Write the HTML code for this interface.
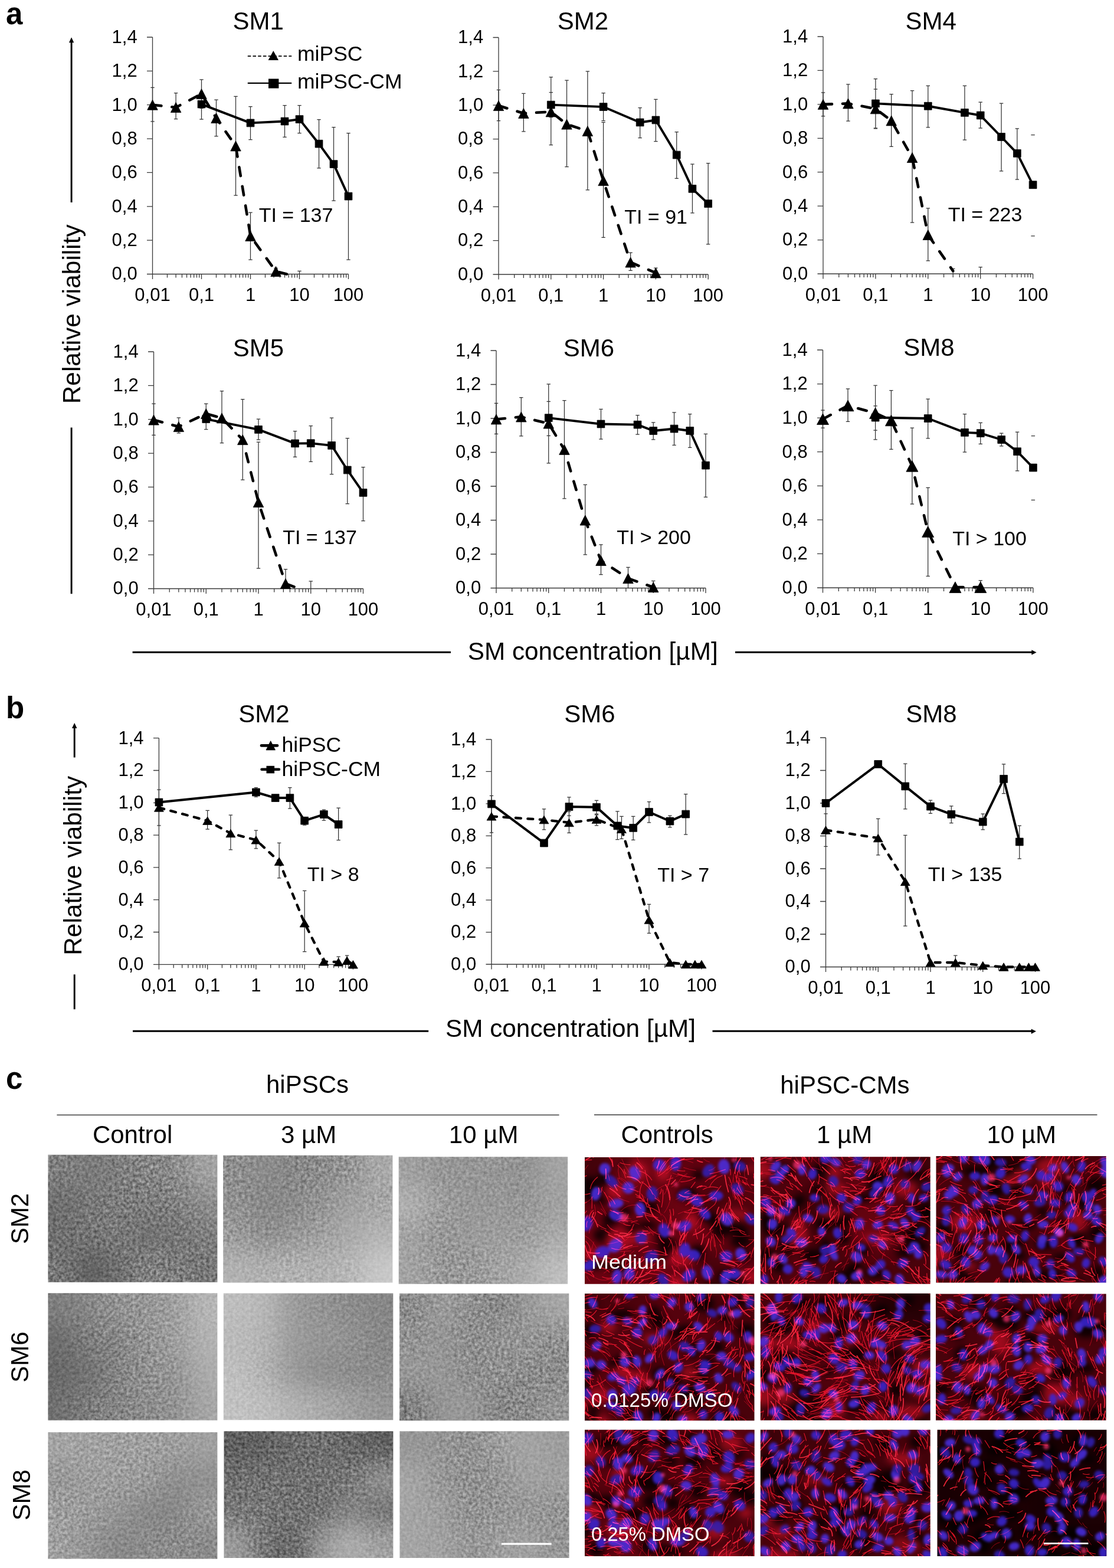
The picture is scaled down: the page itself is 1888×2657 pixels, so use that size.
<!DOCTYPE html>
<html><head><meta charset="utf-8"><title>Figure</title>
<style>html,body{margin:0;padding:0;background:#fff;overflow:hidden}svg{display:block}</style>
</head><body>
<svg xmlns="http://www.w3.org/2000/svg" width="1888" height="2657" viewBox="0 0 1888 2657">
<rect width="1888" height="2657" fill="#fff"/>
<g font-family="'Liberation Sans', Arial, sans-serif" fill="#000">
<path d="M258.5 63V464.5M258.5 464.5H590.5M249 464.5H258.5M249 407.14H258.5M249 349.79H258.5M249 292.43H258.5M249 235.07H258.5M249 177.71H258.5M249 120.36H258.5M249 63H258.5M258.5 464.5V473M283.49 464.5V470.5M298.1 464.5V470.5M308.47 464.5V470.5M316.51 464.5V470.5M323.09 464.5V470.5M328.64 464.5V470.5M333.46 464.5V470.5M337.7 464.5V470.5M341.5 464.5V473M366.49 464.5V470.5M381.1 464.5V470.5M391.47 464.5V470.5M399.51 464.5V470.5M406.09 464.5V470.5M411.64 464.5V470.5M416.46 464.5V470.5M420.7 464.5V470.5M424.5 464.5V473M449.49 464.5V470.5M464.1 464.5V470.5M474.47 464.5V470.5M482.51 464.5V470.5M489.09 464.5V470.5M494.64 464.5V470.5M499.46 464.5V470.5M503.7 464.5V470.5M507.5 464.5V473M532.49 464.5V470.5M547.1 464.5V470.5M557.47 464.5V470.5M565.51 464.5V470.5M572.09 464.5V470.5M577.64 464.5V470.5M582.46 464.5V470.5M586.7 464.5V470.5M590.5 464.5V473" stroke="#3a3a3a" stroke-width="1.3" fill="none"/>
<g font-size="31"><text x="232.7" y="474.3" text-anchor="end">0,0</text><text x="232.7" y="416.94" text-anchor="end">0,2</text><text x="232.7" y="359.59" text-anchor="end">0,4</text><text x="232.7" y="302.23" text-anchor="end">0,6</text><text x="232.7" y="244.87" text-anchor="end">0,8</text><text x="232.7" y="187.51" text-anchor="end">1,0</text><text x="232.7" y="130.16" text-anchor="end">1,2</text><text x="232.7" y="72.8" text-anchor="end">1,4</text><text x="258.5" y="510.3" text-anchor="middle">0,01</text><text x="341.5" y="510.3" text-anchor="middle">0,1</text><text x="424.5" y="510.3" text-anchor="middle">1</text><text x="507.5" y="510.3" text-anchor="middle">10</text><text x="590.5" y="510.3" text-anchor="middle">100</text></g>
<path d="M258.5 148.46V205.82M255.3 148.46h6.4M255.3 205.82h6.4M298.1 157.64V201.52M294.9 157.64h6.4M294.9 201.52h6.4M341.5 134.98V183.45M338.3 134.98h6.4M338.3 183.45h6.4M366.49 169.11V230.77M363.29 169.11h6.4M363.29 230.77h6.4M399.51 163.38V331.14M396.31 163.38h6.4M396.31 331.14h6.4M424.5 360.11V440.12M421.3 360.11h6.4M421.3 440.12h6.4M467.54 454.46V464.5M464.34 454.46h6.4M507.5 459.34V464.5M504.3 459.34h6.4M341.5 163.38V202.09M338.3 163.38h6.4M338.3 202.09h6.4M424.5 180.58V236.51M421.3 180.58h6.4M421.3 236.51h6.4M482.51 178.57V232.49M479.31 178.57h6.4M479.31 232.49h6.4M507.5 178.57V225.61M504.3 178.57h6.4M504.3 225.61h6.4M540.53 202.66V284.97M537.33 202.66h6.4M537.33 284.97h6.4M565.51 215.57V340.04M562.31 215.57h6.4M562.31 340.04h6.4M590.5 225.61V440.12M587.3 225.61h6.4M587.3 440.12h6.4" stroke="#333" stroke-width="1.25" fill="none"/>
<polyline points="258.5,177.71 298.1,182.02 341.5,159.07 366.49,200.08 399.51,247.4 424.5,399.97 467.54,459.91 485.95,464.5" fill="none" stroke="#000" stroke-width="4.6" stroke-dasharray="15 18" stroke-linecap="round" stroke-linejoin="round"/>
<polyline points="341.5,176.57 424.5,208.4 482.51,205.53 507.5,202.09 540.53,243.68 565.51,278.09 590.5,332.58" fill="none" stroke="#000" stroke-width="3.9" stroke-linejoin="round"/>
<path d="M258.5 169.21L267.25 186.21H249.75ZM298.1 173.52L306.85 190.52H289.35ZM341.5 150.57L350.25 167.57H332.75ZM366.49 191.58L375.24 208.58H357.74ZM399.51 238.9L408.26 255.9H390.76ZM424.5 391.47L433.25 408.47H415.75ZM467.54 451.41L476.29 468.41H458.79ZM335.1 170.17h12.8v12.8h-12.8ZM418.1 202h12.8v12.8h-12.8ZM476.11 199.13h12.8v12.8h-12.8ZM501.1 195.69h12.8v12.8h-12.8ZM534.13 237.28h12.8v12.8h-12.8ZM559.11 271.69h12.8v12.8h-12.8ZM584.1 326.18h12.8v12.8h-12.8Z" fill="#000" stroke="#000" stroke-width="0.8" stroke-linejoin="round"/>
<text x="437.6" y="49.7" text-anchor="middle" font-size="42">SM1</text>
<text x="438.7" y="375.9" font-size="34">TI = 137</text>
<path d="M845 63.5V465M845 465H1200.2M835.5 465H845M835.5 407.64H845M835.5 350.29H845M835.5 292.93H845M835.5 235.57H845M835.5 178.21H845M835.5 120.86H845M835.5 63.5H845M845 465V473.5M871.73 465V471M887.37 465V471M898.46 465V471M907.07 465V471M914.1 465V471M920.04 465V471M925.19 465V471M929.74 465V471M933.8 465V473.5M960.53 465V471M976.17 465V471M987.26 465V471M995.87 465V471M1002.9 465V471M1008.84 465V471M1013.99 465V471M1018.54 465V471M1022.6 465V473.5M1049.33 465V471M1064.97 465V471M1076.06 465V471M1084.67 465V471M1091.7 465V471M1097.64 465V471M1102.79 465V471M1107.34 465V471M1111.4 465V473.5M1138.13 465V471M1153.77 465V471M1164.86 465V471M1173.47 465V471M1180.5 465V471M1186.44 465V471M1191.59 465V471M1196.14 465V471M1200.2 465V473.5" stroke="#3a3a3a" stroke-width="1.3" fill="none"/>
<g font-size="31"><text x="819.2" y="474.8" text-anchor="end">0,0</text><text x="819.2" y="417.44" text-anchor="end">0,2</text><text x="819.2" y="360.09" text-anchor="end">0,4</text><text x="819.2" y="302.73" text-anchor="end">0,6</text><text x="819.2" y="245.37" text-anchor="end">0,8</text><text x="819.2" y="188.01" text-anchor="end">1,0</text><text x="819.2" y="130.66" text-anchor="end">1,2</text><text x="819.2" y="73.3" text-anchor="end">1,4</text><text x="845" y="510.8" text-anchor="middle">0,01</text><text x="933.8" y="510.8" text-anchor="middle">0,1</text><text x="1022.6" y="510.8" text-anchor="middle">1</text><text x="1111.4" y="510.8" text-anchor="middle">10</text><text x="1200.2" y="510.8" text-anchor="middle">100</text></g>
<path d="M845 152.4V204.6M841.8 152.4h6.4M841.8 204.6h6.4M887.37 158.43V222.95M884.17 158.43h6.4M884.17 222.95h6.4M933.8 130.61V245.61M930.6 130.61h6.4M930.6 245.61h6.4M960.53 136.06V282.6M957.33 136.06h6.4M957.33 282.6h6.4M995.87 120.86V321.89M992.67 120.86h6.4M992.67 321.89h6.4M1022.6 207.47V402.48M1019.4 207.47h6.4M1019.4 402.48h6.4M1068.64 428V458.4M1065.44 428h6.4M1065.44 458.4h6.4M1111.4 454.1V465M1108.2 454.1h6.4M933.8 156.71V198.58M930.6 156.71h6.4M930.6 198.58h6.4M1022.6 157.57V204.6M1019.4 157.57h6.4M1019.4 204.6h6.4M1084.67 182.52V233.56M1081.47 182.52h6.4M1081.47 233.56h6.4M1111.4 168.46V239.59M1108.2 168.46h6.4M1108.2 239.59h6.4M1146.74 223.53V302.39M1143.54 223.53h6.4M1143.54 302.39h6.4M1173.47 278.02V360.9M1170.27 278.02h6.4M1170.27 360.9h6.4M1200.2 276.58V413.95M1197 276.58h6.4M1197 413.95h6.4" stroke="#333" stroke-width="1.25" fill="none"/>
<polyline points="845,179.07 887.37,191.98 933.8,189.4 960.53,210.62 995.87,222.09 1022.6,306.12 1068.64,444.49 1111.4,462.42" fill="none" stroke="#000" stroke-width="4.6" stroke-dasharray="15 18" stroke-linecap="round" stroke-linejoin="round"/>
<polyline points="933.8,177.64 1022.6,181.08 1084.67,207.47 1111.4,203.45 1146.74,262.53 1173.47,319.89 1200.2,345.12" fill="none" stroke="#000" stroke-width="3.9" stroke-linejoin="round"/>
<path d="M845 170.57L853.75 187.57H836.25ZM887.37 183.48L896.12 200.48H878.62ZM933.8 180.9L942.55 197.9H925.05ZM960.53 202.12L969.28 219.12H951.78ZM995.87 213.59L1004.62 230.59H987.12ZM1022.6 297.62L1031.35 314.62H1013.85ZM1068.64 435.99L1077.39 452.99H1059.89ZM1111.4 453.92L1120.15 470.92H1102.65ZM927.4 171.24h12.8v12.8h-12.8ZM1016.2 174.68h12.8v12.8h-12.8ZM1078.27 201.07h12.8v12.8h-12.8ZM1105 197.05h12.8v12.8h-12.8ZM1140.34 256.13h12.8v12.8h-12.8ZM1167.07 313.49h12.8v12.8h-12.8ZM1193.8 338.72h12.8v12.8h-12.8Z" fill="#000" stroke="#000" stroke-width="0.8" stroke-linejoin="round"/>
<text x="988" y="50" text-anchor="middle" font-size="42">SM2</text>
<text x="1058.2" y="378.5" font-size="34">TI = 91</text>
<path d="M1395 62V464M1395 464H1750.6M1385.5 464H1395M1385.5 406.57H1395M1385.5 349.14H1395M1385.5 291.71H1395M1385.5 234.29H1395M1385.5 176.86H1395M1385.5 119.43H1395M1385.5 62H1395M1395 464V472.5M1421.76 464V470M1437.42 464V470M1448.52 464V470M1457.14 464V470M1464.18 464V470M1470.13 464V470M1475.28 464V470M1479.83 464V470M1483.9 464V472.5M1510.66 464V470M1526.32 464V470M1537.42 464V470M1546.04 464V470M1553.08 464V470M1559.03 464V470M1564.18 464V470M1568.73 464V470M1572.8 464V472.5M1599.56 464V470M1615.22 464V470M1626.32 464V470M1634.94 464V470M1641.98 464V470M1647.93 464V470M1653.08 464V470M1657.63 464V470M1661.7 464V472.5M1688.46 464V470M1704.12 464V470M1715.22 464V470M1723.84 464V470M1730.88 464V470M1736.83 464V470M1741.98 464V470M1746.53 464V470M1750.6 464V472.5" stroke="#3a3a3a" stroke-width="1.3" fill="none"/>
<g font-size="31"><text x="1369.2" y="473.8" text-anchor="end">0,0</text><text x="1369.2" y="416.37" text-anchor="end">0,2</text><text x="1369.2" y="358.94" text-anchor="end">0,4</text><text x="1369.2" y="301.51" text-anchor="end">0,6</text><text x="1369.2" y="244.09" text-anchor="end">0,8</text><text x="1369.2" y="186.66" text-anchor="end">1,0</text><text x="1369.2" y="129.23" text-anchor="end">1,2</text><text x="1369.2" y="71.8" text-anchor="end">1,4</text><text x="1395" y="509.8" text-anchor="middle">0,01</text><text x="1483.9" y="509.8" text-anchor="middle">0,1</text><text x="1572.8" y="509.8" text-anchor="middle">1</text><text x="1661.7" y="509.8" text-anchor="middle">10</text><text x="1750.6" y="509.8" text-anchor="middle">100</text></g>
<path d="M1395 156.76V196.96M1391.8 156.76h6.4M1391.8 196.96h6.4M1437.42 142.97V205M1434.22 142.97h6.4M1434.22 205h6.4M1483.9 151.01V217.06M1480.7 151.01h6.4M1480.7 217.06h6.4M1510.66 159.63V248.36M1507.46 159.63h6.4M1507.46 248.36h6.4M1546.04 153.6V377M1542.84 153.6h6.4M1542.84 377h6.4M1572.8 352.88V441.89M1569.6 352.88h6.4M1569.6 441.89h6.4M1615.22 455.39V464M1612.02 455.39h6.4M1661.7 452.51V464M1658.5 452.51h6.4M1483.9 133.5V217.92M1480.7 133.5h6.4M1480.7 217.92h6.4M1572.8 145.27V215.91M1569.6 145.27h6.4M1569.6 215.91h6.4M1634.94 145.27V237.16M1631.74 145.27h6.4M1631.74 237.16h6.4M1661.7 173.12V217.06M1658.5 173.12h6.4M1658.5 217.06h6.4M1697.08 175.13V289.99M1693.88 175.13h6.4M1693.88 289.99h6.4M1723.84 217.92V304.06M1720.64 217.92h6.4M1720.64 304.06h6.4M1747.4 228.54h6.4M1747.4 399.97h6.4" stroke="#333" stroke-width="1.25" fill="none"/>
<polyline points="1395,176.86 1437.42,175.42 1483.9,184.32 1510.66,204.42 1546.04,267.02 1572.8,397.96 1615.22,459.12" fill="none" stroke="#000" stroke-width="4.6" stroke-dasharray="15 18" stroke-linecap="round" stroke-linejoin="round"/>
<polyline points="1483.9,175.42 1572.8,179.73 1634.94,190.93 1661.7,195.52 1697.08,231.99 1723.84,259.84 1750.6,313.25" fill="none" stroke="#000" stroke-width="3.9" stroke-linejoin="round"/>
<path d="M1395 168.36L1403.75 185.36H1386.25ZM1437.42 166.92L1446.17 183.92H1428.67ZM1483.9 175.82L1492.65 192.82H1475.15ZM1510.66 195.92L1519.41 212.92H1501.91ZM1546.04 258.52L1554.79 275.52H1537.29ZM1572.8 389.46L1581.55 406.46H1564.05ZM1477.5 169.02h12.8v12.8h-12.8ZM1566.4 173.33h12.8v12.8h-12.8ZM1628.54 184.53h12.8v12.8h-12.8ZM1655.3 189.12h12.8v12.8h-12.8ZM1690.68 225.59h12.8v12.8h-12.8ZM1717.44 253.44h12.8v12.8h-12.8ZM1744.2 306.85h12.8v12.8h-12.8Z" fill="#000" stroke="#000" stroke-width="0.8" stroke-linejoin="round"/>
<text x="1577.8" y="50" text-anchor="middle" font-size="42">SM4</text>
<text x="1606.7" y="375" font-size="34">TI = 223</text>
<path d="M260.5 596V997.5M260.5 997.5H615.5M251 997.5H260.5M251 940.14H260.5M251 882.79H260.5M251 825.43H260.5M251 768.07H260.5M251 710.71H260.5M251 653.36H260.5M251 596H260.5M260.5 997.5V1006M287.22 997.5V1003.5M302.84 997.5V1003.5M313.93 997.5V1003.5M322.53 997.5V1003.5M329.56 997.5V1003.5M335.5 997.5V1003.5M340.65 997.5V1003.5M345.19 997.5V1003.5M349.25 997.5V1006M375.97 997.5V1003.5M391.59 997.5V1003.5M402.68 997.5V1003.5M411.28 997.5V1003.5M418.31 997.5V1003.5M424.25 997.5V1003.5M429.4 997.5V1003.5M433.94 997.5V1003.5M438 997.5V1006M464.72 997.5V1003.5M480.34 997.5V1003.5M491.43 997.5V1003.5M500.03 997.5V1003.5M507.06 997.5V1003.5M513 997.5V1003.5M518.15 997.5V1003.5M522.69 997.5V1003.5M526.75 997.5V1006M553.47 997.5V1003.5M569.09 997.5V1003.5M580.18 997.5V1003.5M588.78 997.5V1003.5M595.81 997.5V1003.5M601.75 997.5V1003.5M606.9 997.5V1003.5M611.44 997.5V1003.5M615.5 997.5V1006" stroke="#3a3a3a" stroke-width="1.3" fill="none"/>
<g font-size="31"><text x="234.7" y="1007.3" text-anchor="end">0,0</text><text x="234.7" y="949.94" text-anchor="end">0,2</text><text x="234.7" y="892.59" text-anchor="end">0,4</text><text x="234.7" y="835.23" text-anchor="end">0,6</text><text x="234.7" y="777.87" text-anchor="end">0,8</text><text x="234.7" y="720.51" text-anchor="end">1,0</text><text x="234.7" y="663.16" text-anchor="end">1,2</text><text x="234.7" y="605.8" text-anchor="end">1,4</text><text x="260.5" y="1043.3" text-anchor="middle">0,01</text><text x="349.25" y="1043.3" text-anchor="middle">0,1</text><text x="438" y="1043.3" text-anchor="middle">1</text><text x="526.75" y="1043.3" text-anchor="middle">10</text><text x="615.5" y="1043.3" text-anchor="middle">100</text></g>
<path d="M260.5 684.04V737.39M257.3 684.04h6.4M257.3 737.39h6.4M302.84 707.85V733.94M299.64 707.85h6.4M299.64 733.94h6.4M349.25 684.04V727.63M346.05 684.04h6.4M346.05 727.63h6.4M375.97 662.53V750.58M372.77 662.53h6.4M372.77 750.58h6.4M411.28 676.59V813.1M408.08 676.59h6.4M408.08 813.1h6.4M438 749.14V963.09M434.8 749.14h6.4M434.8 963.09h6.4M484.02 964.52V997.5M480.82 964.52h6.4M526.75 984.88V997.5M523.55 984.88h6.4M438 710.14V745.13M434.8 710.14h6.4M434.8 745.13h6.4M500.03 730.5V774.38M496.83 730.5h6.4M496.83 774.38h6.4M526.75 721.61V782.41M523.55 721.61h6.4M523.55 782.41h6.4M562.07 708.13V803.63M558.87 708.13h6.4M558.87 803.63h6.4M588.78 742.55V853.53M585.58 742.55h6.4M585.58 853.53h6.4M615.5 791.59V882.5M612.3 791.59h6.4M612.3 882.5h6.4" stroke="#333" stroke-width="1.25" fill="none"/>
<polyline points="260.5,711.57 302.84,723.05 349.25,700.96 375.97,708.42 411.28,745.13 438,850.95 484.02,988.9 507.06,997.5" fill="none" stroke="#000" stroke-width="4.6" stroke-dasharray="15 18" stroke-linecap="round" stroke-linejoin="round"/>
<polyline points="349.25,710.14 438,727.92 500.03,751.44 526.75,751.15 562.07,754.88 588.78,796.46 615.5,834.89" fill="none" stroke="#000" stroke-width="3.9" stroke-linejoin="round"/>
<path d="M260.5 703.07L269.25 720.07H251.75ZM302.84 714.55L311.59 731.55H294.09ZM349.25 692.46L358 709.46H340.5ZM375.97 699.92L384.72 716.92H367.22ZM411.28 736.63L420.03 753.63H402.53ZM438 842.45L446.75 859.45H429.25ZM484.02 980.4L492.77 997.4H475.27ZM342.85 703.74h12.8v12.8h-12.8ZM431.6 721.52h12.8v12.8h-12.8ZM493.63 745.04h12.8v12.8h-12.8ZM520.35 744.75h12.8v12.8h-12.8ZM555.67 748.48h12.8v12.8h-12.8ZM582.38 790.06h12.8v12.8h-12.8ZM609.1 828.49h12.8v12.8h-12.8Z" fill="#000" stroke="#000" stroke-width="0.8" stroke-linejoin="round"/>
<text x="438" y="603.5" text-anchor="middle" font-size="42">SM5</text>
<text x="479.2" y="921.5" font-size="34">TI = 137</text>
<path d="M841 594V996.5M841 996.5H1196M831.5 996.5H841M831.5 939H841M831.5 881.5H841M831.5 824H841M831.5 766.5H841M831.5 709H841M831.5 651.5H841M831.5 594H841M841 996.5V1005M867.72 996.5V1002.5M883.34 996.5V1002.5M894.43 996.5V1002.5M903.03 996.5V1002.5M910.06 996.5V1002.5M916 996.5V1002.5M921.15 996.5V1002.5M925.69 996.5V1002.5M929.75 996.5V1005M956.47 996.5V1002.5M972.09 996.5V1002.5M983.18 996.5V1002.5M991.78 996.5V1002.5M998.81 996.5V1002.5M1004.75 996.5V1002.5M1009.9 996.5V1002.5M1014.44 996.5V1002.5M1018.5 996.5V1005M1045.22 996.5V1002.5M1060.84 996.5V1002.5M1071.93 996.5V1002.5M1080.53 996.5V1002.5M1087.56 996.5V1002.5M1093.5 996.5V1002.5M1098.65 996.5V1002.5M1103.19 996.5V1002.5M1107.25 996.5V1005M1133.97 996.5V1002.5M1149.59 996.5V1002.5M1160.68 996.5V1002.5M1169.28 996.5V1002.5M1176.31 996.5V1002.5M1182.25 996.5V1002.5M1187.4 996.5V1002.5M1191.94 996.5V1002.5M1196 996.5V1005" stroke="#3a3a3a" stroke-width="1.3" fill="none"/>
<g font-size="31"><text x="815.2" y="1006.3" text-anchor="end">0,0</text><text x="815.2" y="948.8" text-anchor="end">0,2</text><text x="815.2" y="891.3" text-anchor="end">0,4</text><text x="815.2" y="833.8" text-anchor="end">0,6</text><text x="815.2" y="776.3" text-anchor="end">0,8</text><text x="815.2" y="718.8" text-anchor="end">1,0</text><text x="815.2" y="661.3" text-anchor="end">1,2</text><text x="815.2" y="603.8" text-anchor="end">1,4</text><text x="841" y="1042.3" text-anchor="middle">0,01</text><text x="929.75" y="1042.3" text-anchor="middle">0,1</text><text x="1018.5" y="1042.3" text-anchor="middle">1</text><text x="1107.25" y="1042.3" text-anchor="middle">10</text><text x="1196" y="1042.3" text-anchor="middle">100</text></g>
<path d="M841 683.41V735.45M837.8 683.41h6.4M837.8 735.45h6.4M883.34 673.64V738.9M880.14 673.64h6.4M880.14 738.9h6.4M929.75 650.92V784.9M926.55 650.92h6.4M926.55 784.9h6.4M956.47 678.52V844.99M953.27 678.52h6.4M953.27 844.99h6.4M991.78 821.41V939.86M988.58 821.41h6.4M988.58 939.86h6.4M1018.5 922.9V973.5M1015.3 922.9h6.4M1015.3 973.5h6.4M1064.52 961.42V996.5M1061.32 961.42h6.4M1107.25 984.42V996.5M1104.05 984.42h6.4M929.75 680.25V738.33M926.55 680.25h6.4M926.55 738.33h6.4M1018.5 693.47V744.08M1015.3 693.47h6.4M1015.3 744.08h6.4M1080.53 703.54V736.02M1077.33 703.54h6.4M1077.33 736.02h6.4M1107.25 715.9V744.94M1104.05 715.9h6.4M1104.05 744.94h6.4M1142.57 698.94V754.42M1139.37 698.94h6.4M1139.37 754.42h6.4M1169.28 701.52V758.45M1166.08 701.52h6.4M1166.08 758.45h6.4M1196 735.45V842.4M1192.8 735.45h6.4M1192.8 842.4h6.4" stroke="#333" stroke-width="1.25" fill="none"/>
<polyline points="841,710.44 883.34,706.41 929.75,717.62 956.47,761.9 991.78,881.5 1018.5,949.92 1064.52,980.11 1107.25,995.06" fill="none" stroke="#000" stroke-width="4.6" stroke-dasharray="15 18" stroke-linecap="round" stroke-linejoin="round"/>
<polyline points="929.75,708.14 1018.5,718.49 1080.53,719.64 1107.25,729.99 1142.57,726.54 1169.28,729.99 1196,788.64" fill="none" stroke="#000" stroke-width="3.9" stroke-linejoin="round"/>
<path d="M841 701.94L849.75 718.94H832.25ZM883.34 697.91L892.09 714.91H874.59ZM929.75 709.12L938.5 726.12H921ZM956.47 753.4L965.22 770.4H947.72ZM991.78 873L1000.53 890H983.03ZM1018.5 941.42L1027.25 958.42H1009.75ZM1064.52 971.61L1073.27 988.61H1055.77ZM1107.25 986.56L1116 1003.56H1098.5ZM923.35 701.74h12.8v12.8h-12.8ZM1012.1 712.09h12.8v12.8h-12.8ZM1074.13 713.24h12.8v12.8h-12.8ZM1100.85 723.59h12.8v12.8h-12.8ZM1136.17 720.14h12.8v12.8h-12.8ZM1162.88 723.59h12.8v12.8h-12.8ZM1189.6 782.24h12.8v12.8h-12.8Z" fill="#000" stroke="#000" stroke-width="0.8" stroke-linejoin="round"/>
<text x="998" y="604" text-anchor="middle" font-size="42">SM6</text>
<text x="1045.2" y="921.5" font-size="34">TI &gt; 200</text>
<path d="M1394.5 593V996M1394.5 996H1750.9M1385 996H1394.5M1385 938.43H1394.5M1385 880.86H1394.5M1385 823.29H1394.5M1385 765.71H1394.5M1385 708.14H1394.5M1385 650.57H1394.5M1385 593H1394.5M1394.5 996V1004.5M1421.32 996V1002M1437.01 996V1002M1448.14 996V1002M1456.78 996V1002M1463.83 996V1002M1469.8 996V1002M1474.97 996V1002M1479.52 996V1002M1483.6 996V1004.5M1510.42 996V1002M1526.11 996V1002M1537.24 996V1002M1545.88 996V1002M1552.93 996V1002M1558.9 996V1002M1564.07 996V1002M1568.62 996V1002M1572.7 996V1004.5M1599.52 996V1002M1615.21 996V1002M1626.34 996V1002M1634.98 996V1002M1642.03 996V1002M1648 996V1002M1653.17 996V1002M1657.72 996V1002M1661.8 996V1004.5M1688.62 996V1002M1704.31 996V1002M1715.44 996V1002M1724.08 996V1002M1731.13 996V1002M1737.1 996V1002M1742.27 996V1002M1746.82 996V1002M1750.9 996V1004.5" stroke="#3a3a3a" stroke-width="1.3" fill="none"/>
<g font-size="31"><text x="1368.7" y="1005.8" text-anchor="end">0,0</text><text x="1368.7" y="948.23" text-anchor="end">0,2</text><text x="1368.7" y="890.66" text-anchor="end">0,4</text><text x="1368.7" y="833.09" text-anchor="end">0,6</text><text x="1368.7" y="775.51" text-anchor="end">0,8</text><text x="1368.7" y="717.94" text-anchor="end">1,0</text><text x="1368.7" y="660.37" text-anchor="end">1,2</text><text x="1368.7" y="602.8" text-anchor="end">1,4</text><text x="1394.5" y="1041.8" text-anchor="middle">0,01</text><text x="1483.6" y="1041.8" text-anchor="middle">0,1</text><text x="1572.7" y="1041.8" text-anchor="middle">1</text><text x="1661.8" y="1041.8" text-anchor="middle">10</text><text x="1750.9" y="1041.8" text-anchor="middle">100</text></g>
<path d="M1394.5 695.19V725.13M1391.3 695.19h6.4M1391.3 725.13h6.4M1437.01 658.92V714.48M1433.81 658.92h6.4M1433.81 714.48h6.4M1483.6 653.16V744.99M1480.4 653.16h6.4M1480.4 744.99h6.4M1510.42 661.51V761.4M1507.22 661.51h6.4M1507.22 761.4h6.4M1545.88 725.13V854.09M1542.68 725.13h6.4M1542.68 854.09h6.4M1572.7 826.45V976.43M1569.5 826.45h6.4M1569.5 976.43h6.4M1661.8 983.62V996M1658.6 983.62h6.4M1483.6 687.99V729.16M1480.4 687.99h6.4M1480.4 729.16h6.4M1572.7 676.19V742.97M1569.5 676.19h6.4M1569.5 742.97h6.4M1634.98 701.52V766M1631.78 701.52h6.4M1631.78 766h6.4M1661.8 716.49V752.47M1658.6 716.49h6.4M1658.6 752.47h6.4M1697.26 734.05V755.93M1694.06 734.05h6.4M1694.06 755.93h6.4M1724.08 732.03V797.95M1720.88 732.03h6.4M1720.88 797.95h6.4M1747.7 738.66h6.4M1747.7 847.47h6.4" stroke="#333" stroke-width="1.25" fill="none"/>
<polyline points="1394.5,710.16 1437.01,687.42 1483.6,700.08 1510.42,712.46 1545.88,789.89 1572.7,901.01 1618.9,995.14 1661.8,995.14" fill="none" stroke="#000" stroke-width="4.6" stroke-dasharray="15 18" stroke-linecap="round" stroke-linejoin="round"/>
<polyline points="1483.6,707.57 1572.7,709.01 1634.98,732.9 1661.8,734.05 1697.26,744.99 1724.08,765.14 1750.9,792.49" fill="none" stroke="#000" stroke-width="3.9" stroke-linejoin="round"/>
<path d="M1394.5 700.86L1404.5 719.46H1384.5ZM1437.01 678.12L1447.01 696.72H1427.01ZM1483.6 690.78L1493.6 709.38H1473.6ZM1510.42 703.16L1520.42 721.76H1500.42ZM1545.88 780.59L1555.88 799.19H1535.88ZM1572.7 891.71L1582.7 910.31H1562.7ZM1618.9 985.84L1628.9 1004.44H1608.9ZM1661.8 985.84L1671.8 1004.44H1651.8ZM1477.2 701.17h12.8v12.8h-12.8ZM1566.3 702.61h12.8v12.8h-12.8ZM1628.58 726.5h12.8v12.8h-12.8ZM1655.4 727.65h12.8v12.8h-12.8ZM1690.86 738.59h12.8v12.8h-12.8ZM1717.68 758.74h12.8v12.8h-12.8ZM1744.5 786.09h12.8v12.8h-12.8Z" fill="#000" stroke="#000" stroke-width="0.8" stroke-linejoin="round"/>
<text x="1574.5" y="602.5" text-anchor="middle" font-size="42">SM8</text>
<text x="1614.2" y="924" font-size="34">TI &gt; 100</text>
<path d="M269.4 1250.7V1634.3M269.4 1634.3H598.4M259.9 1634.3H269.4M259.9 1579.5H269.4M259.9 1524.7H269.4M259.9 1469.9H269.4M259.9 1415.1H269.4M259.9 1360.3H269.4M259.9 1305.5H269.4M259.9 1250.7H269.4M269.4 1634.3V1642.8M294.16 1634.3V1640.3M308.64 1634.3V1640.3M318.92 1634.3V1640.3M326.89 1634.3V1640.3M333.4 1634.3V1640.3M338.91 1634.3V1640.3M343.68 1634.3V1640.3M347.89 1634.3V1640.3M351.65 1634.3V1642.8M376.41 1634.3V1640.3M390.89 1634.3V1640.3M401.17 1634.3V1640.3M409.14 1634.3V1640.3M415.65 1634.3V1640.3M421.16 1634.3V1640.3M425.93 1634.3V1640.3M430.14 1634.3V1640.3M433.9 1634.3V1642.8M458.66 1634.3V1640.3M473.14 1634.3V1640.3M483.42 1634.3V1640.3M491.39 1634.3V1640.3M497.9 1634.3V1640.3M503.41 1634.3V1640.3M508.18 1634.3V1640.3M512.39 1634.3V1640.3M516.15 1634.3V1642.8M540.91 1634.3V1640.3M555.39 1634.3V1640.3M565.67 1634.3V1640.3M573.64 1634.3V1640.3M580.15 1634.3V1640.3M585.66 1634.3V1640.3M590.43 1634.3V1640.3M594.64 1634.3V1640.3M598.4 1634.3V1642.8" stroke="#3a3a3a" stroke-width="1.3" fill="none"/>
<g font-size="31"><text x="243.6" y="1644.1" text-anchor="end">0,0</text><text x="243.6" y="1589.3" text-anchor="end">0,2</text><text x="243.6" y="1534.5" text-anchor="end">0,4</text><text x="243.6" y="1479.7" text-anchor="end">0,6</text><text x="243.6" y="1424.9" text-anchor="end">0,8</text><text x="243.6" y="1370.1" text-anchor="end">1,0</text><text x="243.6" y="1315.3" text-anchor="end">1,2</text><text x="243.6" y="1260.5" text-anchor="end">1,4</text><text x="269.4" y="1680.1" text-anchor="middle">0,01</text><text x="351.65" y="1680.1" text-anchor="middle">0,1</text><text x="433.9" y="1680.1" text-anchor="middle">1</text><text x="516.15" y="1680.1" text-anchor="middle">10</text><text x="598.4" y="1680.1" text-anchor="middle">100</text></g>
<path d="M351.65 1373.45V1405.24M348.45 1373.45h6.4M348.45 1405.24h6.4M390.89 1381.12V1439.76M387.69 1381.12h6.4M387.69 1439.76h6.4M433.9 1407.15V1437.84M430.7 1407.15h6.4M430.7 1437.84h6.4M473.14 1428.25V1487.98M469.94 1428.25h6.4M469.94 1487.98h6.4M516.15 1509.36V1612.65M512.95 1509.36h6.4M512.95 1612.65h6.4M573.64 1621.15V1634.3M570.44 1621.15h6.4M588.12 1619.23V1634.3M584.92 1619.23h6.4M269.4 1338.11V1398.93M266.2 1338.11h6.4M266.2 1398.93h6.4M433.9 1334.54V1350.44M430.7 1334.54h6.4M430.7 1350.44h6.4M466.63 1346.6V1357.56M463.43 1346.6h6.4M463.43 1357.56h6.4M491.39 1334.54V1370.16M488.19 1334.54h6.4M488.19 1370.16h6.4M516.15 1384.69V1398.11M512.95 1384.69h6.4M512.95 1398.11h6.4M548.88 1372.08V1390.17M545.68 1372.08h6.4M545.68 1390.17h6.4M573.64 1369.07V1423.59M570.44 1369.07h6.4M570.44 1423.59h6.4" stroke="#333" stroke-width="1.25" fill="none"/>
<polyline points="269.4,1368.52 351.65,1390.71 390.89,1412.09 433.9,1423.32 473.14,1459.76 516.15,1564.16 548.88,1629.37 573.64,1630.19 588.12,1627.72 598.4,1634.3" fill="none" stroke="#000" stroke-width="4.3" stroke-dasharray="9 11.5" stroke-linecap="round" stroke-linejoin="round"/>
<polyline points="269.4,1359.48 433.9,1342.49 466.63,1352.08 491.39,1352.08 516.15,1390.71 548.88,1380.03 573.64,1397.02" fill="none" stroke="#000" stroke-width="4.0" stroke-linejoin="round"/>
<path d="M269.4 1361.77L277.35 1375.27H261.45ZM351.65 1383.96L359.6 1397.46H343.7ZM390.89 1405.34L398.84 1418.84H382.94ZM433.9 1416.57L441.85 1430.07H425.95ZM473.14 1453.01L481.09 1466.51H465.19ZM516.15 1557.41L524.1 1570.91H508.2ZM548.88 1622.62L556.83 1636.12H540.93ZM573.64 1623.44L581.59 1636.94H565.69ZM588.12 1620.97L596.07 1634.47H580.17ZM598.4 1627.55L606.35 1641.05H590.45ZM263 1353.08h12.8v12.8h-12.8ZM427.5 1336.09h12.8v12.8h-12.8ZM460.23 1345.68h12.8v12.8h-12.8ZM484.99 1345.68h12.8v12.8h-12.8ZM509.75 1384.31h12.8v12.8h-12.8ZM542.48 1373.63h12.8v12.8h-12.8ZM567.24 1390.62h12.8v12.8h-12.8Z" fill="#000" stroke="#000" stroke-width="0.8" stroke-linejoin="round"/>
<text x="447.5" y="1223.5" text-anchor="middle" font-size="42">SM2</text>
<text x="520.7" y="1492.5" font-size="34">TI &gt; 8</text>
<path d="M833 1253V1634M833 1634H1189M823.5 1634H833M823.5 1579.57H833M823.5 1525.14H833M823.5 1470.71H833M823.5 1416.29H833M823.5 1361.86H833M823.5 1307.43H833M823.5 1253H833M833 1634V1642.5M859.79 1634V1640M875.46 1634V1640M886.58 1634V1640M895.21 1634V1640M902.26 1634V1640M908.21 1634V1640M913.38 1634V1640M917.93 1634V1640M922 1634V1642.5M948.79 1634V1640M964.46 1634V1640M975.58 1634V1640M984.21 1634V1640M991.26 1634V1640M997.21 1634V1640M1002.38 1634V1640M1006.93 1634V1640M1011 1634V1642.5M1037.79 1634V1640M1053.46 1634V1640M1064.58 1634V1640M1073.21 1634V1640M1080.26 1634V1640M1086.21 1634V1640M1091.38 1634V1640M1095.93 1634V1640M1100 1634V1642.5M1126.79 1634V1640M1142.46 1634V1640M1153.58 1634V1640M1162.21 1634V1640M1169.26 1634V1640M1175.21 1634V1640M1180.38 1634V1640M1184.93 1634V1640M1189 1634V1642.5" stroke="#3a3a3a" stroke-width="1.3" fill="none"/>
<g font-size="31"><text x="807.2" y="1643.8" text-anchor="end">0,0</text><text x="807.2" y="1589.37" text-anchor="end">0,2</text><text x="807.2" y="1534.94" text-anchor="end">0,4</text><text x="807.2" y="1480.51" text-anchor="end">0,6</text><text x="807.2" y="1426.09" text-anchor="end">0,8</text><text x="807.2" y="1371.66" text-anchor="end">1,0</text><text x="807.2" y="1317.23" text-anchor="end">1,2</text><text x="807.2" y="1262.8" text-anchor="end">1,4</text><text x="833" y="1679.8" text-anchor="middle">0,01</text><text x="922" y="1679.8" text-anchor="middle">0,1</text><text x="1011" y="1679.8" text-anchor="middle">1</text><text x="1100" y="1679.8" text-anchor="middle">10</text><text x="1189" y="1679.8" text-anchor="middle">100</text></g>
<path d="M922 1370.84V1405.94M918.8 1370.84h6.4M918.8 1405.94h6.4M964.46 1375.46V1411.39M961.26 1375.46h6.4M961.26 1411.39h6.4M1011 1380.91V1398.87M1007.8 1380.91h6.4M1007.8 1398.87h6.4M1053.46 1383.36V1421.46M1050.26 1383.36h6.4M1050.26 1421.46h6.4M1100 1532.49V1581.48M1096.8 1532.49h6.4M1096.8 1581.48h6.4M833 1348.25V1410.84M829.8 1348.25h6.4M829.8 1410.84h6.4M964.46 1350.97V1382M961.26 1350.97h6.4M961.26 1382h6.4M1011 1356.41V1379.27M1007.8 1356.41h6.4M1007.8 1379.27h6.4M1046.42 1374.92V1422.55M1043.22 1374.92h6.4M1043.22 1422.55h6.4M1073.21 1383.36V1423.36M1070.01 1383.36h6.4M1070.01 1423.36h6.4M1100 1358.59V1393.97M1096.8 1358.59h6.4M1096.8 1393.97h6.4M1135.42 1382V1401.86M1132.22 1382h6.4M1132.22 1401.86h6.4M1162.21 1345.53V1414.11M1159.01 1345.53h6.4M1159.01 1414.11h6.4" stroke="#333" stroke-width="1.25" fill="none"/>
<polyline points="833,1383.36 922,1389.07 964.46,1393.97 1011,1388.53 1053.46,1404.86 1100,1558.62 1135.42,1631.01 1162.21,1634 1177.88,1634 1189,1634" fill="none" stroke="#000" stroke-width="4.3" stroke-dasharray="9 11.5" stroke-linecap="round" stroke-linejoin="round"/>
<polyline points="833,1362.4 922,1428.53 964.46,1367.03 1011,1367.84 1046.42,1399.41 1073.21,1402.95 1100,1376.01 1135.42,1391.52 1162.21,1379.55" fill="none" stroke="#000" stroke-width="4.0" stroke-linejoin="round"/>
<path d="M833 1376.61L840.95 1390.11H825.05ZM922 1382.32L929.95 1395.82H914.05ZM964.46 1387.22L972.41 1400.72H956.51ZM1011 1381.78L1018.95 1395.28H1003.05ZM1053.46 1398.11L1061.41 1411.61H1045.51ZM1100 1551.87L1107.95 1565.37H1092.05ZM1135.42 1624.26L1143.37 1637.76H1127.47ZM1162.21 1627.25L1170.16 1640.75H1154.26ZM1177.88 1627.25L1185.83 1640.75H1169.93ZM1189 1627.25L1196.95 1640.75H1181.05ZM826.6 1356h12.8v12.8h-12.8ZM915.6 1422.13h12.8v12.8h-12.8ZM958.06 1360.63h12.8v12.8h-12.8ZM1004.6 1361.44h12.8v12.8h-12.8ZM1040.02 1393.01h12.8v12.8h-12.8ZM1066.81 1396.55h12.8v12.8h-12.8ZM1093.6 1369.61h12.8v12.8h-12.8ZM1129.02 1385.12h12.8v12.8h-12.8ZM1155.81 1373.15h12.8v12.8h-12.8Z" fill="#000" stroke="#000" stroke-width="0.8" stroke-linejoin="round"/>
<text x="999.5" y="1223.5" text-anchor="middle" font-size="42">SM6</text>
<text x="1114.2" y="1494" font-size="34">TI &gt; 7</text>
<path d="M1399.5 1250V1638.5M1399.5 1638.5H1754.5M1390 1638.5H1399.5M1390 1583H1399.5M1390 1527.5H1399.5M1390 1472H1399.5M1390 1416.5H1399.5M1390 1361H1399.5M1390 1305.5H1399.5M1390 1250H1399.5M1399.5 1638.5V1647M1426.22 1638.5V1644.5M1441.84 1638.5V1644.5M1452.93 1638.5V1644.5M1461.53 1638.5V1644.5M1468.56 1638.5V1644.5M1474.5 1638.5V1644.5M1479.65 1638.5V1644.5M1484.19 1638.5V1644.5M1488.25 1638.5V1647M1514.97 1638.5V1644.5M1530.59 1638.5V1644.5M1541.68 1638.5V1644.5M1550.28 1638.5V1644.5M1557.31 1638.5V1644.5M1563.25 1638.5V1644.5M1568.4 1638.5V1644.5M1572.94 1638.5V1644.5M1577 1638.5V1647M1603.72 1638.5V1644.5M1619.34 1638.5V1644.5M1630.43 1638.5V1644.5M1639.03 1638.5V1644.5M1646.06 1638.5V1644.5M1652 1638.5V1644.5M1657.15 1638.5V1644.5M1661.69 1638.5V1644.5M1665.75 1638.5V1647M1692.47 1638.5V1644.5M1708.09 1638.5V1644.5M1719.18 1638.5V1644.5M1727.78 1638.5V1644.5M1734.81 1638.5V1644.5M1740.75 1638.5V1644.5M1745.9 1638.5V1644.5M1750.44 1638.5V1644.5M1754.5 1638.5V1647" stroke="#3a3a3a" stroke-width="1.3" fill="none"/>
<g font-size="31"><text x="1373.7" y="1648.3" text-anchor="end">0,0</text><text x="1373.7" y="1592.8" text-anchor="end">0,2</text><text x="1373.7" y="1537.3" text-anchor="end">0,4</text><text x="1373.7" y="1481.8" text-anchor="end">0,6</text><text x="1373.7" y="1426.3" text-anchor="end">0,8</text><text x="1373.7" y="1370.8" text-anchor="end">1,0</text><text x="1373.7" y="1315.3" text-anchor="end">1,2</text><text x="1373.7" y="1259.8" text-anchor="end">1,4</text><text x="1399.5" y="1684.3" text-anchor="middle">0,01</text><text x="1488.25" y="1684.3" text-anchor="middle">0,1</text><text x="1577" y="1684.3" text-anchor="middle">1</text><text x="1665.75" y="1684.3" text-anchor="middle">10</text><text x="1754.5" y="1684.3" text-anchor="middle">100</text></g>
<path d="M1399.5 1378.76V1434.26M1396.3 1378.76h6.4M1396.3 1434.26h6.4M1488.25 1387.36V1448.97M1485.05 1387.36h6.4M1485.05 1448.97h6.4M1534.27 1415.39V1569.12M1531.07 1415.39h6.4M1531.07 1569.12h6.4M1619.34 1619.08V1638.5M1616.14 1619.08h6.4M1534.27 1294.12V1370.99M1531.07 1294.12h6.4M1531.07 1370.99h6.4M1577 1356.01V1378.48M1573.8 1356.01h6.4M1573.8 1378.48h6.4M1612.32 1365.99V1394.58M1609.12 1365.99h6.4M1609.12 1394.58h6.4M1665.75 1379.04V1405.95M1662.55 1379.04h6.4M1662.55 1405.95h6.4M1701.07 1294.95V1344.63M1697.87 1294.95h6.4M1697.87 1344.63h6.4M1727.78 1399.02V1455.07M1724.58 1399.02h6.4M1724.58 1455.07h6.4" stroke="#333" stroke-width="1.25" fill="none"/>
<polyline points="1399.5,1406.51 1488.25,1420.11 1534.27,1493.92 1577,1631.01 1619.34,1631.01 1665.75,1636 1701.07,1638.5 1727.78,1638.5 1743.41,1638.5 1754.5,1638.5" fill="none" stroke="#000" stroke-width="4.3" stroke-dasharray="9 11.5" stroke-linecap="round" stroke-linejoin="round"/>
<polyline points="1399.5,1361 1488.25,1294.95 1534.27,1332.42 1577,1366.55 1612.32,1379.87 1665.75,1392.63 1701.07,1319.93 1727.78,1426.49" fill="none" stroke="#000" stroke-width="4.0" stroke-linejoin="round"/>
<path d="M1399.5 1399.76L1407.45 1413.26H1391.55ZM1488.25 1413.36L1496.2 1426.86H1480.3ZM1534.27 1487.17L1542.22 1500.67H1526.32ZM1577 1624.26L1584.95 1637.76H1569.05ZM1619.34 1624.26L1627.29 1637.76H1611.39ZM1665.75 1629.25L1673.7 1642.75H1657.8ZM1701.07 1631.75L1709.02 1645.25H1693.12ZM1727.78 1631.75L1735.73 1645.25H1719.83ZM1743.41 1631.75L1751.36 1645.25H1735.46ZM1754.5 1631.75L1762.45 1645.25H1746.55ZM1393.1 1354.6h12.8v12.8h-12.8ZM1481.85 1288.55h12.8v12.8h-12.8ZM1527.87 1326.02h12.8v12.8h-12.8ZM1570.6 1360.15h12.8v12.8h-12.8ZM1605.92 1373.47h12.8v12.8h-12.8ZM1659.35 1386.23h12.8v12.8h-12.8ZM1694.67 1313.53h12.8v12.8h-12.8ZM1721.38 1420.09h12.8v12.8h-12.8Z" fill="#000" stroke="#000" stroke-width="0.8" stroke-linejoin="round"/>
<text x="1578.5" y="1224" text-anchor="middle" font-size="42">SM8</text>
<text x="1572.7" y="1492.5" font-size="34">TI &gt; 135</text>
<path d="M419.8 95.1H494.2" stroke="#000" stroke-width="1.8" stroke-dasharray="5.5 3.2"/>
<path d="M463.3 85.9L472 102.1H454.6Z" fill="#000"/>
<path d="M419.8 140.9H494.2" stroke="#000" stroke-width="2.3"/>
<rect x="455" y="133.5" width="17.4" height="16.1" fill="#000"/>
<text x="504" y="102.9" font-size="35.5">miPSC</text>
<text x="504" y="150.2" font-size="35.5">miPSC-CM</text>
<path d="M443 1263.4H470" stroke="#000" stroke-width="4.6" stroke-linecap="round"/>
<path d="M458.7 1255.6L466.5 1270.9H451Z" fill="#000" stroke="#000" stroke-width="0.8" stroke-linejoin="round"/>
<path d="M443.5 1303.7H473" stroke="#000" stroke-width="4.4" stroke-linecap="round"/>
<rect x="451.5" y="1297.8" width="13.6" height="12.6" fill="#000"/>
<text x="477.5" y="1273.7" font-size="35.5">hiPSC</text>
<text x="477.5" y="1314.8" font-size="35.5">hiPSC-CM</text>
<text x="10" y="40.5" font-size="51" font-weight="bold">a</text>
<text x="10" y="1217.1" font-size="51" font-weight="bold">b</text>
<text x="10" y="1845" font-size="51" font-weight="bold">c</text>
<path d="M121.1 72V342.9M121.1 724.6V1006.3" stroke="#000" stroke-width="2.9"/>
<path d="M121.1 63.3L125.3 72.3H116.9Z" fill="#000"/>
<text transform="translate(136.3 532.3) rotate(-90)" text-anchor="middle" font-size="42.4">Relative viability</text>
<path d="M224.6 1105.3H764M1246 1105.3H1749" stroke="#000" stroke-width="2.9"/>
<path d="M1756.6 1105.4L1748.3 1101.2V1109.8Z" fill="#000"/>
<text x="1004.7" y="1118" text-anchor="middle" font-size="42.3">SM concentration [µM]</text>
<path d="M126.2 1233V1283.6M126.2 1651.2V1710.3" stroke="#000" stroke-width="2.9"/>
<path d="M126.2 1224.9L130.4 1233.9H122Z" fill="#000"/>
<text transform="translate(138.3 1466.8) rotate(-90)" text-anchor="middle" font-size="42.4">Relative viability</text>
<path d="M225 1747.3H726.2M1207.5 1747.3H1748" stroke="#000" stroke-width="2.9"/>
<path d="M1756 1747.6L1747.7 1743.4V1752Z" fill="#000"/>
<text x="967" y="1757" text-anchor="middle" font-size="42.3">SM concentration [µM]</text>
</g>
<defs><filter color-interpolation-filters="sRGB" id="gblur" x="-10%" y="-10%" width="120%" height="120%"><feGaussianBlur stdDeviation="20"/></filter>
<filter color-interpolation-filters="sRGB" id="pcnoise" x="0" y="0" width="100%" height="100%"><feTurbulence type="fractalNoise" baseFrequency="0.09" numOctaves="3" seed="3"/><feColorMatrix type="matrix" values="1 0 0 0 0  1 0 0 0 0  1 0 0 0 0  0 0 0 0 1"/></filter>
<filter color-interpolation-filters="sRGB" id="hblur" x="-10%" y="-10%" width="120%" height="120%"><feGaussianBlur stdDeviation="16"/></filter><filter color-interpolation-filters="sRGB" id="dblur" x="-50%" y="-50%" width="200%" height="200%"><feGaussianBlur stdDeviation="6"/></filter>
<filter color-interpolation-filters="sRGB" id="nblur" x="-10%" y="-10%" width="120%" height="120%"><feGaussianBlur stdDeviation="2"/></filter>
<filter color-interpolation-filters="sRGB" id="fblur" x="-10%" y="-10%" width="120%" height="120%"><feGaussianBlur stdDeviation="0.5"/></filter>
<clipPath id="c1"><rect x="81.4" y="1956.7" width="287" height="216.1"/></clipPath>
<mask id="m1" maskUnits="userSpaceOnUse" x="81.4" y="1956.7" width="287" height="216.1"><g filter="url(#gblur)"><rect x="33.1" y="1902.2" width="48.8" height="55" fill="#cccccc"/><rect x="80.9" y="1902.2" width="48.8" height="55" fill="#cccccc"/><rect x="128.7" y="1902.2" width="48.8" height="55" fill="#808080"/><rect x="176.6" y="1902.2" width="48.8" height="55" fill="#cccccc"/><rect x="224.4" y="1902.2" width="48.8" height="55" fill="#ffffff"/><rect x="272.2" y="1902.2" width="48.8" height="55" fill="#ffffff"/><rect x="320.1" y="1902.2" width="48.8" height="55" fill="#999999"/><rect x="367.9" y="1902.2" width="48.8" height="55" fill="#999999"/><rect x="33.1" y="1956.2" width="48.8" height="55" fill="#cccccc"/><rect x="80.9" y="1956.2" width="48.8" height="55" fill="#cccccc"/><rect x="128.7" y="1956.2" width="48.8" height="55" fill="#808080"/><rect x="176.6" y="1956.2" width="48.8" height="55" fill="#cccccc"/><rect x="224.4" y="1956.2" width="48.8" height="55" fill="#ffffff"/><rect x="272.2" y="1956.2" width="48.8" height="55" fill="#ffffff"/><rect x="320.1" y="1956.2" width="48.8" height="55" fill="#999999"/><rect x="367.9" y="1956.2" width="48.8" height="55" fill="#999999"/><rect x="33.1" y="2010.2" width="48.8" height="55" fill="#999999"/><rect x="80.9" y="2010.2" width="48.8" height="55" fill="#999999"/><rect x="128.7" y="2010.2" width="48.8" height="55" fill="#cccccc"/><rect x="176.6" y="2010.2" width="48.8" height="55" fill="#e6e6e6"/><rect x="224.4" y="2010.2" width="48.8" height="55" fill="#ffffff"/><rect x="272.2" y="2010.2" width="48.8" height="55" fill="#e6e6e6"/><rect x="320.1" y="2010.2" width="48.8" height="55" fill="#999999"/><rect x="367.9" y="2010.2" width="48.8" height="55" fill="#999999"/><rect x="33.1" y="2064.2" width="48.8" height="55" fill="#cccccc"/><rect x="80.9" y="2064.2" width="48.8" height="55" fill="#cccccc"/><rect x="128.7" y="2064.2" width="48.8" height="55" fill="#e6e6e6"/><rect x="176.6" y="2064.2" width="48.8" height="55" fill="#e6e6e6"/><rect x="224.4" y="2064.2" width="48.8" height="55" fill="#808080"/><rect x="272.2" y="2064.2" width="48.8" height="55" fill="#cccccc"/><rect x="320.1" y="2064.2" width="48.8" height="55" fill="#b2b2b2"/><rect x="367.9" y="2064.2" width="48.8" height="55" fill="#b2b2b2"/><rect x="33.1" y="2118.3" width="48.8" height="55" fill="#ffffff"/><rect x="80.9" y="2118.3" width="48.8" height="55" fill="#ffffff"/><rect x="128.7" y="2118.3" width="48.8" height="55" fill="#808080"/><rect x="176.6" y="2118.3" width="48.8" height="55" fill="#cccccc"/><rect x="224.4" y="2118.3" width="48.8" height="55" fill="#ffffff"/><rect x="272.2" y="2118.3" width="48.8" height="55" fill="#ffffff"/><rect x="320.1" y="2118.3" width="48.8" height="55" fill="#e6e6e6"/><rect x="367.9" y="2118.3" width="48.8" height="55" fill="#e6e6e6"/><rect x="33.1" y="2172.3" width="48.8" height="55" fill="#ffffff"/><rect x="80.9" y="2172.3" width="48.8" height="55" fill="#ffffff"/><rect x="128.7" y="2172.3" width="48.8" height="55" fill="#808080"/><rect x="176.6" y="2172.3" width="48.8" height="55" fill="#cccccc"/><rect x="224.4" y="2172.3" width="48.8" height="55" fill="#ffffff"/><rect x="272.2" y="2172.3" width="48.8" height="55" fill="#ffffff"/><rect x="320.1" y="2172.3" width="48.8" height="55" fill="#e6e6e6"/><rect x="367.9" y="2172.3" width="48.8" height="55" fill="#e6e6e6"/></g></mask>
<filter color-interpolation-filters="sRGB" id="t1" x="0" y="0" width="1" height="1"><feTurbulence type="fractalNoise" baseFrequency="0.2" numOctaves="2" seed="10"/><feColorMatrix type="matrix" values="0.6 0 0 0 0.2  0.6 0 0 0 0.2  0.6 0 0 0 0.2  0 0 0 0 1"/></filter>
<clipPath id="c2"><rect x="378.2" y="1957.7" width="287.2" height="215.8"/></clipPath>
<mask id="m2" maskUnits="userSpaceOnUse" x="378.2" y="1957.7" width="287.2" height="215.8"><g filter="url(#gblur)"><rect x="329.8" y="1903.2" width="48.9" height="55" fill="#ffffff"/><rect x="377.7" y="1903.2" width="48.9" height="55" fill="#ffffff"/><rect x="425.6" y="1903.2" width="48.9" height="55" fill="#666666"/><rect x="473.4" y="1903.2" width="48.9" height="55" fill="#cccccc"/><rect x="521.3" y="1903.2" width="48.9" height="55" fill="#e6e6e6"/><rect x="569.2" y="1903.2" width="48.9" height="55" fill="#ffffff"/><rect x="617" y="1903.2" width="48.9" height="55" fill="#999999"/><rect x="664.9" y="1903.2" width="48.9" height="55" fill="#999999"/><rect x="329.8" y="1957.2" width="48.9" height="55" fill="#ffffff"/><rect x="377.7" y="1957.2" width="48.9" height="55" fill="#ffffff"/><rect x="425.6" y="1957.2" width="48.9" height="55" fill="#666666"/><rect x="473.4" y="1957.2" width="48.9" height="55" fill="#cccccc"/><rect x="521.3" y="1957.2" width="48.9" height="55" fill="#e6e6e6"/><rect x="569.2" y="1957.2" width="48.9" height="55" fill="#ffffff"/><rect x="617" y="1957.2" width="48.9" height="55" fill="#999999"/><rect x="664.9" y="1957.2" width="48.9" height="55" fill="#999999"/><rect x="329.8" y="2011.2" width="48.9" height="55" fill="#cccccc"/><rect x="377.7" y="2011.2" width="48.9" height="55" fill="#cccccc"/><rect x="425.6" y="2011.2" width="48.9" height="55" fill="#808080"/><rect x="473.4" y="2011.2" width="48.9" height="55" fill="#999999"/><rect x="521.3" y="2011.2" width="48.9" height="55" fill="#cccccc"/><rect x="569.2" y="2011.2" width="48.9" height="55" fill="#666666"/><rect x="617" y="2011.2" width="48.9" height="55" fill="#e6e6e6"/><rect x="664.9" y="2011.2" width="48.9" height="55" fill="#e6e6e6"/><rect x="329.8" y="2065.1" width="48.9" height="55" fill="#e6e6e6"/><rect x="377.7" y="2065.1" width="48.9" height="55" fill="#e6e6e6"/><rect x="425.6" y="2065.1" width="48.9" height="55" fill="#999999"/><rect x="473.4" y="2065.1" width="48.9" height="55" fill="#999999"/><rect x="521.3" y="2065.1" width="48.9" height="55" fill="#cccccc"/><rect x="569.2" y="2065.1" width="48.9" height="55" fill="#4c4c4c"/><rect x="617" y="2065.1" width="48.9" height="55" fill="#666666"/><rect x="664.9" y="2065.1" width="48.9" height="55" fill="#666666"/><rect x="329.8" y="2119.1" width="48.9" height="55" fill="#808080"/><rect x="377.7" y="2119.1" width="48.9" height="55" fill="#808080"/><rect x="425.6" y="2119.1" width="48.9" height="55" fill="#b2b2b2"/><rect x="473.4" y="2119.1" width="48.9" height="55" fill="#ffffff"/><rect x="521.3" y="2119.1" width="48.9" height="55" fill="#999999"/><rect x="569.2" y="2119.1" width="48.9" height="55" fill="#cccccc"/><rect x="617" y="2119.1" width="48.9" height="55" fill="#4c4c4c"/><rect x="664.9" y="2119.1" width="48.9" height="55" fill="#4c4c4c"/><rect x="329.8" y="2173" width="48.9" height="55" fill="#808080"/><rect x="377.7" y="2173" width="48.9" height="55" fill="#808080"/><rect x="425.6" y="2173" width="48.9" height="55" fill="#b2b2b2"/><rect x="473.4" y="2173" width="48.9" height="55" fill="#ffffff"/><rect x="521.3" y="2173" width="48.9" height="55" fill="#999999"/><rect x="569.2" y="2173" width="48.9" height="55" fill="#cccccc"/><rect x="617" y="2173" width="48.9" height="55" fill="#4c4c4c"/><rect x="664.9" y="2173" width="48.9" height="55" fill="#4c4c4c"/></g></mask>
<filter color-interpolation-filters="sRGB" id="t2" x="0" y="0" width="1" height="1"><feTurbulence type="fractalNoise" baseFrequency="0.2" numOctaves="2" seed="17"/><feColorMatrix type="matrix" values="0.6 0 0 0 0.2  0.6 0 0 0 0.2  0.6 0 0 0 0.2  0 0 0 0 1"/></filter>
<clipPath id="c3"><rect x="675.7" y="1960.2" width="286.5" height="215.5"/></clipPath>
<mask id="m3" maskUnits="userSpaceOnUse" x="675.7" y="1960.2" width="286.5" height="215.5"><g filter="url(#gblur)"><rect x="627.5" y="1905.8" width="48.8" height="54.9" fill="#808080"/><rect x="675.2" y="1905.8" width="48.8" height="54.9" fill="#808080"/><rect x="723" y="1905.8" width="48.8" height="54.9" fill="#999999"/><rect x="770.7" y="1905.8" width="48.8" height="54.9" fill="#999999"/><rect x="818.5" y="1905.8" width="48.8" height="54.9" fill="#b2b2b2"/><rect x="866.2" y="1905.8" width="48.8" height="54.9" fill="#808080"/><rect x="914" y="1905.8" width="48.8" height="54.9" fill="#4c4c4c"/><rect x="961.7" y="1905.8" width="48.8" height="54.9" fill="#4c4c4c"/><rect x="627.5" y="1959.7" width="48.8" height="54.9" fill="#808080"/><rect x="675.2" y="1959.7" width="48.8" height="54.9" fill="#808080"/><rect x="723" y="1959.7" width="48.8" height="54.9" fill="#999999"/><rect x="770.7" y="1959.7" width="48.8" height="54.9" fill="#999999"/><rect x="818.5" y="1959.7" width="48.8" height="54.9" fill="#b2b2b2"/><rect x="866.2" y="1959.7" width="48.8" height="54.9" fill="#808080"/><rect x="914" y="1959.7" width="48.8" height="54.9" fill="#4c4c4c"/><rect x="961.7" y="1959.7" width="48.8" height="54.9" fill="#4c4c4c"/><rect x="627.5" y="2013.6" width="48.8" height="54.9" fill="#808080"/><rect x="675.2" y="2013.6" width="48.8" height="54.9" fill="#808080"/><rect x="723" y="2013.6" width="48.8" height="54.9" fill="#e6e6e6"/><rect x="770.7" y="2013.6" width="48.8" height="54.9" fill="#808080"/><rect x="818.5" y="2013.6" width="48.8" height="54.9" fill="#808080"/><rect x="866.2" y="2013.6" width="48.8" height="54.9" fill="#b2b2b2"/><rect x="914" y="2013.6" width="48.8" height="54.9" fill="#666666"/><rect x="961.7" y="2013.6" width="48.8" height="54.9" fill="#666666"/><rect x="627.5" y="2067.4" width="48.8" height="54.9" fill="#b2b2b2"/><rect x="675.2" y="2067.4" width="48.8" height="54.9" fill="#b2b2b2"/><rect x="723" y="2067.4" width="48.8" height="54.9" fill="#e6e6e6"/><rect x="770.7" y="2067.4" width="48.8" height="54.9" fill="#808080"/><rect x="818.5" y="2067.4" width="48.8" height="54.9" fill="#999999"/><rect x="866.2" y="2067.4" width="48.8" height="54.9" fill="#b2b2b2"/><rect x="914" y="2067.4" width="48.8" height="54.9" fill="#808080"/><rect x="961.7" y="2067.4" width="48.8" height="54.9" fill="#808080"/><rect x="627.5" y="2121.3" width="48.8" height="54.9" fill="#808080"/><rect x="675.2" y="2121.3" width="48.8" height="54.9" fill="#808080"/><rect x="723" y="2121.3" width="48.8" height="54.9" fill="#ffffff"/><rect x="770.7" y="2121.3" width="48.8" height="54.9" fill="#ffffff"/><rect x="818.5" y="2121.3" width="48.8" height="54.9" fill="#cccccc"/><rect x="866.2" y="2121.3" width="48.8" height="54.9" fill="#808080"/><rect x="914" y="2121.3" width="48.8" height="54.9" fill="#666666"/><rect x="961.7" y="2121.3" width="48.8" height="54.9" fill="#666666"/><rect x="627.5" y="2175.2" width="48.8" height="54.9" fill="#808080"/><rect x="675.2" y="2175.2" width="48.8" height="54.9" fill="#808080"/><rect x="723" y="2175.2" width="48.8" height="54.9" fill="#ffffff"/><rect x="770.7" y="2175.2" width="48.8" height="54.9" fill="#ffffff"/><rect x="818.5" y="2175.2" width="48.8" height="54.9" fill="#cccccc"/><rect x="866.2" y="2175.2" width="48.8" height="54.9" fill="#808080"/><rect x="914" y="2175.2" width="48.8" height="54.9" fill="#666666"/><rect x="961.7" y="2175.2" width="48.8" height="54.9" fill="#666666"/></g></mask>
<filter color-interpolation-filters="sRGB" id="t3" x="0" y="0" width="1" height="1"><feTurbulence type="fractalNoise" baseFrequency="0.2" numOctaves="2" seed="24"/><feColorMatrix type="matrix" values="0.6 0 0 0 0.2  0.6 0 0 0 0.2  0.6 0 0 0 0.2  0 0 0 0 1"/></filter>
<clipPath id="c4"><rect x="991" y="1961" width="287" height="214.7"/></clipPath>
<clipPath id="c5"><rect x="1288.8" y="1960.2" width="287.9" height="215.5"/></clipPath>
<clipPath id="c6"><rect x="1586.5" y="1959" width="288.2" height="214.5"/></clipPath>
<clipPath id="c7"><rect x="81.4" y="2191.2" width="287" height="215.6"/></clipPath>
<mask id="m7" maskUnits="userSpaceOnUse" x="81.4" y="2191.2" width="287" height="215.6"><g filter="url(#gblur)"><rect x="33.1" y="2136.8" width="48.8" height="54.9" fill="#666666"/><rect x="80.9" y="2136.8" width="48.8" height="54.9" fill="#666666"/><rect x="128.7" y="2136.8" width="48.8" height="54.9" fill="#999999"/><rect x="176.6" y="2136.8" width="48.8" height="54.9" fill="#e6e6e6"/><rect x="224.4" y="2136.8" width="48.8" height="54.9" fill="#e6e6e6"/><rect x="272.2" y="2136.8" width="48.8" height="54.9" fill="#b2b2b2"/><rect x="320.1" y="2136.8" width="48.8" height="54.9" fill="#999999"/><rect x="367.9" y="2136.8" width="48.8" height="54.9" fill="#999999"/><rect x="33.1" y="2190.7" width="48.8" height="54.9" fill="#666666"/><rect x="80.9" y="2190.7" width="48.8" height="54.9" fill="#666666"/><rect x="128.7" y="2190.7" width="48.8" height="54.9" fill="#999999"/><rect x="176.6" y="2190.7" width="48.8" height="54.9" fill="#e6e6e6"/><rect x="224.4" y="2190.7" width="48.8" height="54.9" fill="#e6e6e6"/><rect x="272.2" y="2190.7" width="48.8" height="54.9" fill="#b2b2b2"/><rect x="320.1" y="2190.7" width="48.8" height="54.9" fill="#999999"/><rect x="367.9" y="2190.7" width="48.8" height="54.9" fill="#999999"/><rect x="33.1" y="2244.6" width="48.8" height="54.9" fill="#666666"/><rect x="80.9" y="2244.6" width="48.8" height="54.9" fill="#666666"/><rect x="128.7" y="2244.6" width="48.8" height="54.9" fill="#cccccc"/><rect x="176.6" y="2244.6" width="48.8" height="54.9" fill="#cccccc"/><rect x="224.4" y="2244.6" width="48.8" height="54.9" fill="#ffffff"/><rect x="272.2" y="2244.6" width="48.8" height="54.9" fill="#cccccc"/><rect x="320.1" y="2244.6" width="48.8" height="54.9" fill="#666666"/><rect x="367.9" y="2244.6" width="48.8" height="54.9" fill="#666666"/><rect x="33.1" y="2298.5" width="48.8" height="54.9" fill="#808080"/><rect x="80.9" y="2298.5" width="48.8" height="54.9" fill="#808080"/><rect x="128.7" y="2298.5" width="48.8" height="54.9" fill="#666666"/><rect x="176.6" y="2298.5" width="48.8" height="54.9" fill="#cccccc"/><rect x="224.4" y="2298.5" width="48.8" height="54.9" fill="#ffffff"/><rect x="272.2" y="2298.5" width="48.8" height="54.9" fill="#b2b2b2"/><rect x="320.1" y="2298.5" width="48.8" height="54.9" fill="#4c4c4c"/><rect x="367.9" y="2298.5" width="48.8" height="54.9" fill="#4c4c4c"/><rect x="33.1" y="2352.4" width="48.8" height="54.9" fill="#808080"/><rect x="80.9" y="2352.4" width="48.8" height="54.9" fill="#808080"/><rect x="128.7" y="2352.4" width="48.8" height="54.9" fill="#e6e6e6"/><rect x="176.6" y="2352.4" width="48.8" height="54.9" fill="#e6e6e6"/><rect x="224.4" y="2352.4" width="48.8" height="54.9" fill="#cccccc"/><rect x="272.2" y="2352.4" width="48.8" height="54.9" fill="#b2b2b2"/><rect x="320.1" y="2352.4" width="48.8" height="54.9" fill="#666666"/><rect x="367.9" y="2352.4" width="48.8" height="54.9" fill="#666666"/><rect x="33.1" y="2406.3" width="48.8" height="54.9" fill="#808080"/><rect x="80.9" y="2406.3" width="48.8" height="54.9" fill="#808080"/><rect x="128.7" y="2406.3" width="48.8" height="54.9" fill="#e6e6e6"/><rect x="176.6" y="2406.3" width="48.8" height="54.9" fill="#e6e6e6"/><rect x="224.4" y="2406.3" width="48.8" height="54.9" fill="#cccccc"/><rect x="272.2" y="2406.3" width="48.8" height="54.9" fill="#b2b2b2"/><rect x="320.1" y="2406.3" width="48.8" height="54.9" fill="#666666"/><rect x="367.9" y="2406.3" width="48.8" height="54.9" fill="#666666"/></g></mask>
<filter color-interpolation-filters="sRGB" id="t7" x="0" y="0" width="1" height="1"><feTurbulence type="fractalNoise" baseFrequency="0.2" numOctaves="2" seed="52"/><feColorMatrix type="matrix" values="0.6 0 0 0 0.2  0.6 0 0 0 0.2  0.6 0 0 0 0.2  0 0 0 0 1"/></filter>
<clipPath id="c8"><rect x="378.8" y="2191.5" width="287.5" height="214.8"/></clipPath>
<mask id="m8" maskUnits="userSpaceOnUse" x="378.8" y="2191.5" width="287.5" height="214.8"><g filter="url(#gblur)"><rect x="330.4" y="2137.3" width="48.9" height="54.7" fill="#808080"/><rect x="378.3" y="2137.3" width="48.9" height="54.7" fill="#808080"/><rect x="426.2" y="2137.3" width="48.9" height="54.7" fill="#666666"/><rect x="474.1" y="2137.3" width="48.9" height="54.7" fill="#666666"/><rect x="522" y="2137.3" width="48.9" height="54.7" fill="#808080"/><rect x="570" y="2137.3" width="48.9" height="54.7" fill="#808080"/><rect x="617.9" y="2137.3" width="48.9" height="54.7" fill="#666666"/><rect x="665.8" y="2137.3" width="48.9" height="54.7" fill="#666666"/><rect x="330.4" y="2191" width="48.9" height="54.7" fill="#808080"/><rect x="378.3" y="2191" width="48.9" height="54.7" fill="#808080"/><rect x="426.2" y="2191" width="48.9" height="54.7" fill="#666666"/><rect x="474.1" y="2191" width="48.9" height="54.7" fill="#666666"/><rect x="522" y="2191" width="48.9" height="54.7" fill="#808080"/><rect x="570" y="2191" width="48.9" height="54.7" fill="#808080"/><rect x="617.9" y="2191" width="48.9" height="54.7" fill="#666666"/><rect x="665.8" y="2191" width="48.9" height="54.7" fill="#666666"/><rect x="330.4" y="2244.7" width="48.9" height="54.7" fill="#808080"/><rect x="378.3" y="2244.7" width="48.9" height="54.7" fill="#808080"/><rect x="426.2" y="2244.7" width="48.9" height="54.7" fill="#808080"/><rect x="474.1" y="2244.7" width="48.9" height="54.7" fill="#4c4c4c"/><rect x="522" y="2244.7" width="48.9" height="54.7" fill="#666666"/><rect x="570" y="2244.7" width="48.9" height="54.7" fill="#808080"/><rect x="617.9" y="2244.7" width="48.9" height="54.7" fill="#808080"/><rect x="665.8" y="2244.7" width="48.9" height="54.7" fill="#808080"/><rect x="330.4" y="2298.4" width="48.9" height="54.7" fill="#999999"/><rect x="378.3" y="2298.4" width="48.9" height="54.7" fill="#999999"/><rect x="426.2" y="2298.4" width="48.9" height="54.7" fill="#b2b2b2"/><rect x="474.1" y="2298.4" width="48.9" height="54.7" fill="#4c4c4c"/><rect x="522" y="2298.4" width="48.9" height="54.7" fill="#4c4c4c"/><rect x="570" y="2298.4" width="48.9" height="54.7" fill="#808080"/><rect x="617.9" y="2298.4" width="48.9" height="54.7" fill="#808080"/><rect x="665.8" y="2298.4" width="48.9" height="54.7" fill="#808080"/><rect x="330.4" y="2352.1" width="48.9" height="54.7" fill="#999999"/><rect x="378.3" y="2352.1" width="48.9" height="54.7" fill="#999999"/><rect x="426.2" y="2352.1" width="48.9" height="54.7" fill="#808080"/><rect x="474.1" y="2352.1" width="48.9" height="54.7" fill="#666666"/><rect x="522" y="2352.1" width="48.9" height="54.7" fill="#808080"/><rect x="570" y="2352.1" width="48.9" height="54.7" fill="#808080"/><rect x="617.9" y="2352.1" width="48.9" height="54.7" fill="#666666"/><rect x="665.8" y="2352.1" width="48.9" height="54.7" fill="#666666"/><rect x="330.4" y="2405.8" width="48.9" height="54.7" fill="#999999"/><rect x="378.3" y="2405.8" width="48.9" height="54.7" fill="#999999"/><rect x="426.2" y="2405.8" width="48.9" height="54.7" fill="#808080"/><rect x="474.1" y="2405.8" width="48.9" height="54.7" fill="#666666"/><rect x="522" y="2405.8" width="48.9" height="54.7" fill="#808080"/><rect x="570" y="2405.8" width="48.9" height="54.7" fill="#808080"/><rect x="617.9" y="2405.8" width="48.9" height="54.7" fill="#666666"/><rect x="665.8" y="2405.8" width="48.9" height="54.7" fill="#666666"/></g></mask>
<filter color-interpolation-filters="sRGB" id="t8" x="0" y="0" width="1" height="1"><feTurbulence type="fractalNoise" baseFrequency="0.2" numOctaves="2" seed="59"/><feColorMatrix type="matrix" values="0.6 0 0 0 0.2  0.6 0 0 0 0.2  0.6 0 0 0 0.2  0 0 0 0 1"/></filter>
<clipPath id="c9"><rect x="677" y="2191.7" width="287.3" height="215.6"/></clipPath>
<mask id="m9" maskUnits="userSpaceOnUse" x="677" y="2191.7" width="287.3" height="215.6"><g filter="url(#gblur)"><rect x="628.6" y="2137.3" width="48.9" height="54.9" fill="#ffffff"/><rect x="676.5" y="2137.3" width="48.9" height="54.9" fill="#ffffff"/><rect x="724.4" y="2137.3" width="48.9" height="54.9" fill="#999999"/><rect x="772.3" y="2137.3" width="48.9" height="54.9" fill="#ffffff"/><rect x="820.1" y="2137.3" width="48.9" height="54.9" fill="#ffffff"/><rect x="868" y="2137.3" width="48.9" height="54.9" fill="#999999"/><rect x="915.9" y="2137.3" width="48.9" height="54.9" fill="#666666"/><rect x="963.8" y="2137.3" width="48.9" height="54.9" fill="#666666"/><rect x="628.6" y="2191.2" width="48.9" height="54.9" fill="#ffffff"/><rect x="676.5" y="2191.2" width="48.9" height="54.9" fill="#ffffff"/><rect x="724.4" y="2191.2" width="48.9" height="54.9" fill="#999999"/><rect x="772.3" y="2191.2" width="48.9" height="54.9" fill="#ffffff"/><rect x="820.1" y="2191.2" width="48.9" height="54.9" fill="#ffffff"/><rect x="868" y="2191.2" width="48.9" height="54.9" fill="#999999"/><rect x="915.9" y="2191.2" width="48.9" height="54.9" fill="#666666"/><rect x="963.8" y="2191.2" width="48.9" height="54.9" fill="#666666"/><rect x="628.6" y="2245.1" width="48.9" height="54.9" fill="#ffffff"/><rect x="676.5" y="2245.1" width="48.9" height="54.9" fill="#ffffff"/><rect x="724.4" y="2245.1" width="48.9" height="54.9" fill="#808080"/><rect x="772.3" y="2245.1" width="48.9" height="54.9" fill="#ffffff"/><rect x="820.1" y="2245.1" width="48.9" height="54.9" fill="#cccccc"/><rect x="868" y="2245.1" width="48.9" height="54.9" fill="#e6e6e6"/><rect x="915.9" y="2245.1" width="48.9" height="54.9" fill="#ffffff"/><rect x="963.8" y="2245.1" width="48.9" height="54.9" fill="#ffffff"/><rect x="628.6" y="2299" width="48.9" height="54.9" fill="#808080"/><rect x="676.5" y="2299" width="48.9" height="54.9" fill="#808080"/><rect x="724.4" y="2299" width="48.9" height="54.9" fill="#808080"/><rect x="772.3" y="2299" width="48.9" height="54.9" fill="#ffffff"/><rect x="820.1" y="2299" width="48.9" height="54.9" fill="#ffffff"/><rect x="868" y="2299" width="48.9" height="54.9" fill="#ffffff"/><rect x="915.9" y="2299" width="48.9" height="54.9" fill="#ffffff"/><rect x="963.8" y="2299" width="48.9" height="54.9" fill="#ffffff"/><rect x="628.6" y="2352.9" width="48.9" height="54.9" fill="#ffffff"/><rect x="676.5" y="2352.9" width="48.9" height="54.9" fill="#ffffff"/><rect x="724.4" y="2352.9" width="48.9" height="54.9" fill="#666666"/><rect x="772.3" y="2352.9" width="48.9" height="54.9" fill="#666666"/><rect x="820.1" y="2352.9" width="48.9" height="54.9" fill="#ffffff"/><rect x="868" y="2352.9" width="48.9" height="54.9" fill="#ffffff"/><rect x="915.9" y="2352.9" width="48.9" height="54.9" fill="#cccccc"/><rect x="963.8" y="2352.9" width="48.9" height="54.9" fill="#cccccc"/><rect x="628.6" y="2406.8" width="48.9" height="54.9" fill="#ffffff"/><rect x="676.5" y="2406.8" width="48.9" height="54.9" fill="#ffffff"/><rect x="724.4" y="2406.8" width="48.9" height="54.9" fill="#666666"/><rect x="772.3" y="2406.8" width="48.9" height="54.9" fill="#666666"/><rect x="820.1" y="2406.8" width="48.9" height="54.9" fill="#ffffff"/><rect x="868" y="2406.8" width="48.9" height="54.9" fill="#ffffff"/><rect x="915.9" y="2406.8" width="48.9" height="54.9" fill="#cccccc"/><rect x="963.8" y="2406.8" width="48.9" height="54.9" fill="#cccccc"/></g></mask>
<filter color-interpolation-filters="sRGB" id="t9" x="0" y="0" width="1" height="1"><feTurbulence type="fractalNoise" baseFrequency="0.2" numOctaves="2" seed="66"/><feColorMatrix type="matrix" values="0.6 0 0 0 0.2  0.6 0 0 0 0.2  0.6 0 0 0 0.2  0 0 0 0 1"/></filter>
<clipPath id="c10"><rect x="991" y="2192" width="287.5" height="215.3"/></clipPath>
<clipPath id="c11"><rect x="1288.8" y="2191.7" width="287.9" height="215.1"/></clipPath>
<clipPath id="c12"><rect x="1586" y="2192.5" width="288.7" height="214.3"/></clipPath>
<clipPath id="c13"><rect x="81.4" y="2427" width="287" height="214.5"/></clipPath>
<mask id="m13" maskUnits="userSpaceOnUse" x="81.4" y="2427" width="287" height="214.5"><g filter="url(#gblur)"><rect x="33.1" y="2372.9" width="48.8" height="54.6" fill="#b2b2b2"/><rect x="80.9" y="2372.9" width="48.8" height="54.6" fill="#b2b2b2"/><rect x="128.7" y="2372.9" width="48.8" height="54.6" fill="#cccccc"/><rect x="176.6" y="2372.9" width="48.8" height="54.6" fill="#e6e6e6"/><rect x="224.4" y="2372.9" width="48.8" height="54.6" fill="#e6e6e6"/><rect x="272.2" y="2372.9" width="48.8" height="54.6" fill="#cccccc"/><rect x="320.1" y="2372.9" width="48.8" height="54.6" fill="#666666"/><rect x="367.9" y="2372.9" width="48.8" height="54.6" fill="#666666"/><rect x="33.1" y="2426.5" width="48.8" height="54.6" fill="#b2b2b2"/><rect x="80.9" y="2426.5" width="48.8" height="54.6" fill="#b2b2b2"/><rect x="128.7" y="2426.5" width="48.8" height="54.6" fill="#cccccc"/><rect x="176.6" y="2426.5" width="48.8" height="54.6" fill="#e6e6e6"/><rect x="224.4" y="2426.5" width="48.8" height="54.6" fill="#e6e6e6"/><rect x="272.2" y="2426.5" width="48.8" height="54.6" fill="#cccccc"/><rect x="320.1" y="2426.5" width="48.8" height="54.6" fill="#666666"/><rect x="367.9" y="2426.5" width="48.8" height="54.6" fill="#666666"/><rect x="33.1" y="2480.1" width="48.8" height="54.6" fill="#cccccc"/><rect x="80.9" y="2480.1" width="48.8" height="54.6" fill="#cccccc"/><rect x="128.7" y="2480.1" width="48.8" height="54.6" fill="#b2b2b2"/><rect x="176.6" y="2480.1" width="48.8" height="54.6" fill="#e6e6e6"/><rect x="224.4" y="2480.1" width="48.8" height="54.6" fill="#e6e6e6"/><rect x="272.2" y="2480.1" width="48.8" height="54.6" fill="#666666"/><rect x="320.1" y="2480.1" width="48.8" height="54.6" fill="#4c4c4c"/><rect x="367.9" y="2480.1" width="48.8" height="54.6" fill="#4c4c4c"/><rect x="33.1" y="2533.8" width="48.8" height="54.6" fill="#ffffff"/><rect x="80.9" y="2533.8" width="48.8" height="54.6" fill="#ffffff"/><rect x="128.7" y="2533.8" width="48.8" height="54.6" fill="#e6e6e6"/><rect x="176.6" y="2533.8" width="48.8" height="54.6" fill="#999999"/><rect x="224.4" y="2533.8" width="48.8" height="54.6" fill="#4c4c4c"/><rect x="272.2" y="2533.8" width="48.8" height="54.6" fill="#666666"/><rect x="320.1" y="2533.8" width="48.8" height="54.6" fill="#cccccc"/><rect x="367.9" y="2533.8" width="48.8" height="54.6" fill="#cccccc"/><rect x="33.1" y="2587.4" width="48.8" height="54.6" fill="#e6e6e6"/><rect x="80.9" y="2587.4" width="48.8" height="54.6" fill="#e6e6e6"/><rect x="128.7" y="2587.4" width="48.8" height="54.6" fill="#999999"/><rect x="176.6" y="2587.4" width="48.8" height="54.6" fill="#666666"/><rect x="224.4" y="2587.4" width="48.8" height="54.6" fill="#b2b2b2"/><rect x="272.2" y="2587.4" width="48.8" height="54.6" fill="#e6e6e6"/><rect x="320.1" y="2587.4" width="48.8" height="54.6" fill="#999999"/><rect x="367.9" y="2587.4" width="48.8" height="54.6" fill="#999999"/><rect x="33.1" y="2641" width="48.8" height="54.6" fill="#e6e6e6"/><rect x="80.9" y="2641" width="48.8" height="54.6" fill="#e6e6e6"/><rect x="128.7" y="2641" width="48.8" height="54.6" fill="#999999"/><rect x="176.6" y="2641" width="48.8" height="54.6" fill="#666666"/><rect x="224.4" y="2641" width="48.8" height="54.6" fill="#b2b2b2"/><rect x="272.2" y="2641" width="48.8" height="54.6" fill="#e6e6e6"/><rect x="320.1" y="2641" width="48.8" height="54.6" fill="#999999"/><rect x="367.9" y="2641" width="48.8" height="54.6" fill="#999999"/></g></mask>
<filter color-interpolation-filters="sRGB" id="t13" x="0" y="0" width="1" height="1"><feTurbulence type="fractalNoise" baseFrequency="0.2" numOctaves="2" seed="94"/><feColorMatrix type="matrix" values="0.6 0 0 0 0.2  0.6 0 0 0 0.2  0.6 0 0 0 0.2  0 0 0 0 1"/></filter>
<clipPath id="c14"><rect x="379.5" y="2425.3" width="286.9" height="214.7"/></clipPath>
<mask id="m14" maskUnits="userSpaceOnUse" x="379.5" y="2425.3" width="286.9" height="214.7"><g filter="url(#gblur)"><rect x="331.2" y="2371.1" width="48.8" height="54.7" fill="#ffffff"/><rect x="379" y="2371.1" width="48.8" height="54.7" fill="#ffffff"/><rect x="426.8" y="2371.1" width="48.8" height="54.7" fill="#ffffff"/><rect x="474.6" y="2371.1" width="48.8" height="54.7" fill="#ffffff"/><rect x="522.5" y="2371.1" width="48.8" height="54.7" fill="#ffffff"/><rect x="570.3" y="2371.1" width="48.8" height="54.7" fill="#ffffff"/><rect x="618.1" y="2371.1" width="48.8" height="54.7" fill="#ffffff"/><rect x="665.9" y="2371.1" width="48.8" height="54.7" fill="#ffffff"/><rect x="331.2" y="2424.8" width="48.8" height="54.7" fill="#ffffff"/><rect x="379" y="2424.8" width="48.8" height="54.7" fill="#ffffff"/><rect x="426.8" y="2424.8" width="48.8" height="54.7" fill="#ffffff"/><rect x="474.6" y="2424.8" width="48.8" height="54.7" fill="#ffffff"/><rect x="522.5" y="2424.8" width="48.8" height="54.7" fill="#ffffff"/><rect x="570.3" y="2424.8" width="48.8" height="54.7" fill="#ffffff"/><rect x="618.1" y="2424.8" width="48.8" height="54.7" fill="#ffffff"/><rect x="665.9" y="2424.8" width="48.8" height="54.7" fill="#ffffff"/><rect x="331.2" y="2478.5" width="48.8" height="54.7" fill="#ffffff"/><rect x="379" y="2478.5" width="48.8" height="54.7" fill="#ffffff"/><rect x="426.8" y="2478.5" width="48.8" height="54.7" fill="#ffffff"/><rect x="474.6" y="2478.5" width="48.8" height="54.7" fill="#ffffff"/><rect x="522.5" y="2478.5" width="48.8" height="54.7" fill="#ffffff"/><rect x="570.3" y="2478.5" width="48.8" height="54.7" fill="#ffffff"/><rect x="618.1" y="2478.5" width="48.8" height="54.7" fill="#808080"/><rect x="665.9" y="2478.5" width="48.8" height="54.7" fill="#808080"/><rect x="331.2" y="2532.2" width="48.8" height="54.7" fill="#ffffff"/><rect x="379" y="2532.2" width="48.8" height="54.7" fill="#ffffff"/><rect x="426.8" y="2532.2" width="48.8" height="54.7" fill="#ffffff"/><rect x="474.6" y="2532.2" width="48.8" height="54.7" fill="#ffffff"/><rect x="522.5" y="2532.2" width="48.8" height="54.7" fill="#ffffff"/><rect x="570.3" y="2532.2" width="48.8" height="54.7" fill="#808080"/><rect x="618.1" y="2532.2" width="48.8" height="54.7" fill="#999999"/><rect x="665.9" y="2532.2" width="48.8" height="54.7" fill="#999999"/><rect x="331.2" y="2585.8" width="48.8" height="54.7" fill="#808080"/><rect x="379" y="2585.8" width="48.8" height="54.7" fill="#808080"/><rect x="426.8" y="2585.8" width="48.8" height="54.7" fill="#ffffff"/><rect x="474.6" y="2585.8" width="48.8" height="54.7" fill="#ffffff"/><rect x="522.5" y="2585.8" width="48.8" height="54.7" fill="#808080"/><rect x="570.3" y="2585.8" width="48.8" height="54.7" fill="#666666"/><rect x="618.1" y="2585.8" width="48.8" height="54.7" fill="#b2b2b2"/><rect x="665.9" y="2585.8" width="48.8" height="54.7" fill="#b2b2b2"/><rect x="331.2" y="2639.5" width="48.8" height="54.7" fill="#808080"/><rect x="379" y="2639.5" width="48.8" height="54.7" fill="#808080"/><rect x="426.8" y="2639.5" width="48.8" height="54.7" fill="#ffffff"/><rect x="474.6" y="2639.5" width="48.8" height="54.7" fill="#ffffff"/><rect x="522.5" y="2639.5" width="48.8" height="54.7" fill="#808080"/><rect x="570.3" y="2639.5" width="48.8" height="54.7" fill="#666666"/><rect x="618.1" y="2639.5" width="48.8" height="54.7" fill="#b2b2b2"/><rect x="665.9" y="2639.5" width="48.8" height="54.7" fill="#b2b2b2"/></g></mask>
<filter color-interpolation-filters="sRGB" id="t14" x="0" y="0" width="1" height="1"><feTurbulence type="fractalNoise" baseFrequency="0.2" numOctaves="2" seed="101"/><feColorMatrix type="matrix" values="0.6 0 0 0 0.2  0.6 0 0 0 0.2  0.6 0 0 0 0.2  0 0 0 0 1"/></filter>
<clipPath id="c15"><rect x="677.4" y="2425.3" width="287.2" height="214.7"/></clipPath>
<mask id="m15" maskUnits="userSpaceOnUse" x="677.4" y="2425.3" width="287.2" height="214.7"><g filter="url(#gblur)"><rect x="629" y="2371.1" width="48.9" height="54.7" fill="#666666"/><rect x="676.9" y="2371.1" width="48.9" height="54.7" fill="#666666"/><rect x="724.8" y="2371.1" width="48.9" height="54.7" fill="#b2b2b2"/><rect x="772.6" y="2371.1" width="48.9" height="54.7" fill="#ffffff"/><rect x="820.5" y="2371.1" width="48.9" height="54.7" fill="#e6e6e6"/><rect x="868.4" y="2371.1" width="48.9" height="54.7" fill="#666666"/><rect x="916.2" y="2371.1" width="48.9" height="54.7" fill="#666666"/><rect x="964.1" y="2371.1" width="48.9" height="54.7" fill="#666666"/><rect x="629" y="2424.8" width="48.9" height="54.7" fill="#666666"/><rect x="676.9" y="2424.8" width="48.9" height="54.7" fill="#666666"/><rect x="724.8" y="2424.8" width="48.9" height="54.7" fill="#b2b2b2"/><rect x="772.6" y="2424.8" width="48.9" height="54.7" fill="#ffffff"/><rect x="820.5" y="2424.8" width="48.9" height="54.7" fill="#e6e6e6"/><rect x="868.4" y="2424.8" width="48.9" height="54.7" fill="#666666"/><rect x="916.2" y="2424.8" width="48.9" height="54.7" fill="#666666"/><rect x="964.1" y="2424.8" width="48.9" height="54.7" fill="#666666"/><rect x="629" y="2478.5" width="48.9" height="54.7" fill="#666666"/><rect x="676.9" y="2478.5" width="48.9" height="54.7" fill="#666666"/><rect x="724.8" y="2478.5" width="48.9" height="54.7" fill="#cccccc"/><rect x="772.6" y="2478.5" width="48.9" height="54.7" fill="#ffffff"/><rect x="820.5" y="2478.5" width="48.9" height="54.7" fill="#e6e6e6"/><rect x="868.4" y="2478.5" width="48.9" height="54.7" fill="#666666"/><rect x="916.2" y="2478.5" width="48.9" height="54.7" fill="#808080"/><rect x="964.1" y="2478.5" width="48.9" height="54.7" fill="#808080"/><rect x="629" y="2532.2" width="48.9" height="54.7" fill="#666666"/><rect x="676.9" y="2532.2" width="48.9" height="54.7" fill="#666666"/><rect x="724.8" y="2532.2" width="48.9" height="54.7" fill="#999999"/><rect x="772.6" y="2532.2" width="48.9" height="54.7" fill="#ffffff"/><rect x="820.5" y="2532.2" width="48.9" height="54.7" fill="#ffffff"/><rect x="868.4" y="2532.2" width="48.9" height="54.7" fill="#cccccc"/><rect x="916.2" y="2532.2" width="48.9" height="54.7" fill="#ffffff"/><rect x="964.1" y="2532.2" width="48.9" height="54.7" fill="#ffffff"/><rect x="629" y="2585.8" width="48.9" height="54.7" fill="#666666"/><rect x="676.9" y="2585.8" width="48.9" height="54.7" fill="#666666"/><rect x="724.8" y="2585.8" width="48.9" height="54.7" fill="#808080"/><rect x="772.6" y="2585.8" width="48.9" height="54.7" fill="#e6e6e6"/><rect x="820.5" y="2585.8" width="48.9" height="54.7" fill="#cccccc"/><rect x="868.4" y="2585.8" width="48.9" height="54.7" fill="#808080"/><rect x="916.2" y="2585.8" width="48.9" height="54.7" fill="#cccccc"/><rect x="964.1" y="2585.8" width="48.9" height="54.7" fill="#cccccc"/><rect x="629" y="2639.5" width="48.9" height="54.7" fill="#666666"/><rect x="676.9" y="2639.5" width="48.9" height="54.7" fill="#666666"/><rect x="724.8" y="2639.5" width="48.9" height="54.7" fill="#808080"/><rect x="772.6" y="2639.5" width="48.9" height="54.7" fill="#e6e6e6"/><rect x="820.5" y="2639.5" width="48.9" height="54.7" fill="#cccccc"/><rect x="868.4" y="2639.5" width="48.9" height="54.7" fill="#808080"/><rect x="916.2" y="2639.5" width="48.9" height="54.7" fill="#cccccc"/><rect x="964.1" y="2639.5" width="48.9" height="54.7" fill="#cccccc"/></g></mask>
<filter color-interpolation-filters="sRGB" id="t15" x="0" y="0" width="1" height="1"><feTurbulence type="fractalNoise" baseFrequency="0.2" numOctaves="2" seed="108"/><feColorMatrix type="matrix" values="0.6 0 0 0 0.2  0.6 0 0 0 0.2  0.6 0 0 0 0.2  0 0 0 0 1"/></filter>
<clipPath id="c16"><rect x="991" y="2422.8" width="287.7" height="214.2"/></clipPath>
<clipPath id="c17"><rect x="1288.8" y="2422.8" width="287.9" height="214.2"/></clipPath>
<clipPath id="c18"><rect x="1588.5" y="2422.8" width="286.9" height="214.2"/></clipPath></defs>
<g clip-path="url(#c1)"><g filter="url(#gblur)"><rect x="33.1" y="1902.2" width="48.8" height="55" fill="#808080"/><rect x="80.9" y="1902.2" width="48.8" height="55" fill="#808080"/><rect x="128.7" y="1902.2" width="48.8" height="55" fill="#7a7a7a"/><rect x="176.6" y="1902.2" width="48.8" height="55" fill="#7e7e7e"/><rect x="224.4" y="1902.2" width="48.8" height="55" fill="#858585"/><rect x="272.2" y="1902.2" width="48.8" height="55" fill="#8a8a8a"/><rect x="320.1" y="1902.2" width="48.8" height="55" fill="#a4a4a4"/><rect x="367.9" y="1902.2" width="48.8" height="55" fill="#a4a4a4"/><rect x="33.1" y="1956.2" width="48.8" height="55" fill="#808080"/><rect x="80.9" y="1956.2" width="48.8" height="55" fill="#808080"/><rect x="128.7" y="1956.2" width="48.8" height="55" fill="#7a7a7a"/><rect x="176.6" y="1956.2" width="48.8" height="55" fill="#7e7e7e"/><rect x="224.4" y="1956.2" width="48.8" height="55" fill="#858585"/><rect x="272.2" y="1956.2" width="48.8" height="55" fill="#8a8a8a"/><rect x="320.1" y="1956.2" width="48.8" height="55" fill="#a4a4a4"/><rect x="367.9" y="1956.2" width="48.8" height="55" fill="#a4a4a4"/><rect x="33.1" y="2010.2" width="48.8" height="55" fill="#6e6e6e"/><rect x="80.9" y="2010.2" width="48.8" height="55" fill="#6e6e6e"/><rect x="128.7" y="2010.2" width="48.8" height="55" fill="#787878"/><rect x="176.6" y="2010.2" width="48.8" height="55" fill="#7c7c7c"/><rect x="224.4" y="2010.2" width="48.8" height="55" fill="#7d7d7d"/><rect x="272.2" y="2010.2" width="48.8" height="55" fill="#808080"/><rect x="320.1" y="2010.2" width="48.8" height="55" fill="#8e8e8e"/><rect x="367.9" y="2010.2" width="48.8" height="55" fill="#8e8e8e"/><rect x="33.1" y="2064.2" width="48.8" height="55" fill="#6e6e6e"/><rect x="80.9" y="2064.2" width="48.8" height="55" fill="#6e6e6e"/><rect x="128.7" y="2064.2" width="48.8" height="55" fill="#767676"/><rect x="176.6" y="2064.2" width="48.8" height="55" fill="#7a7a7a"/><rect x="224.4" y="2064.2" width="48.8" height="55" fill="#707070"/><rect x="272.2" y="2064.2" width="48.8" height="55" fill="#747474"/><rect x="320.1" y="2064.2" width="48.8" height="55" fill="#7e7e7e"/><rect x="367.9" y="2064.2" width="48.8" height="55" fill="#7e7e7e"/><rect x="33.1" y="2118.3" width="48.8" height="55" fill="#777777"/><rect x="80.9" y="2118.3" width="48.8" height="55" fill="#777777"/><rect x="128.7" y="2118.3" width="48.8" height="55" fill="#5f5f5f"/><rect x="176.6" y="2118.3" width="48.8" height="55" fill="#6f6f6f"/><rect x="224.4" y="2118.3" width="48.8" height="55" fill="#828282"/><rect x="272.2" y="2118.3" width="48.8" height="55" fill="#7d7d7d"/><rect x="320.1" y="2118.3" width="48.8" height="55" fill="#777777"/><rect x="367.9" y="2118.3" width="48.8" height="55" fill="#777777"/><rect x="33.1" y="2172.3" width="48.8" height="55" fill="#777777"/><rect x="80.9" y="2172.3" width="48.8" height="55" fill="#777777"/><rect x="128.7" y="2172.3" width="48.8" height="55" fill="#5f5f5f"/><rect x="176.6" y="2172.3" width="48.8" height="55" fill="#6f6f6f"/><rect x="224.4" y="2172.3" width="48.8" height="55" fill="#828282"/><rect x="272.2" y="2172.3" width="48.8" height="55" fill="#7d7d7d"/><rect x="320.1" y="2172.3" width="48.8" height="55" fill="#777777"/><rect x="367.9" y="2172.3" width="48.8" height="55" fill="#777777"/></g>
<g mask="url(#m1)" style="mix-blend-mode:overlay"><rect x="81.4" y="1956.7" width="287" height="216.1" filter="url(#t1)"/></g>
</g>
<g clip-path="url(#c2)"><g filter="url(#gblur)"><rect x="329.8" y="1903.2" width="48.9" height="55" fill="#8e8e8e"/><rect x="377.7" y="1903.2" width="48.9" height="55" fill="#8e8e8e"/><rect x="425.6" y="1903.2" width="48.9" height="55" fill="#8c8c8c"/><rect x="473.4" y="1903.2" width="48.9" height="55" fill="#878787"/><rect x="521.3" y="1903.2" width="48.9" height="55" fill="#8c8c8c"/><rect x="569.2" y="1903.2" width="48.9" height="55" fill="#949494"/><rect x="617" y="1903.2" width="48.9" height="55" fill="#aaaaaa"/><rect x="664.9" y="1903.2" width="48.9" height="55" fill="#aaaaaa"/><rect x="329.8" y="1957.2" width="48.9" height="55" fill="#8e8e8e"/><rect x="377.7" y="1957.2" width="48.9" height="55" fill="#8e8e8e"/><rect x="425.6" y="1957.2" width="48.9" height="55" fill="#8c8c8c"/><rect x="473.4" y="1957.2" width="48.9" height="55" fill="#878787"/><rect x="521.3" y="1957.2" width="48.9" height="55" fill="#8c8c8c"/><rect x="569.2" y="1957.2" width="48.9" height="55" fill="#949494"/><rect x="617" y="1957.2" width="48.9" height="55" fill="#aaaaaa"/><rect x="664.9" y="1957.2" width="48.9" height="55" fill="#aaaaaa"/><rect x="329.8" y="2011.2" width="48.9" height="55" fill="#919191"/><rect x="377.7" y="2011.2" width="48.9" height="55" fill="#919191"/><rect x="425.6" y="2011.2" width="48.9" height="55" fill="#878787"/><rect x="473.4" y="2011.2" width="48.9" height="55" fill="#8a8a8a"/><rect x="521.3" y="2011.2" width="48.9" height="55" fill="#949494"/><rect x="569.2" y="2011.2" width="48.9" height="55" fill="#a2a2a2"/><rect x="617" y="2011.2" width="48.9" height="55" fill="#a5a5a5"/><rect x="664.9" y="2011.2" width="48.9" height="55" fill="#a5a5a5"/><rect x="329.8" y="2065.1" width="48.9" height="55" fill="#9b9b9b"/><rect x="377.7" y="2065.1" width="48.9" height="55" fill="#9b9b9b"/><rect x="425.6" y="2065.1" width="48.9" height="55" fill="#8e8e8e"/><rect x="473.4" y="2065.1" width="48.9" height="55" fill="#969696"/><rect x="521.3" y="2065.1" width="48.9" height="55" fill="#a0a0a0"/><rect x="569.2" y="2065.1" width="48.9" height="55" fill="#aaaaaa"/><rect x="617" y="2065.1" width="48.9" height="55" fill="#b4b4b4"/><rect x="664.9" y="2065.1" width="48.9" height="55" fill="#b4b4b4"/><rect x="329.8" y="2119.1" width="48.9" height="55" fill="#b2b2b2"/><rect x="377.7" y="2119.1" width="48.9" height="55" fill="#b2b2b2"/><rect x="425.6" y="2119.1" width="48.9" height="55" fill="#b0b0b0"/><rect x="473.4" y="2119.1" width="48.9" height="55" fill="#b2b2b2"/><rect x="521.3" y="2119.1" width="48.9" height="55" fill="#b1b1b1"/><rect x="569.2" y="2119.1" width="48.9" height="55" fill="#b6b6b6"/><rect x="617" y="2119.1" width="48.9" height="55" fill="#c8c8c8"/><rect x="664.9" y="2119.1" width="48.9" height="55" fill="#c8c8c8"/><rect x="329.8" y="2173" width="48.9" height="55" fill="#b2b2b2"/><rect x="377.7" y="2173" width="48.9" height="55" fill="#b2b2b2"/><rect x="425.6" y="2173" width="48.9" height="55" fill="#b0b0b0"/><rect x="473.4" y="2173" width="48.9" height="55" fill="#b2b2b2"/><rect x="521.3" y="2173" width="48.9" height="55" fill="#b1b1b1"/><rect x="569.2" y="2173" width="48.9" height="55" fill="#b6b6b6"/><rect x="617" y="2173" width="48.9" height="55" fill="#c8c8c8"/><rect x="664.9" y="2173" width="48.9" height="55" fill="#c8c8c8"/></g>
<g mask="url(#m2)" style="mix-blend-mode:overlay"><rect x="378.2" y="1957.7" width="287.2" height="215.8" filter="url(#t2)"/></g>
</g>
<g clip-path="url(#c3)"><g filter="url(#gblur)"><rect x="627.5" y="1905.8" width="48.8" height="54.9" fill="#a0a0a0"/><rect x="675.2" y="1905.8" width="48.8" height="54.9" fill="#a0a0a0"/><rect x="723" y="1905.8" width="48.8" height="54.9" fill="#969696"/><rect x="770.7" y="1905.8" width="48.8" height="54.9" fill="#969696"/><rect x="818.5" y="1905.8" width="48.8" height="54.9" fill="#969696"/><rect x="866.2" y="1905.8" width="48.8" height="54.9" fill="#919191"/><rect x="914" y="1905.8" width="48.8" height="54.9" fill="#a4a4a4"/><rect x="961.7" y="1905.8" width="48.8" height="54.9" fill="#a4a4a4"/><rect x="627.5" y="1959.7" width="48.8" height="54.9" fill="#a0a0a0"/><rect x="675.2" y="1959.7" width="48.8" height="54.9" fill="#a0a0a0"/><rect x="723" y="1959.7" width="48.8" height="54.9" fill="#969696"/><rect x="770.7" y="1959.7" width="48.8" height="54.9" fill="#969696"/><rect x="818.5" y="1959.7" width="48.8" height="54.9" fill="#969696"/><rect x="866.2" y="1959.7" width="48.8" height="54.9" fill="#919191"/><rect x="914" y="1959.7" width="48.8" height="54.9" fill="#a4a4a4"/><rect x="961.7" y="1959.7" width="48.8" height="54.9" fill="#a4a4a4"/><rect x="627.5" y="2013.6" width="48.8" height="54.9" fill="#b2b2b2"/><rect x="675.2" y="2013.6" width="48.8" height="54.9" fill="#b2b2b2"/><rect x="723" y="2013.6" width="48.8" height="54.9" fill="#9e9e9e"/><rect x="770.7" y="2013.6" width="48.8" height="54.9" fill="#969696"/><rect x="818.5" y="2013.6" width="48.8" height="54.9" fill="#989898"/><rect x="866.2" y="2013.6" width="48.8" height="54.9" fill="#969696"/><rect x="914" y="2013.6" width="48.8" height="54.9" fill="#a0a0a0"/><rect x="961.7" y="2013.6" width="48.8" height="54.9" fill="#a0a0a0"/><rect x="627.5" y="2067.4" width="48.8" height="54.9" fill="#a2a2a2"/><rect x="675.2" y="2067.4" width="48.8" height="54.9" fill="#a2a2a2"/><rect x="723" y="2067.4" width="48.8" height="54.9" fill="#969696"/><rect x="770.7" y="2067.4" width="48.8" height="54.9" fill="#9b9b9b"/><rect x="818.5" y="2067.4" width="48.8" height="54.9" fill="#9e9e9e"/><rect x="866.2" y="2067.4" width="48.8" height="54.9" fill="#9b9b9b"/><rect x="914" y="2067.4" width="48.8" height="54.9" fill="#aaaaaa"/><rect x="961.7" y="2067.4" width="48.8" height="54.9" fill="#aaaaaa"/><rect x="627.5" y="2121.3" width="48.8" height="54.9" fill="#a4a4a4"/><rect x="675.2" y="2121.3" width="48.8" height="54.9" fill="#a4a4a4"/><rect x="723" y="2121.3" width="48.8" height="54.9" fill="#989898"/><rect x="770.7" y="2121.3" width="48.8" height="54.9" fill="#989898"/><rect x="818.5" y="2121.3" width="48.8" height="54.9" fill="#a2a2a2"/><rect x="866.2" y="2121.3" width="48.8" height="54.9" fill="#ababab"/><rect x="914" y="2121.3" width="48.8" height="54.9" fill="#bebebe"/><rect x="961.7" y="2121.3" width="48.8" height="54.9" fill="#bebebe"/><rect x="627.5" y="2175.2" width="48.8" height="54.9" fill="#a4a4a4"/><rect x="675.2" y="2175.2" width="48.8" height="54.9" fill="#a4a4a4"/><rect x="723" y="2175.2" width="48.8" height="54.9" fill="#989898"/><rect x="770.7" y="2175.2" width="48.8" height="54.9" fill="#989898"/><rect x="818.5" y="2175.2" width="48.8" height="54.9" fill="#a2a2a2"/><rect x="866.2" y="2175.2" width="48.8" height="54.9" fill="#ababab"/><rect x="914" y="2175.2" width="48.8" height="54.9" fill="#bebebe"/><rect x="961.7" y="2175.2" width="48.8" height="54.9" fill="#bebebe"/></g>
<g mask="url(#m3)" style="mix-blend-mode:overlay"><rect x="675.7" y="1960.2" width="286.5" height="215.5" filter="url(#t3)"/></g>
</g>
<g clip-path="url(#c4)">
<rect x="991" y="1961" width="287" height="214.7" fill="#050002"/>
<g filter="url(#hblur)"><rect x="942.7" y="1906.8" width="48.8" height="54.7" fill="#43020a"/><rect x="990.5" y="1906.8" width="48.8" height="54.7" fill="#43020a"/><rect x="1038.3" y="1906.8" width="48.8" height="54.7" fill="#6c0311"/><rect x="1086.2" y="1906.8" width="48.8" height="54.7" fill="#6c0311"/><rect x="1134" y="1906.8" width="48.8" height="54.7" fill="#5e020f"/><rect x="1181.8" y="1906.8" width="48.8" height="54.7" fill="#5e020f"/><rect x="1229.7" y="1906.8" width="48.8" height="54.7" fill="#5e020f"/><rect x="1277.5" y="1906.8" width="48.8" height="54.7" fill="#5e020f"/><rect x="942.7" y="1960.5" width="48.8" height="54.7" fill="#43020a"/><rect x="990.5" y="1960.5" width="48.8" height="54.7" fill="#43020a"/><rect x="1038.3" y="1960.5" width="48.8" height="54.7" fill="#6c0311"/><rect x="1086.2" y="1960.5" width="48.8" height="54.7" fill="#6c0311"/><rect x="1134" y="1960.5" width="48.8" height="54.7" fill="#5e020f"/><rect x="1181.8" y="1960.5" width="48.8" height="54.7" fill="#5e020f"/><rect x="1229.7" y="1960.5" width="48.8" height="54.7" fill="#5e020f"/><rect x="1277.5" y="1960.5" width="48.8" height="54.7" fill="#5e020f"/><rect x="942.7" y="2014.2" width="48.8" height="54.7" fill="#5e020f"/><rect x="990.5" y="2014.2" width="48.8" height="54.7" fill="#5e020f"/><rect x="1038.3" y="2014.2" width="48.8" height="54.7" fill="#6c0311"/><rect x="1086.2" y="2014.2" width="48.8" height="54.7" fill="#5e020f"/><rect x="1134" y="2014.2" width="48.8" height="54.7" fill="#6c0311"/><rect x="1181.8" y="2014.2" width="48.8" height="54.7" fill="#43020a"/><rect x="1229.7" y="2014.2" width="48.8" height="54.7" fill="#51020c"/><rect x="1277.5" y="2014.2" width="48.8" height="54.7" fill="#51020c"/><rect x="942.7" y="2067.8" width="48.8" height="54.7" fill="#6c0311"/><rect x="990.5" y="2067.8" width="48.8" height="54.7" fill="#6c0311"/><rect x="1038.3" y="2067.8" width="48.8" height="54.7" fill="#5e020f"/><rect x="1086.2" y="2067.8" width="48.8" height="54.7" fill="#5e020f"/><rect x="1134" y="2067.8" width="48.8" height="54.7" fill="#6c0311"/><rect x="1181.8" y="2067.8" width="48.8" height="54.7" fill="#6c0311"/><rect x="1229.7" y="2067.8" width="48.8" height="54.7" fill="#51020c"/><rect x="1277.5" y="2067.8" width="48.8" height="54.7" fill="#51020c"/><rect x="942.7" y="2121.5" width="48.8" height="54.7" fill="#6c0311"/><rect x="990.5" y="2121.5" width="48.8" height="54.7" fill="#6c0311"/><rect x="1038.3" y="2121.5" width="48.8" height="54.7" fill="#5e020f"/><rect x="1086.2" y="2121.5" width="48.8" height="54.7" fill="#6c0311"/><rect x="1134" y="2121.5" width="48.8" height="54.7" fill="#5e020f"/><rect x="1181.8" y="2121.5" width="48.8" height="54.7" fill="#43020a"/><rect x="1229.7" y="2121.5" width="48.8" height="54.7" fill="#5e020f"/><rect x="1277.5" y="2121.5" width="48.8" height="54.7" fill="#5e020f"/><rect x="942.7" y="2175.2" width="48.8" height="54.7" fill="#6c0311"/><rect x="990.5" y="2175.2" width="48.8" height="54.7" fill="#6c0311"/><rect x="1038.3" y="2175.2" width="48.8" height="54.7" fill="#5e020f"/><rect x="1086.2" y="2175.2" width="48.8" height="54.7" fill="#6c0311"/><rect x="1134" y="2175.2" width="48.8" height="54.7" fill="#5e020f"/><rect x="1181.8" y="2175.2" width="48.8" height="54.7" fill="#43020a"/><rect x="1229.7" y="2175.2" width="48.8" height="54.7" fill="#5e020f"/><rect x="1277.5" y="2175.2" width="48.8" height="54.7" fill="#5e020f"/></g>
<path d="M1111.9 2170.6a16.3 10.1 0 1 0 0.1 0zM1044.9 2139.2a18.1 7.7 0 1 0 0.1 0zM1177.7 2111.4a17.7 12.8 0 1 0 0.1 0zM1097.1 2069.6a16.6 7.1 0 1 0 0.1 0zM998.7 1993.9a18 8.6 0 1 0 0.1 0zM1268.8 1971.8a19.8 10.4 0 1 0 0.1 0zM1062 1964.4a12.7 13.6 0 1 0 0.1 0zM1007.8 2132.2a17.7 9.9 0 1 0 0.1 0zM1197.2 2055.5a10.8 7.1 0 1 0 0.1 0zM1126.6 2119.1a8.2 7.2 0 1 0 0.1 0zM1254.6 2075.4a14.7 10.9 0 1 0 0.1 0zM1033.5 2055.6a12.7 11.8 0 1 0 0.1 0zM1131.6 2101.8a19 9.9 0 1 0 0.1 0zM1219.8 2082.1a13.7 8 0 1 0 0.1 0zM1263.4 2120.4a9.7 8.9 0 1 0 0.1 0zM1022.7 1984.7a9 12.8 0 1 0 0.1 0zM1231.5 2067.7a12.1 13.1 0 1 0 0.1 0zM1212.8 2055a12.4 14 0 1 0 0.1 0zM1071.2 2073.7a10.4 11.5 0 1 0 0.1 0zM1184.4 2108.5a8.5 6.1 0 1 0 0.1 0zM1206.1 2174.8a16.1 13.7 0 1 0 0.1 0zM1244.4 2054.1a15 13.6 0 1 0 0.1 0zM1000 2006.9a17.7 13.8 0 1 0 0.1 0zM1021.6 2079.8a16.7 12.9 0 1 0 0.1 0zM1060.2 2044.3a11 8.7 0 1 0 0.1 0zM1251.6 2155a14.4 11 0 1 0 0.1 0zM1245.3 1963.3a10.3 8.5 0 1 0 0.1 0zM1230.6 2152a14.3 12.5 0 1 0 0.1 0zM1182.9 1983.1a10.7 8.1 0 1 0 0.1 0zM1167.9 2012.1a12.9 10.6 0 1 0 0.1 0zM1167.5 2171.2a11.6 6.2 0 1 0 0.1 0zM1255.7 2094.9a18.2 9.5 0 1 0 0.1 0zM1165.9 2012.8a17.2 11.2 0 1 0 0.1 0zM1124.3 2089.4a14.2 6.8 0 1 0 0.1 0zM1098.2 2035a18.6 10.1 0 1 0 0.1 0zM1019.3 2027.7a9.2 7 0 1 0 0.1 0z" fill="#000" opacity="0.8" filter="url(#dblur)"/>
<path d="M1171.6 2057.7a12.2 12.9 0 1 0 0.1 0zM1276.7 2153.3a25.1 9.8 0 1 0 0.1 0zM1007.5 2118.5a18 9.9 0 1 0 0.1 0zM1079.4 2085.6a23.4 11 0 1 0 0.1 0zM1074.3 1967.1a22.4 16.6 0 1 0 0.1 0zM1275.7 1972a19.4 8.9 0 1 0 0.1 0zM1155.8 2113.2a18.1 12 0 1 0 0.1 0zM1148.1 2162.1a17.5 16.2 0 1 0 0.1 0zM1123.9 1968.3a12.5 16.5 0 1 0 0.1 0zM1243 2048.5a25.9 11.2 0 1 0 0.1 0zM1041.9 2004.6a14.5 12.9 0 1 0 0.1 0zM1155 2125.3a23.1 10 0 1 0 0.1 0zM1151.6 2174.3a22.2 13.9 0 1 0 0.1 0zM1048.6 2082.9a23.1 17 0 1 0 0.1 0z" fill="#d01020" opacity="0.55" filter="url(#dblur)" style="mix-blend-mode:screen"/>
<g filter="url(#nblur)" opacity="0.85"><path d="M997.3 2061.5a12.6 9 105 1 0 -6.6 24.2a12.6 9 105 1 0 6.6 -24.2zM1033.6 2117.8a12.9 9.6 164 1 0 -24.8 7.1a12.9 9.6 164 1 0 24.8 -7.1zM1009.4 2139.6a11.3 7.6 155 1 0 -20.5 9.3a11.3 7.6 155 1 0 20.5 -9.3zM1033.1 2054.7a11.7 8.5 24 1 0 21.2 9.8a11.7 8.5 24 1 0 -21.2 -9.8zM1107.1 1971.7a10.8 9.1 14 1 0 20.8 5.4a10.8 9.1 14 1 0 -20.8 -5.4zM1121.8 2073.3a12.1 9.2 71 1 0 7.8 22.9a12.1 9.2 71 1 0 -7.8 -22.9zM1145.9 1958.9a12.7 9.2 93 1 0 -1.6 25.4a12.7 9.2 93 1 0 1.6 -25.4zM1171.8 2074.5a12.1 9.1 163 1 0 -23.3 6.7a12.1 9.1 163 1 0 23.3 -6.7zM1163.4 2106.2a12.2 9.5 104 1 0 -6.2 23.6a12.2 9.5 104 1 0 6.2 -23.6zM1177.5 2154.1a12.4 9.3 144 1 0 -20.2 14.4a12.4 9.3 144 1 0 20.2 -14.4zM1170.7 2029.8a11.4 8.8 28 1 0 20.2 10.8a11.4 8.8 28 1 0 -20.2 -10.8zM1187.1 2049a11 7.8 45 1 0 15.4 15.8a11 7.8 45 1 0 -15.4 -15.8zM1165.3 2124.3a10.8 8.8 13 1 0 21 5a10.8 8.8 13 1 0 -21 -5zM1225.5 2026.1a11.9 8.3 179 1 0 -23.8 0.2a11.9 8.3 179 1 0 23.8 -0.2zM1241.5 2126.7a11 9.2 168 1 0 -21.6 4.3a11 9.2 168 1 0 21.6 -4.3zM1255.3 2157.8a10.6 8.6 174 1 0 -21.2 2.1a10.6 8.6 174 1 0 21.2 -2.1z" fill="#3a26d8"/><path d="M1026.2 1970.9a10.1 8.9 96 1 0 -2.3 20a10.1 8.9 96 1 0 2.3 -20zM1012 2011.5a11.4 7.6 100 1 0 -4.1 22.4a11.4 7.6 100 1 0 4.1 -22.4zM1056.3 2037.6a12.6 7.8 170 1 0 -24.8 4.3a12.6 7.8 170 1 0 24.8 -4.3zM1052.2 2101.8a12.9 9.9 137 1 0 -19 17.4a12.9 9.9 137 1 0 19 -17.4zM1047.6 2151.3a12 7.9 100 1 0 -4.2 23.6a12 7.9 100 1 0 4.2 -23.6zM1071.8 1976.4a12.2 8.6 70 1 0 8 23a12.2 8.6 70 1 0 -8 -23zM1056.6 2007a10.1 9.8 34 1 0 16.6 11.5a10.1 9.8 34 1 0 -16.6 -11.5zM1084.2 2037.4a11.7 8.3 87 1 0 1.2 23.3a11.7 8.3 87 1 0 -1.2 -23.3zM1067.1 2147.8a10.8 8.8 94 1 0 -1.8 21.5a10.8 8.8 94 1 0 1.8 -21.5zM1196.5 2144.2a12.1 8.7 80 1 0 4.1 23.8a12.1 8.7 80 1 0 -4.1 -23.8zM1226 1964a12.8 9.9 85 1 0 2 25.6a12.8 9.9 85 1 0 -2 -25.6zM1224.5 2056.9a11.7 9.5 52 1 0 14.3 18.5a11.7 9.5 52 1 0 -14.3 -18.5zM1233.3 2152.9a12.3 8.4 108 1 0 -7.9 23.3a12.3 8.4 108 1 0 7.9 -23.3zM1251.5 2115.1a10.9 9 67 1 0 8.3 20.2a10.9 9 67 1 0 -8.3 -20.2z" fill="#4a30e8"/><path d="M1027.2 1992.4a12.8 7.6 44 1 0 18.1 18a12.8 7.6 44 1 0 -18.1 -18zM1089.6 2087.6a10.3 9.9 106 1 0 -6 19.7a10.3 9.9 106 1 0 6 -19.7zM1106 2010.5a12.6 9.7 92 1 0 -1.1 25.2a12.6 9.7 92 1 0 1.1 -25.2zM1113.8 2123.6a11.2 8.6 151 1 0 -19.6 10.6a11.2 8.6 151 1 0 19.6 -10.6zM1116.8 2159.4a11.4 8.4 52 1 0 13.8 18.2a11.4 8.4 52 1 0 -13.8 -18.2zM1171.2 2020.6a12.6 9.1 159 1 0 -23.6 8.9a12.6 9.1 159 1 0 23.6 -8.9zM1207.9 1974.2a12 8.3 128 1 0 -15 18.7a12 8.3 128 1 0 15 -18.7zM1243.8 1972.7a10.7 7.8 18 1 0 20.2 7a10.7 7.8 18 1 0 -20.2 -7zM1241.1 2007.9a11.2 7.9 38 1 0 17.4 14a11.2 7.9 38 1 0 -17.4 -14zM1264 2057.9a11.4 8.5 42 1 0 16.7 15.6a11.4 8.5 42 1 0 -16.7 -15.6z" fill="#3020b8"/></g>
<g fill="none" stroke-linecap="round" style="mix-blend-mode:screen" filter="url(#fblur)"><path d="M1200.4 2102.8q0.1 5.1 -2.3 9.6M1208.3 2083.9q-9.6 5.6 -16.3 14.5M1023.5 2157.2q12.6 -6.5 22.7 -16.6M1205.2 2088q3.2 12.3 5.7 24.9M1016.8 2035.9q4.5 11.2 11 21.3M1028.4 2108q11.4 -0.9 22.1 -4.7M1100.4 2134.7q5.4 0 10.6 -1.7M1135.6 2006.2q-13.5 1.9 -23.5 11.1M1078.8 1959.4q3.7 11 12.4 18.7M1189 2046.4q-1.8 7 -6.1 12.9M1231.8 2047.9q1 12.1 -3 23.6M1016.2 2134q5.8 2.1 12 1.4M1182.9 1951.9q-6.5 2 -13.4 2M1006.3 2104.4q-3 14.3 -11.3 26.3M1044.6 2067q12.1 -5.2 24.7 -1.6M1262.8 2017.5q11.8 1.6 21.9 7.8M1237.2 2044.8q6.5 10.6 8.4 22.9M1263.9 1978.8q-4.3 8.2 -1 16.9M1004.9 2027.6q-9.7 13.3 -26.1 14.7M1029.5 2176.6q8.8 -7.9 16.5 -16.9M1074.3 1949.6q-0 4.2 -0.1 8.3M1179.2 1983.4q-10.6 -1.2 -20.6 -5M1048.7 1971.7q-2.4 12.9 1 25.5M994.5 2162.9q1.6 4.8 5.4 8M1144.2 2149.4q-2.1 6.7 -1.8 13.7M1008.6 2165.2q11.4 6.5 24 2.9M1147.7 2003.7q-3.2 5.5 -9.1 7.7M1018.1 2082.2q10.6 2.1 18.2 9.8M1164.2 2075.2q-5 1.8 -9 5.4M1104.5 2021.4q5.2 2.2 6.9 7.6M1046.9 2069.5q5.9 2.8 11.9 5.4M1245.2 1986.3q5.1 13.9 18.1 21M1049.6 2030.4q7.9 3.8 16.4 6.2M1175.9 2024.6q-11.8 2.9 -19.3 12.5M1225.8 2091.6q0.3 8.5 0.6 17.1M1050.9 2154.4q4.2 -6.4 11.5 -8.6M1114.4 2028.8q3.1 3.2 3.8 7.6M1036.9 2152.9q8.5 -3.9 14.6 -11M1123 2177.6q8.8 12.1 23.2 16.2M1138.6 2133.2q1.3 8.6 8.7 13.1M1090.4 2178.1q3.5 -3.2 8.2 -4.3M1235.2 2033.5q-1.4 8 -0.8 16.1M1147.7 2074.8q-3.5 2.2 -6.7 4.8M1232.3 1944.6q-2.4 9.6 -4.6 19.2M1174.6 1970.2q-12.7 -4.9 -25.7 -8.8M1265.6 2182.5q9.1 -7.8 21 -7.4M1167.3 2051.3q-9.6 1.2 -18.1 5.6M1220.3 2080q-0.4 11.1 7.3 19.1M1030.8 2006.8q11.5 10.1 18.3 23.7M1088.5 2084.7q11.5 4.5 23.7 3.1M1172.3 2031q-1.8 4.4 -6.4 5.6M1094.8 2102.8q9.9 2.2 19.7 4.9M1140.7 2174q7.4 3.5 11.3 10.7M1221 2121.9q10.4 -1.6 19.4 3.8M1225.8 2131q12.5 8 27.3 6.2M1268.8 2100.7q7.2 -0 14.5 -0.3M1142.9 2111.9q-0.7 8.2 5.3 14M1056 2181.8q9.8 -10.7 9.5 -25.2M1169.8 2065.3q-3.5 12.1 -13.6 19.5M1202.4 1969q-5.9 -0.9 -9.9 -5.3M1105.4 2191.3q8.5 -7.7 14.7 -17.4M1052.2 2052.1q10.4 -11.6 26 -10.2M1140.3 2126.8q3 4.6 3.4 10.1M1131.7 2018.1q1.2 5.7 2.5 11.4M1234.3 2006.8q11.6 10.6 11 26.4M990.9 2093.9q13.5 6.7 19.5 20.5M1054.1 2105q11 -4.2 15.3 -15.2M1018.4 2048.4q6.2 4.6 8.3 12M1188.6 2026q-13.6 -2.1 -27.1 -4.7M1210.9 2110.1q5.9 9.8 2.2 20.6M1138.6 2068.6q0.4 4.8 -0.5 9.5M1229 2059.2q11 9.5 13.6 23.9M1028.1 2167.4q4.4 1.8 8.9 0.4M1137.5 2100.5q-0.9 6.9 -5 12.6M1082.1 2018q5.1 6.5 11.5 11.8M1212.3 1977.5q-4.3 5.3 -11 5.8M1138.6 2163.9q2.8 3.9 3.9 8.5M1077.3 1980.9q4 8.2 8.6 15.9M998.8 1962.9q-6.3 4.1 -13.4 6.3M1053.9 1964.1q4.8 11.8 12.2 22.2M1076.6 2139.6q9 -2.9 15.7 -9.5M1007.6 2069.1q-8.5 8.5 -9 20.5M996.8 1974.2q-5.8 6.6 -9.7 14.6M1252.1 2148.6q10.9 -6.5 20.7 -14.6M1165.7 2064q-3.2 8.2 -7.6 15.8M1249.6 2146.6q3.6 -3.4 8.5 -4.6M1080.2 2190.2q9.2 -3.5 13.2 -12.5M1089.6 2084.3q9.1 4.2 18.8 6.4M1282.9 2140.3q8.5 -12.5 6.8 -27.5M1138.8 1975.8q-2.1 8.9 -10.1 13.4M1242.9 1995.8q-0.5 7 -4.4 12.8M1138.7 2160.5q1.2 5.2 5.5 8.4M1172 2142.3q1.4 7.2 2.7 14.5M1239.5 2004.8q1.2 12 3.6 23.9M1212 1950.4q-14.4 1.5 -24.6 11.8M1148.3 2136.5q0.9 4 2 7.9M1255.7 2125.9q5.6 0.7 10.3 -2.6M1229.8 2143q7.8 2.1 15.2 5.5M1117.8 1966.3q-4.5 11.2 -3.4 23.3M1047.2 1998q1.3 6.5 7.3 9.4M1065.6 2014q8.4 1.4 14.7 -4.2M1163.4 1992q-12.2 1 -23.3 -4.1M1206.4 2021.1q-12.6 8.5 -27.4 5M973.1 2162.8q9.5 11.1 17.9 23.1M1194.2 2116.9q-7.6 12.4 -13.2 25.8M1134.9 2058.3q3.5 5.5 2.8 11.9M1002.1 2050.2q-1 7.6 -6.9 12.6M1164.3 2092q-4.3 9.1 -2 18.9M1178.2 1997.1q-6.5 -4.4 -14.2 -2.5M1266.2 1948.1q12.5 7.8 19 21M1147.3 2143.2q2.5 4.4 4.3 9.1M1032.1 2173.3q5.8 -0.2 11.2 -2.3M1050.1 2133.5q3.2 -3.1 5.9 -6.7M1115.7 2045.1q1.1 7.7 4.9 14.6M1051 2068.5q10.4 0.1 20.8 0.3M1242.3 2094.5q14.3 2.3 28.5 -0.4M1192.7 2058.4q-8.4 6.7 -13.2 16.4M1156 1990.6q-5.5 -0.1 -10.1 2.8M1195.5 2033.9q-8.8 10.8 -22.1 14.8M1165.6 2148.6q3.8 11 5.4 22.5M1278.6 2017.2q7 7.9 16.4 12.7M1063.1 2134.5q3 -9.8 11.9 -14.9M1245.4 1984.7q-4.5 9.6 -1.5 19.8M1051.9 2120.9q8.9 -0.7 17.8 -1.2M1062.1 2116.6q8.9 -5.2 19.3 -4.9M1146.8 2168.6q5.9 10.1 11.9 20.2M1155 2024.9q-3.2 5.7 -9.5 7.6M1263.3 2140.7q6.5 -5.1 11.7 -11.5M1280.1 2175.4q3.7 -8.6 10.2 -15.4M1088.8 2163.4q6.8 -6.1 11.8 -13.7M1051.2 1995.6q11.1 5 17.2 15.5M1132.9 2015q-5.1 3.1 -7 8.8M1136.4 2028.5q-1.5 14.9 -10.7 26.7M1092.7 2077.8q9.8 5.5 14.7 15.5M1164.6 1988.5q-9.9 4.9 -14.5 14.9M1069.4 2068.7q6.9 3.1 13.8 5.9M1206.4 2077.8q-2.3 11.6 -11.4 19.1M1086.7 2156.3q6 -3.2 7.5 -9.8M1030.4 1990.1q2.1 5 2.8 10.3M992.8 2179q12.6 4.1 25.6 2M1249.1 1985.4q3.4 11.6 6.7 23.3M1205 2093.1q2.1 6.4 -1.7 12M1018.3 2013.2q8.4 12.2 17.9 23.5M1028.4 1946.1q-7.6 5 -10.8 13.5M1046.6 1996.2q10.2 2.5 14.8 12M1189.2 2074.1q-9.8 8.5 -15.4 20.1M1183.5 2174.6q4.7 7.9 1.5 16.6M1144.5 2103.2q4.6 11 2.7 22.8M1252.5 2002.6q-0.2 10.1 -7 17.5M1007.4 2041.5q1.6 6.9 1.6 14M993.5 2126.2q6.4 9.9 18.1 11.6M1264 1997.3q2.4 10 9.7 17.3M1192.4 2136.5q12.7 8.9 17.7 23.5M1121.1 2056.9q8.3 5.9 9.2 16.1M1150.1 1966.7q-5.5 1.2 -10.5 3.8M1238.2 2079.6q11.2 0 20.1 6.9" stroke="#b00818" stroke-width="0.9" opacity="0.85"/><path d="M1029.4 2137.8q10.7 3.4 19.9 -3M1093.1 1983q2.5 14.7 8.1 28.4M1089.8 2122.5q7.3 -2.6 15 -3.4M1090 2002q-7.1 12.1 -5.2 26.1M985 2133.4q4.4 3.7 10.1 3.7M1282.8 1972.3q-0.6 11.3 7.2 19.4M982.9 2159.8q0.5 5.7 5.1 9.1M1002.8 1965.3q-13.3 1.4 -26.6 -0.2M1167.9 2017.5q-4.1 1.4 -7.3 4.3M1013 2074.6q6.4 5.3 14.1 8.1M1069.5 2155.4q8.5 -2.7 13.5 -10.2M1224 1992q-15.6 5 -21.8 20.2M989.5 2060.3q-1.4 4.2 -4.8 7.1M1046.6 1974.4q10.8 8.2 13.7 21.5M1068.6 2014.9q6.9 1 12.8 4.7M1252.7 1996.6q-2.5 14.5 6.4 26.2M1147.5 1957.9q-5.6 5.2 -13.2 5.9M1054.5 2129.2q3 -3.6 4.2 -8.2M1193.3 2062.6q-5.5 8.7 -6.3 18.9M1245.8 2026.7q8.6 10.1 12.1 22.8M1178.7 1995.1q-11.4 8 -25.3 7.4M1211.7 2091.7q4.5 7.5 10.1 14.1M1220.4 2159.5q3.4 3.1 7.4 5.3M1253.9 1973.9q-2.8 8.2 0.7 16.2M1118.2 1940.5q-3.7 14.6 -12.1 27M1248 2133.3q11.8 -5.2 24 -9.4M1135.1 2049.7q3.5 11.9 1.3 24M1253.1 1993.2q7 1.4 13.2 4.7M1208.1 2090.2q3.2 10.6 4.2 21.6M1178.4 2082.8q1.2 8.5 3.7 16.7M1163.6 2091.3q-6.4 8.7 -10.1 18.8M1059.5 2143.7q1.6 -5.3 1.9 -10.9M1061 2096.5q11.5 -0.1 22.7 -2.7M1086.6 2169.1q9.3 -0.4 17.8 -4.1M995.2 2069.7q-1.8 4.8 -0.8 9.8M1012.6 1994.8q-9.9 7.4 -12.3 19.6M980.6 2103.3q-2.5 12.1 3.9 22.6M1219.9 2123.7q3.9 3.7 7.9 7.4M1094.1 2156.7q11.2 2 22.6 3.2M1035.5 2082q5 4.3 11.5 4.5M1083.4 2034.4q11.2 0.5 18.3 9.1M1258.7 2003.2q5.9 0.9 10.1 5.3M1065.6 2088.2q3.7 -2.1 6.5 -5.3M988.3 2154.4q9.9 3.7 18.7 9.8M1206.7 2095.4q-4.3 11.7 -1.6 23.9M1185.8 2051.7q-12.6 5.9 -25.9 2.2M1038.6 2168.4q2.1 -5.5 7.5 -8M1140.7 2048.7q1.6 5.3 0.5 10.8M1160.7 1984.1q-6.5 0.6 -12.9 -0.9M1251.1 2178.5q10.7 -0.6 20.9 -3.6M1098.8 2004.2q1 4.5 4.3 7.8M1136.1 2061.4q-0.6 10.1 -4.5 19.5M1082.4 2025.4q7.1 7.3 13.5 15.1M996.8 2153.8q4.1 1.5 8.3 1.1M1133 1965.5q-9.2 10.3 -15.5 22.7M1202.5 2162.6q0.2 5.2 1.2 10.3M1176 2042.6q-4.6 12.4 -13.1 22.6M1000 2022.4q-8.6 3.2 -17.6 1.3M1016.6 2148.1q9.5 0.6 16 7.5M1234.9 2054.5q4.2 4.5 6 10.4M1093.7 2182.4q9.2 -11.4 22.9 -16.6M1254.4 2129.2q5.9 -4.4 13.1 -3.2M1197.4 2010.7q-5.6 -2.1 -11 0.7M1093.9 2058.6q8.1 2.4 16.4 4.1M1113.7 2150.7q5.1 -1.6 10.4 -1.4M1056.6 2073.3q5.3 4.2 11.9 3.2M1227.7 2049.7q-6.1 10.4 -9.6 22M990.1 2083.4q0.8 5.7 -1.1 11.1M1005.5 2050.8q-6.4 5.5 -7 14M1031.7 2027q7.5 4.9 10.7 13.3M1222.2 2184.6q5.1 2.5 10.8 1.9M1168.6 2127q-7.4 5.1 -11 13.3M993.7 2037.1q-8.9 4 -13.4 12.7M1061.2 2179.2q3.1 -11.7 13.5 -18M1198.2 2045.4q-4.9 6.3 -12.7 8.3M1092.9 2056.5q1.4 8.3 7.9 13.5M1260.4 2156.6q4.6 -3.8 10.1 -6.2M988.7 2137.5q0 7.6 1.5 15M1237.4 1981.7q1.3 4.6 0.5 9.3M1195.8 2123.2q-1.2 13.3 -3.8 26.4M1270.9 1950.7q1 13.1 11.2 21.4M1089.4 2086.9q4.2 -1.4 8.6 -1.1M1175.1 1963.4q-11.8 0.9 -23.4 3.1M1236.2 2042.8q2.8 12 9.1 22.7M1075.6 2150.2q4.9 -11.5 13.2 -20.8M1214.2 1991.3q-10.8 3.4 -19 11.3M1022.3 2130.8q15.1 -0 27.7 8.2M1248.8 1955.7q-0.9 5.3 -1.6 10.6M1123.4 2016.4q1 14.7 -2.2 29.1M994.1 1992.1q-10.2 5 -21.1 1.5M1009.5 2054.3q-1.5 9.6 -8.4 16.2M1233.3 2152q5.7 1.6 9.7 6M1083.7 1984.3q13.7 3.1 20.9 15.2M1077.1 2023.6q9.1 6.1 16.2 14.3M1113.8 2040.8q2.8 5.9 3.9 12.3M1278.8 1964.8q12.3 9.4 17.9 23.8M1202.3 2173.1q5.2 11 2 22.8M1169 1994.7q-10.7 -1 -20.4 -5.8M1237.2 2085.7q13 -4.4 24.9 2.5M1175.2 2132.1q-3.2 5.1 -6.8 9.9M1232.2 2038.2q-2.9 6.3 -5.3 12.9M1036.9 1964.1q2.4 4.8 0.8 10M1264.1 2112.9q9.2 -5.5 15.7 -13.9M1088.8 2054.1q13.7 3.2 26 9.9M1029.4 2075.5q3.1 4.3 7 8.1M1020.6 2011.7q-0.7 4.4 -2.3 8.7M1045.4 2091.9q8.3 1.9 12.7 9.3M1069.9 2071.9q4.7 -3.1 10.3 -3.4M1098.9 2176.2q5.5 -3.1 11.8 -3.2M1137.6 1991.7q-3.5 12.4 -8.3 24.4M1058.1 2096.2q11.3 -8.4 16.1 -21.5M1044.3 2007.2q7.2 6.3 16.6 8M1057.4 2167q5.6 -14.8 20.3 -20.9M1250.8 2024.9q6 5.4 12.6 10M1217 2062.1q1.6 8.9 -3.3 16.4M1053.4 2176.3q-0.6 -6.1 2 -11.6M1221.9 2009.6q-6.8 9 -13.7 17.9M1235 1994.6q2.9 4.3 3.4 9.4M1120.8 2014.4q0.5 4.8 -2.3 8.7M984.1 2113q0.8 9.5 -1.4 18.7M1271.2 2066.7q6.3 -2.5 13 -1.4M1153.1 2068.7q-1.2 7.6 -6.4 13.1M1211.8 2029.4q-12.3 6.8 -26.2 9.2M1250.3 2146.7q3 -3.1 6.2 -6M1089.9 2146.5q3.8 -2.2 7.8 -4.1M1003 2028.1q0.6 9.9 0.1 19.8M1242.6 2017.2q10.6 10.8 12.9 25.8M1010.1 1955.1q-1 4.5 -5.1 6.6M1087.1 2002.6q13.5 7.2 19.6 21.2M1122.7 2067.1q0.1 6.5 0.4 13.1M1166.1 2087.5q-7.3 8.3 -12.8 18M1138.7 2130.6q5.8 8.5 15.9 10.7M1182.3 2023q-6.5 13.6 -20.4 19.3M1078.9 2028.2q5.6 1.8 11 4M1127.8 1967.3q-6.3 6.5 -9.8 14.8M1194.9 2025.2q-10.8 0.2 -21.5 0.8M1079.6 2041.1q2.7 3.8 6.5 6.6M1102.3 2124q13.4 2 26.9 2.9M1100.8 2179.7q6.6 -2.4 13.6 -1.9M1238 2057.3q5.2 5.7 12.9 5.5M1220.2 2108.3q4.2 14.2 16.9 21.8M1098.7 2078.5q7 10.6 19.4 13.7M1151.4 2086.4q0.4 5.8 3.8 10.4M994.1 2052.1q-2.2 3.5 -5.7 5.6M987.7 2072.5q-1.4 13 -9.4 23.3M1243.7 2014.3q1.1 9 3.2 17.8M1138.8 2145.1q4.2 8.1 5.8 17M1248.5 2021q9.2 8 10.2 20.1M1101.3 2153.4q14.4 -3.5 26.9 4.5M1055.7 2069.3q7.1 -3.9 9.3 -11.7M1229.3 1981.7q-12.7 4.9 -26.1 7.4M1024.4 2020.6q6.5 10.9 9.9 23.2M979.2 2162.7q0.9 6.8 4.9 12.4M1068.2 2174.4q9 -8.3 12.6 -20.1M1259.5 2187.5q10.8 -0.6 17.9 -8.6M1246.5 1992.4q1.7 7.2 4.9 13.9M1258.5 1999.8q1.7 5.2 6.5 8M1154.4 2124.1q4.8 9 3.9 19.2M1098 2149.7q6.1 -3.9 12 -8.2M1202.3 1953.5q-14.1 -1.1 -28.2 -2M1211.1 2041.1q-9.4 7.8 -18.7 15.8M1000.9 2153.3q1.7 5.2 5.6 9M1217 2012.8q-13.4 -4.4 -25.5 2.9M1108.7 2118.8q12.3 1.1 22.8 7.7M1230.3 2166.3q9.8 6.6 21.3 9.1M1239.5 2049.9q5.2 9.4 13.2 16.4M1110 2030.1q5 2.1 8.3 6.4M1025.5 2085.2q3.9 2.1 7.2 5M993 2103.5q8.8 8.5 7.5 20.6M1212.4 1992.7q-4.5 3 -9.3 5.3M1148.7 1977.5q-7.3 0.4 -12.8 5.2M1057.8 1981.3q0.1 4.4 3 7.7M1108.7 2153.6q8.7 -4.6 16.2 -11M1262.1 2150.8q7.4 -1.8 14.7 0.2M1249 2012.9q4.3 7.5 10.7 13.3M1049.2 2069.1q7.7 -2.7 14.9 1.1M1223.5 2049.8q-4.4 8.9 -11.1 16.1M1277 1993.7q2.6 5.7 2.8 12M988.8 2076.8q-7.8 1.7 -12.8 8M1224.5 1946.3q-10.3 2.7 -18.2 9.9M1226 2153.4q7.3 0.1 13.8 3.4M1080.1 2090.2q10.5 0.6 21 -0.4M1252.2 1983.1q-4.3 9.8 -4.1 20.5M1087.6 2024.1q4.6 10.5 9.3 21M995.6 2059q-1.9 4.1 -3.7 8.2M1134.5 1975.5q-7 11.3 -18.8 17.2M1138 1976.7q-3.7 3.2 -7.7 6.2M1178.1 2003.2q-3.3 4.8 -7 9.3M1265.2 2168.9q4.3 -1.6 7.3 -5M1036.5 2115q14.2 5.7 27.7 -1.7M1097.4 2031q-0.6 8.2 3 15.5M1179.1 2047.3q-6.6 0.3 -12.2 3.8M1197.6 2152.9q4.3 10 4.8 21M1254.8 2138.3q11.2 -5.8 16.8 -17.1M985.3 2109.8q-5 6.3 -3.3 14.2M1001.7 1954.6q-13.1 -2.5 -24.8 4M1253.4 2085.7q4.1 5.7 11.1 6.4M1219.1 2063.1q-1.5 11.1 4.1 20.8M1034 2050.4q10.4 6.4 22.3 3.9M1050.8 1970q8.2 3.8 17.2 3.7M1133.5 2098.2q9.8 12 6.3 27M1272.4 2129.9q2.5 -9 6.3 -17.6M1277.3 1988.9q0.7 4.7 1.6 9.4M1213.6 2029.8q1.6 6 -2.2 10.9M1126 2164.3q9 8.3 21.3 9.4M1052.4 2152.8q9.6 -10.8 22.7 -16.8M1096.2 2044.8q12.4 2.2 21.9 10.6M1252.2 2105.5q3.3 5.1 9 7.3M1140.4 1996q-5.4 1.4 -10.5 3.7M1051 2115.2q4.5 -3 8.8 -6.4M1020.9 2163.7q7.9 3.6 16.4 1.7M1223.6 2131.8q10.7 2.8 20.9 7M1163 2148.5q-0 13.2 2.2 26.1M1076.7 1972.8q1.1 3.9 3.2 7.5" stroke="#e81424" stroke-width="1.2" opacity="0.9"/><path d="M1031.4 2092.4q12.3 5.3 23.1 13.4M979.6 2137.8q1.1 12.2 11.3 19.1M991.4 2110.3q3.1 14.4 12.5 25.8M1143.5 2152.5q8.2 5.8 15.5 12.7M1273.4 2007.4q13 2.1 24.2 9.1M1026.6 1980.9q0.7 8.1 0.2 16.3M1090.8 1950.2q-0.3 5.3 2.7 9.6M1063.1 1994.2q13.9 -0.2 22.6 10.5M1041.7 2091.5q8.4 0.2 13.9 6.6M1088 2089.1q3.5 2.1 7.3 3.3M1013 2053q3.5 2.7 7.5 4.7M1089.5 2187.7q5.1 -4.3 10.2 -8.5M1127.9 2007.4q7.8 11.7 7.3 25.7M1249.1 2188.4q9.2 -3.7 18 -8.2M1083.3 2174q3.8 -1.5 6.7 -4.5M1220.8 2139.7q12.6 1.7 24.6 5.8M1180.1 2166.3q-2.2 4.1 -2.4 8.8M1006.2 2054.5q-2.1 4 -3.1 8.4M1056.8 2114.5q7.2 -2.4 14.6 -4.3M1117.2 1967.3q-0.4 6.6 -4 12.1M1240.5 2056.5q5.9 6.6 11.8 13.1M1129.7 2159.1q4.4 1 7.3 4.4M1218.3 2045.6q-2.9 5.2 -3.4 11.1M1039.8 2052.6q4.1 2.1 8.1 4.3M1082.7 2120.4q7 -5.9 15.7 -8.5M1159.8 1963.4q-11.8 4.5 -22 12M1078.9 2062.3q5 -0.3 9.9 -1.1M1192.1 2090.8q-0.1 9.4 -3.8 18M1206.8 2028.5q-8.9 5.9 -18.2 11.3M1033.6 2013.7q9.6 5.8 17.4 13.9M1224 2048.7q3.6 9.7 1.6 19.8M1158.6 2089.6q-8.3 8.9 -6.9 21M1079.3 1970.2q6 4 9.4 10.2M1004.2 2061.2q6.2 7.9 8.8 17.7M1048.7 2094.6q11.9 1.5 21.8 -5.3M1213.7 2068.7q-4.2 8.4 -10.7 15.1M1160.4 2142.3q6 9.7 9.4 20.6M1126.8 1945.3q-6.2 4.4 -9.3 11.3M1235.3 2156.5q5 -2.9 10.4 -1M1161.6 2077.1q-1.1 11.7 -3 23.3M1166.9 2028.2q-8.6 1 -15.6 -4.2M1189.8 2009.4q-4.8 0.3 -8.5 3.3M1262.9 2163.2q10 -9.6 18.7 -20.5M1178.7 2025.7q-4.7 4 -10.7 5.2M1193.5 2082.1q-7.6 7.2 -17.7 10.2M1219.7 1954.9q-8.2 6.4 -18.4 4.4M1110.4 2183.2q6.5 -1.1 12.2 2.3M1041.3 2008.3q2.3 4.4 4.8 8.7M1042 2136.9q7.8 -7.1 17.6 -10.9M1091.5 2179.4q11.8 -2 22.2 -7.8M1226.5 2136.6q13.2 -0.9 23.9 6.8M1050.9 2089.6q6.3 -0.4 12.3 1.2M1012.9 1948.2q-7.2 11.2 -19.4 16.6M1188.9 2050.2q-8.1 -2.2 -16.3 -4M1077.4 2165.4q14.5 -1.2 24.8 -11.5M1228.5 1991.3q1.8 14.5 6 28.4M1182.8 2032q-10.3 0.3 -17.4 7.7M1144.7 1999.2q-3.3 3.7 -6.9 7.2M1014.4 2013.1q1.9 5.4 -0.4 10.6M1101.5 2046.5q3.3 16.1 18 23.5M1125.6 2113.4q2.7 6.4 3.1 13.4M1255 1962.4q-8.9 11.6 -9.6 26.1M1180.2 2173.3q6.8 9.4 4.8 20.7M1172 2030q-3.9 1.9 -8.1 1.9M1066.7 1956.6q6.7 1.8 13.5 0.6M1079.9 2140.6q7.2 -1.1 11.5 -6.9M1235.1 2028.7q4.9 9 1.3 18.6M1190.6 1969.4q-4.7 -0.6 -8.7 -2.9M1074.1 2173.5q11.2 -9 16 -22.6M1083.5 2105.7q6.9 -0.6 13.7 0.1M1247.9 2169.2q8.3 -5.7 12.8 -14.6M1116.8 2094q2.2 7.7 8.8 12.4M1263.1 2029.5q9.3 3 15 10.9M1032 1960.4q6.4 6.9 6.8 16.2M1201.6 2099q-2.4 13 -10.9 23.2M1145.5 2065.2q-4.3 13.3 -4.3 27.2M1258.7 2173.9q4.3 -11.3 12.6 -20M994.3 2121q10.6 3.8 21.7 2.1M1261.9 2055.1q7.4 4.3 10.7 12.2M1265.5 1974.5q2 7.9 2.9 16" stroke="#ff2838" stroke-width="1.7" opacity="0.9"/></g>
<path d="M1258.3 2153.4a3.4 3.4 0 1 0 0.1 0zM1145.7 2003.4a3.7 3.7 0 1 0 0.1 0zM1137.5 2085.1a5 5 0 1 0 0.1 0zM1145.3 2070.2a6.5 6.5 0 1 0 0.1 0zM1243.6 1961.8a3.8 3.8 0 1 0 0.1 0zM1057.4 2056.1a7 7 0 1 0 0.1 0z" fill="#ff3070" opacity="0.7" filter="url(#nblur)" style="mix-blend-mode:screen"/>
</g>
<g clip-path="url(#c5)">
<rect x="1288.8" y="1960.2" width="287.9" height="215.5" fill="#050002"/>
<g filter="url(#hblur)"><rect x="1240.3" y="1905.8" width="49" height="54.9" fill="#49020b"/><rect x="1288.3" y="1905.8" width="49" height="54.9" fill="#49020b"/><rect x="1336.3" y="1905.8" width="49" height="54.9" fill="#55020d"/><rect x="1384.3" y="1905.8" width="49" height="54.9" fill="#49020b"/><rect x="1432.2" y="1905.8" width="49" height="54.9" fill="#61030f"/><rect x="1480.2" y="1905.8" width="49" height="54.9" fill="#55020d"/><rect x="1528.2" y="1905.8" width="49" height="54.9" fill="#3d0209"/><rect x="1576.2" y="1905.8" width="49" height="54.9" fill="#3d0209"/><rect x="1240.3" y="1959.7" width="49" height="54.9" fill="#49020b"/><rect x="1288.3" y="1959.7" width="49" height="54.9" fill="#49020b"/><rect x="1336.3" y="1959.7" width="49" height="54.9" fill="#55020d"/><rect x="1384.3" y="1959.7" width="49" height="54.9" fill="#49020b"/><rect x="1432.2" y="1959.7" width="49" height="54.9" fill="#61030f"/><rect x="1480.2" y="1959.7" width="49" height="54.9" fill="#55020d"/><rect x="1528.2" y="1959.7" width="49" height="54.9" fill="#3d0209"/><rect x="1576.2" y="1959.7" width="49" height="54.9" fill="#3d0209"/><rect x="1240.3" y="2013.6" width="49" height="54.9" fill="#55020d"/><rect x="1288.3" y="2013.6" width="49" height="54.9" fill="#55020d"/><rect x="1336.3" y="2013.6" width="49" height="54.9" fill="#3d0209"/><rect x="1384.3" y="2013.6" width="49" height="54.9" fill="#3d0209"/><rect x="1432.2" y="2013.6" width="49" height="54.9" fill="#61030f"/><rect x="1480.2" y="2013.6" width="49" height="54.9" fill="#61030f"/><rect x="1528.2" y="2013.6" width="49" height="54.9" fill="#300107"/><rect x="1576.2" y="2013.6" width="49" height="54.9" fill="#300107"/><rect x="1240.3" y="2067.4" width="49" height="54.9" fill="#49020b"/><rect x="1288.3" y="2067.4" width="49" height="54.9" fill="#49020b"/><rect x="1336.3" y="2067.4" width="49" height="54.9" fill="#49020b"/><rect x="1384.3" y="2067.4" width="49" height="54.9" fill="#3d0209"/><rect x="1432.2" y="2067.4" width="49" height="54.9" fill="#6d0311"/><rect x="1480.2" y="2067.4" width="49" height="54.9" fill="#61030f"/><rect x="1528.2" y="2067.4" width="49" height="54.9" fill="#49020b"/><rect x="1576.2" y="2067.4" width="49" height="54.9" fill="#49020b"/><rect x="1240.3" y="2121.3" width="49" height="54.9" fill="#49020b"/><rect x="1288.3" y="2121.3" width="49" height="54.9" fill="#49020b"/><rect x="1336.3" y="2121.3" width="49" height="54.9" fill="#55020d"/><rect x="1384.3" y="2121.3" width="49" height="54.9" fill="#49020b"/><rect x="1432.2" y="2121.3" width="49" height="54.9" fill="#49020b"/><rect x="1480.2" y="2121.3" width="49" height="54.9" fill="#49020b"/><rect x="1528.2" y="2121.3" width="49" height="54.9" fill="#49020b"/><rect x="1576.2" y="2121.3" width="49" height="54.9" fill="#49020b"/><rect x="1240.3" y="2175.2" width="49" height="54.9" fill="#49020b"/><rect x="1288.3" y="2175.2" width="49" height="54.9" fill="#49020b"/><rect x="1336.3" y="2175.2" width="49" height="54.9" fill="#55020d"/><rect x="1384.3" y="2175.2" width="49" height="54.9" fill="#49020b"/><rect x="1432.2" y="2175.2" width="49" height="54.9" fill="#49020b"/><rect x="1480.2" y="2175.2" width="49" height="54.9" fill="#49020b"/><rect x="1528.2" y="2175.2" width="49" height="54.9" fill="#49020b"/><rect x="1576.2" y="2175.2" width="49" height="54.9" fill="#49020b"/></g>
<path d="M1427.9 2154.6a14.4 13 0 1 0 0.1 0zM1453.8 2174.5a12.3 11.3 0 1 0 0.1 0zM1429.4 2083.6a11.9 12.5 0 1 0 0.1 0zM1301.5 2126.7a12.1 6.8 0 1 0 0.1 0zM1355.6 2023.8a9.5 9.8 0 1 0 0.1 0zM1540.4 2088.3a12.7 8.9 0 1 0 0.1 0zM1531.9 2114a14.5 8.1 0 1 0 0.1 0zM1556.7 2103.4a18.2 8.2 0 1 0 0.1 0zM1522.8 2088.7a17.9 6.1 0 1 0 0.1 0zM1464.4 2022.2a17.8 7.5 0 1 0 0.1 0zM1555.1 2076a18 11.1 0 1 0 0.1 0zM1332.5 2074a13.5 6.3 0 1 0 0.1 0zM1325 1974.4a18.8 9.8 0 1 0 0.1 0zM1343.5 2034a10.7 8.3 0 1 0 0.1 0zM1396.9 2059.3a13.8 13.7 0 1 0 0.1 0zM1298.2 2053.9a11 13.5 0 1 0 0.1 0zM1391.8 2008.5a18.4 7.6 0 1 0 0.1 0zM1461.3 2106.5a12.7 11 0 1 0 0.1 0zM1394.5 1970.3a18.2 13.1 0 1 0 0.1 0zM1552.6 1984.6a17.3 6.2 0 1 0 0.1 0zM1300.2 2117.3a15.8 10.8 0 1 0 0.1 0zM1571 2041.4a15.5 12.6 0 1 0 0.1 0zM1424.6 2053.1a18.4 8.6 0 1 0 0.1 0zM1486.6 1998.4a16.6 12.6 0 1 0 0.1 0zM1378.2 2116a19.9 10.4 0 1 0 0.1 0zM1310.5 2072.7a18.7 10.8 0 1 0 0.1 0zM1333.5 2098.6a11.9 13.4 0 1 0 0.1 0zM1321 2134.1a11.2 11.2 0 1 0 0.1 0zM1483.8 1978.3a11.1 11.5 0 1 0 0.1 0zM1442 2141.4a8.8 11.2 0 1 0 0.1 0zM1398.8 2099.5a8 10.3 0 1 0 0.1 0zM1401.1 1977.7a8.5 8.7 0 1 0 0.1 0zM1428.2 2057.9a15.6 11 0 1 0 0.1 0zM1483.9 2151.8a18.6 6.8 0 1 0 0.1 0zM1487.3 1986a18 14 0 1 0 0.1 0zM1452.2 2138.7a9.9 10.6 0 1 0 0.1 0z" fill="#000" opacity="0.8" filter="url(#dblur)"/>
<path d="M1413.9 2002.2a18.6 11.3 0 1 0 0.1 0zM1350.4 2078.3a18.9 16.6 0 1 0 0.1 0zM1536.2 2001.1a18.3 13.8 0 1 0 0.1 0zM1409.8 2048a21.9 8.1 0 1 0 0.1 0zM1353.2 2064.9a12 13.8 0 1 0 0.1 0zM1488.4 2091.2a25.2 8.1 0 1 0 0.1 0zM1290.6 1968.4a21.3 14.4 0 1 0 0.1 0zM1412.7 1973.5a12.7 12.9 0 1 0 0.1 0z" fill="#d01020" opacity="0.55" filter="url(#dblur)" style="mix-blend-mode:screen"/>
<g filter="url(#nblur)" opacity="0.85"><path d="M1305.4 1994.3a9.2 6.6 33 1 0 15.3 10.2a9.2 6.6 33 1 0 -15.3 -10.2zM1293.2 2030.5a8.7 7.7 58 1 0 9.1 14.7a8.7 7.7 58 1 0 -9.1 -14.7zM1304.2 2132a8.2 6.4 66 1 0 6.6 15a8.2 6.4 66 1 0 -6.6 -15zM1295.4 2159.9a8.5 6.1 89 1 0 0 16.9a8.5 6.1 89 1 0 -0 -16.9zM1319.8 2048a10.5 6.3 23 1 0 19.3 8.2a10.5 6.3 23 1 0 -19.3 -8.2zM1337 2080.9a10.1 7.2 65 1 0 8.2 18.4a10.1 7.2 65 1 0 -8.2 -18.4zM1327.8 2147.1a8.2 7.3 25 1 0 14.7 7.1a8.2 7.3 25 1 0 -14.7 -7.1zM1361 2140.4a10.2 6 33 1 0 16.9 11.4a10.2 6 33 1 0 -16.9 -11.4zM1408.4 1962a9.3 8 173 1 0 -18.5 2.2a9.3 8 173 1 0 18.5 -2.2zM1379.7 1980.3a9.3 6.8 107 1 0 -5.5 17.7a9.3 6.8 107 1 0 5.5 -17.7zM1372.7 2029.2a8.1 6.6 4 1 0 16.2 1.3a8.1 6.6 4 1 0 -16.2 -1.3zM1402.7 2127.9a8.4 7.1 139 1 0 -12.8 10.9a8.4 7.1 139 1 0 12.8 -10.9zM1418.2 2026.7a8.6 7.8 20 1 0 16.2 5.9a8.6 7.8 20 1 0 -16.2 -5.9zM1417.6 2080.2a9.5 7.4 78 1 0 3.7 18.7a9.5 7.4 78 1 0 -3.7 -18.7zM1467.2 1988.8a9.3 7.8 177 1 0 -18.6 0.7a9.3 7.8 177 1 0 18.6 -0.7zM1457.9 2028.1a8.3 6.9 126 1 0 -9.9 13.3a8.3 6.9 126 1 0 9.9 -13.3zM1451 2111.8a8.1 6.3 13 1 0 15.8 3.7a8.1 6.3 13 1 0 -15.8 -3.7zM1520.8 1975.3a8.4 7.4 136 1 0 -12.1 11.5a8.4 7.4 136 1 0 12.1 -11.5zM1509.9 1993.4a10.3 7.7 119 1 0 -10.3 17.9a10.3 7.7 119 1 0 10.3 -17.9zM1491.4 2042.6a8.5 7.2 83 1 0 1.9 16.8a8.5 7.2 83 1 0 -1.9 -16.8zM1505.1 2073.1a9.6 6.4 24 1 0 17.5 7.9a9.6 6.4 24 1 0 -17.5 -7.9zM1499.7 2138.4a8.4 7.9 148 1 0 -14.4 8.7a8.4 7.9 148 1 0 14.4 -8.7zM1497.6 2152.5a9.1 6.4 56 1 0 10 15.2a9.1 6.4 56 1 0 -10 -15.2zM1543.9 2021.4a8.5 6.2 86 1 0 1.1 17a8.5 6.2 86 1 0 -1.1 -17zM1542.1 2044.7a8.3 7 80 1 0 2.8 16.4a8.3 7 80 1 0 -2.8 -16.4zM1552.9 2111.7a9.4 6.1 147 1 0 -15.7 10.2a9.4 6.1 147 1 0 15.7 -10.2zM1539.1 2136.9a9.5 7.7 158 1 0 -17.7 6.9a9.5 7.7 158 1 0 17.7 -6.9zM1573.6 2028.9a8.2 6.2 171 1 0 -16.2 2.5a8.2 6.2 171 1 0 16.2 -2.5zM1558.4 2056.3a8.3 6.8 133 1 0 -11.4 12.1a8.3 6.8 133 1 0 11.4 -12.1z" fill="#3a26d8"/><path d="M1321.6 1968.9a10.4 7.1 132 1 0 -14.2 15.3a10.4 7.1 132 1 0 14.2 -15.3zM1308.1 2043.8a8.9 7.9 96 1 0 -2 17.7a8.9 7.9 96 1 0 2 -17.7zM1311 2065.3a9.2 7.4 101 1 0 -3.5 18a9.2 7.4 101 1 0 3.5 -18zM1300 2097.5a9.1 7.3 44 1 0 12.9 12.8a9.1 7.3 44 1 0 -12.9 -12.8zM1335.6 1975.9a8.5 6.7 133 1 0 -11.6 12.4a8.5 6.7 133 1 0 11.6 -12.4zM1317.3 1985.1a8.4 6.9 61 1 0 8.1 14.7a8.4 6.9 61 1 0 -8.1 -14.7zM1334 2034.2a8.2 7.2 39 1 0 12.6 10.3a8.2 7.2 39 1 0 -12.6 -10.3zM1321 2126.7a8.9 6.7 48 1 0 11.8 13.3a8.9 6.7 48 1 0 -11.8 -13.3zM1359.4 1972.8a9.1 6.3 91 1 0 -0.5 18.1a9.1 6.3 91 1 0 0.5 -18.1zM1360.7 2060.6a9.5 6.5 22 1 0 17.6 7.3a9.5 6.5 22 1 0 -17.6 -7.3zM1347.8 2104.8a10.4 7.9 4 1 0 20.8 1.6a10.4 7.9 4 1 0 -20.8 -1.6zM1363.2 2144.4a10.1 7.2 95 1 0 -2 20.2a10.1 7.2 95 1 0 2 -20.2zM1392.6 2078.7a8.1 6.5 90 1 0 -0.1 16.2a8.1 6.5 90 1 0 0.1 -16.2zM1407.4 1965a9.7 6.5 26 1 0 17.3 8.8a9.7 6.5 26 1 0 -17.3 -8.8zM1412 2107.7a9.9 6.3 97 1 0 -2.6 19.6a9.9 6.3 97 1 0 2.6 -19.6zM1407 2117.7a10.3 6.2 56 1 0 11.5 17.2a10.3 6.2 56 1 0 -11.5 -17.2zM1419 2161.6a8.9 6.6 34 1 0 14.6 10.1a8.9 6.6 34 1 0 -14.6 -10.1zM1459.7 2064.6a9.6 8 109 1 0 -6.3 18.2a9.6 8 109 1 0 6.3 -18.2zM1443.2 2124.4a10.3 7.7 31 1 0 17.5 10.7a10.3 7.7 31 1 0 -17.5 -10.7zM1462 2159.1a10.2 7.2 163 1 0 -19.6 5.7a10.2 7.2 163 1 0 19.6 -5.7zM1473 1966.6a8.1 6.7 125 1 0 -9.3 13.1a8.1 6.7 125 1 0 9.3 -13.1zM1480.8 2005.1a9.2 8 39 1 0 14.1 11.7a9.2 8 39 1 0 -14.1 -11.7zM1496 2073a8.9 6.7 163 1 0 -17.1 5.1a8.9 6.7 163 1 0 17.1 -5.1zM1486.3 2147.8a8.8 6.9 142 1 0 -13.8 10.8a8.8 6.9 142 1 0 13.8 -10.8zM1509.8 2021a9.9 7.5 97 1 0 -2.7 19.5a9.9 7.5 97 1 0 2.7 -19.5zM1490.1 2103a8.3 6.1 50 1 0 10.7 12.8a8.3 6.1 50 1 0 -10.7 -12.8zM1527.5 2065a9.2 6.6 52 1 0 11.3 14.6a9.2 6.6 52 1 0 -11.3 -14.6zM1522.2 2158.9a10.3 7.3 76 1 0 4.7 20a10.3 7.3 76 1 0 -4.7 -20zM1559.5 1966.8a10.4 6.2 119 1 0 -10.3 18a10.4 6.2 119 1 0 10.3 -18zM1543.2 2106.8a8.8 6.5 31 1 0 15.1 9.2a8.8 6.5 31 1 0 -15.1 -9.2zM1558.1 2116.6a8.2 6.8 102 1 0 -3.5 16a8.2 6.8 102 1 0 3.5 -16z" fill="#4a30e8"/><path d="M1344.4 2096.5a10.3 6.8 165 1 0 -20 5.3a10.3 6.8 165 1 0 20 -5.3zM1405.1 2048.8a10.3 7.8 178 1 0 -20.7 0.7a10.3 7.8 178 1 0 20.7 -0.7zM1408.1 2116.5a9.4 7.2 171 1 0 -18.5 2.9a9.4 7.2 171 1 0 18.5 -2.9zM1382.2 2146.8a9.6 7.6 83 1 0 2.3 19.1a9.6 7.6 83 1 0 -2.3 -19.1zM1409.3 1993a9.5 7.5 68 1 0 7 17.6a9.5 7.5 68 1 0 -7 -17.6zM1461.7 1962.5a8.3 7.8 165 1 0 -16.2 4.1a8.3 7.8 165 1 0 16.2 -4.1zM1428.6 2044.5a9.3 7.9 10 1 0 18.2 3.4a9.3 7.9 10 1 0 -18.2 -3.4zM1488.3 2015.2a9.1 7.2 134 1 0 -12.8 13.1a9.1 7.2 134 1 0 12.8 -13.1zM1471.5 2097.5a8.7 6.2 8 1 0 17.3 2.5a8.7 6.2 8 1 0 -17.3 -2.5zM1543.2 1968.8a9.4 7.3 123 1 0 -10.4 15.7a9.4 7.3 123 1 0 10.4 -15.7zM1526 2003.7a8.3 7.8 19 1 0 15.6 5.7a8.3 7.8 19 1 0 -15.6 -5.7zM1578.1 2008.7a8.4 7.5 162 1 0 -16.1 5a8.4 7.5 162 1 0 16.1 -5zM1567.2 2081a10.1 6.6 140 1 0 -15.5 13a10.1 6.6 140 1 0 15.5 -13z" fill="#3020b8"/></g>
<g fill="none" stroke-linecap="round" style="mix-blend-mode:screen" filter="url(#fblur)"><path d="M1440.1 2006.5q13.8 1.9 27.4 5.1M1568.1 2174.8q8.8 -0 17.1 3M1563.1 2058q6.2 12 18.7 17.1M1484 1999.6q2.8 -13.3 11.3 -23.9M1551.1 2163.4q6 2.2 10.9 6.3M1287.6 2010.7q14.1 -2.2 25.2 6.7M1375.4 1960.7q7.2 8.9 16.7 15.2M1498.6 2121.8q-3 5.2 -3.6 11.1M1481.2 1989.5q8.7 -7.2 18.1 -13.6M1282.3 1992.5q10.9 -7.2 23.7 -4.3M1489.4 1993.4q1.4 -12.2 10.1 -21.1M1365.8 2103.8q-8.5 7 -16.4 14.7M1528.5 2013.3q6.2 0.2 10.5 -4.3M1287.9 2029.1q11 7.5 21.7 15.5M1455.4 2021.5q11.2 -4.3 22.1 -9.4M1566 2022.7q14.2 4.3 29 4.8M1430 2032.2q7.5 8.5 18.4 11.7M1279.9 2032.3q8.1 1.1 16.3 1M1399.7 2144.2q-2.1 12.2 -9.2 22.5M1431.7 2015.9q13.2 0.8 26.2 2.8M1425.8 1962.2q3.5 4.7 8 8.5M1406.6 2132.9q-4 9.1 -12.7 13.9M1477.2 2127.3q11 9.2 18.8 21.3M1359 2052.3q-3.7 14.2 -16.7 21M1410.5 1959q3 7.6 8.1 14M1414.3 2174.9q-3.3 10.5 -12.2 16.9M1571.9 1991.1q5.1 -6.4 11.6 -11.3M1414.1 1968.6q10.5 10 24.7 12.7M1409.4 2180.4q-2.6 3.6 -7.1 3.8M1482.2 1986.9q3.9 -14.8 16.7 -23.2M1419.6 2057.3q-1.9 14.8 -14.7 22.4M1537 2076q6 -2.3 11.6 -5.5M1414.9 2046.9q-1.4 15 1.7 29.7M1477.2 2073.7q4.3 3.9 8.5 8M1412.2 2166.8q2.4 5.4 -0.2 10.6M1534.8 2025.4q-3.7 -11.1 1.6 -21.6M1315 2081.6q-9 11.3 -14.6 24.7M1411.5 1959.1q12.6 5.1 18.3 17.5M1454 2078.5q-1.2 6.3 -3.7 12.1M1509.1 2107.3q6.5 0.3 12 3.7M1287.7 1971.8q12.5 -2 24.9 0.1M1518 2061.6q7.4 -6.5 11.7 -15.3M1574 2046.5q9.7 -9.4 23.1 -11M1373.1 1978.4q11.2 1 21.5 5.3M1443 2093.2q-12.4 2.7 -18 14M1428.5 2069.4q1 14.9 0.9 29.8M1470.2 1987q8.8 -10.4 20.4 -17.7M1398.1 1959.2q8 12.4 22.4 15.7M1554.9 2052.3q6.8 -0.9 13.6 -1M1433 2023.4q9.2 5.3 18.2 10.9M1484.1 2173.8q11.2 1 21.7 5.2M1390.4 2046q-4.9 8.9 -7.4 18.7M1455 2072.8q5.5 5.4 9.6 12M1297.9 1989.6q8.3 2.3 16.6 -0.4M1453.9 1975.3q5 -1.1 7.8 -5.4M1497.9 2031.9q7.5 -4.7 11.2 -12.7M1348.9 2104.9q-5.2 2.4 -10.7 4.1M1285.4 2113.9q4.9 11.3 4.4 23.5M1384.6 2002.6q10.7 7.4 16.4 19.1M1367.1 2176.4q-14 3.9 -27.3 9.5M1524.3 2093.9q13.8 0.5 27 -3.7M1492.8 2030.3q5.7 -3.4 7.4 -9.8M1575.9 2172.6q9.7 0.6 16.8 7.1M1370.5 2122.6q-6.2 0.1 -11.5 3.3M1482.2 2184.7q14.8 5.5 28.2 -2.9M1317.2 1982.9q5.6 9.6 16.6 11.3M1539.3 2019.7q5.7 -10.3 1.1 -21.1M1524.1 2081.6q8.6 2.6 13.5 10M1377.9 2063.9q-3.2 7.1 -7.1 13.9M1427.4 1981.3q7.1 2.2 14.5 1.1M1324.3 2057.2q-2.2 7 -2 14.3M1532.9 2031.9q3.1 -4.4 6 -8.9M1432.3 2042.9q9.4 6.7 18.2 14.3M1528.6 1971.9q1.3 -10.7 -2.7 -20.8M1457.6 1988.2q4.5 -1.2 7.5 -4.8M1431.1 2094q-9.9 1.8 -14.6 10.7M1266.9 2051.4q12.8 -2.5 24.9 2.3M1392.3 2159.6q-9.8 3.7 -19.3 8.1M1466.2 2097.7q7.2 12.9 13.8 26.3M1353.6 2088.7q-3.5 5 -9.5 6.2M1334.3 2104.2q-7.5 6.7 -17.3 9.2M1380.3 1941.9q-2.5 13.6 -5.1 27.1M1469.6 2139q11.8 7.8 20.3 19.2M1438.9 1976.9q3.7 6.2 8.7 11.3M1534.4 2078.1q5.9 8.7 16.3 9.8M1454.3 1973.1q7.8 -0.1 15.6 1M1455.2 2155.1q5.3 10.4 12 20M1442.4 2067.9q13.7 -0.4 27.2 2M1438.5 2110.2q-7.2 3 -14.7 5M1483.3 2063.3q8.5 -1.2 16.4 -4.5M1530.4 1964.4q11.1 -8.5 18.5 -20.3M1459.6 1982.7q4 -2 5 -6.4M1299.7 2026.2q12.5 2.3 25.1 0.8M1297.6 2113.2q-1.4 9.8 -3.9 19.3M1450.3 2009.1q10.4 -7.4 23.2 -7.8M1385.2 2025.7q-1 4.5 -3.3 8.4M1514.9 2104.6q7.5 2.9 15.4 4M1468.3 1957.6q4.5 -7.2 13 -8.5M1489.9 2025.4q2.2 -5.1 7 -7.8M1450.2 2078.6q-2.9 3.9 -2.4 8.8M1451.9 2156.3q2.7 7.3 4.7 14.8M1558 2169.9q7.5 1.5 14.2 5.4M1345.7 2123.9q-6.6 3 -12 7.8M1460.9 2087.3q2.7 5.3 3.9 11.1M1426.9 2016.3q6.6 3.2 10.1 9.7M1365 2065.1q-3.2 8.7 -6.3 17.5M1544.5 1987.3q-0.5 -13.3 -8.7 -23.8M1503.3 2019.9q-1.8 -4.8 0.9 -9.1M1497.7 1991.8q0.1 -7.5 4 -13.9M1381.5 2145.3q-13.9 3.3 -27.7 6.8M1322.8 2080.4q-9.6 8.1 -19.1 16.4M1359.2 2150q-7.3 12.7 -20.4 19.2M1349.8 2055.6q-8 12.5 -10 27.1M1497.7 2127.1q13 3.8 17.8 16.4M1272.8 1997.4q8.2 -6.1 17.5 -10.2M1325.7 1946.7q3 7.2 9.8 11M1363.7 2170.9q-5.4 4.6 -7.5 11.5M1391.3 2092.2q-6.2 1.6 -12.7 2M1309.3 2104.2q-4.6 5 -8.2 10.8M1508.2 2077.9q14.5 1.2 28.9 2.7M1509.3 2033.9q2.2 -15.2 12.9 -26.4M1448.7 2041.9q9 3.5 18.7 4.3M1461.6 1965.3q7 -4.6 14.5 -8.3M1374.4 2159.7q-9 1.8 -14.6 9.1M1473.6 2097q12.6 6.3 22 16.7M1445.2 2063.9q3.2 7.8 4 16.2M1514 2021.1q1.7 -6.4 1 -13.1M1455.2 2167.8q3.6 4.4 6.4 9.4M1550.9 1989.6q1.8 -5.3 6.5 -8.3M1324.7 2138.2q-7.4 3.7 -10.3 11.5M1446 2039.8q13.1 1.4 22.7 10.3M1358 2064.2q-7.1 5.2 -15.8 5.7M1410.1 2071.7q-9.3 10.8 -15 24M1483.3 2068.1q14.1 -2.4 27.8 -6.7M1477.9 2111.1q14.4 -2.9 25.9 6.2M1350 2109.1q-6.7 9.8 -18.5 10.4M1452.2 1958.4q8.6 -1.2 16.9 -3.3M1419.1 2154.2q-6.3 -1.4 -12.4 0.8M1330 2054.9q-0.5 7.2 -4 13.5M1387.5 1962.7q-0.5 12.8 6.9 23.3M1468 2181.5q3.8 3.6 8.5 5.6M1339.6 1987.3q5.2 6.7 9.3 14.2M1438.3 2131.7q-5.6 10 -9.6 20.8M1342.5 1952.2q6.1 8.3 11 17.3M1447.5 2118q-2.7 7.9 -6.6 15.2M1487.8 2079.5q3.1 10.6 9.4 19.6M1431 1944.5q11.9 8.5 21.3 19.7M1381.2 2037.2q-9.6 8.3 -20.7 14.3M1441.6 2031.5q11.8 -5.7 22.2 -13.6M1532.5 2119.7q12.2 1.2 21.4 -6.8M1305.6 2042.1q11.7 4.4 19.9 13.7M1305.6 1962.6q5.3 0.1 10.6 0.2M1332 2113.1q-4.6 15.3 -18.7 22.5M1547 1953.4q3.9 -3.4 8.2 -6.2M1438.3 2139.9q-7.2 2.1 -11.8 8M1508.9 2098q14 2.7 26.5 9.7M1434.2 2004.2q4.5 0.4 7.9 3.4M1421.9 2109.4q-1.5 4.3 -5.7 6M1489.9 2100.7q6.3 10.5 18.3 13.1M1392.5 2026.8q0.1 10.4 3.9 20.1M1439.9 1961.3q11 5.5 23.1 7.5M1404.2 2156.8q-14.6 2.2 -27.8 8.7M1374.9 1952.9q5.5 3 8.3 8.6" stroke="#b00818" stroke-width="0.9" opacity="0.85"/><path d="M1570.6 1993.3q-0.1 -6.5 4.9 -10.6M1565.4 2142.1q4.6 5.8 10.9 9.5M1509.5 2059q9.6 -3.3 19.7 -2.2M1302.1 1982.1q5.8 0.3 11.2 2.3M1448.6 1988q4.3 -6.5 11.9 -7.9M1420 2042.3q4.7 14.7 -1.7 28.8M1445.8 2064.6q-5.6 12.7 -6.2 26.6M1306 2158.5q1.9 4.9 4.5 9.6M1339.6 2004.7q8.7 3.4 13.5 11.5M1355.2 2164.5q-7.5 13.3 -19.8 22.4M1557.8 2032.1q13.8 -3.1 26.3 -9.7M1318.7 2046q4.9 12.9 1.3 26.3M1341.8 2027.5q-0.1 14.2 -4.8 27.5M1399.8 2089.1q-10 4.9 -19.5 10.7M1332.9 2011.1q5.2 2.3 10.4 4.8M1451.6 2161.9q9.7 9.6 18.6 20M1327.6 2033.3q4 1.9 8.2 2.9M1351.3 2113.2q-14.2 0.7 -27.4 6M1530.1 2107.4q3.7 4.9 7.2 10M1467.5 2176.5q8.2 9.1 19.6 13.4M1399.7 2022.3q6.4 13.3 8.6 27.9M1305.7 1996.2q12.5 -4.2 23.8 2.5M1374.3 2154.9q-4.4 -1.3 -9 -1.6M1455.6 1988.9q7.3 -1.8 14.2 1.2M1419.4 2053.3q-3.4 8.6 -10.3 14.7M1512.7 2080.3q10.8 -1.3 19 5.9M1352.3 2065.2q-1.2 10.3 -4.2 20.2M1343.5 2092.9q-6.3 6.2 -12.4 12.6M1578 2036.2q5 4.9 11.8 6.5M1362.1 2118.4q-8.7 5.2 -18.8 4M1450.2 2046.5q11.3 -4.3 21.8 1.7M1333.9 1947.3q3.4 6.8 7 13.6M1560.9 2052.5q3.8 -2.9 8.6 -3.5M1407.9 2007.6q0.1 6.5 4.7 11M1461.4 2097.9q-9.6 11.4 -22.9 18.3M1347.3 2165.9q-7.8 11.7 -19.2 19.9M1356.8 2123.7q-7 -1.1 -13.2 2.3M1584.3 2155.3q-4 7 -3.1 15M1320.8 2025.8q4.5 4.7 6.7 10.8M1514.1 2023.7q3.4 -14.4 14.4 -24.5M1446.2 2113.1q-0.7 4.4 -2.4 8.5M1294.4 2132.1q-0.4 7.1 -3.9 13.3M1364.7 1942.4q-0.3 14.2 -5.7 27.4M1306.1 2030.5q12.8 7.3 22 18.8M1565.7 2168.2q4.6 0.4 9.1 0.9M1513.3 2067.3q3.9 -5.3 10.4 -6M1514.4 1982.5q7 -13.4 4.5 -28.3M1507.5 2040.4q2.4 -8.3 8.2 -14.7M1314 1962.4q13.5 -1.8 26.8 1.3M1370 1995.7q5.2 6.4 8 14.1M1347 1950.9q10.6 8.9 21.4 17.6M1527.1 2085.5q14 -4.1 25.8 -12.6M1441 2050.9q5.7 4.9 12.1 8.7M1414.9 2049.7q-7 6.2 -7.2 15.5M1419.8 2158.8q-11.3 7.8 -18.4 19.5M1387.5 2126.6q-6.6 3.6 -14.1 3.1M1565.4 2007.7q6.9 -4.2 14.9 -5.7M1277.3 2155.8q1.9 5.5 5.6 10.1M1293.9 2147.3q-2.5 12.1 2.5 23.4M1492.9 1981.4q5.6 -3.3 8.4 -9.2M1421.5 2118.3q-11.3 5.9 -23.2 10.2M1356.5 2063.4q-2.2 11.5 -8.4 21.4M1391.6 2098.8q-6.2 -1.2 -12.2 -3.3M1388.1 1993.4q6.9 3.6 13.5 7.9M1308.6 2016.9q6.1 1.5 12 3.3M1555.5 1985.3q7.3 -11.1 14.4 -22.3M1482.7 2054.5q9.2 -9.5 14.6 -21.4M1313.3 2055.7q3.1 4.7 8.4 6.7M1367.6 2082.5q-10.6 9.9 -20.1 20.9M1574.9 2020.9q11.3 -2.5 19.7 -10.3M1449.6 2130.8q2.8 10.3 -2 19.8M1359.8 2157.4q-5.3 0.4 -9 -3.5M1487.5 2080.6q5.7 -0.1 11.4 0.3M1503.7 2001.6q3.6 -13.2 13.3 -23M1293.8 2025.1q4.9 -1 9.1 1.7M1367.2 2178q-4.5 3.7 -10.2 4M1531.5 2171.1q14.1 4.4 28.9 5.4M1405.6 2021.6q8.9 12.7 23.9 16.3M1334.6 2035.1q6.3 3 9.4 9.2M1526.8 2072.7q12.5 -2.6 24.5 1.6M1287 2127.5q0.5 14.1 6.4 27M1575.2 1960.4q6.4 -2.6 10 -8.5M1308.6 2042q4 12.1 4.3 24.7M1534.6 2043.6q13.6 2.3 25.7 -4.5M1362.4 2064.4q-1.4 9.6 -9.5 14.8M1569.5 2164.2q4 13.8 10.6 26.5M1465.4 2031.3q11 -0.3 22 -0.9M1317.5 1985.3q9.7 8.2 19.7 16M1290.6 1965.3q3.8 -2.9 8.5 -4.1M1283.3 1957.3q8 -1 15.7 -3.3M1537.6 2178.3q6.2 -0.5 12.4 -1.7M1548.7 2157.9q12.3 4.4 19.2 15.5M1532.4 2136.2q4.6 2.8 9.6 1.1M1328.5 2123.8q-9.3 1.6 -16 8.4M1400.5 2004.3q6.6 5.2 14.9 6.7M1555.3 2068.8q14.4 0.5 23 12M1509.1 2090q9.6 0.5 17.9 -4.3M1564.9 2100.2q4.5 0.1 8.4 2.2M1384.4 2014.5q10.3 4.6 17.7 13.2M1520.3 2161.2q7 2.1 10.2 8.6M1388.5 2014.4q7.7 8.9 16.3 17.1M1505.1 1992q-8.9 -11.9 -13.1 -26.1M1337 2177.1q-2.2 4.8 -5.6 8.7M1309.7 2036.2q13.9 4.9 24.7 15M1384.7 1947.7q6.7 8.2 13.5 16.4M1427.6 1951.2q5.6 2.9 11.6 0.9M1564.5 2163.1q11.8 2.8 18.3 13.1M1398.7 2086.1q-4.8 12.8 -15.9 20.7M1282.8 2145.9q7.7 6.3 14.5 13.6M1419.4 2032.4q3.2 3.8 3 8.8M1565 2120.1q6 2.5 8.2 8.7M1306.3 2016.2q3.1 3.8 7 6.8M1487 2112.9q4 9.7 13.4 14.1M1474.6 2170.8q12.1 9.5 27.1 12.9M1357.7 1976.8q7.5 6.8 10 16.5M1379.5 2155.7q-5.6 5.4 -12 9.7M1381.6 2171.8q-4.5 -1.6 -9.1 -0.5M1393.7 1970.7q14 3.4 22.6 15M1551.3 2146.5q1.2 5.3 5.6 8.6M1283 2148.5q5.8 9.1 2.1 19.3M1458.5 2068.8q4.5 6.7 4.7 14.7M1424.6 2074.7q-0.9 6.1 -0.2 12.2M1501 1968.3q2 -5.5 2.9 -11.3M1576.3 1997.6q5.7 0.6 10.9 -1.8M1300.4 2097.8q0.1 7.5 -0.4 15M1499 2053.1q5.4 -3 9.9 -7.4M1283.6 2043.8q14 2.9 24 13.1M1477.5 2047.5q4.4 -0.7 8.4 -2.8M1305.1 2066.1q-2.2 12.2 -0.9 24.4M1527.5 2110q1.3 4.5 3 8.8M1299.4 2046.6q8.1 5.6 17.4 9M1455 2014.3q7.9 1.5 16 0.7M1387.5 1989.7q2.3 8.6 -1.1 16.9M1313.7 2137.1q-4.1 4.2 -3.4 10.1M1554.2 2161.5q5.9 9.8 11.6 19.6M1280.9 1995.4q5 -5.3 12 -7.1M1284.7 2042.1q5.7 8.4 14.8 12.6M1363.5 1960q-0.4 4.3 2 7.9M1505.8 2099.1q4.7 2.7 9.7 4.8M1365.7 2096.7q-11.7 7.2 -18.8 18.9M1408.3 2172.6q-2.2 7.3 -1.1 14.9M1486.5 2047.1q12.3 -7.1 23.6 -15.6M1496.9 2161.1q5.4 2 9.6 5.9M1483.1 2072.1q12.7 -3.2 23.9 -10.1M1520 1983.6q10.2 -9.5 23.5 -14M1557.1 2175.8q9.5 0.2 18.5 3.3M1323.2 1978.4q5.7 5.3 13 8.2M1324.4 2167.6q4.9 13.7 3.1 28.2M1301 2029.2q12.4 4.5 20.6 14.8M1531 2056.5q7.9 -2.9 15.6 -6.5M1482.4 2037.2q5.7 -2 11.1 -4.4M1555.4 2039.5q13.3 -6.7 17.9 -20.9M1483.8 2172.8q11.2 -1.7 19.5 6.1M1535 2033q4.2 -4 7.1 -9M1458.8 2112q-1.3 15.4 7.2 28.2M1565.8 2124.7q4.5 8.4 3 17.9M1492.8 2170.1q10.5 -1.3 19.9 3.4M1330.1 2123.9q-3.9 4.9 -6 10.7M1503.3 2043.5q8.9 2 18 0.6M1435.3 2117q0.9 6.5 -2.9 11.8M1497.4 2024.2q4.4 -13.8 17.8 -19.4M1527 2144.6q5.6 5.9 11.7 11.2M1493.8 1975.3q4.9 -10 5.5 -21.1M1478.5 2174.2q12.9 3.6 26.2 2.1M1316.2 1999q6.6 0.9 10.9 6.1M1272.4 1998.7q12.6 -2 19.3 -12.9M1363.9 2106.3q-8.6 -4.5 -17.9 -1.7M1469.9 1982q2 -13.1 4.4 -26.1M1327.1 2136.4q-15.4 1.7 -23.9 14.6M1276.6 1957.7q8.9 1.1 15.2 -5.3M1549.4 1974.7q7.5 -5.9 9.9 -15.1M1424.1 1982.7q5.6 1 8.2 6.1M1426.2 1982.9q5.6 -3.5 12 -1.7M1357.4 2068.1q-5.6 4.9 -11.9 8.9M1283.4 2034.1q13.4 1 24.4 -6.5M1366.3 1943.8q6 9.5 4.8 20.7M1365.4 1962.6q4.8 11.7 13.7 20.6M1441.1 2175q1.7 8.2 1.3 16.6M1427.9 1984.2q7.1 1.7 13.4 5.5M1496 2027q4.4 -1.6 6.8 -5.5M1501 2016.4q4.2 -14.7 18.1 -20.9M1479 2092.5q12.9 6.4 27.3 6M1462.5 2167.8q-0.9 6.9 0.2 13.8M1534.1 1976.3q1.9 -5.6 1.8 -11.5M1510.2 2137.8q6 0.7 11.6 2.9M1302.9 2114.8q0.3 7.4 1.4 14.7M1279.5 2170.8q14.9 5.1 23 18.6M1330.5 2015.1q4.4 8 11.3 14M1334.9 1974q6.7 6.2 13.6 12.1M1315.3 1967.4q10.5 -3.4 20.4 -8.6M1456.9 2163.3q0 5.9 3.6 10.5M1444.1 1997.8q6 -1.3 11.3 1.6M1514.2 1999.3q-6.3 -13.7 -0.3 -27.6M1555.4 2087.6q3.9 3.1 8.9 3.1M1512.6 2089.4q8.6 7.9 19.4 12.3M1502.8 1992.2q0.5 -6.2 2.7 -12M1465.9 2132.7q5.4 12.2 13.5 22.8M1429.4 2177.2q-6.3 7.4 -9.7 16.5M1409 2167.6q-2.8 8 -6.6 15.6M1449.7 2121q-0.1 4.8 -0.5 9.6M1415.8 2152.9q-3.5 12.7 -4.7 25.8M1532.2 2117q4.9 1.7 7.1 6.4M1406.3 2112.2q-6.5 1.7 -12.8 4M1570.8 2157.8q-0.3 10 6 17.8M1489.7 1990.2q10.3 -10.1 14.7 -23.8M1513 2053.7q5.9 -1.3 9.4 -6.3M1473.3 2065.4q6.9 4.1 14.1 7.9M1544.8 2157q5 14.2 18 21.8M1372.6 2037.4q0.1 4.7 -2 9M1360.1 2140.5q-6.3 0.1 -11.5 3.6M1494.7 1978.7q2.6 -14.3 15.5 -21.1M1433.3 1973.7q7.7 5 16.5 2.2M1375.6 1946.1q4.8 5.2 9.2 10.8M1423.8 2100.1q-2.5 6.4 -8.7 9.4M1372.9 2050.3q-2.1 11.7 -10.6 20.1M1430.8 2022.2q4 1.7 5.7 5.6M1406.7 2029.6q0.4 7.5 3.9 14.1M1440.3 2018.7q10.2 -2.2 18.6 4M1319.7 2097.5q-1.9 10.2 -4.6 20.1M1364.3 2125.3q-3.1 3.4 -7.5 4.6M1281.5 2154.2q6.1 7.1 8.7 16M1287.9 2009q5.7 2 11.1 -0.7M1367.2 2170.1q-7.8 3.2 -15.2 7.1M1437.4 1968.6q5.2 -1.1 10.4 -2.5M1338.2 2002q0.6 6 5.4 9.7M1527.3 2093.8q11.3 4.6 23.3 6M1434.9 2045.4q5.5 2.3 11.2 4.2M1454.4 2161.7q4.5 13.3 11.4 25.6M1495.2 2092.3q14 -0.3 28 1.4M1394.9 2064.1q0.6 8.5 -5.5 14.4M1369.1 2036.4q0.3 11.9 -1.1 23.7M1340.6 2032.2q-0.1 7.8 1.3 15.5M1407.7 2002.9q4.6 2.2 6.9 6.8M1516.3 2098q10.7 1.2 20.8 -2.6M1315.9 2046.7q-0.5 7.7 -2.4 15.2M1426.2 2010.8q7 0.8 13.9 1.8M1468.4 2029.9q6.9 3.1 14.3 1.4M1348.2 2009.4q5.7 4.8 10.7 10.3M1580.1 2029.7q5 2.3 10.1 4.4M1515.7 2088.9q2.7 13.4 14 21.2M1417.3 1937.5q3.2 14.3 11.4 26.5M1487.6 2082q11.9 -7 25.5 -5M1453.7 2093.8q-9 7.3 -11.4 18.7M1559.2 1998.2q4.8 -13.2 17.9 -18M1268.2 2161.2q14.3 0.2 25.1 9.6M1559.5 2094.9q3.4 2.7 7.4 4.2M1297.7 1965.1q5.5 -1.4 10.6 -3.8M1353.8 2044.1q-0.1 14.8 4.7 28.8M1514.3 2116.6q4.3 2.8 9.5 2.3M1281.4 2031.9q12 8 23.8 16.2M1376.3 2103.7q-4.8 2.4 -10.2 1.5M1368.8 2169.5q-9.6 -1.7 -16.8 5M1510.4 1972.3q-1.5 -13.1 3 -25.6M1436.1 2168.6q-3.9 3.4 -5.6 8.4M1496.2 2097.4q3.5 3.7 8.5 4.1M1414.5 2016.9q5 6.2 12.8 7.3M1482.6 2106.1q8.4 5.3 16.6 10.9M1282.3 2045.1q6.5 -0.4 10.8 4.5M1532.9 2004q13 -6.7 20.9 -18.9M1432.1 1983.5q5 -2.9 10.7 -1.6M1470.7 2119.8q-0.3 4.2 0.3 8.4M1490.8 2177.7q8.5 -1 16.9 -0.1M1573.2 1995.3q6 -11.4 18.2 -15.5M1525.8 2185.5q13.9 3.2 24.8 -6M1300.7 2084.7q3.3 5.8 7.8 10.8M1457.6 1996.7q6.7 -2.1 11.6 -7.1M1520.6 2020.6q13.8 -6.1 19.2 -20.2M1534.8 2090.8q2.4 4.8 7.7 6M1293.8 1958.8q6.6 1.8 12.3 -2.1M1277.8 2086.5q0.7 14.5 8.2 27M1396.9 2176.4q-3.9 3.6 -9.1 4.6M1297.4 1954.2q7.5 0.4 14.5 3.1M1271.2 2060.8q10.4 0.7 19.5 5.9M1438.1 2068.8q2.2 5.9 4.3 11.8" stroke="#e81424" stroke-width="1.2" opacity="0.9"/><path d="M1321.9 2161.9q-0.5 6.4 -5.3 10.7M1443 2006.8q4.7 3.5 8.6 7.9M1507.1 1975.6q5.9 -3.5 9.6 -9.3M1568.3 2046.6q10.9 6.6 23.1 10.1M1275.2 2170.2q10.6 0.7 16.5 9.5M1488.2 2097.9q12.9 5.9 17 19.5M1321.8 2033.2q-0.4 8.3 4.5 15M1357.7 1950.3q2.2 7.3 7.2 13M1493.3 2084.8q7.1 0.8 13.3 4.6M1371.6 2095.8q-4.9 7.6 -13.8 9.4M1586.8 2107.2q-2.3 5.6 -0.7 11.4M1482.2 2031.7q2.7 -11 10 -19.7M1492.5 2037.9q10.5 -2.4 20.6 -5.9M1307.1 2012.3q9.2 12.6 24.8 12.9M1283.5 2006.3q3.8 -4.2 9.4 -5.1M1507.4 1977.9q2.5 -5.9 8.1 -8.8M1521.7 2177q11.9 -3.6 22.5 3M1505.9 1964.6q5.5 -12.4 0.3 -24.8M1281.8 1974.3q7.6 -5.1 16.7 -5.5M1506.6 2175.1q6.8 -1.2 13.2 1.2M1392.6 2011.3q-8.7 6.3 -9.2 17M1485.1 2051.6q7.3 0.1 14.5 0.5M1431.3 2017.8q12 8.6 25.2 15.2M1379.8 2001.8q-6.4 8.6 -8.2 19.1M1347.7 1992.6q3.3 10 11.3 16.8M1431.7 2026q11 0.2 19.6 7.1M1308.1 2098.5q-0.5 9.2 -8.2 14.4M1340.6 1988q3.8 7 8.8 13.3M1319.1 2172.2q-0.9 10.1 -1.4 20.2M1441.2 1996.4q7.9 -3 16 -0.5M1559.5 1999.2q10.3 -6.9 20.7 -13.5M1508.3 2063.6q14.8 2.7 27 -6.3M1351.8 2171.7q-2.9 7.6 -7.1 14.7M1286.6 2166.1q7 7.8 17 11M1581.9 2165.2q-1.7 15 7.1 27.2M1535.1 2178.4q10.7 7.8 23.1 12.2M1278.5 2099.7q3.3 3.5 3.7 8.3M1525.5 2080.4q7.6 -3.9 16.1 -5M1328.4 2076.3q-0.8 8.5 -3.8 16.4M1297.3 2125q0 15 0 30M1430.2 1995.5q8 -0.8 13.8 4.8M1471.6 2052q11.3 -0.2 21.9 -3.8M1372.6 2103.7q-7.5 5.1 -15.3 9.7M1285.3 2109.8q5.6 8.5 2.9 18.2M1548.4 2110.4q4.8 7 11.3 12.4M1425.8 2139.7q-6.2 2.3 -10 7.8M1413.2 2060.2q-4.5 7 -9.6 13.6M1438.5 2090.3q-1.7 4 -5.5 6M1346 1965.9q2.5 3.8 6.6 5.8M1299.3 2040.7q10.3 10.1 21.7 18.9M1409.1 2041q-4.5 10.4 -2.2 21.5M1449.2 2024.2q11.2 -2.9 16.9 -12.9M1545.9 2073.8q2.6 4.9 7.9 6.1M1349.5 2170.4q-3.3 6.6 -9.1 11.1M1333.3 2112.4q-4.4 1.4 -6.7 5.3M1525.3 2133.2q7.1 3 13.2 7.7M1366.2 2172.2q-0.2 15.5 -11.9 25.8M1316 2092.6q2.8 3.7 2.1 8.2M1494.5 2180.1q8.4 -2.3 17.1 -1.3M1546 2042.4q0.9 -15.4 10.8 -27.1M1318.7 2128.3q-3.6 5.2 -8.6 9M1421.6 1944.9q7.8 8.9 17.6 15.6M1308.9 2128.9q-3.6 14 -1.7 28.4M1393.4 1977.3q6.3 6.2 13 12M1527.1 2140.7q12.2 4.2 20.9 13.7M1576.7 2108.7q3.2 12 14 18.2M1356.6 2079.2q-6.3 -0.8 -11.1 3.5M1408.9 2108.1q-4.1 1.4 -6.4 5.1M1279.3 2147.9q7.1 10.2 6.5 22.7M1433.7 2111.5q-4.4 2.2 -5.5 7M1524 1978.9q2.8 -13.4 9.7 -25.3M1336.4 1990.6q7 1.7 11.8 7M1576.9 2026.2q4.4 -1 9 -1.1M1278.4 2151.4q4.3 4.1 9.8 6.6M1352.5 2113.1q-14.5 1 -27 -6.2M1423.6 2101q-6.1 6.7 -14.9 8.5M1472.3 2003.5q9.6 -6.8 20.7 -10.7M1522.3 2050.9q1.9 -6.3 7.4 -9.8M1294.8 2046.5q9 4 16.9 9.9M1382.3 2142.2q-9.8 2.7 -19.9 2.3M1366.8 2133.2q-10.7 2.7 -20.9 6.7M1480.6 2026q5.4 -8.7 14.3 -13.9M1539.5 2145.5q5.6 8 13 14.3M1359.8 1962.1q-0.7 7.6 3.4 14M1422.4 2175.3q1.3 9.5 0.9 19.1M1472.3 1993.5q7.1 -10.4 9.3 -22.8M1351.9 2067.1q-7.5 6.2 -10.3 15.5M1500.9 2028.1q2.5 -10.2 9.2 -18.4M1384.9 2051.8q0.8 12.3 -7.4 21.5M1476.3 2098q9.6 3.5 19.6 1.8M1441.7 2065.4q4.2 10.7 7.3 21.8M1544.7 2054.7q12.5 10.4 28.3 6.7M1456.2 2104.9q0.7 5.4 -1.1 10.6M1474.2 2037.4q5.2 -3.9 10.5 -7.6M1460.6 2002.3q13.5 2.3 24.3 -6.2M1319.2 2022.7q9.3 4.2 16.6 11.2M1331.4 2023.7q5.5 10.2 3 21.5M1557.3 2146.8q0.1 9 0.1 17.9M1378.2 2176.4q-4.9 10.1 -15.7 13.5M1408.4 2066.7q-7.5 6.9 -14.8 14M1333 2023.2q4.8 8.2 8.5 16.8M1430.8 2060.2q-2.3 11.5 0.4 22.9M1271 2035.4q12.7 -10.2 28.6 -7" stroke="#ff2838" stroke-width="1.7" opacity="0.9"/></g>
<path d="M1312.5 2124.3a5.5 5.5 0 1 0 0.1 0zM1305.6 1960.8a3.3 3.3 0 1 0 0.1 0zM1322.1 2055.3a5.4 5.4 0 1 0 0.1 0zM1351 1967a6.9 6.9 0 1 0 0.1 0zM1527.2 2093.7a5.9 5.9 0 1 0 0.1 0zM1456.1 2150.1a5.1 5.1 0 1 0 0.1 0z" fill="#ff3070" opacity="0.7" filter="url(#nblur)" style="mix-blend-mode:screen"/>
</g>
<g clip-path="url(#c6)">
<rect x="1586.5" y="1959" width="288.2" height="214.5" fill="#050002"/>
<g filter="url(#hblur)"><rect x="1538" y="1904.9" width="49" height="54.6" fill="#49020b"/><rect x="1586" y="1904.9" width="49" height="54.6" fill="#49020b"/><rect x="1634" y="1904.9" width="49" height="54.6" fill="#3d0209"/><rect x="1682.1" y="1904.9" width="49" height="54.6" fill="#240105"/><rect x="1730.1" y="1904.9" width="49" height="54.6" fill="#3d0209"/><rect x="1778.1" y="1904.9" width="49" height="54.6" fill="#49020b"/><rect x="1826.2" y="1904.9" width="49" height="54.6" fill="#49020b"/><rect x="1874.2" y="1904.9" width="49" height="54.6" fill="#49020b"/><rect x="1538" y="1958.5" width="49" height="54.6" fill="#49020b"/><rect x="1586" y="1958.5" width="49" height="54.6" fill="#49020b"/><rect x="1634" y="1958.5" width="49" height="54.6" fill="#3d0209"/><rect x="1682.1" y="1958.5" width="49" height="54.6" fill="#240105"/><rect x="1730.1" y="1958.5" width="49" height="54.6" fill="#3d0209"/><rect x="1778.1" y="1958.5" width="49" height="54.6" fill="#49020b"/><rect x="1826.2" y="1958.5" width="49" height="54.6" fill="#49020b"/><rect x="1874.2" y="1958.5" width="49" height="54.6" fill="#49020b"/><rect x="1538" y="2012.1" width="49" height="54.6" fill="#49020b"/><rect x="1586" y="2012.1" width="49" height="54.6" fill="#49020b"/><rect x="1634" y="2012.1" width="49" height="54.6" fill="#49020b"/><rect x="1682.1" y="2012.1" width="49" height="54.6" fill="#49020b"/><rect x="1730.1" y="2012.1" width="49" height="54.6" fill="#49020b"/><rect x="1778.1" y="2012.1" width="49" height="54.6" fill="#49020b"/><rect x="1826.2" y="2012.1" width="49" height="54.6" fill="#49020b"/><rect x="1874.2" y="2012.1" width="49" height="54.6" fill="#49020b"/><rect x="1538" y="2065.8" width="49" height="54.6" fill="#49020b"/><rect x="1586" y="2065.8" width="49" height="54.6" fill="#49020b"/><rect x="1634" y="2065.8" width="49" height="54.6" fill="#55020d"/><rect x="1682.1" y="2065.8" width="49" height="54.6" fill="#49020b"/><rect x="1730.1" y="2065.8" width="49" height="54.6" fill="#49020b"/><rect x="1778.1" y="2065.8" width="49" height="54.6" fill="#55020d"/><rect x="1826.2" y="2065.8" width="49" height="54.6" fill="#49020b"/><rect x="1874.2" y="2065.8" width="49" height="54.6" fill="#49020b"/><rect x="1538" y="2119.4" width="49" height="54.6" fill="#49020b"/><rect x="1586" y="2119.4" width="49" height="54.6" fill="#49020b"/><rect x="1634" y="2119.4" width="49" height="54.6" fill="#49020b"/><rect x="1682.1" y="2119.4" width="49" height="54.6" fill="#49020b"/><rect x="1730.1" y="2119.4" width="49" height="54.6" fill="#49020b"/><rect x="1778.1" y="2119.4" width="49" height="54.6" fill="#49020b"/><rect x="1826.2" y="2119.4" width="49" height="54.6" fill="#49020b"/><rect x="1874.2" y="2119.4" width="49" height="54.6" fill="#49020b"/><rect x="1538" y="2173" width="49" height="54.6" fill="#49020b"/><rect x="1586" y="2173" width="49" height="54.6" fill="#49020b"/><rect x="1634" y="2173" width="49" height="54.6" fill="#49020b"/><rect x="1682.1" y="2173" width="49" height="54.6" fill="#49020b"/><rect x="1730.1" y="2173" width="49" height="54.6" fill="#49020b"/><rect x="1778.1" y="2173" width="49" height="54.6" fill="#49020b"/><rect x="1826.2" y="2173" width="49" height="54.6" fill="#49020b"/><rect x="1874.2" y="2173" width="49" height="54.6" fill="#49020b"/></g>
<path d="M1686.4 2008a8.1 13.4 0 1 0 0.1 0zM1679.4 1959.1a10.5 10.1 0 1 0 0.1 0zM1806.3 2025.3a9.8 6.6 0 1 0 0.1 0zM1838 2025a11.3 13.9 0 1 0 0.1 0zM1799.3 2124a16.8 6.3 0 1 0 0.1 0zM1812.2 2171.1a19.8 6.7 0 1 0 0.1 0zM1764.3 2152.6a17.6 9 0 1 0 0.1 0zM1688.8 2045.5a14.3 9.3 0 1 0 0.1 0zM1770.9 2097.3a16.6 9.7 0 1 0 0.1 0zM1859.5 2076.6a14.3 14 0 1 0 0.1 0zM1827.1 2086a14.3 14 0 1 0 0.1 0zM1696.2 1994.4a12.3 6.6 0 1 0 0.1 0zM1828.4 2165.2a9 6.5 0 1 0 0.1 0zM1725.7 2120.5a14.8 7.1 0 1 0 0.1 0zM1846.7 2043a8.5 9.7 0 1 0 0.1 0zM1714.5 1976a12.5 8 0 1 0 0.1 0zM1677 2046.4a10.1 9.1 0 1 0 0.1 0zM1805.3 2006.7a14.8 6.5 0 1 0 0.1 0zM1728.2 2098.3a12.3 6.1 0 1 0 0.1 0zM1665.3 2073.9a15.6 7 0 1 0 0.1 0zM1661.4 1977.2a16.9 7.5 0 1 0 0.1 0zM1860 2145a11.3 12.2 0 1 0 0.1 0zM1601.6 2071.4a17.2 10.3 0 1 0 0.1 0zM1627.9 2111a15.6 8 0 1 0 0.1 0zM1627.5 2140.5a8.4 12 0 1 0 0.1 0zM1639.2 2129a17 8 0 1 0 0.1 0zM1689.2 2000.1a15.6 12.4 0 1 0 0.1 0zM1720 2164.4a18 12.7 0 1 0 0.1 0zM1636.4 2158.8a13.3 7.1 0 1 0 0.1 0zM1808.5 2061.4a16.8 13 0 1 0 0.1 0zM1730 1980.2a11.5 7.5 0 1 0 0.1 0zM1857.5 1995.3a17.8 12.6 0 1 0 0.1 0zM1766.7 2045a8.5 8.9 0 1 0 0.1 0zM1645.8 1976.8a15.6 7.5 0 1 0 0.1 0zM1718.4 2000a13.5 13.4 0 1 0 0.1 0zM1738.7 2069.3a18.4 6.7 0 1 0 0.1 0zM1710.7 2102.6a14.6 9.7 0 1 0 0.1 0zM1728.7 1971a16.4 11.7 0 1 0 0.1 0zM1596.7 2130a12.6 10.2 0 1 0 0.1 0zM1789.7 2151.1a9.7 9.3 0 1 0 0.1 0z" fill="#000" opacity="0.8" filter="url(#dblur)"/>
<path d="M1707.5 1991.7a14.8 10 0 1 0 0.1 0zM1773.2 1982.6a11.5 15.1 0 1 0 0.1 0zM1779.8 1962.5a24.2 14.6 0 1 0 0.1 0zM1642.2 2135a12.7 8.7 0 1 0 0.1 0zM1813.7 2170.9a25.6 17.4 0 1 0 0.1 0zM1732.3 1978.4a17.8 13.6 0 1 0 0.1 0zM1590.1 2109.6a20.9 17.2 0 1 0 0.1 0zM1634 2056.8a25.6 15 0 1 0 0.1 0zM1822.2 2052.1a18.2 17.9 0 1 0 0.1 0z" fill="#d01020" opacity="0.55" filter="url(#dblur)" style="mix-blend-mode:screen"/>
<g filter="url(#nblur)" opacity="0.85"><path d="M1609.9 2045a8.1 6.4 134 1 0 -11.3 11.5a8.1 6.4 134 1 0 11.3 -11.5zM1599 2089.7a8.9 7.5 121 1 0 -9.2 15.2a8.9 7.5 121 1 0 9.2 -15.2zM1594.6 2111.9a9.4 7.7 12 1 0 18.3 4.2a9.4 7.7 12 1 0 -18.3 -4.2zM1594.1 2138.5a9.7 6.7 27 1 0 17.2 8.8a9.7 6.7 27 1 0 -17.2 -8.8zM1637.7 2090.9a9 7.6 119 1 0 -8.9 15.6a9 7.6 119 1 0 8.9 -15.6zM1633.6 2129.6a9.5 7.9 70 1 0 6.3 17.9a9.5 7.9 70 1 0 -6.3 -17.9zM1649.1 1959.3a10 6.6 23 1 0 18.3 7.9a10 6.6 23 1 0 -18.3 -7.9zM1661.3 1992.2a9 6.7 175 1 0 -17.9 1.4a9 6.7 175 1 0 17.9 -1.4zM1690.8 2029a9.4 7.2 152 1 0 -16.7 8.5a9.4 7.2 152 1 0 16.7 -8.5zM1681.1 2061.8a8.5 6.2 50 1 0 10.8 13.2a8.5 6.2 50 1 0 -10.8 -13.2zM1700.9 1980a9.6 7.5 122 1 0 -10.3 16.1a9.6 7.5 122 1 0 10.3 -16.1zM1702.8 2064.3a8.9 6.1 7 1 0 17.7 2.5a8.9 6.1 7 1 0 -17.7 -2.5zM1724 2098.4a8.8 6.6 176 1 0 -17.6 1.1a8.8 6.6 176 1 0 17.6 -1.1zM1700 2152.3a9.4 8 23 1 0 17.2 7.4a9.4 8 23 1 0 -17.2 -7.4zM1730.1 1975.2a9.2 6.9 9 1 0 18.2 3.2a9.2 6.9 9 1 0 -18.2 -3.2zM1733.4 2014.5a9.1 6.4 17 1 0 17.4 5.4a9.1 6.4 17 1 0 -17.4 -5.4zM1727.9 2036.2a8.6 6.2 41 1 0 12.9 11.3a8.6 6.2 41 1 0 -12.9 -11.3zM1739.5 2085.2a9.1 6.5 104 1 0 -4.6 17.7a9.1 6.5 104 1 0 4.6 -17.7zM1766.8 1983.6a8.5 7.8 108 1 0 -5.5 16.1a8.5 7.8 108 1 0 5.5 -16.1zM1758.3 2021.6a10.2 6.1 18 1 0 19.3 6.6a10.2 6.1 18 1 0 -19.3 -6.6zM1763.1 2100.3a8.2 7.1 77 1 0 3.5 16.1a8.2 7.1 77 1 0 -3.5 -16.1zM1743.8 2134.6a9.1 7.7 25 1 0 16.4 7.7a9.1 7.7 25 1 0 -16.4 -7.7zM1786.4 1991a10.4 6.2 156 1 0 -19.1 8.1a10.4 6.2 156 1 0 19.1 -8.1zM1783.7 2007.1a9.5 7.5 18 1 0 17.9 6a9.5 7.5 18 1 0 -17.9 -6zM1779.1 2037a9.3 6.2 9 1 0 18.3 3.1a9.3 6.2 9 1 0 -18.3 -3.1zM1785.1 2093.4a10.4 7.3 88 1 0 0.4 20.9a10.4 7.3 88 1 0 -0.4 -20.9zM1782.6 2150.4a8.1 6 82 1 0 2.1 16a8.1 6 82 1 0 -2.1 -16zM1815.8 2019.7a9.2 6.2 115 1 0 -8 16.5a9.2 6.2 115 1 0 8 -16.5zM1822.4 2040a9.7 7.1 129 1 0 -12.3 15.1a9.7 7.1 129 1 0 12.3 -15.1zM1803.9 2052.6a8.9 7.4 26 1 0 16 7.9a8.9 7.4 26 1 0 -16 -7.9zM1809.9 2075.5a9 6.1 26 1 0 16 8a9 6.1 26 1 0 -16 -8zM1812.9 2097.6a9.5 6 69 1 0 6.7 17.9a9.5 6 69 1 0 -6.7 -17.9zM1807.4 2122.2a9.9 6.4 52 1 0 12 15.6a9.9 6.4 52 1 0 -12 -15.6zM1807.8 2153.6a8.8 6.4 24 1 0 16.1 7.2a8.8 6.4 24 1 0 -16.1 -7.2zM1836.2 1967.4a9.8 6.7 108 1 0 -6.2 18.7a9.8 6.7 108 1 0 6.2 -18.7zM1840.4 2019.1a9.4 7 89 1 0 0.3 18.9a9.4 7 89 1 0 -0.3 -18.9zM1842.9 2132.3a8.5 6.1 106 1 0 -4.8 16.2a8.5 6.1 106 1 0 4.8 -16.2zM1856.2 2014.9a10.3 6 121 1 0 -10.9 17.5a10.3 6 121 1 0 10.9 -17.5zM1851.1 2062a9.8 7.6 43 1 0 14.3 13.5a9.8 7.6 43 1 0 -14.3 -13.5zM1863.7 2131.4a8.7 6.2 45 1 0 12.2 12.3a8.7 6.2 45 1 0 -12.2 -12.3z" fill="#3a26d8"/><path d="M1617.3 1979.1a9.5 7.1 178 1 0 -19.1 0.6a9.5 7.1 178 1 0 19.1 -0.6zM1601.8 1976.8a9.5 7.8 73 1 0 5.5 18.2a9.5 7.8 73 1 0 -5.5 -18.2zM1617.5 2021a9.2 7.4 158 1 0 -17.1 6.7a9.2 7.4 158 1 0 17.1 -6.7zM1585.6 2157.7a10.4 6.5 10 1 0 20.5 3.8a10.4 6.5 10 1 0 -20.5 -3.8zM1630.5 1952.8a9.3 7.3 75 1 0 4.8 18a9.3 7.3 75 1 0 -4.8 -18zM1630 1988.7a8.8 6.6 143 1 0 -14.1 10.5a8.8 6.6 143 1 0 14.1 -10.5zM1609.3 2011.6a9.5 7.7 43 1 0 13.7 13.1a9.5 7.7 43 1 0 -13.7 -13.1zM1636.9 2063a10 7.2 121 1 0 -10.6 17a10 7.2 121 1 0 10.6 -17zM1622.6 2155.6a8.5 6.9 151 1 0 -14.9 8.1a8.5 6.9 151 1 0 14.9 -8.1zM1662.6 2034.5a8.7 7.5 141 1 0 -13.5 10.9a8.7 7.5 141 1 0 13.5 -10.9zM1657.5 2069.9a8.2 7.9 43 1 0 11.8 11.3a8.2 7.9 43 1 0 -11.8 -11.3zM1656.4 2115.1a9.1 7.4 155 1 0 -16.5 7.5a9.1 7.4 155 1 0 16.5 -7.5zM1663.7 2120.5a8.9 6.1 132 1 0 -12.1 13.2a8.9 6.1 132 1 0 12.1 -13.2zM1664.4 1956.3a10.3 7.6 60 1 0 10.2 17.8a10.3 7.6 60 1 0 -10.2 -17.8zM1669.4 1988.7a9.9 6.3 93 1 0 -1.1 19.7a9.9 6.3 93 1 0 1.1 -19.7zM1690.6 2095a8.4 7 164 1 0 -16.2 4.5a8.4 7 164 1 0 16.2 -4.5zM1678.6 2109.9a8.2 6.6 83 1 0 2 16.4a8.2 6.6 83 1 0 -2 -16.4zM1676.2 2140.6a9.3 6.4 142 1 0 -14.8 11.3a9.3 6.4 142 1 0 14.8 -11.3zM1686.5 2114.8a9.1 7.9 38 1 0 14.4 11.4a9.1 7.9 38 1 0 -14.4 -11.4zM1742.3 1992.3a9.9 6 147 1 0 -16.8 10.6a9.9 6 147 1 0 16.8 -10.6zM1744.6 2056.6a8.5 6.9 108 1 0 -5.3 16.2a8.5 6.9 108 1 0 5.3 -16.2zM1716.9 2108.7a9.6 6.5 56 1 0 10.6 16.1a9.6 6.5 56 1 0 -10.6 -16.1zM1739.9 2150.3a9.4 7.5 167 1 0 -18.4 4a9.4 7.5 167 1 0 18.4 -4zM1738.6 1962.8a8.7 7.4 20 1 0 16.3 6.1a8.7 7.4 20 1 0 -16.3 -6.1zM1777 2073.8a9.2 6.5 173 1 0 -18.3 2.1a9.2 6.5 173 1 0 18.3 -2.1zM1772.1 2093.5a8.5 7.5 127 1 0 -10.5 13.5a8.5 7.5 127 1 0 10.5 -13.5zM1755.3 2144.8a9.4 6.2 77 1 0 4 18.4a9.4 6.2 77 1 0 -4 -18.4zM1791.2 1975.1a8.4 6.2 149 1 0 -14.5 8.7a8.4 6.2 149 1 0 14.5 -8.7zM1785.9 2087.8a8.1 7.2 1 1 0 16.3 0.3a8.1 7.2 1 1 0 -16.3 -0.3zM1801.3 1968.5a10.1 6.2 68 1 0 7.2 18.9a10.1 6.2 68 1 0 -7.2 -18.9zM1821.5 1990.5a8.9 7.3 74 1 0 4.7 17.1a8.9 7.3 74 1 0 -4.7 -17.1zM1849.7 2035.8a8.8 6.4 119 1 0 -8.7 15.3a8.8 6.4 119 1 0 8.7 -15.3zM1851.7 2058a8.1 6.6 172 1 0 -16 2.1a8.1 6.6 172 1 0 16 -2.1zM1868.3 1960.9a10.2 6.5 65 1 0 8.3 18.6a10.2 6.5 65 1 0 -8.3 -18.6zM1867.4 1978a9.8 7 60 1 0 9.5 17.1a9.8 7 60 1 0 -9.5 -17.1zM1857.8 2041.2a8.8 6.8 78 1 0 3.4 17.3a8.8 6.8 78 1 0 -3.4 -17.3zM1867.7 2089.8a9.4 6.3 119 1 0 -9.3 16.3a9.4 6.3 119 1 0 9.3 -16.3zM1876.8 2163.3a9.7 7.4 134 1 0 -13.7 13.8a9.7 7.4 134 1 0 13.7 -13.8z" fill="#4a30e8"/><path d="M1605.1 2058.6a9.7 7.1 98 1 0 -3 19.2a9.7 7.1 98 1 0 3 -19.2zM1631.5 2042.1a9.1 6.3 57 1 0 9.8 15.4a9.1 6.3 57 1 0 -9.8 -15.4zM1657.9 2016a8.3 6.8 177 1 0 -16.6 0.7a8.3 6.8 177 1 0 16.6 -0.7zM1658.8 2090.7a9.7 7.6 93 1 0 -1 19.3a9.7 7.6 93 1 0 1 -19.3zM1668.7 2017.4a9.9 6.8 84 1 0 2 19.7a9.9 6.8 84 1 0 -2 -19.7zM1686.4 1967.8a9.7 6.3 10 1 0 19 3.6a9.7 6.3 10 1 0 -19 -3.6zM1702.4 2005.1a9.7 6.4 72 1 0 6 18.4a9.7 6.4 72 1 0 -6 -18.4zM1701.5 2121.4a9.9 7.7 95 1 0 -1.8 19.8a9.9 7.7 95 1 0 1.8 -19.8zM1772.8 2034.8a10.4 6.6 166 1 0 -20.2 4.9a10.4 6.6 166 1 0 20.2 -4.9zM1790.2 2055.8a8.5 6.6 161 1 0 -16.2 5.5a8.5 6.6 161 1 0 16.2 -5.5zM1782.1 2133.5a8.5 7.3 104 1 0 -4.2 16.5a8.5 7.3 104 1 0 4.2 -16.5zM1818.8 2120.1a9.5 6.1 4 1 0 19 1.5a9.5 6.1 4 1 0 -19 -1.5z" fill="#3020b8"/></g>
<g fill="none" stroke-linecap="round" style="mix-blend-mode:screen" filter="url(#fblur)"><path d="M1807.2 2019.7q4.2 -10.8 10.8 -20.4M1877.2 2057q4.9 8.9 13.8 13.8M1603.1 1945.9q8.3 3.1 10.9 11.5M1828.1 2167.9q4.3 1.1 8.5 2.3M1853.7 1979q8.1 -12.7 23.2 -14M1861.8 2082.8q9.4 6.1 17.7 13.6M1595.7 1960.5q8.2 0.5 15.1 5.1M1742.4 2034.4q7.6 1.2 15.1 -0.3M1779.2 2046.8q0.6 -14.5 -2.6 -28.7M1692.5 2031.5q5.9 3.6 11.4 7.9M1853.3 2137.8q1.1 10.6 4.7 20.6M1713.4 2108.3q1.4 4.7 4.5 8.5M1865.3 2081.6q5.1 10.1 14.7 16.1M1698.3 1963.3q2.8 9.3 10 15.9M1658.3 1970.7q14.2 2.9 20.6 15.9M1659.4 2131.8q-8 1.2 -14.4 6M1774.7 2101.6q4.1 0.5 8.2 1M1872.2 2092.7q12.4 4 17.1 16.2M1870.6 2058.8q5.1 -1.8 10 0.4M1783.2 2160.5q10.5 2.1 20.4 -2M1785.4 2031.6q4 -11.9 4.1 -24.5M1617.2 2151.7q-3 12.2 -7.8 23.8M1736.5 2014.2q0.6 -5 3.2 -9.2M1658 2016.5q12 3.4 24.3 2.1M1794.2 2034.8q-4.9 -6.4 -7.1 -14.2M1738.6 2176.6q9.5 8.6 22.2 10M1668.7 2061.2q2.1 7.1 -1.8 13.4M1669.2 2074.7q11.5 3.8 17.8 14M1787.8 2011.9q-1.6 -10.4 -9.7 -17.2M1676.5 1985.2q1.9 8.8 8.6 14.8M1829.2 2084q8.8 -4.3 13.5 -12.8M1589.3 2094.1q2.8 12.1 0.2 24.2M1707.6 2078.2q4.5 5 10.9 7.3M1820.8 1976.3q-4.2 -9.4 -1.7 -19.4M1613.1 2149.4q-2.3 12.3 -4 24.7M1823.8 2164.4q7.3 4.1 15.4 6.5M1709.5 1974.9q8.5 -1.1 16.4 -4.5M1822.8 1986.5q12.6 -9.7 14.7 -25.5M1601.3 2112.7q-2.8 12.5 -5 25.2M1688.6 2057.7q13 7.6 20.6 20.5M1655.3 2066.3q4 11.4 12.8 19.8M1712.4 2086.4q11.6 2.2 19.3 11.3M1607.2 1958.1q7.7 11.4 21.4 12.9M1567.7 1947.2q13.3 5.5 27.8 6.5M1774.2 2053.4q5.3 -9.2 12.5 -17.1M1850.3 2005.8q12.7 -7.1 20.1 -19.5M1642.7 2146.6q-4 1.8 -6.9 5.1M1795.5 1992.6q-0 -6.3 -2 -12.3M1805.5 2041.6q5.2 -9 2.4 -19.1M1573.4 2056q4.6 8.7 14.2 10.8M1836.4 2148.2q11 8.5 17.1 21M1635 2169.3q-7 9.1 -8.7 20.5M1796.7 2004.5q3.5 -8.4 -0.1 -16.8M1839.6 1988.7q11 -7.1 12.5 -20.1M1748.6 2067.2q7.9 -4.5 15.4 -9.6M1831.2 2103.2q6.8 5.8 14.8 9.9M1718.4 2075.9q4.1 7.1 12.2 8.3M1764.4 2162.5q2.5 6.5 8.1 10.5M1835.6 2071.9q9.9 -11.4 22.4 -19.8M1872.7 2148.7q1.6 6.7 -1.8 12.6M1654.9 2163.4q-8.6 3.8 -17.7 6.1M1595 2035.4q14.8 -0.6 29.3 2.9M1788.3 2131.7q9.9 2.7 20.2 2.8M1801.3 2034.3q-6.5 -4.7 -10.6 -11.6M1862 2053q6.9 -6.2 16.2 -5.7M1879.7 2134.4q0.4 6 -3.2 10.7M1878 1997q6.2 -3.3 13.2 -2.2M1665.8 1945.2q-1.6 3.9 -1.7 8.1M1604.9 2050.8q7.2 -0.9 12.7 -5.6M1704.1 1986.3q6.3 -3.1 11.7 -7.6M1623.4 2056.4q12 4.6 20 14.7M1761.2 1986.7q3.8 -3.4 7.8 -6.7M1729.5 2020.8q-0 -8.5 6.2 -14.4M1626.7 2099.7q-4.3 10.9 -5.1 22.6M1769.3 2138.6q12.5 1.6 24.6 -1.7M1815.1 2071.6q2.9 -5.9 7.7 -10.4M1592.1 2008.4q8.9 -8.5 20.4 -12.8M1795 2044.2q-10.5 -9.1 -9.9 -23M1778 2165.3q5.9 4.8 13.4 3.3M1879.9 2137.5q-8.3 12.2 -7.7 26.9M1607.8 2063.8q4.3 6.3 8.9 12.4M1649 2160.8q-12.9 5.4 -23.4 14.5M1835.7 2006.1q0.5 -10 -2.4 -19.5M1648.8 2036.9q0 9.1 3.9 17.3M1839.2 2114.5q1.5 11.2 10.1 18.5M1637.7 2148.6q-10.8 5.3 -18.6 14.4M1615.9 2103.1q-4.3 14.8 -17.4 23.1M1636.5 2164.1q-10 5.4 -11.8 16.7M1668.7 2137.9q-4.7 -0.8 -8.9 1.4M1626.6 2063.3q-0.3 10.5 6.2 18.8M1615.5 2011q0.4 5.1 4.5 8M1738.2 2089q9.7 6.9 17.4 16M1639.9 2118.5q-11.5 9.9 -26.1 14.2M1654.2 2041.7q5.6 13.1 9.6 26.7M1580 1990.8q13.6 -2.4 25.5 -9.6M1766.7 2006.4q-0.5 -14.7 10 -24.9M1579.6 2129.7q10.7 10.9 11.3 26.2M1777.1 2011.5q-1.3 -8.5 4.3 -15M1606 2100.2q3.6 5.8 2.2 12.5M1746.5 2142.7q3.4 11.7 9.5 22.3M1629.3 2107.9q-3.4 6 -8.2 11M1850 2166.1q3.8 15 17.2 22.9M1641.4 2023.4q9.5 8.6 21.8 12.4M1812.1 1963.4q5.8 -14.3 18.7 -22.7M1670.5 2084.8q-13.2 1.5 -20.3 12.7M1662.2 2152.2q-10.9 3.3 -21.7 6.8M1799 2015q-2.7 -15.5 -15.5 -24.5M1804.7 2123.8q7.2 1.7 13.7 5.1M1741.9 2164q10.1 7.8 22 12.5M1598 2140.3q0.5 7 2.6 13.7M1674.8 2135q-3 5.6 -8.6 8.6M1750.7 2150.1q2.5 3.6 3 7.9M1583.3 2142.5q6.7 14 1.5 28.7M1784.2 2006.9q-2.4 -8.8 0 -17.6M1649.3 2097.7q-1.7 10.2 -9.3 17.3M1835.3 2053.2q7.6 -10.8 15.3 -21.6M1629.2 2088.6q-2.5 4.5 -0.5 9.3M1635.9 2052.8q9.3 5.5 10.4 16.2M1678.6 2052.2q4.1 4.1 5.6 9.7M1837.5 2016.8q4.9 -10 6.3 -21.1M1787.3 2178.2q10.3 -3.3 19.8 2.1M1675.6 2045.2q5.8 3.4 12.1 5.5M1658.3 2171.8q-8.7 1.2 -13 8.8M1727.6 2099.9q4 8.1 12.9 9.7M1637.7 2134.7q-5.1 7 -12.1 12.1M1786.5 2074.9q2.9 -14.2 14 -23.5M1824.1 1955.9q13.3 -0.1 26.4 2M1780 2015.8q-10.4 -12.8 -7.3 -29M1588.9 2132.4q-4.7 15.1 3.7 28.6M1841.4 2101.8q-0.1 11.9 8.1 20.4M1738 2067.4q5.1 -1.6 10.1 -3.8M1652 1998.8q8.7 12 14.6 25.7M1785.3 2145.1q12.6 9.3 28 6.9M1831.7 2010.3q9.7 -5.6 16.3 -14.6M1622.2 2038.7q4.4 1.1 8.9 1M1772.4 2180q7.7 -2.9 15.5 -5.7M1599.1 2163.1q0.2 11.1 -6.4 20M1638.1 2117.2q-0.8 14.8 -12.5 23.9M1790.3 2159.6q3.4 6.2 6.7 12.4M1854 1970.3q10.1 -7.4 22.4 -9.7M1691 2040.3q11 -2.6 22.2 -1.9M1725.1 1949.9q14.8 -4.5 29.5 0.5M1605.4 1987.9q9.9 5.7 19.4 12M1683.1 2055.5q2.1 4.4 6.1 7.1M1672 2074.6q-1.9 10.6 -9 18.7M1636.9 1963.4q8.7 3.3 16.6 8.2M1851.1 2091.6q11.6 4.8 24 4M1761.5 2087.9q5.3 0.4 8.6 4.6M1625.1 2138.5q-9 11.8 -19.5 22.3M1715.6 2075.1q10.3 -1.8 20.7 -0.2M1670.4 2098.3q-11 2.5 -21.6 6.5M1843.2 2076.2q10.3 -8 15.8 -19.9M1676.2 2111.8q-8.7 5.2 -12.1 14.8M1866.8 2138.1q0.5 11.1 3.4 21.9M1792.6 2112q6.2 -2.4 11.9 -5.7" stroke="#b00818" stroke-width="0.9" opacity="0.85"/><path d="M1588.2 2170.8q3.2 10.9 6.5 21.8M1803.2 1966.3q2.2 -4.9 -0.2 -9.6M1680.6 2045.3q11.2 5.7 23.8 6.4M1805.2 2089.4q1.8 -13.2 6.7 -25.5M1713.3 2158.7q-1 11.7 -6.1 22.4M1730.1 2172.7q5.9 14.1 20.7 18M1864.7 2136.2q5.5 9.9 7.9 21M1857.1 1975.3q10.2 7.1 21.3 13M1775.3 1976.9q5.5 -13.4 13.7 -25.4M1593.3 2177q-2.1 6.1 -0.9 12.4M1728.7 1966.2q8.9 -1.9 17.4 1.1M1826.8 2056.2q-2.9 -5.5 -0.4 -11.3M1784.8 2032.6q0 -6.4 -0.4 -12.8M1674.4 2049.8q15.6 1.9 25.4 14.2M1709.3 2087.8q2.4 7.7 9.5 11.6M1630.5 1957.7q5 8.6 12.3 15.2M1714 2019.7q5.3 1 10.7 0.6M1654.7 2061.6q3.4 9.1 11.6 14.3M1722.7 2154.3q1.3 15.2 9.6 27.9M1856.3 2113.7q1.1 10.5 -1.2 20.8M1840.7 2051q1.1 -4.6 1 -9.4M1813.6 1995q2.7 -7.4 6.5 -14.3M1746.3 2023.4q3 -8.3 8.5 -15M1633.2 2095.1q-3.6 12.4 -8 24.6M1613.4 2051.9q8.4 6.4 17.5 11.5M1643 2052.8q1.6 3.8 4.6 6.7M1580.1 2146.4q5.6 12.8 9.9 26.1M1725 2044q9.4 -2.8 16.5 -9.6M1634.9 2048.9q4.4 4.4 5.9 10.5M1725.3 2133.9q-3.1 9.5 -3.6 19.5M1651.9 1973.4q-0.8 7.2 0.2 14.4M1695.7 1981.9q10.1 -0.5 20.2 0.4M1670.8 2151.9q-12 6.5 -19.3 18M1818.2 2033q2.1 -10.4 -1.8 -20.4M1834.8 1956.6q14.6 -2.8 29.4 -0.9M1804.7 2151.2q13.2 4.1 21.5 15M1700.2 2099.2q-8.7 9.8 -12.7 22.2M1659.4 1959q5.3 9.3 12.2 17.5M1704.9 2137q-4.3 7.1 -6.9 15.1M1620.9 2167q-0.9 6.6 -6.3 10.6M1744.2 2154.4q-0.5 10.1 5.5 18.4M1674.4 1977.8q-2.1 5.2 0.3 10.3M1704.2 1939.9q6.1 13.5 13.5 26.5M1833.2 1969.2q4.5 -4.7 10.9 -6.1M1655.1 1942.4q2.7 6.7 2.6 14M1595.9 2030.2q5.2 -2 10.6 -0.8M1624.3 1985.9q1.7 5.7 6 9.7M1610.4 2059q5 12.8 3.1 26.5M1689.4 2166.7q-5.2 9 -12.5 16.4M1591.1 2017.4q6 -2.6 12.1 -5M1710.1 2030.1q7.3 -11.5 19.8 -16.8M1701.3 1999q14.4 6.6 29.1 0.8M1778.4 2077.3q4.9 -5 10.6 -9.1M1873.7 2084.1q3.9 1.6 6.5 4.8M1694.5 2167.5q-1.6 6.2 -0.3 12.5M1630.9 2103.8q-13.6 7.9 -16.6 23.4M1798.5 2110.3q5.9 -6.9 14.5 -9.7M1647.7 2051.8q11.4 8.7 16.7 21.9M1725.8 1968.8q7.4 -2.8 12.8 -8.5M1691.6 2169.9q-3.8 6.2 -10.2 9.8M1611.9 2121.7q-4.2 7 -3.2 15.1M1769.8 2091.7q3.3 -8 5.7 -16.3M1586.5 2021.1q7.9 -1.4 13.6 -7.2M1760.1 2021.2q4.9 -12 16.9 -17.1M1828.8 2049.8q-0.9 -7 -6.4 -11.5M1710.1 2167q1.3 11.1 3.3 22M1672 2130.1q-3.4 5.2 -9.1 7.4M1699.4 2095.8q7.8 12.4 3.4 26.3M1792.6 1968.1q4.6 -12.2 12.5 -22.7M1809.4 2082.8q5.3 -15.5 -2.7 -29.8M1841.1 2000.8q7.9 -12.5 22.1 -16.7M1732.7 2004.7q7.1 -4.9 15.4 -7.4M1600 2091.1q-0.1 10.9 7.2 19M1581.2 2165.6q1.8 10.3 -1.9 20.2M1786.4 1983.1q2.9 -7.8 5.6 -15.7M1634.7 2048.3q5 4.7 7.1 11.2M1651.1 2020.8q2.9 14 15.4 20.8M1574.5 2085.4q9.1 1.1 17.4 5.1M1584.1 2078.8q6.8 2.7 11.6 8.2M1667.8 1996.9q4.8 8.3 14.2 10.5M1738.1 2107.1q4.1 9.6 6.8 19.7M1678.8 1997.6q13.2 -1.4 23.7 6.8M1799.4 2110.3q6.7 5.9 15.7 6.2M1868.4 2008.4q13.6 -3.3 26.6 -8.7M1620 2144.8q-5.2 3.7 -11.6 3.4M1595.9 1982.6q11.9 1.9 22.8 7.4M1606.1 1974.8q2.8 5.7 8.9 7.4M1589.8 2090.1q4.1 6.1 11 8.9M1745.9 1967.2q15.9 -2 24.3 -15.7M1828.9 1954.5q3.8 -2.5 7 -5.6M1593 2093.2q1.8 5.1 6.1 8.4M1772.5 1961.8q4.9 -13.1 18.3 -17.4M1770.4 2078.6q13.7 1.7 23.5 -8.2M1576.3 2163.8q4.2 6.1 9.5 11.2M1767.6 2145.5q4.9 -3.5 11 -2.9M1852.7 2028.1q10.3 -11.3 25.3 -14.1M1678.5 2031.5q4.6 9.1 8.3 18.7M1848 1988.7q3.2 -9.9 12.6 -14.4M1612.1 2007.4q9.3 12.2 24.4 15M1719 2116.7q-2.6 11.6 -10.7 20.2M1869.6 2022.9q13.9 4.4 28 8.3M1646.8 2069.5q-2.4 7.9 -8.3 13.6M1786.8 2145.4q4 3.2 9.1 2.8M1681.8 2079.2q0.8 7.4 6.2 12.5M1644.6 2105.8q-4.3 12 -12.1 22.1M1602.9 2154.3q-3.5 4.1 -6.2 8.8M1790.3 2161.8q11.4 -1.8 20.8 4.9M1635.4 2163.7q-2 10.2 -1.5 20.7M1573.8 2035.8q7.8 -8.5 18 -14.1M1637.5 2149.9q-5 3.9 -11.3 3.7M1630 2136.6q-4.3 11.3 -3.9 23.3M1581.8 2151.7q-2 4.2 -0.6 8.6M1597.4 2083.8q7.5 3.1 12.1 9.8M1714.5 2147.9q-0.3 11.3 6 20.7M1599.2 2088.8q5.8 5.2 13.4 6.7M1722.9 2075.9q9.1 4.5 19.2 3.7M1709.8 2170q1.8 8.1 1.1 16.4M1660.3 2094.3q-3.9 5.9 -10.7 7.8M1855 2023q11.3 -10.5 26.6 -12.5M1618.1 2053.9q3.5 2.4 7.2 4.5M1616.8 2018.1q14.7 4.4 21.3 18.2M1596.1 2114.5q2.5 7.9 2.9 16.1M1588.9 2016.7q8.8 -3.8 17.6 0M1631.6 2058.1q-1.7 13.5 4.3 25.8M1643.4 2130.6q-9.5 8 -12.5 20.2M1719.1 2043.2q5.5 -0.3 9.9 -3.7M1723 2112.2q0.1 5.5 -4 9.2M1566.4 1959.6q14.6 3.3 29.6 3.9M1646.3 2162.8q-9.6 3.7 -15.6 12.1M1765 2160.1q4.9 1 8.1 4.8M1577 1960.3q13 6.9 27.7 8.4M1708.2 2088.3q3.3 2.9 6.2 6.2M1727.3 2155.5q-4.6 11.6 -9.5 23.1M1632.5 2164.4q-4.9 4.6 -10.3 8.8M1834 2117q14.2 2.7 23.8 13.6M1747.6 2116.3q6.6 8.7 16.9 12.1M1707.9 2002.6q10.6 -5.9 21.2 -11.7M1582.6 2118.8q7 11.7 4.7 25.1M1653.9 2040.6q5 4.1 11.2 6M1821.6 2011.6q8 -12.7 14.6 -26.2M1644 2063.2q1.4 4.7 4.7 8.3M1627.3 2063.7q6.8 7.9 9.4 17.9M1810.6 2061.6q2.3 -12.5 13.4 -18.8M1582.1 2023.3q7 -3.1 12.9 -7.9M1838.5 1951.4q12.8 -0.2 25.6 -0.4M1847.4 1978.5q5 -1.2 8.3 -5.1M1638.6 2041.7q2.1 14 1.1 28.2M1795.3 2047q-1.3 -14.1 5.4 -26.6M1800.8 1988.8q8.4 -10.2 16.2 -20.8M1590.3 2064.6q13.2 -0.3 23.1 8.4M1622.7 2080.5q-6.6 12.8 -8.9 27M1858.2 2033.9q11.8 -1.9 20.3 -10.3M1868.4 2018.3q4.1 -3.2 9.2 -3.3M1753.4 2177.2q10.2 1 15.9 9.6M1877.7 2132.7q-1.7 8.3 -3.4 16.7M1711 2017.9q12.9 -3.1 24.3 3.9M1874.6 2078.1q7.6 9.9 9.6 22.2M1788.6 2063.7q3.3 -6.4 4.9 -13.4M1641.9 2101.2q-9.8 10.8 -10.6 25.4M1873.2 2081q10.4 7.2 22.2 11.8M1593 2110.3q2.5 11.2 4.2 22.5M1784.4 2079.2q9.5 -5 20.1 -6M1764.6 2159q1.1 6.8 6.7 10.8M1584.7 1968.7q8 0.1 16 1.1M1611.3 2167.3q0.3 9.9 -2 19.4M1666.3 2098.1q-8.3 0.7 -13.8 7M1759.3 2167.2q9.3 4 18.1 9M1774.7 2140.3q5.9 2.7 12.3 3M1802.5 2072.7q9.1 -7.6 11.2 -19.3M1784.6 1992.3q-2.9 -8.5 1.5 -16.3M1661.4 2085q-1.3 5.2 -2.8 10.3M1776.4 2090.1q4.7 -4.6 10.9 -7M1610.3 2001.9q9.2 5.3 19.6 7.4M1823.3 2016.8q-3.7 -5.9 -9.2 -10.3M1794.9 2183.4q7.4 -3.7 15.6 -2M1680.6 2032.1q12.7 1.2 22.6 9.3M1619.1 2073.9q4 7 2.2 14.9M1649.1 2023.4q10.4 9.9 16.7 22.8M1877.3 2126q2.8 14 -2 27.5M1825.3 2122.9q4.5 1.4 9.2 1.9M1702.6 2040.5q10.7 1.4 21.3 3.8M1779.7 2027.4q3.3 -6.8 5.5 -14.1M1779.7 1953.9q2.8 -3.2 6.3 -5.5M1720 2093q5.1 8.3 1.7 17.5M1629.2 2053.4q7 10.1 17.5 16.4M1827.7 2046q0.3 -12.8 7.1 -23.7M1706.7 2041.2q5.3 -9.6 14.1 -16M1684.2 2092.7q-2.8 8.3 1.5 16M1624.3 2012.4q3.2 3.7 8 4.5M1753.5 2127q9.3 2.8 12.8 11.8M1616.4 2160.7q1.1 5.5 -0.9 10.8M1727.8 1964.8q9.9 -0.8 18.4 -6M1804.2 2144.9q6.4 4 13.4 6.8M1631.4 1944q-5.9 12.1 -2.4 25.1M1852 2064.4q4 1.3 8 0.3M1674 2016.9q9.7 -3.1 19.5 -5.8M1671.1 1956.8q-0.6 7 -4.8 12.5M1796 1972.2q3.9 -10.3 9.9 -19.6M1699.8 1978.8q8.6 2.4 17.4 0.8M1720.3 2029q13.7 -0.8 26.2 -6.4M1690.9 2083.1q-4.1 12.2 0.7 24.1M1719.3 1987.4q12.5 0.6 22.9 -6.5M1756.8 2125.3q12.6 0.3 25.1 0.8M1586.4 2005q2.4 -6.8 6.8 -12.6M1740.3 2162.4q8.2 7.5 14.5 16.6M1828.5 1998.7q4 -1.1 7.6 -3.1M1733.9 2137.2q1.7 14.1 -0.5 28.1M1860.3 2159.1q-0.8 7 3.6 12.4M1626.2 2135.4q-4.6 4.1 -9.4 8M1735 2076.4q9.7 -9.7 23.5 -9.6M1769.9 2182.7q7 -4.4 14.8 -1.8M1805.9 2121.3q6.6 3.8 12.7 8.4M1852.9 2165.7q7 11.6 17.1 20.5M1873.9 2136.3q4.1 11.5 1.8 23.5M1704.1 2086.2q8.4 4.6 14.5 12.1M1781.2 1971.6q1.2 -11.5 10.4 -18.6M1786.5 2007.6q2.5 -7.5 -0.2 -15M1832.7 2100.1q10.1 1.1 20 3.5M1661.4 2094.5q-6.5 13.3 -9.7 27.7M1755.2 2035.4q1.6 -6.3 6.9 -10.1M1706.2 2003.2q11.6 3.1 23 -0.6M1670 2057.1q2.5 7.3 6.2 14M1649.1 2001.9q5.5 4.1 6 10.9M1850.4 2056q11.5 -5.3 24.2 -4.7M1791.1 2147.5q9.6 -6.1 20.4 -2.8M1616.5 2033.3q11.1 6.1 23.7 8.2M1685.5 2100.7q-6.6 7.5 -9.2 17M1575.5 2041.7q13.1 -5 24.8 -12.8M1777.4 2100.9q5.4 -1.6 10.8 -0.5M1789.3 2174.1q3 8.6 11.3 12.3M1764.4 2037q-0.3 -7.7 -3.6 -14.6M1785.2 2088.3q8.7 -7.4 10.2 -18.7M1844 1985.5q12.8 2.6 25.9 2.8M1778.2 2164.6q9.4 3.3 15.5 11.1M1650.3 2010.8q12.5 6.8 23 16.3M1589.5 1989.7q8.7 0.1 16.5 -3.6M1754.4 2151.3q4 2.9 7.7 6.3M1876.4 2158.6q-0.3 7.3 -6.2 11.5M1819.1 2026.5q-0 -11.3 4.6 -21.5M1666.4 2080.8q-4.5 5.9 -10.9 9.8M1580.4 2060.3q11.3 3.2 22.4 6.8M1668.6 2032.8q3.9 3.6 8.8 5.9M1616.1 2127.8q-6 4.6 -12.7 8M1659.5 2119.3q-7 11.6 -20.5 13.3M1645.3 1946.2q-2.4 8.3 -3.5 16.8M1758.4 2018.5q0.9 -6.2 -2.6 -11.5M1668.7 2002.2q11.5 9.4 26 6.5" stroke="#e81424" stroke-width="1.2" opacity="0.9"/><path d="M1849.6 2148.5q0.8 7.5 6.1 12.8M1781 2006.7q8.2 -11.9 13.8 -25.3M1635.1 2041.2q5.7 5.4 12.9 8.9M1821.1 2046.9q7.5 -10.7 7.7 -23.8M1606 1972.6q3.1 14.4 13.9 24.4M1730.4 2051.4q5.6 -5.9 12.9 -9.6M1839.6 1980.5q6 -7.8 15.5 -10.1M1576.4 1960q4.2 2 7.3 5.4M1697.4 2050.3q-0.9 15.5 7.7 28.4M1677.3 2007.7q7.2 -0.7 12.8 3.9M1588.8 1948.1q9.6 10.7 23.9 12.9M1693.3 2165.5q-5.7 5.6 -8.2 13.1M1601.5 1939.1q8.2 12.3 20.6 20.3M1814.6 2101.6q11.5 -0.9 21.8 -6.2M1661.4 2056q4.3 5.8 7.4 12.3M1722.3 2125.5q-1.2 11.1 -4.4 21.8M1874.9 1961.4q8.8 1.1 17.5 2.4M1820.2 2049.5q-6.1 -9.4 -5.7 -20.6M1792.3 2138.9q10.5 -3.9 14.4 -14.4M1715.4 2074.5q8.4 1.6 16.9 2.2M1583 2107.2q6.9 2.4 13.2 6.1M1839.3 2152.7q5.1 1.3 8.9 5M1743 1998.7q9.9 -7.1 13.6 -18.7M1593.6 2083.2q8.8 8 20.8 8.3M1691.6 1943.5q4 5.4 5.8 11.9M1858.1 2070.1q6.4 4.8 12.5 10M1637.8 1942.5q-0.5 9.5 -2.3 18.8M1781.2 2038.6q-1.6 -14.3 0.8 -28.4M1575 2029.3q9.3 -2.6 13.4 -11.4M1693.3 2030.5q14.5 5.6 28.3 -1.3M1702.4 2119.4q-1.6 5.1 -2.7 10.3M1656.2 2116.8q-5.3 8.3 -14 12.8M1826.2 2060.6q4.9 -4.2 5 -10.6M1838.7 2041.3q4.1 -11.2 0.4 -22.6M1837 2157.3q8.2 2.2 15.5 6.5M1705.9 2049.2q13.7 -2.9 24.5 -11.8M1745 2077.9q3.9 -1.6 7.4 -3.7M1758.7 2072.2q8.9 -5.2 17.5 -10.7M1666.6 2153.9q-5.2 -0 -9.8 -2.4M1723.6 2093q-4.5 9.1 -2.3 18.9M1822.6 1966.1q14.5 -4.8 25.2 -15.7M1789.4 2089.7q8.7 -11.4 22 -16.7M1872.3 2131.6q2.8 4.6 2.8 9.9M1846.3 2051.4q4.6 -11.1 8.2 -22.6M1773.9 2033.9q-1.3 -4.7 1.4 -8.8M1820.8 2039.1q1.5 -11.9 -0.9 -23.7M1659.7 1962.7q6.1 11.8 14.5 22M1809.5 1963.6q8 -10.8 10.7 -23.9M1675 2077.2q4 7.3 3 15.5M1818.8 2061.9q2.7 -7.5 4.9 -15.2M1798.8 2168.6q13.4 -6.2 27.6 -2M1645.8 2085q-4.9 11.2 -12.5 20.7M1572.2 1967.8q13.4 -0 24 -8.3M1832.6 1967.8q5.9 -6.7 6.7 -15.6M1674.5 1953.7q6.3 4.8 10.3 11.6M1799 2169.8q11.6 3.1 23.4 0.5M1813.1 2035q3.7 -5.5 3.2 -12.1M1864 2072.3q6.8 2.5 13.5 5M1836.8 2062.8q8.6 -4.3 12.6 -12.9M1736.8 2140.4q5.2 14 9.8 28.2M1664.8 2109.6q-1.4 4.2 -5.1 6.6M1697.5 2110.2q2.6 3.8 2.4 8.3M1743.5 2119.6q8 1.8 14 7.5M1758.3 2132.3q7.1 0.6 12.7 -3.8M1628.5 1964.4q-1.4 9 2 17.5M1829.7 1958.9q8.7 -5.8 18.8 -8.6M1782.5 2054.7q-0.1 -5.7 2 -11M1583.4 2163.6q-2.7 6 -3.6 12.5M1849.7 2079.6q3.6 -2.3 7.9 -1.7M1634.5 2143.2q-11.8 4.1 -20.2 13.3M1651.9 2073q6.6 12.4 0.8 25.2M1771.1 2029.7q-1.4 -12.8 -3.9 -25.5M1798.6 2140.3q5.9 1 10.9 4.2M1679.2 2051.9q1.8 14.4 9.1 27M1579.5 2045.8q11.1 -9.6 13 -24.1M1781.8 2088.2q9 -9.7 16.3 -20.7M1592.8 1947.9q8.7 3.5 17.3 7.4M1664.3 2058.6q-2.6 12.1 -0.2 24.3" stroke="#ff2838" stroke-width="1.7" opacity="0.9"/></g>
<path d="M1680.1 1988.4a6.9 6.9 0 1 0 0.1 0zM1692.6 2059.9a3.3 3.3 0 1 0 0.1 0zM1711.1 2068.1a3.2 3.2 0 1 0 0.1 0zM1839.8 2103.5a5.1 5.1 0 1 0 0.1 0zM1811 1991.8a3.5 3.5 0 1 0 0.1 0zM1796.4 2083a6.4 6.4 0 1 0 0.1 0z" fill="#ff3070" opacity="0.7" filter="url(#nblur)" style="mix-blend-mode:screen"/>
</g>
<g clip-path="url(#c7)"><g filter="url(#gblur)"><rect x="33.1" y="2136.8" width="48.8" height="54.9" fill="#7e7e7e"/><rect x="80.9" y="2136.8" width="48.8" height="54.9" fill="#7e7e7e"/><rect x="128.7" y="2136.8" width="48.8" height="54.9" fill="#878787"/><rect x="176.6" y="2136.8" width="48.8" height="54.9" fill="#949494"/><rect x="224.4" y="2136.8" width="48.8" height="54.9" fill="#969696"/><rect x="272.2" y="2136.8" width="48.8" height="54.9" fill="#9e9e9e"/><rect x="320.1" y="2136.8" width="48.8" height="54.9" fill="#b6b6b6"/><rect x="367.9" y="2136.8" width="48.8" height="54.9" fill="#b6b6b6"/><rect x="33.1" y="2190.7" width="48.8" height="54.9" fill="#7e7e7e"/><rect x="80.9" y="2190.7" width="48.8" height="54.9" fill="#7e7e7e"/><rect x="128.7" y="2190.7" width="48.8" height="54.9" fill="#878787"/><rect x="176.6" y="2190.7" width="48.8" height="54.9" fill="#949494"/><rect x="224.4" y="2190.7" width="48.8" height="54.9" fill="#969696"/><rect x="272.2" y="2190.7" width="48.8" height="54.9" fill="#9e9e9e"/><rect x="320.1" y="2190.7" width="48.8" height="54.9" fill="#b6b6b6"/><rect x="367.9" y="2190.7" width="48.8" height="54.9" fill="#b6b6b6"/><rect x="33.1" y="2244.6" width="48.8" height="54.9" fill="#6d6d6d"/><rect x="80.9" y="2244.6" width="48.8" height="54.9" fill="#6d6d6d"/><rect x="128.7" y="2244.6" width="48.8" height="54.9" fill="#7e7e7e"/><rect x="176.6" y="2244.6" width="48.8" height="54.9" fill="#848484"/><rect x="224.4" y="2244.6" width="48.8" height="54.9" fill="#949494"/><rect x="272.2" y="2244.6" width="48.8" height="54.9" fill="#9e9e9e"/><rect x="320.1" y="2244.6" width="48.8" height="54.9" fill="#b2b2b2"/><rect x="367.9" y="2244.6" width="48.8" height="54.9" fill="#b2b2b2"/><rect x="33.1" y="2298.5" width="48.8" height="54.9" fill="#696969"/><rect x="80.9" y="2298.5" width="48.8" height="54.9" fill="#696969"/><rect x="128.7" y="2298.5" width="48.8" height="54.9" fill="#727272"/><rect x="176.6" y="2298.5" width="48.8" height="54.9" fill="#848484"/><rect x="224.4" y="2298.5" width="48.8" height="54.9" fill="#929292"/><rect x="272.2" y="2298.5" width="48.8" height="54.9" fill="#949494"/><rect x="320.1" y="2298.5" width="48.8" height="54.9" fill="#acacac"/><rect x="367.9" y="2298.5" width="48.8" height="54.9" fill="#acacac"/><rect x="33.1" y="2352.4" width="48.8" height="54.9" fill="#707070"/><rect x="80.9" y="2352.4" width="48.8" height="54.9" fill="#707070"/><rect x="128.7" y="2352.4" width="48.8" height="54.9" fill="#7c7c7c"/><rect x="176.6" y="2352.4" width="48.8" height="54.9" fill="#858585"/><rect x="224.4" y="2352.4" width="48.8" height="54.9" fill="#8c8c8c"/><rect x="272.2" y="2352.4" width="48.8" height="54.9" fill="#929292"/><rect x="320.1" y="2352.4" width="48.8" height="54.9" fill="#a6a6a6"/><rect x="367.9" y="2352.4" width="48.8" height="54.9" fill="#a6a6a6"/><rect x="33.1" y="2406.3" width="48.8" height="54.9" fill="#707070"/><rect x="80.9" y="2406.3" width="48.8" height="54.9" fill="#707070"/><rect x="128.7" y="2406.3" width="48.8" height="54.9" fill="#7c7c7c"/><rect x="176.6" y="2406.3" width="48.8" height="54.9" fill="#858585"/><rect x="224.4" y="2406.3" width="48.8" height="54.9" fill="#8c8c8c"/><rect x="272.2" y="2406.3" width="48.8" height="54.9" fill="#929292"/><rect x="320.1" y="2406.3" width="48.8" height="54.9" fill="#a6a6a6"/><rect x="367.9" y="2406.3" width="48.8" height="54.9" fill="#a6a6a6"/></g>
<g mask="url(#m7)" style="mix-blend-mode:overlay"><rect x="81.4" y="2191.2" width="287" height="215.6" filter="url(#t7)"/></g>
</g>
<g clip-path="url(#c8)"><g filter="url(#gblur)"><rect x="330.4" y="2137.3" width="48.9" height="54.7" fill="#bebebe"/><rect x="378.3" y="2137.3" width="48.9" height="54.7" fill="#bebebe"/><rect x="426.2" y="2137.3" width="48.9" height="54.7" fill="#b7b7b7"/><rect x="474.1" y="2137.3" width="48.9" height="54.7" fill="#9b9b9b"/><rect x="522" y="2137.3" width="48.9" height="54.7" fill="#949494"/><rect x="570" y="2137.3" width="48.9" height="54.7" fill="#8c8c8c"/><rect x="617.9" y="2137.3" width="48.9" height="54.7" fill="#878787"/><rect x="665.8" y="2137.3" width="48.9" height="54.7" fill="#878787"/><rect x="330.4" y="2191" width="48.9" height="54.7" fill="#bebebe"/><rect x="378.3" y="2191" width="48.9" height="54.7" fill="#bebebe"/><rect x="426.2" y="2191" width="48.9" height="54.7" fill="#b7b7b7"/><rect x="474.1" y="2191" width="48.9" height="54.7" fill="#9b9b9b"/><rect x="522" y="2191" width="48.9" height="54.7" fill="#949494"/><rect x="570" y="2191" width="48.9" height="54.7" fill="#8c8c8c"/><rect x="617.9" y="2191" width="48.9" height="54.7" fill="#878787"/><rect x="665.8" y="2191" width="48.9" height="54.7" fill="#878787"/><rect x="330.4" y="2244.7" width="48.9" height="54.7" fill="#bababa"/><rect x="378.3" y="2244.7" width="48.9" height="54.7" fill="#bababa"/><rect x="426.2" y="2244.7" width="48.9" height="54.7" fill="#b4b4b4"/><rect x="474.1" y="2244.7" width="48.9" height="54.7" fill="#9b9b9b"/><rect x="522" y="2244.7" width="48.9" height="54.7" fill="#969696"/><rect x="570" y="2244.7" width="48.9" height="54.7" fill="#939393"/><rect x="617.9" y="2244.7" width="48.9" height="54.7" fill="#878787"/><rect x="665.8" y="2244.7" width="48.9" height="54.7" fill="#878787"/><rect x="330.4" y="2298.4" width="48.9" height="54.7" fill="#bfbfbf"/><rect x="378.3" y="2298.4" width="48.9" height="54.7" fill="#bfbfbf"/><rect x="426.2" y="2298.4" width="48.9" height="54.7" fill="#b2b2b2"/><rect x="474.1" y="2298.4" width="48.9" height="54.7" fill="#999999"/><rect x="522" y="2298.4" width="48.9" height="54.7" fill="#8e8e8e"/><rect x="570" y="2298.4" width="48.9" height="54.7" fill="#8c8c8c"/><rect x="617.9" y="2298.4" width="48.9" height="54.7" fill="#8c8c8c"/><rect x="665.8" y="2298.4" width="48.9" height="54.7" fill="#8c8c8c"/><rect x="330.4" y="2352.1" width="48.9" height="54.7" fill="#c2c2c2"/><rect x="378.3" y="2352.1" width="48.9" height="54.7" fill="#c2c2c2"/><rect x="426.2" y="2352.1" width="48.9" height="54.7" fill="#bebebe"/><rect x="474.1" y="2352.1" width="48.9" height="54.7" fill="#b2b2b2"/><rect x="522" y="2352.1" width="48.9" height="54.7" fill="#ababab"/><rect x="570" y="2352.1" width="48.9" height="54.7" fill="#a0a0a0"/><rect x="617.9" y="2352.1" width="48.9" height="54.7" fill="#969696"/><rect x="665.8" y="2352.1" width="48.9" height="54.7" fill="#969696"/><rect x="330.4" y="2405.8" width="48.9" height="54.7" fill="#c2c2c2"/><rect x="378.3" y="2405.8" width="48.9" height="54.7" fill="#c2c2c2"/><rect x="426.2" y="2405.8" width="48.9" height="54.7" fill="#bebebe"/><rect x="474.1" y="2405.8" width="48.9" height="54.7" fill="#b2b2b2"/><rect x="522" y="2405.8" width="48.9" height="54.7" fill="#ababab"/><rect x="570" y="2405.8" width="48.9" height="54.7" fill="#a0a0a0"/><rect x="617.9" y="2405.8" width="48.9" height="54.7" fill="#969696"/><rect x="665.8" y="2405.8" width="48.9" height="54.7" fill="#969696"/></g>
<g mask="url(#m8)" style="mix-blend-mode:overlay"><rect x="378.8" y="2191.5" width="287.5" height="214.8" filter="url(#t8)"/></g>
</g>
<g clip-path="url(#c9)"><g filter="url(#gblur)"><rect x="628.6" y="2137.3" width="48.9" height="54.9" fill="#8b8b8b"/><rect x="676.5" y="2137.3" width="48.9" height="54.9" fill="#8b8b8b"/><rect x="724.4" y="2137.3" width="48.9" height="54.9" fill="#9c9c9c"/><rect x="772.3" y="2137.3" width="48.9" height="54.9" fill="#929292"/><rect x="820.1" y="2137.3" width="48.9" height="54.9" fill="#868686"/><rect x="868" y="2137.3" width="48.9" height="54.9" fill="#989898"/><rect x="915.9" y="2137.3" width="48.9" height="54.9" fill="#a7a7a7"/><rect x="963.8" y="2137.3" width="48.9" height="54.9" fill="#a7a7a7"/><rect x="628.6" y="2191.2" width="48.9" height="54.9" fill="#8b8b8b"/><rect x="676.5" y="2191.2" width="48.9" height="54.9" fill="#8b8b8b"/><rect x="724.4" y="2191.2" width="48.9" height="54.9" fill="#9c9c9c"/><rect x="772.3" y="2191.2" width="48.9" height="54.9" fill="#929292"/><rect x="820.1" y="2191.2" width="48.9" height="54.9" fill="#868686"/><rect x="868" y="2191.2" width="48.9" height="54.9" fill="#989898"/><rect x="915.9" y="2191.2" width="48.9" height="54.9" fill="#a7a7a7"/><rect x="963.8" y="2191.2" width="48.9" height="54.9" fill="#a7a7a7"/><rect x="628.6" y="2245.1" width="48.9" height="54.9" fill="#939393"/><rect x="676.5" y="2245.1" width="48.9" height="54.9" fill="#939393"/><rect x="724.4" y="2245.1" width="48.9" height="54.9" fill="#969696"/><rect x="772.3" y="2245.1" width="48.9" height="54.9" fill="#8c8c8c"/><rect x="820.1" y="2245.1" width="48.9" height="54.9" fill="#949494"/><rect x="868" y="2245.1" width="48.9" height="54.9" fill="#969696"/><rect x="915.9" y="2245.1" width="48.9" height="54.9" fill="#909090"/><rect x="963.8" y="2245.1" width="48.9" height="54.9" fill="#909090"/><rect x="628.6" y="2299" width="48.9" height="54.9" fill="#999999"/><rect x="676.5" y="2299" width="48.9" height="54.9" fill="#999999"/><rect x="724.4" y="2299" width="48.9" height="54.9" fill="#989898"/><rect x="772.3" y="2299" width="48.9" height="54.9" fill="#8e8e8e"/><rect x="820.1" y="2299" width="48.9" height="54.9" fill="#919191"/><rect x="868" y="2299" width="48.9" height="54.9" fill="#8c8c8c"/><rect x="915.9" y="2299" width="48.9" height="54.9" fill="#8a8a8a"/><rect x="963.8" y="2299" width="48.9" height="54.9" fill="#8a8a8a"/><rect x="628.6" y="2352.9" width="48.9" height="54.9" fill="#808080"/><rect x="676.5" y="2352.9" width="48.9" height="54.9" fill="#808080"/><rect x="724.4" y="2352.9" width="48.9" height="54.9" fill="#969696"/><rect x="772.3" y="2352.9" width="48.9" height="54.9" fill="#999999"/><rect x="820.1" y="2352.9" width="48.9" height="54.9" fill="#868686"/><rect x="868" y="2352.9" width="48.9" height="54.9" fill="#8a8a8a"/><rect x="915.9" y="2352.9" width="48.9" height="54.9" fill="#969696"/><rect x="963.8" y="2352.9" width="48.9" height="54.9" fill="#969696"/><rect x="628.6" y="2406.8" width="48.9" height="54.9" fill="#808080"/><rect x="676.5" y="2406.8" width="48.9" height="54.9" fill="#808080"/><rect x="724.4" y="2406.8" width="48.9" height="54.9" fill="#969696"/><rect x="772.3" y="2406.8" width="48.9" height="54.9" fill="#999999"/><rect x="820.1" y="2406.8" width="48.9" height="54.9" fill="#868686"/><rect x="868" y="2406.8" width="48.9" height="54.9" fill="#8a8a8a"/><rect x="915.9" y="2406.8" width="48.9" height="54.9" fill="#969696"/><rect x="963.8" y="2406.8" width="48.9" height="54.9" fill="#969696"/></g>
<g mask="url(#m9)" style="mix-blend-mode:overlay"><rect x="677" y="2191.7" width="287.3" height="215.6" filter="url(#t9)"/></g>
</g>
<g clip-path="url(#c10)">
<rect x="991" y="2192" width="287.5" height="215.3" fill="#050002"/>
<g filter="url(#hblur)"><rect x="942.6" y="2137.7" width="48.9" height="54.8" fill="#49020b"/><rect x="990.5" y="2137.7" width="48.9" height="54.8" fill="#49020b"/><rect x="1038.4" y="2137.7" width="48.9" height="54.8" fill="#49020b"/><rect x="1086.3" y="2137.7" width="48.9" height="54.8" fill="#55020d"/><rect x="1134.2" y="2137.7" width="48.9" height="54.8" fill="#55020d"/><rect x="1182.2" y="2137.7" width="48.9" height="54.8" fill="#49020b"/><rect x="1230.1" y="2137.7" width="48.9" height="54.8" fill="#49020b"/><rect x="1278" y="2137.7" width="48.9" height="54.8" fill="#49020b"/><rect x="942.6" y="2191.5" width="48.9" height="54.8" fill="#49020b"/><rect x="990.5" y="2191.5" width="48.9" height="54.8" fill="#49020b"/><rect x="1038.4" y="2191.5" width="48.9" height="54.8" fill="#49020b"/><rect x="1086.3" y="2191.5" width="48.9" height="54.8" fill="#55020d"/><rect x="1134.2" y="2191.5" width="48.9" height="54.8" fill="#55020d"/><rect x="1182.2" y="2191.5" width="48.9" height="54.8" fill="#49020b"/><rect x="1230.1" y="2191.5" width="48.9" height="54.8" fill="#49020b"/><rect x="1278" y="2191.5" width="48.9" height="54.8" fill="#49020b"/><rect x="942.6" y="2245.3" width="48.9" height="54.8" fill="#49020b"/><rect x="990.5" y="2245.3" width="48.9" height="54.8" fill="#49020b"/><rect x="1038.4" y="2245.3" width="48.9" height="54.8" fill="#55020d"/><rect x="1086.3" y="2245.3" width="48.9" height="54.8" fill="#49020b"/><rect x="1134.2" y="2245.3" width="48.9" height="54.8" fill="#55020d"/><rect x="1182.2" y="2245.3" width="48.9" height="54.8" fill="#55020d"/><rect x="1230.1" y="2245.3" width="48.9" height="54.8" fill="#49020b"/><rect x="1278" y="2245.3" width="48.9" height="54.8" fill="#49020b"/><rect x="942.6" y="2299.2" width="48.9" height="54.8" fill="#55020d"/><rect x="990.5" y="2299.2" width="48.9" height="54.8" fill="#55020d"/><rect x="1038.4" y="2299.2" width="48.9" height="54.8" fill="#55020d"/><rect x="1086.3" y="2299.2" width="48.9" height="54.8" fill="#49020b"/><rect x="1134.2" y="2299.2" width="48.9" height="54.8" fill="#49020b"/><rect x="1182.2" y="2299.2" width="48.9" height="54.8" fill="#49020b"/><rect x="1230.1" y="2299.2" width="48.9" height="54.8" fill="#49020b"/><rect x="1278" y="2299.2" width="48.9" height="54.8" fill="#49020b"/><rect x="942.6" y="2353" width="48.9" height="54.8" fill="#55020d"/><rect x="990.5" y="2353" width="48.9" height="54.8" fill="#55020d"/><rect x="1038.4" y="2353" width="48.9" height="54.8" fill="#49020b"/><rect x="1086.3" y="2353" width="48.9" height="54.8" fill="#49020b"/><rect x="1134.2" y="2353" width="48.9" height="54.8" fill="#49020b"/><rect x="1182.2" y="2353" width="48.9" height="54.8" fill="#49020b"/><rect x="1230.1" y="2353" width="48.9" height="54.8" fill="#49020b"/><rect x="1278" y="2353" width="48.9" height="54.8" fill="#49020b"/><rect x="942.6" y="2406.8" width="48.9" height="54.8" fill="#55020d"/><rect x="990.5" y="2406.8" width="48.9" height="54.8" fill="#55020d"/><rect x="1038.4" y="2406.8" width="48.9" height="54.8" fill="#49020b"/><rect x="1086.3" y="2406.8" width="48.9" height="54.8" fill="#49020b"/><rect x="1134.2" y="2406.8" width="48.9" height="54.8" fill="#49020b"/><rect x="1182.2" y="2406.8" width="48.9" height="54.8" fill="#49020b"/><rect x="1230.1" y="2406.8" width="48.9" height="54.8" fill="#49020b"/><rect x="1278" y="2406.8" width="48.9" height="54.8" fill="#49020b"/></g>
<path d="M1183.9 2376.4a11 6.7 0 1 0 0.1 0zM1115.8 2227.4a13.2 11.8 0 1 0 0.1 0zM1049.7 2371.6a14.1 10 0 1 0 0.1 0zM1277.5 2315.9a9.8 9.8 0 1 0 0.1 0zM1212.5 2271.3a8.9 10.2 0 1 0 0.1 0zM1149.7 2253.5a16.5 7.2 0 1 0 0.1 0zM1136.3 2387.8a20 12.3 0 1 0 0.1 0zM1278.2 2350.1a10.3 9.5 0 1 0 0.1 0zM1192.3 2195.6a18.3 13.4 0 1 0 0.1 0zM999.1 2308.5a15.3 10.6 0 1 0 0.1 0zM1006.1 2379.1a10.7 6.5 0 1 0 0.1 0zM1186.5 2314.5a10.9 10.2 0 1 0 0.1 0zM1049.7 2222.2a19.4 6.7 0 1 0 0.1 0zM1129.2 2400a8.5 7.4 0 1 0 0.1 0zM1170.6 2349.2a18.2 13 0 1 0 0.1 0zM998.2 2202a15.5 6.9 0 1 0 0.1 0zM1240.1 2402.1a18 13.2 0 1 0 0.1 0zM1005.4 2394.5a13.8 9.5 0 1 0 0.1 0zM1252.8 2199.8a16.8 6.9 0 1 0 0.1 0zM991 2337a9.1 13.7 0 1 0 0.1 0zM1146.8 2329a8.2 9.6 0 1 0 0.1 0zM997.5 2243.8a10.6 11.1 0 1 0 0.1 0zM1219 2393.5a11.8 10.3 0 1 0 0.1 0zM1067.6 2298a8.2 9.6 0 1 0 0.1 0zM1172.1 2327.5a13.2 7.4 0 1 0 0.1 0zM1059.7 2295a18.8 7.1 0 1 0 0.1 0zM1162.5 2244.8a17.8 7.8 0 1 0 0.1 0zM1264.5 2242.9a16.4 10.1 0 1 0 0.1 0zM1110.9 2384.2a15 10.5 0 1 0 0.1 0zM1175.3 2274.2a9.6 13.1 0 1 0 0.1 0zM1200.1 2297.4a8.2 12.8 0 1 0 0.1 0zM1101.3 2346.6a8.8 10.4 0 1 0 0.1 0zM1228.7 2214.3a8.5 13.1 0 1 0 0.1 0zM1218.7 2273.3a9 9.7 0 1 0 0.1 0zM1108 2213.4a11.6 10.1 0 1 0 0.1 0zM1073.5 2386.8a12.8 11.5 0 1 0 0.1 0zM1041.6 2303.5a11.2 6.7 0 1 0 0.1 0zM1056.2 2219.2a17 6.7 0 1 0 0.1 0zM1118.3 2317.7a14 9.4 0 1 0 0.1 0zM1187.7 2322.1a9.9 13 0 1 0 0.1 0z" fill="#000" opacity="0.8" filter="url(#dblur)"/>
<path d="M1012.3 2352.7a24.8 12.9 0 1 0 0.1 0zM1078.8 2323.8a20.8 13 0 1 0 0.1 0zM1110.3 2260.1a20.4 8.8 0 1 0 0.1 0zM1030.3 2238.8a14.3 9.5 0 1 0 0.1 0zM1054.7 2314.6a14.7 9.9 0 1 0 0.1 0zM1020.1 2397a12 17.9 0 1 0 0.1 0zM1169.3 2316.5a14.9 10.6 0 1 0 0.1 0zM1163.9 2396.1a20.6 10.5 0 1 0 0.1 0z" fill="#d01020" opacity="0.55" filter="url(#dblur)" style="mix-blend-mode:screen"/>
<g filter="url(#nblur)" opacity="0.85"><path d="M1041.4 2230.3a8.2 7.8 132 1 0 -10.9 12.1a8.2 7.8 132 1 0 10.9 -12.1zM1048.5 2330.4a9.9 7 165 1 0 -19.2 5.1a9.9 7 165 1 0 19.2 -5.1zM1027.3 2379.9a10.4 6.7 14 1 0 20.1 5.2a10.4 6.7 14 1 0 -20.1 -5.2zM1076.4 2192.3a9.2 6.8 170 1 0 -18.2 3a9.2 6.8 170 1 0 18.2 -3zM1045.8 2336.6a8.3 6.6 23 1 0 15.2 6.7a8.3 6.6 23 1 0 -15.2 -6.7zM1072.6 2253.4a8.6 7.9 33 1 0 14.2 9.5a8.6 7.9 33 1 0 -14.2 -9.5zM1074.7 2343.7a10.3 6.5 109 1 0 -6.8 19.5a10.3 6.5 109 1 0 6.8 -19.5zM1114.8 2356.4a9.2 6.5 140 1 0 -14.3 11.7a9.2 6.5 140 1 0 14.3 -11.7zM1129.8 2251.4a9.6 6.3 134 1 0 -13.4 13.8a9.6 6.3 134 1 0 13.4 -13.8zM1132.4 2291.2a9.7 7.2 35 1 0 15.8 11.2a9.7 7.2 35 1 0 -15.8 -11.2zM1140.8 2337.7a8.4 6.6 136 1 0 -12.3 11.6a8.4 6.6 136 1 0 12.3 -11.6zM1116.3 2364.4a10 7.1 7 1 0 19.8 2.6a10 7.1 7 1 0 -19.8 -2.6zM1167.9 2281.7a8.7 6.5 63 1 0 7.8 15.5a8.7 6.5 63 1 0 -7.8 -15.5zM1153.6 2308.5a9.5 7.5 115 1 0 -8.1 17.3a9.5 7.5 115 1 0 8.1 -17.3zM1186.2 2309.4a9.6 6.9 14 1 0 18.6 5a9.6 6.9 14 1 0 -18.6 -5zM1195.5 2312.1a8.4 7.4 107 1 0 -5.1 15.9a8.4 7.4 107 1 0 5.1 -15.9zM1191.5 2388.8a8.3 7.1 87 1 0 0.7 16.6a8.3 7.1 87 1 0 -0.7 -16.6zM1215.2 2256.3a8.4 6.2 72 1 0 5 16a8.4 6.2 72 1 0 -5 -16zM1222 2392.8a8.6 7.2 106 1 0 -4.9 16.4a8.6 7.2 106 1 0 4.9 -16.4zM1248.7 2201.1a8.8 7.5 144 1 0 -14.3 10.3a8.8 7.5 144 1 0 14.3 -10.3zM1227.1 2261.1a9.2 7.8 33 1 0 15.3 10.2a9.2 7.8 33 1 0 -15.3 -10.2zM1266.7 2255.7a9.8 7 85 1 0 1.6 19.5a9.8 7 85 1 0 -1.6 -19.5zM1281.6 2297.4a10.4 7 169 1 0 -20.5 3.6a10.4 7 169 1 0 20.5 -3.6zM1279.5 2322.2a10.1 6.6 131 1 0 -13.4 15.2a10.1 6.6 131 1 0 13.4 -15.2z" fill="#3a26d8"/><path d="M999.5 2200.1a9.5 6.9 57 1 0 10.1 16.1a9.5 6.9 57 1 0 -10.1 -16.1zM1018.1 2274.2a9.7 6.7 137 1 0 -14.2 13.2a9.7 6.7 137 1 0 14.2 -13.2zM989 2309a10.1 8 3 1 0 20.2 1.1a10.1 8 3 1 0 -20.2 -1.1zM1010.6 2311.1a8.6 7.7 10 1 0 17 3a8.6 7.7 10 1 0 -17 -3zM1042.3 2354.9a9 8 123 1 0 -9.9 15.1a9 8 123 1 0 9.9 -15.1zM1052.1 2302.7a8.9 7.8 36 1 0 14.2 10.6a8.9 7.8 36 1 0 -14.2 -10.6zM1060.9 2345.5a9.7 8 75 1 0 4.7 18.8a9.7 8 75 1 0 -4.7 -18.8zM1091 2212.1a8.5 6.4 104 1 0 -4.3 16.5a8.5 6.4 104 1 0 4.3 -16.5zM1095.1 2234a9.3 6 131 1 0 -12.3 14a9.3 6 131 1 0 12.3 -14zM1076.8 2297a10.1 7 74 1 0 5.5 19.5a10.1 7 74 1 0 -5.5 -19.5zM1079.3 2390.3a10.2 7 77 1 0 4.3 19.8a10.2 7 77 1 0 -4.3 -19.8zM1117.7 2193.4a8.6 6.6 173 1 0 -17 1.8a8.6 6.6 173 1 0 17 -1.8zM1106.3 2294.7a9 6.3 129 1 0 -11.5 14a9 6.3 129 1 0 11.5 -14zM1124.5 2320.3a10.2 6.4 128 1 0 -12.7 16a10.2 6.4 128 1 0 12.7 -16zM1115.1 2394a9 6.5 105 1 0 -4.9 17.3a9 6.5 105 1 0 4.9 -17.3zM1144.2 2200.2a9 6.6 129 1 0 -11.3 13.9a9 6.6 129 1 0 11.3 -13.9zM1148 2246.3a10.1 6.1 177 1 0 -20.2 1a10.1 6.1 177 1 0 20.2 -1zM1141.4 2375.1a8.1 6.6 55 1 0 9.1 13.3a8.1 6.6 55 1 0 -9.1 -13.3zM1164.5 2206.9a8.3 7.5 64 1 0 7.1 15a8.3 7.5 64 1 0 -7.1 -15zM1165.5 2403.1a8.9 6.7 166 1 0 -17.3 4.2a8.9 6.7 166 1 0 17.3 -4.2zM1177 2241.3a9.1 6.4 44 1 0 12.9 12.8a9.1 6.4 44 1 0 -12.9 -12.8zM1192.2 2270.4a10.3 7.1 112 1 0 -7.9 19.1a10.3 7.1 112 1 0 7.9 -19.1zM1176.8 2347.5a10 7.5 21 1 0 18.7 7.2a10 7.5 21 1 0 -18.7 -7.2zM1232.9 2218.3a8.8 6.7 165 1 0 -17 4.4a8.8 6.7 165 1 0 17 -4.4zM1231.5 2296.7a9 7.6 170 1 0 -17.8 3.1a9 7.6 170 1 0 17.8 -3.1zM1214.7 2327.1a8.7 6.6 68 1 0 6.2 16.2a8.7 6.6 68 1 0 -6.2 -16.2zM1256.9 2223a9.2 7 162 1 0 -17.7 5.5a9.2 7 162 1 0 17.7 -5.5zM1237.8 2382.4a10.2 6.5 52 1 0 12.5 16.1a10.2 6.5 52 1 0 -12.5 -16.1z" fill="#4a30e8"/><path d="M1018.7 2251a10 7 175 1 0 -20 1.6a10 7 175 1 0 20 -1.6zM986.8 2326.1a8.7 6.1 20 1 0 16.2 6.1a8.7 6.1 20 1 0 -16.2 -6.1zM989.2 2353.1a9.5 7.4 58 1 0 10 16.2a9.5 7.4 58 1 0 -10 -16.2zM1055.9 2234.5a8.9 6.3 29 1 0 15.4 8.8a8.9 6.3 29 1 0 -15.4 -8.8zM1050.7 2382.1a8.8 6.3 95 1 0 -1.7 17.4a8.8 6.3 95 1 0 1.7 -17.4zM1083.1 2336.4a9.5 7.7 146 1 0 -15.8 10.6a9.5 7.7 146 1 0 15.8 -10.6zM1114.6 2266.3a9 7.9 150 1 0 -15.7 8.9a9 7.9 150 1 0 15.7 -8.9zM1150.9 2279.5a9.2 7.5 13 1 0 17.8 4.2a9.2 7.5 13 1 0 -17.8 -4.2zM1149.2 2350.8a8.9 6.1 15 1 0 17.2 4.7a8.9 6.1 15 1 0 -17.2 -4.7zM1193.1 2189.5a9.4 6.6 121 1 0 -9.9 16a9.4 6.6 121 1 0 9.9 -16zM1198.8 2221.6a8.8 6.3 24 1 0 16 7.3a8.8 6.3 24 1 0 -16 -7.3zM1194.4 2362a8.7 6.1 10 1 0 17 3a8.7 6.1 10 1 0 -17 -3zM1226.5 2306.5a9.4 7.4 21 1 0 17.4 6.9a9.4 7.4 21 1 0 -17.4 -6.9zM1241.1 2314.5a8.2 6.2 23 1 0 15 6.5a8.2 6.2 23 1 0 -15 -6.5zM1241.2 2342.9a10.3 6.5 47 1 0 14 15.2a10.3 6.5 47 1 0 -14 -15.2zM1275.1 2197.9a9.7 6.4 114 1 0 -8.1 17.7a9.7 6.4 114 1 0 8.1 -17.7z" fill="#3020b8"/></g>
<g fill="none" stroke-linecap="round" style="mix-blend-mode:screen" filter="url(#fblur)"><path d="M1103.8 2407q3.3 6.4 3.3 13.6M1273.8 2277.8q10.7 2 19.7 -4.3M1175 2282.1q-9.8 -1 -18.2 4.1M1017.5 2316q12.9 6.5 25.6 13.2M1217.8 2384.2q-3.1 6.4 -9.9 8.5M1031.7 2394.7q8 2.2 12.9 8.8M1237.1 2232.7q2.9 12 13.4 18.4M1168.6 2382.2q-7 4.7 -12.6 11.1M1224.4 2231.5q-3.3 5.3 -8.5 8.8M1001.1 2298.1q4.6 15.3 18.8 22.7M1209.3 2372.3q-11 0.3 -19.4 7.5M1020.6 2323.2q11.8 1.9 23.8 2M1113.6 2328.2q-2.8 15.1 -14.5 25M1169 2218.6q-2.2 7 -8.9 9.9M1185.5 2225.7q-2.4 7 -3.9 14.3M1127 2241.4q1.1 6.1 -0.7 12M1027.4 2219.8q4.7 -3.8 7.2 -9.2M990.8 2394.8q6.3 10.7 18.3 14M1216.8 2255.1q-5 6.4 -7.9 14M1070.4 2338.9q7.5 8.1 17.9 11.5M1075 2252.8q4.9 0.5 9.7 -0.2M1015.6 2289.3q9.8 5.9 14.9 16.2M982.6 2247.3q7.5 10 20 11M1259.9 2262.9q1.2 12.8 6.2 24.6M1190 2305.3q-4.3 1.9 -9 2.8M1126.9 2276q0.4 8.9 -5.7 15.4M1051.3 2288.5q6.9 6.3 15.9 8.8M1262.1 2308.7q0.6 6.4 5.5 10.5M1179.5 2366.1q-4.3 -2.3 -8.8 -0.5M1044.8 2329.8q7.4 4.6 12.4 11.8M1101.4 2226.9q3.4 14.8 15.5 24M1101.5 2193.7q7.7 6.2 17.4 4.4M982.6 2264.8q8.1 9.4 17.6 17.4M1161.4 2394.7q-5.9 13.2 -17.3 22M1276.1 2315.7q9.9 4.6 14.5 14.5M1273.4 2283.1q3.2 7.5 8.6 13.7M1149 2198.7q3.4 9.8 3 20.2M1202.2 2344.4q-12 -0.8 -23 4.1M1018.9 2237.5q10.8 -2 16.8 -11.2M1092 2367.3q-0 5.6 2.9 10.3M1267 2329q0.2 6.2 -1.2 12.3M1277.2 2320.6q5.9 3.5 10.2 8.9M1107 2192q5.2 5.3 12.3 7.4M1024.3 2337.1q7.9 9.5 18.4 16.1M1060.7 2231.7q6.6 0.8 13.3 0.4M1071.7 2405.8q9 6.2 11.4 16.8M1081.5 2351.8q6.3 11.2 9.7 23.6M1119.2 2292.3q-1.8 3.8 -2.5 7.9M1135.3 2274.5q4.9 14.5 -1.7 28.2M1022.3 2243.5q6.7 -11.9 20.2 -14.1M1055.3 2255q9.3 -1.2 17.6 -5.3M1013.3 2402.6q8.8 7 12.7 17.6M1124.6 2247.6q1.5 10 -0.8 19.8M1196.8 2361.7q-7 2.6 -13.7 -0.7M1154.2 2337.5q-11 8.5 -14 22.1M1048.2 2217.7q4.8 0.3 9.3 -1.2M1070.6 2331.8q5.2 3.1 10.9 5.2M1206 2244.4q-4.3 4.7 -8.6 9.6M1244.8 2204.7q10 10.8 17.9 23.2M1078.7 2190q5.3 -2.1 8.1 -7.1M1220 2390.3q-11 7.4 -19.3 17.9M1158.3 2337.4q-5 -2 -9.8 -4.3M1217.4 2295.2q-9.4 5.2 -17.8 11.9M981.3 2275.2q10.3 6.8 21.5 11.6M1262.1 2366.4q4.7 12.8 13.8 22.9M1245 2389.1q8.7 7 8.7 18.2M1180.3 2287.9q-12.5 3.6 -20.6 13.7M1057.4 2307.4q4.6 3.9 10.6 3.5M1001.3 2238q11.8 6.5 24.7 10.3M1126.3 2265.2q-4.6 9.3 -4.5 19.7M1103.5 2276.9q5.9 13.3 0.7 26.8M1094.3 2196.3q0.3 9.6 7.9 15.5M1171.1 2296q-5.8 1.7 -9 6.7M1113 2184.6q8.2 13.1 23.5 15M1131.8 2393.5q-13.9 7.2 -16.6 22.6M1258.8 2244.7q5 14 6.7 28.8M1019.1 2201.8q8 -1.3 13.6 -7.3M1181.4 2326q-6.5 2.8 -12.8 -0.5M1255.3 2359.2q-6.4 12.7 -16.5 22.8M989.3 2205.3q10.3 -8.6 23.5 -6.7M1229 2183.3q5.8 9 14.4 15.4M1099 2285q5.7 4.3 6.8 11.3M1168.1 2190.7q2.5 5.2 2.7 11M1026 2286.2q6.9 5.4 10.2 13.5M1139.6 2343.2q-7.1 6.8 -15 12.4M1278.6 2243.2q5 1.1 9.5 3.4M1070.2 2408q11 7.1 24.1 7.7M1261.8 2195.4q7.6 -6.6 17.5 -8.5M1145.2 2320.5q-2.2 5.3 -6.1 9.5M1131 2224.8q4.3 9.7 6.3 20.2M1124.9 2232.2q-5.1 10.1 -0.4 20.3M1227.6 2391.6q-3.4 2.2 -7.2 3.6M1244.6 2234.5q-4.8 8.7 -2.1 18.3M1187.1 2323q-6.4 0.4 -11.8 -3.2M1096 2237.3q4.2 5.4 9 10.1M1224.5 2212.9q-0.6 10 2.5 19.5M1261.3 2374q7.3 7.4 14.4 15M1037.9 2242.2q14 -2.4 28 -0.3M1036.6 2304.3q8.8 -0.1 17.2 2.4M1192.6 2275.8q-7.5 1.3 -15 1M1115.9 2263.8q-1.6 9.8 -1.7 19.7M1187 2386.4q-4.2 3.9 -8.6 7.6M1103 2308.4q1 11.8 -7.5 20M1213.3 2341.9q-1.9 12.9 -8.3 24.2M1216.1 2361.6q-3.3 4.2 -4.5 9.4M1187.9 2346.8q-14.1 1.9 -28.2 3.6M1064 2328.9q4.9 2.3 9.6 5M1247.2 2346.8q-5.1 12.1 -7.4 25.1M1153 2271q-13.4 6.7 -22.4 18.7M1110.8 2277.1q-0.9 4.8 -3.3 9M1052.7 2297.8q14.5 5 19.5 19.4M1011.5 2279q9 1 16.9 5.4M1142.3 2184.3q1.8 5.4 5.3 9.8M1019.8 2351.1q5.3 6.4 4.8 14.7M1007 2190.2q4.9 -3.5 6.4 -9.4M1237.4 2199.4q5.6 10.2 14.9 17M1194.2 2201.5q-2.4 8.3 -0.7 16.8M1037.1 2221q8.9 -8.6 13.9 -19.9M1054.2 2381.3q7.7 4.7 16.4 2.5M1150.7 2185.1q2.9 13.8 -1.9 27M1175 2387.3q-7.9 5.8 -17.7 5.6M1054.2 2208.2q7.3 1 13.2 -3.3M994.7 2312.7q2.7 7.2 6.8 13.7M1149.4 2342q-13.8 3 -22.5 14.1M1189.4 2266.6q-11.4 4.7 -21.8 11.4M1209.5 2386.4q-3.8 3.5 -9 3.6M1091.2 2342.6q2.9 3.3 4.2 7.5M1204.5 2391.6q-8.6 2.3 -15.4 8.1M1237.4 2301.5q-11.2 0.3 -22.4 1.3M992.7 2220.5q11.2 -2.4 22.4 -5.3M1143 2383.7q-3.6 6.9 -7.3 13.6M1030.4 2235q12.3 9.5 27.8 8.7M1066.8 2222.2q5.8 4.3 13 3.9M1150.2 2348.4q-6.8 12.3 -18 20.9M1008.9 2268.7q11 10.1 23.8 17.6M1012.7 2334.8q1.5 15.2 13.6 24.3M1015.5 2329.8q4.1 9 6.7 18.5M1108.6 2241.9q4.9 8.4 7.8 17.8M1115.8 2363.9q-4.8 7.5 -8.5 15.7M1175.1 2405.4q-8.1 4.4 -17.1 2.3M1172 2361.9q-11.4 5.2 -17 16.4M1143.8 2312.2q-11.4 8.3 -23.5 15.6M1240.1 2232.1q-1.2 6 2.6 10.7M1090.6 2345.5q1 9.4 8.6 15.2M1016.9 2348.9q6.3 2.7 10.6 8M1164.4 2265.4q-2.9 4.8 -3.4 10.4M1177.5 2363.5q-8.8 -1.8 -15.9 -7.3M1267.2 2218.5q4.1 2.6 8.9 3.3M1230.9 2297.8q-7 1 -12.1 6M995.8 2332.1q6.2 3.9 9.5 10.3M1222.1 2299.5q-12.3 -8 -26.2 -3.5M1043.7 2229.7q12.8 3.5 25.9 5.8M1211.7 2266.9q-2.1 4.4 -5.5 8.1M980.7 2362.5q3.3 11.4 14.1 16.5M1161.1 2254.2q-5.1 6.9 -12.6 10.9M1201.5 2193.3q0.3 5 -2.2 9.3M1214.6 2330.2q-4.9 2.6 -10 4.9M1033.6 2330.3q2.9 3 6 5.8M1051.6 2390.8q7.3 8.4 18.4 9.3M1121.2 2222.4q0.2 8.2 6.5 13.3M1083.6 2309.8q-0.7 11.5 5.8 20.9M1236.1 2190.3q0.5 13.6 0.4 27.3M1117.5 2237.7q6.6 4.2 8.2 11.8M1261.3 2205q5.4 6.7 14 7.9M993.3 2401.9q10.9 6.8 22.3 12.6M1003.9 2282.9q5.2 2.1 10.8 3M1253.9 2342.9q-1.3 5.8 -1.6 11.8M1280.4 2318q4.1 4.7 3.4 10.9M1169.8 2203.8q3.3 5.2 5.7 10.9M1228.7 2224.2q3 9.7 7.6 18.7M1136.3 2187q2.6 14.6 13.1 25M1029 2275.4q6 -0.6 10.8 3M1053.8 2294.1q7.6 5.2 8.2 14.5M1120 2285.4q0.1 14.6 5.8 28M1174.7 2361.4q-4.7 14.6 -16.7 24.2M1254.6 2344.3q5.2 13.2 11.7 25.9M1048.9 2372.8q5.3 4.7 12.3 5M1180.9 2179.1q4.9 14.1 -3.5 26.5M1259.4 2314.2q4.8 9.1 7.9 18.9M1079.5 2327.3q5.3 8.5 14.8 11.5M1276.2 2277q0.5 10.5 3.5 20.6M1238.9 2275.5q-3.3 7.4 -10.7 10.6M1134.2 2188.3q0.1 11.9 7.8 20.9M1063.2 2381q3.5 11.6 11.2 21M1114.8 2267.9q-4.3 6.4 -10.7 10.8M1238.1 2245.7q-0.1 13 -0.6 26.1M1036.7 2240.6q6 -2 9 -7.5M1196.8 2341.7q-14 3.2 -27.1 -2.5M973.3 2195.5q12.6 -7.7 27.4 -8.8" stroke="#b00818" stroke-width="0.9" opacity="0.85"/><path d="M1044.3 2409.7q3.8 3.3 8.6 4.9M1284.6 2326.7q-1.8 5.8 1.7 10.7M1121.5 2274.2q-1 4.2 -3.3 7.9M984.6 2227.5q6.5 5 11.5 11.6M1200.2 2188q0.7 6.7 1.9 13.3M1200 2333.9q-14.7 -0.4 -29.3 -1.2M1226.1 2188.9q9.6 5 19.9 1.9M1206.3 2191.1q-3.9 6.6 -3.4 14.3M1035 2205.8q5.3 -9.9 13.8 -17.2M1041.6 2279.9q11.4 6.2 18.4 17.2M1113.9 2345.3q2.7 8.9 1 18.1M1167.6 2295.8q-4.4 2.2 -9.1 1M1021.8 2321.7q5.6 1.4 10 5.1M988.4 2296.4q9.7 8.1 9.2 20.7M1277.1 2288q4.4 3.5 4.6 9.1M1125.4 2340.3q1 8.8 -0.6 17.5M1180.4 2216.6q-9.2 6.7 -10.2 18.1M1121 2198.7q10.7 8.6 20.1 18.7M1110.9 2187.4q7.1 9.1 16.6 15.7M1118.9 2278.6q-12 8.7 -13.3 23.5M1076.5 2261.2q4.5 2 8.1 5.5M1176.1 2333q-8.1 -0.9 -15.5 2.5M1069.4 2240.5q6.5 1.4 12.9 -0M1036.9 2390.4q8.6 7.8 19.8 10.5M1236.9 2195.7q-5.4 13.7 2 26.5M1054.9 2321.1q6.8 2.7 14 4.5M1225.7 2374.9q-5.3 0.6 -10.1 3M1063.4 2319.1q5.7 12.8 13.6 24.3M999 2267.8q5.3 -2.1 10.6 -0.4M1196.3 2357.4q-8.5 0.9 -14.9 6.4M1061.2 2302.8q3.4 9.8 12.7 14.4M1245.8 2282.3q-3.2 7 -10.1 10.4M1120 2360q1 13 -2.5 25.5M1106.6 2226.6q4.5 0.8 8.5 3.1M1203.3 2197.8q-4.2 12.5 -4 25.7M1189 2187.8q-8 10.4 -6.6 23.4M1235.3 2355.3q-7.6 10.5 -7.2 23.5M1027.6 2255.3q6.3 3.8 13.2 6.2M1053 2396.7q6.6 10.8 18.9 13.9M1184.2 2345q-12.2 -7.1 -26.1 -9.6M1260.4 2198.9q13.5 2.4 25.8 8.3M1061.7 2298.8q9.1 -1.3 16.8 3.7M1093.6 2286.8q-2.4 3.9 -1.7 8.5M1167.7 2286.7q-5.5 -2.7 -11.6 -3.2M1180.7 2286.3q-12.2 -3.5 -24.6 -1.1M1210.9 2361.1q-5.1 1.8 -10.4 1.4M1237.9 2294.7q-4.6 9.1 -5.8 19.1M1172.4 2204.1q-0.8 13.1 -0.7 26.3M1118.9 2262q0.4 8.2 4.7 15.2M992.1 2313.5q6.2 3.6 7.7 10.6M1057.4 2273.5q4 5 9 8.9M1063.6 2220.9q14.9 1.4 29.7 3.9M1260.2 2284.5q-1.2 6.6 0.6 13.1M1090.5 2326q-6 13.4 -5.6 28.1M1116.6 2189.2q6.1 4.9 8.4 12.3M980.5 2271q3.5 3.6 3.3 8.6M1044 2381.6q8.9 3.2 15.6 9.9M1163.6 2258.5q-5.1 1.2 -7.3 5.9M1071.9 2199.6q4 -2.1 8.5 -1.8M1217 2313.5q-13.2 6.8 -26.1 14.3M1015 2362.9q11.1 5 20.3 12.9M1047.6 2348.3q13.4 4.5 19.2 17.3M1265.4 2345.3q5.8 8.2 6.1 18.1M1214.6 2185.9q8.9 1.1 14.2 8.3M1209.2 2355.2q-5.1 -0.9 -10.3 -0.4M1031.3 2374.1q9.3 10.2 21.6 16.5M991.8 2412.6q5.5 2.4 7 8.1M1129.2 2405.6q3.4 5.1 1.9 11.1M1187.1 2303.4q-11.8 10 -27.3 10.9M1052.3 2338.7q14.8 0.1 23.7 11.8M994 2380.1q1.7 5.5 2.1 11.2M984.1 2205.2q11.7 -7.7 25.7 -6.8M1274.3 2275.2q-0.3 5.3 -0 10.6M1156 2261.4q-6 4.6 -12.6 8.2M1279.2 2225.7q6.6 -0.3 12.5 2.7M1112.9 2249.9q0.3 14.2 -7 26.4M1204.3 2232.9q-5.4 14 -18.2 21.9M1244.2 2391.5q-4 5.2 -3.4 11.7M1024.9 2406.6q5.2 2.1 9.5 5.8M1219.5 2273.9q-6.8 -2.6 -14.1 -2.7M1177.7 2288.7q-6.8 8.1 -14.3 15.5M1016.7 2229.7q5.2 -2.2 10.3 -4.8M1170.6 2207.7q-1.8 3.9 -1.7 8.1M1238.7 2292.4q-6.3 10.3 -12 21M1196.5 2201.5q-8.2 4.6 -14.2 11.8M1056.8 2384.9q5 2.8 7.4 8M1223.9 2190.4q14.8 1.7 26.5 10.9M1275.2 2354.9q-0.7 5.2 3 9M1084.1 2229q8.7 -0.6 17.3 1.2M1157.4 2308.7q-3.5 4.1 -7.9 7.1M1191.1 2397.5q-4.8 2.4 -9.5 4.8M1077.5 2385.1q-1.9 9.1 0.5 18.1M1260.2 2195.9q7.8 -1.3 15.6 -0.1M1236.6 2357.5q-12.4 3.5 -18.3 14.9M1219.6 2411.4q-3.9 6 -10.9 6.7M1175.9 2357.7q-4.1 6.1 -9.3 11.2M982.1 2402.7q2.9 9.2 6 18.2M1137.2 2326q-5.8 6.3 -6.7 14.7M975.3 2187.5q8.7 -6 18.8 -2.8M987.4 2328.9q10 -1.7 19.3 2.4M1206.8 2274.2q-11.5 8.1 -16.2 21.3M1241.3 2359.5q-0.8 8.7 -0.7 17.5M995.9 2232.8q9.5 -3.6 15 -12.2M1210.9 2407.1q-6.3 7 -10.3 15.6M1089.9 2184.8q10.5 -0.4 20.2 3.6M1087.1 2336.4q7.3 6.5 15 12.4M1197.5 2376.7q-11.2 6.4 -17.4 17.7M1061.8 2331.1q3.1 11.5 4.7 23.3M1059.9 2244.2q14.1 -3.6 23.3 -14.8M1119.3 2324.6q-2.4 10 -3.5 20.2M1115.3 2194.9q15.1 0.3 26.2 10.6M1155.9 2328.9q-10 3 -14.4 12.5M1099.3 2232.9q8 -0.7 13.4 5.2M1066.4 2307.4q13.7 6.6 19.9 20.4M996.3 2333.2q4.2 3.7 9.8 4.1M1020.3 2310.2q5.6 5.7 12.4 10M1004.3 2278.8q8.4 10.9 21.9 13.4M1239 2327q-5.5 0.6 -9.4 4.6M1039.2 2300.8q4.8 9.7 9.9 19.2M1136.7 2184.3q2.2 5.5 6.5 9.5M1277.8 2192.5q8.2 3.6 16.3 -0M1253.7 2267.3q-0.4 8.5 0.2 16.9M1010.2 2216.2q10.1 4.9 20.3 0.4M985.4 2270.8q1.7 9.3 5.8 17.8M1136.7 2401.6q-4.3 12.4 -5.9 25.4M1118.1 2368.3q-2.7 13.4 0.8 26.6M1011.7 2341q5.9 3.2 8 9.7M1171.4 2177.4q-1.3 6.1 -1.6 12.3M1110.5 2283.6q-1.3 12.4 1.1 24.6M1049.4 2272.3q11.4 7.4 21 17.1M1265.5 2362.8q0.3 10.5 8.3 17.4M1151.4 2239.3q-9.8 4.8 -12.5 15.4M1134.9 2322.3q-7.9 4.6 -12.7 12.5M1140.8 2255.7q-2.2 14.7 -13.8 24.1M1241.2 2221q-1 6.5 2.7 12.1M1112.2 2289.7q-5.9 7.8 -9.9 16.6M1189.2 2408q-10.9 4.7 -15.6 15.6M986.9 2197.4q9.1 -1.5 17.2 -5.7M1189.7 2254.3q-10.6 6.9 -23.3 7.1M1146.3 2389.2q-7.7 5.9 -7.7 15.7M981.1 2226.4q6.8 1.5 11.4 6.8M999.8 2349.8q15 -2.1 26.7 -11.8M1138.6 2379.8q-3.3 7.7 -7.6 14.9M1135.4 2351.7q-7 5.5 -8.2 14.4M1049.4 2361q4.4 6.8 5 14.8M1189.7 2336q-7.2 -1.8 -13.8 1.3M1178.1 2224.6q-7.6 3.8 -13 10.3M975.5 2211.1q12.1 -2.1 24.1 -4.7M1048.1 2300.5q5.5 0.8 11.1 0.5M1221.7 2224.8q2.8 6.2 0.9 12.6M1231.1 2345.5q1.4 12.1 -6.4 21.3M1164 2401.7q-1.2 9.6 -2.2 19.2M1004.3 2215.1q5.3 -9.4 8.2 -19.9M1180.1 2248q-11.5 9.9 -26.7 8.7M1020.1 2261.2q8 4.9 16.8 1.7M1180.8 2261.5q-4.2 6.8 -8.3 13.7M1228.2 2238.6q-0.2 6.5 1.2 12.9M1225.3 2197.2q5.2 10 0.7 20.3M1057 2202.8q2.1 -6.5 7.4 -10.9M1161 2396.3q-4.8 6 -5.9 13.5M1262.7 2340.4q-1 8.1 -2.5 16.1M1153.1 2279.9q-7.3 13.7 -1.7 28.1M1267.8 2356.7q11.1 6.7 16.1 18.7M1060.4 2338.8q12.2 -0.2 20.8 8.5M1175.2 2357.8q-8.6 -2.7 -17.6 -1.7M1087.5 2227.9q4.9 10.4 10.6 20.5M1058.5 2362.7q2.1 6.6 7 11.5M1106.3 2391.6q1.6 6.7 -0.2 13.3M1039 2266.8q13 1.8 23.7 9.4M1097.5 2326.7q-2.7 10.6 0.8 20.9M1093.8 2364.5q3.3 4.6 4.9 10M1071.8 2262.3q10 3 18.6 8.8M1058.8 2317.1q3.4 2.5 5.3 6.2M1199 2232.9q2 12.5 -3.8 23.8M1276.8 2235.4q4.1 3.7 9.5 3M1063.7 2393.5q2.8 4.8 7.8 7.3M1154.3 2354.4q-5.9 10.5 -17.7 12.7M1211.6 2242.6q-9 8.4 -19.9 14.1M1039.3 2319.4q3.5 13.5 16.3 19.2M1167.7 2293.3q-5.7 9.2 -16.3 11.1M1125.7 2181.5q6.2 5.2 10.9 11.7M1115.3 2327q2.8 3.8 4.1 8.3M1219.5 2310.3q-9.7 -1.4 -19.2 1.4M987.6 2331.4q7.8 10.1 17 19.1M1078.6 2330q0.9 5.1 4.1 9.3M1141.1 2354.1q-6.4 11.3 -11.1 23.5M1230.7 2216.3q-3.8 2.8 -4.7 7.4M1247.2 2290.9q-1.5 5.4 -5.8 9.1M1240.3 2282.7q1.8 8.4 -3.7 15M1062.2 2269.3q12.1 8.5 26.1 13.6M975.2 2406.7q7.4 2.5 13.7 7.2M978.3 2407.4q13 2.7 26.3 3.5M1246 2395.4q2.3 10.2 10.2 17M1024.5 2249.6q4.4 -3.5 8.6 -7.1M1254.7 2223.9q12.7 -6.3 26.9 -5.1M1245.4 2182.5q7.8 7.8 17.3 13.5M1076.8 2220.6q10.4 -0.8 19.4 4.5M1250.5 2295.8q-8.6 7.8 -16.9 16.1M1239.4 2395.2q-3.1 13.2 1.1 26.1M1059.3 2380.5q6.3 9.8 17.6 13M1000.4 2258.3q9.2 -1.8 16.2 4.4M1256.3 2283.1q-2.8 8 -2.3 16.4M992.1 2392q8.5 9.7 21.4 10.7M1274.9 2381.1q-0.8 5.9 2.7 10.7M1187.6 2310.6q-3.3 4.1 -8.5 4.5M1266.1 2356q5 5.5 3.7 12.8M1251.6 2399.5q14.2 4.7 20.2 18.3M1073.2 2234.6q13.4 5 17.8 18.7M1248.8 2309.8q-6.6 10.8 -5.1 23.4M1216 2375.5q-4.7 9.1 -11.8 16.4M1047.3 2211.1q7.3 -2.9 14 -7.1M1040.3 2392q12.2 4.1 25 2.2M1259.7 2323.3q-4.7 10.7 0.8 21M1124 2213q5.5 13.2 12 26M1133 2212.8q4.5 3 8.3 6.8M1013.6 2286.2q11.8 2.9 19.8 12.1M1251.4 2286.2q-13.3 1.3 -21 12.2M1267.6 2178.9q10.6 2 18.1 9.8M1054.6 2257.5q5.1 8.3 14.5 10.8M975.9 2181.4q7.6 2.9 15.5 4.7M1035 2222.4q10.1 -8.8 11.5 -22.1M1193.3 2291.6q-4.5 3.2 -7.7 7.8M1193.9 2392.8q-5.7 1.9 -11.3 4.3M1242.6 2395.2q-1.9 3.8 -4.8 6.9M1172.8 2239.3q-7.6 12.6 -20.7 19.3M1023.9 2275.7q10.3 2.8 20.9 3.2M972.8 2221q14.6 1.5 29.3 2.9M1001.1 2331q-3 11.2 2.5 21.4" stroke="#e81424" stroke-width="1.2" opacity="0.9"/><path d="M1241.9 2399.2q5.7 8.1 5.3 18.1M990.9 2254.4q-0.8 5.1 2.5 9M1223.4 2195.1q2.6 6.5 5.9 12.6M1177.8 2259q-3.9 4.2 -3.9 9.9M1263.3 2310.6q6.1 11.4 18 16.5M999.4 2359.7q6.3 11.3 17.7 17.4M993 2228.1q9.5 1.9 15.2 9.8M1164.9 2250.4q-4.8 12.1 -13.7 21.6M1089.5 2236q2.8 10.6 12.9 14.7M1048.2 2261.5q9.2 3.4 18.5 0.1M1083.4 2231q7.1 -2.4 13.4 1.6M1080.6 2383.9q-1.6 15 8.9 25.8M1022.5 2274.1q3.2 3.9 8 5M1232.9 2319.5q-3.4 6.7 -9.6 10.9M1257.2 2190.3q6.6 2.9 12 7.8M985 2363.6q14.3 6.1 20.5 20.4M1231.8 2392.7q-2.9 8.4 -8.3 15.4M1177 2254.5q-12.8 3.9 -20.3 15M1056.1 2408.3q11.1 -8.4 24.6 -5.1M1238.2 2272.8q-4.5 3.8 -7.6 8.8M1272.2 2212.7q7.3 6.2 16.4 9.3M1130.3 2235.9q-0.9 5.5 -5.6 8.4M1162.8 2401.6q-8.6 6.3 -17.5 12.3M1117.4 2342.6q-3.2 4.1 -5.4 8.8M1170.5 2220q-2.7 6 -2.2 12.5M1143.8 2314.1q-11.7 4.6 -19.3 14.6M1046.4 2339.9q6.4 1.6 12 5.2M1265.4 2304.8q6.2 10.5 5.9 22.6M980.6 2376.4q5.2 14.4 17.6 23.3M1172.5 2368.9q-7.3 1.6 -12.5 7.1M1262.5 2307.3q0.3 12.9 -0.1 25.7M1168.1 2333q-11.2 -4.4 -23 -2.2M1197.3 2243.3q-8.6 7 -13.8 16.9M1156.4 2180.3q7.7 13 6.4 28M1014.9 2267q8.4 1.8 15.6 6.5M1181.6 2172.5q-3.7 9.7 0.7 19.2M1201.3 2321.5q-13.3 3.5 -27 4M999.5 2402.6q9.9 -2.1 19.9 0.1M983.3 2408.9q4 1.3 8.2 1.1M1069.2 2254.6q7.6 6.7 17.5 9.1M1198 2319.8q-7.4 -0.1 -14.8 -0.2M1275.8 2294.4q3.6 10.8 14.1 15.4M1194.1 2350.4q-6.2 5.3 -14.4 5.5M1214.5 2355.5q-7.5 -0.4 -13.7 4M984.1 2239.1q2.2 6.4 6.8 11.4M1049.2 2315.4q14.8 4.5 21.3 18.5M1271.9 2344.6q15.2 6.3 20.2 22M1230.2 2250.1q-2.9 5.5 -3.6 11.7M1154.1 2309.9q-7.2 5.2 -13.8 11.2M1258.5 2295.9q-3 11.1 -10.4 19.9M1198.4 2288.1q-4.1 0.3 -7.7 2.4M1252.4 2211.3q7 12.1 18.6 19.9M1020.4 2231.8q7.2 -3.5 14.4 -6.9M1057.8 2275.6q7.7 10.3 13.7 21.7M1078.3 2333.7q1.8 4 4.9 7M1067.7 2237.9q7.1 3.6 15 4.6M1188.4 2186.6q-3.1 13 1.9 25.5M994.9 2354.1q5.5 11.1 15.4 18.5M1273.5 2289.4q3.3 10.9 12.9 17M1149.1 2235.6q-1.4 9.5 -7 17.2M984.2 2224.5q4.1 -2.4 7.7 -5.3M1235.8 2255.5q-5.1 3.4 -7.5 9M1213.2 2267.3q-1.5 16 -15.2 24.5M1198.4 2257.2q-14.7 -0.4 -29.4 0.9M1258.5 2237.2q-0.8 13.3 -1.6 26.6M1217.2 2343.9q-10 10.5 -23.8 15.3M1164.5 2172.8q2.2 14.4 13.1 24.2M1220.4 2359.8q-9 1.1 -17.9 2.3M1168.7 2346.2q-8.6 0.5 -13.6 7.6M1067.8 2334.6q5.7 2.9 10.5 7M987.9 2368.3q6.5 11.7 2.1 24.3M1036.2 2326.2q5.8 7.1 13.9 11.4M1164.4 2195.8q1.5 5.1 3.7 9.9M1237.7 2392.5q-6 10.3 -15.7 17.3M1130.5 2230.8q7.3 6.8 11.6 15.9M1215.5 2406.9q1.9 4.9 -0 9.8M1158.7 2383.3q-4 2.6 -6.2 6.8M1037.3 2386.3q5.4 -7.1 14.3 -8.1M1181.5 2222.6q-5.3 6.7 -13 10.2M1177.7 2250.4q-5 2.6 -10.3 0.7M1045 2337.1q7.8 -0 15.2 2.4M1250.7 2369.5q-2.5 8.3 -5.3 16.5M1193.5 2342.6q-5.3 4.2 -11.9 2.8M1248.8 2202.8q8.4 1 16.9 1M1254.2 2350.2q-4.4 4.5 -4.1 10.7M1046.6 2234.5q12.3 3.1 24.7 0.2M1165.4 2345q-8.7 8.2 -18 15.7M1101.7 2208.9q1.7 10.8 8.4 19.5M1257.7 2186.6q8.6 4.7 18.1 2.4M1002.4 2379.8q7.7 1.3 12.5 7.5M1198.5 2339.7q-7.9 2.5 -15.2 -1.2M983.4 2292q2.1 14.1 9.4 26.4M1054.8 2246.2q7.8 0.9 15.2 3.3" stroke="#ff2838" stroke-width="1.7" opacity="0.9"/></g>
<path d="M1274.9 2265a7 7 0 1 0 0.1 0zM1057.1 2290.3a5.4 5.4 0 1 0 0.1 0zM1263.9 2193.9a4.9 4.9 0 1 0 0.1 0zM1238.3 2221.1a5.2 5.2 0 1 0 0.1 0zM1101.1 2337.5a5.7 5.7 0 1 0 0.1 0zM1045.8 2200.9a3.4 3.4 0 1 0 0.1 0z" fill="#ff3070" opacity="0.7" filter="url(#nblur)" style="mix-blend-mode:screen"/>
</g>
<g clip-path="url(#c11)">
<rect x="1288.8" y="2191.7" width="287.9" height="215.1" fill="#050002"/>
<g filter="url(#hblur)"><rect x="1240.3" y="2137.4" width="49" height="54.8" fill="#49020b"/><rect x="1288.3" y="2137.4" width="49" height="54.8" fill="#49020b"/><rect x="1336.3" y="2137.4" width="49" height="54.8" fill="#49020b"/><rect x="1384.3" y="2137.4" width="49" height="54.8" fill="#49020b"/><rect x="1432.2" y="2137.4" width="49" height="54.8" fill="#3d0209"/><rect x="1480.2" y="2137.4" width="49" height="54.8" fill="#240105"/><rect x="1528.2" y="2137.4" width="49" height="54.8" fill="#240105"/><rect x="1576.2" y="2137.4" width="49" height="54.8" fill="#240105"/><rect x="1240.3" y="2191.2" width="49" height="54.8" fill="#49020b"/><rect x="1288.3" y="2191.2" width="49" height="54.8" fill="#49020b"/><rect x="1336.3" y="2191.2" width="49" height="54.8" fill="#49020b"/><rect x="1384.3" y="2191.2" width="49" height="54.8" fill="#49020b"/><rect x="1432.2" y="2191.2" width="49" height="54.8" fill="#3d0209"/><rect x="1480.2" y="2191.2" width="49" height="54.8" fill="#240105"/><rect x="1528.2" y="2191.2" width="49" height="54.8" fill="#240105"/><rect x="1576.2" y="2191.2" width="49" height="54.8" fill="#240105"/><rect x="1240.3" y="2245" width="49" height="54.8" fill="#49020b"/><rect x="1288.3" y="2245" width="49" height="54.8" fill="#49020b"/><rect x="1336.3" y="2245" width="49" height="54.8" fill="#55020d"/><rect x="1384.3" y="2245" width="49" height="54.8" fill="#55020d"/><rect x="1432.2" y="2245" width="49" height="54.8" fill="#55020d"/><rect x="1480.2" y="2245" width="49" height="54.8" fill="#55020d"/><rect x="1528.2" y="2245" width="49" height="54.8" fill="#3d0209"/><rect x="1576.2" y="2245" width="49" height="54.8" fill="#3d0209"/><rect x="1240.3" y="2298.8" width="49" height="54.8" fill="#49020b"/><rect x="1288.3" y="2298.8" width="49" height="54.8" fill="#49020b"/><rect x="1336.3" y="2298.8" width="49" height="54.8" fill="#49020b"/><rect x="1384.3" y="2298.8" width="49" height="54.8" fill="#55020d"/><rect x="1432.2" y="2298.8" width="49" height="54.8" fill="#55020d"/><rect x="1480.2" y="2298.8" width="49" height="54.8" fill="#49020b"/><rect x="1528.2" y="2298.8" width="49" height="54.8" fill="#3d0209"/><rect x="1576.2" y="2298.8" width="49" height="54.8" fill="#3d0209"/><rect x="1240.3" y="2352.5" width="49" height="54.8" fill="#3d0209"/><rect x="1288.3" y="2352.5" width="49" height="54.8" fill="#3d0209"/><rect x="1336.3" y="2352.5" width="49" height="54.8" fill="#3d0209"/><rect x="1384.3" y="2352.5" width="49" height="54.8" fill="#49020b"/><rect x="1432.2" y="2352.5" width="49" height="54.8" fill="#49020b"/><rect x="1480.2" y="2352.5" width="49" height="54.8" fill="#49020b"/><rect x="1528.2" y="2352.5" width="49" height="54.8" fill="#3d0209"/><rect x="1576.2" y="2352.5" width="49" height="54.8" fill="#3d0209"/><rect x="1240.3" y="2406.3" width="49" height="54.8" fill="#3d0209"/><rect x="1288.3" y="2406.3" width="49" height="54.8" fill="#3d0209"/><rect x="1336.3" y="2406.3" width="49" height="54.8" fill="#3d0209"/><rect x="1384.3" y="2406.3" width="49" height="54.8" fill="#49020b"/><rect x="1432.2" y="2406.3" width="49" height="54.8" fill="#49020b"/><rect x="1480.2" y="2406.3" width="49" height="54.8" fill="#49020b"/><rect x="1528.2" y="2406.3" width="49" height="54.8" fill="#3d0209"/><rect x="1576.2" y="2406.3" width="49" height="54.8" fill="#3d0209"/></g>
<path d="M1394.4 2198.3a10.1 9.5 0 1 0 0.1 0zM1514.5 2286.9a14.1 7.4 0 1 0 0.1 0zM1422.8 2255.5a17.6 9 0 1 0 0.1 0zM1466.6 2216a10.5 9.4 0 1 0 0.1 0zM1452.6 2294.4a8.2 12.7 0 1 0 0.1 0zM1527.2 2306.8a16.2 10.2 0 1 0 0.1 0zM1336.4 2345.8a9.2 13.5 0 1 0 0.1 0zM1356.1 2378.3a19.5 7 0 1 0 0.1 0zM1493.7 2211.3a12.9 8 0 1 0 0.1 0zM1342.7 2301.9a18.2 9.8 0 1 0 0.1 0zM1304.7 2227.4a9.6 7.2 0 1 0 0.1 0zM1332.4 2232.5a14.4 8.1 0 1 0 0.1 0zM1343.4 2383.6a8.4 9.6 0 1 0 0.1 0zM1308.4 2234.9a11.7 7.1 0 1 0 0.1 0zM1428.6 2287a11.6 8.7 0 1 0 0.1 0zM1385.4 2287.9a17.2 6.8 0 1 0 0.1 0zM1570.4 2357.8a15.6 6.6 0 1 0 0.1 0zM1333.2 2235.4a8.5 13.9 0 1 0 0.1 0zM1453.1 2280.1a14.3 12.3 0 1 0 0.1 0zM1355.4 2258.9a11.8 9.6 0 1 0 0.1 0zM1329.2 2287.9a18 12.1 0 1 0 0.1 0zM1427.4 2227.3a9.8 13.1 0 1 0 0.1 0zM1381.3 2399a10.9 8.9 0 1 0 0.1 0zM1562.7 2252.6a9.3 11 0 1 0 0.1 0zM1402.2 2316.7a11.8 6.4 0 1 0 0.1 0zM1519.3 2344.1a11.6 11.2 0 1 0 0.1 0zM1295.1 2319.3a14.2 9.3 0 1 0 0.1 0zM1551.5 2402.7a16.6 7.5 0 1 0 0.1 0zM1361 2349.6a12.5 10.8 0 1 0 0.1 0zM1381.3 2366.3a11 7 0 1 0 0.1 0zM1461.2 2368.1a16.8 6.6 0 1 0 0.1 0zM1508.8 2380.5a17.3 10 0 1 0 0.1 0zM1444.4 2372.3a15.5 10.7 0 1 0 0.1 0zM1396.2 2203a11.3 12.6 0 1 0 0.1 0zM1481.8 2381.8a12.2 9.5 0 1 0 0.1 0zM1537.4 2271.9a14.1 11.9 0 1 0 0.1 0zM1539.1 2193.8a9.5 9 0 1 0 0.1 0zM1359.6 2199.3a17.2 9.9 0 1 0 0.1 0zM1560.3 2397.2a11.2 13.8 0 1 0 0.1 0zM1316.5 2247.9a11.8 12.5 0 1 0 0.1 0z" fill="#000" opacity="0.8" filter="url(#dblur)"/>
<path d="M1416.5 2369.1a17 16.4 0 1 0 0.1 0zM1330.3 2351.2a16.3 13.9 0 1 0 0.1 0zM1542.8 2274a17.2 9.2 0 1 0 0.1 0zM1382.9 2238.6a12.9 10.2 0 1 0 0.1 0zM1306.3 2265.2a19.1 9.5 0 1 0 0.1 0zM1339.1 2262.2a20.1 12.8 0 1 0 0.1 0zM1438.6 2259.2a11.6 9.5 0 1 0 0.1 0zM1544.4 2381.6a23.5 12 0 1 0 0.1 0zM1293.4 2351.6a17.5 15.2 0 1 0 0.1 0zM1491.1 2389.5a17.2 9.8 0 1 0 0.1 0zM1566.1 2346a20.5 12.2 0 1 0 0.1 0zM1567.7 2303.5a22.9 13.1 0 1 0 0.1 0z" fill="#d01020" opacity="0.55" filter="url(#dblur)" style="mix-blend-mode:screen"/>
<g filter="url(#nblur)" opacity="0.85"><path d="M1298.6 2282a9.9 6.9 99 1 0 -3.1 19.5a9.9 6.9 99 1 0 3.1 -19.5zM1301.9 2330.3a9 6.5 35 1 0 14.6 10.4a9 6.5 35 1 0 -14.6 -10.4zM1320.7 2187.8a10 6.7 94 1 0 -1.5 20a10 6.7 94 1 0 1.5 -20zM1322 2229.4a8.7 6.2 74 1 0 4.6 16.9a8.7 6.2 74 1 0 -4.6 -16.9zM1328.3 2299.7a9.8 6.4 58 1 0 10.4 16.7a9.8 6.4 58 1 0 -10.4 -16.7zM1311.1 2312.3a10.4 7.1 22 1 0 19.3 7.8a10.4 7.1 22 1 0 -19.3 -7.8zM1336.6 2343.4a9 6.7 98 1 0 -2.8 17.8a9 6.7 98 1 0 2.8 -17.8zM1357.2 2191.3a10.1 7.7 127 1 0 -12.3 16a10.1 7.7 127 1 0 12.3 -16zM1360.3 2261.6a10.2 7.1 2 1 0 20.4 0.9a10.2 7.1 2 1 0 -20.4 -0.9zM1357.6 2307.6a8 7.6 173 1 0 -16 1.8a8 7.6 173 1 0 16 -1.8zM1362.7 2336.4a8.6 7 38 1 0 13.4 10.7a8.6 7 38 1 0 -13.4 -10.7zM1385.1 2211.2a9 8 41 1 0 13.7 11.9a9 8 41 1 0 -13.7 -11.9zM1379.6 2252.3a9.5 7.1 71 1 0 6.1 18a9.5 7.1 71 1 0 -6.1 -18zM1423.1 2266.2a10 6.5 98 1 0 -3.1 19.7a10 6.5 98 1 0 3.1 -19.7zM1405.7 2296.8a9.6 8 37 1 0 15.3 11.5a9.6 8 37 1 0 -15.3 -11.5zM1422.5 2374.7a9.5 6.1 93 1 0 -1.3 19a9.5 6.1 93 1 0 1.3 -19zM1443.2 2301.9a9.3 7.1 75 1 0 4.6 18.1a9.3 7.1 75 1 0 -4.6 -18.1zM1481.1 2376.3a10.1 6.8 114 1 0 -8.4 18.3a10.1 6.8 114 1 0 8.4 -18.3zM1488.3 2289.9a10.4 6.4 47 1 0 14.1 15.2a10.4 6.4 47 1 0 -14.1 -15.2zM1496.7 2312.1a8.5 7.8 56 1 0 9.4 14.2a8.5 7.8 56 1 0 -9.4 -14.2zM1497.7 2340.5a8.9 7.6 97 1 0 -2.5 17.7a8.9 7.6 97 1 0 2.5 -17.7zM1525.7 2219a9.4 7.5 106 1 0 -5.3 18.1a9.4 7.5 106 1 0 5.3 -18.1zM1566.5 2212.9a9.1 7.8 24 1 0 16.5 7.6a9.1 7.8 24 1 0 -16.5 -7.6zM1581.7 2231.6a9 7.5 165 1 0 -17.5 4.4a9 7.5 165 1 0 17.5 -4.4zM1563.8 2326.9a9.1 7.4 172 1 0 -18 2.5a9.1 7.4 172 1 0 18 -2.5zM1568.6 2352.9a9.7 6.8 158 1 0 -18.1 7a9.7 6.8 158 1 0 18.1 -7z" fill="#3a26d8"/><path d="M1311.8 2208.4a10 6.6 119 1 0 -9.9 17.3a10 6.6 119 1 0 9.9 -17.3zM1317.1 2219.8a10 6.1 115 1 0 -8.8 18.1a10 6.1 115 1 0 8.8 -18.1zM1301.8 2266.4a9.7 7.3 136 1 0 -14 13.4a9.7 7.3 136 1 0 14 -13.4zM1281 2346.4a10.3 6.8 16 1 0 19.7 5.9a10.3 6.8 16 1 0 -19.7 -5.9zM1323.6 2388.9a10.4 6.6 167 1 0 -20.3 4.3a10.4 6.6 167 1 0 20.3 -4.3zM1346.9 2235.1a8.6 6.4 25 1 0 15.5 7.4a8.6 6.4 25 1 0 -15.5 -7.4zM1405.7 2248.5a9.5 7.8 165 1 0 -18.4 4.7a9.5 7.8 165 1 0 18.4 -4.7zM1379.8 2321.7a9.2 6.5 76 1 0 4.4 17.9a9.2 6.5 76 1 0 -4.4 -17.9zM1389.6 2344.9a9.5 6.2 131 1 0 -12.6 14.3a9.5 6.2 131 1 0 12.6 -14.3zM1409 2388.8a10.3 7.9 140 1 0 -15.7 13.2a10.3 7.9 140 1 0 15.7 -13.2zM1437.6 2204.6a9.1 6.3 159 1 0 -17.1 6.2a9.1 6.3 159 1 0 17.1 -6.2zM1404.2 2244.1a8.5 6.3 45 1 0 11.9 12.3a8.5 6.3 45 1 0 -11.9 -12.3zM1404.4 2359.3a8.2 6.7 17 1 0 15.6 5a8.2 6.7 17 1 0 -15.6 -5zM1463.3 2211.9a10.2 6.8 179 1 0 -20.5 0.3a10.2 6.8 179 1 0 20.5 -0.3zM1454.8 2244.4a9.2 7.2 175 1 0 -18.3 1.5a9.2 7.2 175 1 0 18.3 -1.5zM1451.5 2266.8a8.9 7.8 172 1 0 -17.6 2.3a8.9 7.8 172 1 0 17.6 -2.3zM1464.7 2326a9.9 7.4 151 1 0 -17.3 9.5a9.9 7.4 151 1 0 17.3 -9.5zM1456.8 2375.4a9.7 6.9 162 1 0 -18.6 6a9.7 6.9 162 1 0 18.6 -6zM1470 2216.2a8.8 7.9 105 1 0 -4.9 16.9a8.8 7.9 105 1 0 4.9 -16.9zM1490.6 2269.4a9.4 7.5 139 1 0 -14.4 12.1a9.4 7.5 139 1 0 14.4 -12.1zM1464.7 2295.6a8.6 6.5 5 1 0 17.1 1.7a8.6 6.5 5 1 0 -17.1 -1.7zM1470.7 2346.9a9.3 7.3 117 1 0 -8.7 16.5a9.3 7.3 117 1 0 8.7 -16.5zM1486.7 2242.6a9.3 6.9 24 1 0 16.9 7.7a9.3 6.9 24 1 0 -16.9 -7.7zM1484.7 2275.4a9.2 6 18 1 0 17.4 5.8a9.2 6 18 1 0 -17.4 -5.8zM1516.1 2380.9a9.5 7.9 100 1 0 -3.5 18.8a9.5 7.9 100 1 0 3.5 -18.8zM1526.9 2200.2a9.4 6.8 95 1 0 -1.9 18.6a9.4 6.8 95 1 0 1.9 -18.6zM1543.4 2275.6a8.1 7.2 153 1 0 -14.5 7.2a8.1 7.2 153 1 0 14.5 -7.2zM1553 2347.2a9.3 7.6 150 1 0 -16.1 9.2a9.3 7.6 150 1 0 16.1 -9.2zM1530.6 2399.1a10 6.1 34 1 0 16.5 11.3a10 6.1 34 1 0 -16.5 -11.3zM1559.5 2270.4a9.4 7.1 165 1 0 -18.3 4.6a9.4 7.1 165 1 0 18.3 -4.6zM1578.5 2310.9a10 7.3 172 1 0 -19.9 2.7a10 7.3 172 1 0 19.9 -2.7z" fill="#4a30e8"/><path d="M1316.3 2393.1a8.3 7.6 63 1 0 7.3 14.9a8.3 7.6 63 1 0 -7.3 -14.9zM1355.1 2358.4a8.5 6.5 14 1 0 16.5 4.2a8.5 6.5 14 1 0 -16.5 -4.2zM1356.7 2377.6a10.2 6.9 91 1 0 -0.4 20.3a10.2 6.9 91 1 0 0.4 -20.3zM1436.4 2315.2a10 7.8 169 1 0 -19.6 3.7a10 7.8 169 1 0 19.6 -3.7zM1452.6 2339.9a10 6.1 113 1 0 -8 18.3a10 6.1 113 1 0 8 -18.3zM1465.6 2209.6a9.6 6.3 68 1 0 6.9 17.9a9.6 6.3 68 1 0 -6.9 -17.9zM1532.9 2300.4a9.1 6.8 13 1 0 17.7 4.2a9.1 6.8 13 1 0 -17.7 -4.2zM1531.5 2317a8.1 6.1 42 1 0 12 10.8a8.1 6.1 42 1 0 -12 -10.8zM1579.8 2382.6a9.3 6.7 154 1 0 -16.8 8a9.3 6.7 154 1 0 16.8 -8z" fill="#3020b8"/></g>
<g fill="none" stroke-linecap="round" style="mix-blend-mode:screen" filter="url(#fblur)"><path d="M1306.5 2263.2q-21.3 -6.7 -42.8 -1M1583 2269.1q-25.4 -0.8 -42.7 17.9M1463 2297.8q2.4 3.8 5 7.4M1544 2213q-15.1 -13 -31.1 -24.9M1520.5 2263.2q-14.4 10.6 -21.8 26.9M1557.3 2352.1q-3.4 8.1 -9.3 14.6M1406.2 2267.7q12.2 1.5 19.9 11M1351.4 2220q5.3 18.1 3 36.8M1486.3 2308.5q-0.3 7.7 0.2 15.3M1520 2268.3q-3.4 3.7 -8.3 4.5M1309.9 2386.6q-2.1 15.5 6.7 28.3M1438 2326.2q3.8 -2.3 8.2 -1.9M1483.3 2310.4q19.4 12.4 23.8 35M1489.7 2389.3q-4.3 11.2 0 22.4M1369 2216.9q-6 20.1 -10.4 40.6M1560 2267.8q-16.3 0.8 -27.7 -11.1M1543.3 2308.4q-8 13.9 -15.5 28.2M1561.8 2322.9q-3.7 6.8 -3.7 14.6M1532 2240.7q-19 16.7 -43.4 23.2M1307 2276.5q-10.7 2.3 -17.2 11M1329.7 2322.4q15.3 8.6 32.5 5.6M1348.8 2256.8q11.4 8.1 18.9 19.9M1354.5 2291.2q17.4 10.3 35.3 20M1469.8 2356.8q4.7 1.7 9.6 3M1385 2382.2q15.5 -10.9 33.7 -16.2M1446.6 2226.2q12.6 19.8 11.8 43.2M1343.1 2218.9q-11.5 15.5 -30.3 19.8M1423.1 2220.1q5.3 7.2 4.2 16.1M1587 2294q-12.5 6.5 -21.8 17M1569.6 2277.7q-12.3 7.8 -23.2 17.5M1584.2 2402.5q-1.7 4.4 -5.3 7.4M1431.4 2316.3q7.8 -3.1 16.1 -4.5M1416.6 2339.8q7.2 2 14.6 1.8M1542.3 2383.6q-13.3 8.9 -25.3 19.5M1395.9 2398.7q17.8 -3.4 32.9 6.6M1458.1 2309.1q10.1 12.7 22.5 23.1M1570.6 2259.1q-6.3 -2.9 -12.2 -6.5M1414.3 2270.8q7.3 12.5 15 24.8M1378.8 2417.6q15.9 3.3 30.9 -3M1469.1 2373.1q9.9 7.2 20.3 13.7M1589.7 2268.5q-14.8 13.1 -29.5 26.4M1349.5 2336.4q6.2 2.6 10 8M1387 2277.2q7.2 9.7 17.6 15.8M1424.6 2320.8q17.4 -7.7 33.7 -17.4M1331.6 2310.6q25.8 -2.6 49.1 8.7M1455.1 2301.9q13 7.9 25.5 16.5M1562.2 2320.4q-2.1 8.8 -6.2 16.9M1408.4 2349.1q17 -13.4 26.1 -33M1479.8 2188.6q-15 17.7 -30.1 35.4M1596.7 2272q-18.9 7.5 -38.9 10.4M1361 2332.5q22.7 4.1 43.2 -6.5M1372.4 2252.5q12.4 12.3 12.3 29.7M1477.4 2237.7q-10.8 18.9 -16.6 39.9M1484.2 2204.1q-12.8 3.1 -24.4 -3M1332.8 2334.3q4.6 6.2 7.5 13.2M1547.9 2283.1q-3.6 2.2 -7.9 1.8M1354.1 2345q5.8 0.3 10.5 3.9M1393.4 2394.4q15.1 3.8 29.1 -2.8M1429.2 2277.3q5.1 2.5 8.5 7.1M1481.4 2196.8q-3.8 11.4 -13.7 18.1M1486.6 2362.3q4.3 3.3 9.6 4.9M1555 2322q-10.5 1.1 -17.6 8.9M1412.2 2335.2q20.5 -3.5 41.1 -5.5M1360.4 2346.6q9.6 0 18.8 -2.7M1374.2 2216.6q-1 22.3 -6.9 43.7M1341.2 2245.7q-15.1 9.4 -31.6 15.8M1343.7 2341.3q15.3 -8.2 32.5 -10.3M1501 2283.1q1.2 12 -7.6 20.2M1525.1 2327.3q-3.6 10.3 -5.4 21.1M1527.6 2371.9q-10.2 16.7 -14.1 35.8M1398.4 2323.9q17.2 1 30.3 -10.1M1378.6 2361.3q17.4 1.8 34 7.3M1451.1 2181q-3.8 19.3 -1.7 38.8M1294 2389.3q-1.7 15.9 -10.4 29.3M1308.4 2226.4q-16.6 -8 -26.1 -23.9M1312.7 2215.6q-7.8 1.9 -14.6 -2.2M1421.4 2377.3q8.1 -7 9.9 -17.6M1449.8 2412.7q5.3 1 9.3 4.6M1502.7 2401.6q-1.2 9.9 -4.6 19.2M1517.5 2333.2q1.2 6.6 2.7 13.1M1570.7 2287.6q-13.3 3.5 -22.9 13.4M1587.3 2204.1q-12.5 -13.5 -28.7 -22.2M1420 2206.3q-3.8 3.1 -4.1 8M1556.9 2341.2q3 17.6 0.7 35.4M1321.4 2278.8q5.9 7 8.3 15.8M1366.8 2392.8q10.3 5 21.6 2.6M1434 2406.7q19.8 -0.2 37.3 9M1375.8 2327.4q19.8 -12.6 43.2 -11.3M1350.5 2187.3q-11.2 5.9 -23.4 9.7M1413.3 2355.9q23.7 13.8 49.6 4.7M1328 2236.9q-13.5 19.4 -30.9 35.3M1425.5 2193q3.6 10.9 0.7 22M1378.6 2178.4q-0.8 6 -2.2 11.9M1412.2 2219.9q10.4 15.1 13.6 33.2M1388.5 2196.5q-4.7 19.5 -7.1 39.4M1310.2 2270.9q1.6 13.7 -6.6 24.9M1403.3 2335.6q4.6 -0.1 8.3 2.5M1589.6 2306.4q-3.2 11.5 -11 20.5M1378.9 2369.2q4.2 -1.5 8.2 0.3M1518.9 2382.8q-12.3 20.4 -10.8 44.2M1446.4 2217.6q-0.9 6.9 -6.7 10.5M1442.7 2304.3q5.7 -0.9 10 3M1316.7 2397.9q-1.1 21 -14.3 37.5M1536.3 2222.3q-11.3 -14.7 -27.3 -24M1536.3 2203.8q-4.9 -1.4 -9.6 -3.4M1569.4 2409.7q-10.4 2.5 -18.2 9.8M1402 2195.5q11.5 12.5 9.4 29.4M1388.4 2379.4q17.2 -12.1 35.1 -23.1M1389.5 2239.2q22.9 11.3 30.4 35.7M1481.6 2314.6q10 16.9 10.6 36.6M1420.3 2391.5q25.3 -1.2 49.5 6M1578 2220.3q-10.3 -0.5 -20.6 0.3M1497.8 2367.1q5.2 16.3 19 26.5M1516 2245.1q-21.6 -2.4 -42.4 3.7M1330.4 2262.4q-12.7 -4.4 -26.2 -4.3M1383.7 2303.1q21.1 -8.3 41.5 1.8M1398.7 2197.9q-3.5 17.3 4 33.3M1416.3 2214.1q2.1 4.9 4.4 9.6M1366.8 2205.1q-5 12 1.1 23.5M1514.6 2398.1q-2.4 4.6 -6 8.3M1547.7 2284.8q-5.1 4.5 -9.3 10M1513.4 2274.5q0.9 14.1 2.7 28.1M1363.2 2363.4q11.5 -2.7 21.4 -8.9M1587.7 2261.8q-4.5 -0 -7.9 -2.8M1424.6 2341q5.5 -4 12 -2.2M1368 2400.9q10.9 -9.4 25.2 -7.6M1543.9 2319.6q-5.1 15.9 -11.2 31.6M1358.7 2295.6q12.2 -0.6 23.2 4.8M1460.5 2276.4q5.5 17.3 14.2 33.2M1513.5 2260.9q-3.8 10.1 -6.4 20.5M1575.8 2286.9q-18.4 0.9 -29.6 15.6M1377.9 2334.6q8 -3 16 -6.2M1591.9 2297.3q-15 6.2 -22.8 20.5M1379.2 2213q2.7 3.9 4.6 8.3M1309.7 2342.1q4.7 20.9 13 40.6M1328.9 2245.9q-10.6 19.3 -32.3 22.9M1535.3 2318.9q8.2 18.1 8.8 38M1389.9 2190.8q-8.7 20.1 -27.3 31.5M1421.3 2336q11.8 -7.7 25.7 -10.1M1353.1 2266.1q21.4 0.5 36.5 15.7M1481.3 2246.2q-2.8 5.2 -5.7 10.3M1466.8 2346.1q14.6 15 29.5 29.8M1460 2244.9q-1.8 5 -4.4 9.6M1370.9 2204.1q-16.2 21.2 -42.8 23.3M1302.6 2407.2q-1.2 8.9 -8.6 14.1M1524.2 2366.5q-3.9 14.8 -1.7 29.9M1458.9 2234.9q1.8 4.1 1.4 8.6M1378.6 2384.9q24.4 -2.2 47.9 -9.4M1454.8 2198.6q-9.6 6.7 -16.7 16M1402 2400.5q13.2 -5.8 27.6 -7.5M1438.6 2302.9q10.1 0.9 15.8 9.3M1368.4 2320q18.3 -9.9 35 -22.4M1570.6 2248.3q-9.7 -9.6 -23.2 -11.5M1391.6 2216.5q6.5 4.4 10.1 11.3M1555 2396.3q-9.8 19.4 -29.7 28M1518.2 2320.6q9.3 17.8 6.3 37.7M1464.3 2229.6q-8.3 4.5 -15.5 10.6M1353.5 2340q17.5 3.1 28.6 17M1361.4 2236.3q4.3 13.6 15.2 22.7M1404.2 2350.6q12.1 2.2 22 -5M1586.6 2258.3q-4.4 0.7 -7.5 3.8M1525.6 2212q-15.3 -14.2 -36.1 -15.3" stroke="#b00818" stroke-width="0.9" opacity="0.85"/><path d="M1309.3 2330.3q-0.4 8.6 5.1 15.1M1314.4 2374.3q2.7 17.6 -6.8 32.6M1472.3 2248.9q-2.5 4.3 -0.5 8.8M1346.8 2280.4q6.2 5.4 13.5 8.9M1285.7 2397.5q-6.7 6.3 -6.5 15.5M1515.3 2323.8q-14.5 18.7 -10.3 42M1381.3 2227.9q-5.5 8.2 -4.7 18.1M1410.4 2291.5q16.2 14.6 37.9 12.6M1309.6 2283q-13.9 14.3 -20.8 33M1330.6 2326q21.1 2.8 41.6 8.5M1347.1 2205.3q-19.5 -0.9 -37.9 5.9M1330.1 2385q5.2 8.2 8.2 17.5M1550.8 2253.6q-9.6 6.9 -21.4 8.2M1285.8 2317.2q-7 23 -2.3 46.5M1324.6 2325.9q13.7 22 8 47.3M1481.1 2336.8q18.4 -0.6 30.1 13.6M1312.2 2209.6q-5.4 2.5 -11.4 2.4M1456 2373.2q7.1 16.5 21.7 27M1571.8 2315.5q-10.5 12.1 -23.8 21.2M1416.3 2365.3q16.5 -2.3 29.9 -12.3M1591.8 2282.5q-23.8 -7.2 -48.6 -8M1309 2226.3q-5.1 0.9 -9.3 -2.1M1290.9 2350.6q-3.8 5.3 -6.6 11.1M1361.6 2245.3q13.1 16 20.9 35.2M1530.6 2276.7q-17.8 5.9 -31.5 18.5M1457.6 2366.2q6.5 16.8 17.4 31.2M1441.2 2298.7q9.3 11.4 23.8 13.5M1526.1 2255.8q-9.9 8.6 -22.9 7.1M1549.1 2269.7q-25.1 -3.2 -48.5 6.1M1321 2393.1q20.6 9.6 38.6 23.4M1510.3 2321.8q-5.9 14.4 -5.3 29.9M1395.1 2393.1q7.1 -0.2 13.9 1.3M1299.8 2351.3q3.1 24 1.5 48.2M1415.1 2275.4q14.5 16.3 29.7 31.9M1391.5 2369.7q21.5 -2.9 39.7 -14.8M1318.3 2306.2q-3.7 11.3 -4.3 23.1M1333 2240.8q-20.9 12.5 -44.6 18.3M1496.3 2335.9q4.8 8.4 12.6 14M1432.3 2179.1q1.5 16.7 13.2 28.8M1322.2 2285.9q-11.4 19.3 -12.8 41.7M1552.7 2296.9q-1.7 7.9 -6 14.8M1422.1 2298.4q10 -1 19.5 -4.6M1401.6 2318.3q4.1 -10.6 12.9 -17.7M1421.6 2352.4q8.3 -1.4 15.3 -6.1M1386.6 2208.5q-2 14.5 -4.3 29M1422.5 2167.7q-0.4 19.5 5 38.2M1387.7 2399.3q19.4 13.2 42.3 8.6M1427.6 2231.8q11.9 8.3 14.7 22.6M1548.1 2402.9q-1.6 15.2 -13.8 24.5M1572 2312.2q1.7 16 -7.2 29.3M1405.3 2249.5q0.8 6.2 5.9 9.8M1451.6 2218.7q-12.6 16.8 -13.4 37.8M1390.4 2184.9q22 12.9 36.2 34.1M1352.2 2390.7q4.5 3.2 10 4M1303.6 2226.5q-12.6 -15.3 -22 -32.8M1565.6 2359q-9.2 7.4 -8.8 19.3M1463.8 2371.4q12.9 12 25.6 24.3M1368 2361.4q18.3 6.9 34.9 -3.5M1453.1 2334.6q11 2.1 22.1 1.1M1325.2 2302.1q9.8 9.1 22 14.5M1463.1 2394.2q9.3 19.5 29.2 27.7M1329.3 2206.7q-7.8 7.2 -17.6 11.1M1456.6 2393.5q10.8 5.7 20.2 13.6M1376.9 2417.3q22.9 -4.9 39.6 -21.4M1317 2307.9q4.7 5.9 4.4 13.5M1550.1 2287q-15.5 18 -19.8 41.3M1485.2 2190.6q-11.2 -5.7 -22.9 -1.2M1297.3 2279.6q4.5 13 0.6 26.1M1397.1 2359.3q11 -7 23.9 -9.5M1377 2208.5q-1.8 11.5 -1.7 23.2M1465.8 2258.8q3.4 6.1 5 12.9M1295.5 2403.1q-7.4 13.1 -21.6 18.1M1309.3 2266.9q-2.4 16.2 -9 31.2M1415.6 2396.7q21.6 14.5 47.2 10.1M1500.8 2358.9q1.8 6.5 -0.1 13M1510.2 2242.3q-7.4 8.7 -17.1 14.8M1373 2200.8q-8.2 22.3 -24.4 39.8M1433.3 2343q9.5 5.2 19.2 10.1M1416.7 2389.6q20.5 -0.2 39 8.6M1488.8 2193.5q-12.2 0.5 -24.3 0.8M1329.3 2258.3q-4.7 3.3 -10.3 4.8M1483.6 2288.4q9 15.8 4.6 33.4M1404.3 2302.3q25.3 0.1 48.2 10.7M1303 2361.3q8.7 8.8 17.7 17.1M1471.8 2261.1q-0.4 10.1 0.9 20.2M1363 2236.2q14.8 17.8 24.2 38.9M1479.9 2323.5q1.7 3.7 3.4 7.3M1357.3 2285.2q16.6 9.6 34.2 17M1558.7 2382.8q-16.1 17.1 -30.4 35.7M1339.9 2233.3q-6 8.3 -10.3 17.7M1372.9 2233.6q0.8 26.4 -16.8 46M1402.8 2301.9q23 -2.3 44.6 6M1421.5 2225.5q-2.7 5.2 -0.4 10.7M1366.4 2314.9q17.5 -1 32.3 8.2M1395.7 2244.2q15.1 7.7 18.2 24.3M1398.9 2370.8q20.3 -13.9 30.1 -36.5M1319.1 2287.1q3.5 17 -1.1 33.8M1381.5 2384.5q11.2 0.6 21.3 5.2M1380.5 2213.3q5.6 9.1 7.8 19.5M1366.7 2204.1q-5.7 18.2 -11.7 36.3M1413 2374.3q9.9 -10.1 24 -8.8M1318.7 2372.7q2.1 7.1 8.5 10.8M1313 2406.6q-3.7 7.1 -2.9 15.1M1395.6 2222.7q13 9.8 20.6 24.1M1410.9 2410.6q5.7 6.1 14 6.3M1371 2286.1q18.2 1.9 31.3 14.6M1479.9 2376.6q14 8.8 28.5 16.8M1330.2 2238.1q-14 1.5 -27.6 5M1402.9 2193.7q6.7 17.8 16.7 34M1449.1 2374.8q23.5 7.9 37.5 28.3M1379.4 2242.1q-1.3 5.7 1.9 10.6M1499.9 2396.3q-0.5 18.4 -14.5 30.3M1380.5 2403.5q22.6 -5.3 45.6 -2.5M1377.2 2237.1q3.5 12.3 5 25M1526.6 2230.1q-9.8 -1.7 -18 -7.2M1344.2 2291.3q14.6 11.1 24 26.8M1384 2298.1q16.5 7.2 28.7 20.3M1345.6 2231.8q2.3 23.2 -6.3 44.9M1502.6 2239.2q-19.4 8.2 -32.5 24.8M1431.9 2316.9q9 1.9 17.9 4.4M1334.7 2317.2q3.2 3.1 7.2 5M1589.5 2365.6q-22.9 5.6 -32.9 27M1540.9 2336.9q-5 6.4 -8.2 13.9M1415.5 2211.1q1.4 12.2 5.7 23.7M1330.1 2305.6q16.2 14.1 20.2 35.1M1497.3 2241q-15.4 13.2 -16.5 33.5M1526.7 2384.2q-7 24 2.6 47M1399.3 2395.8q13.2 -5.4 27.5 -5.6M1314.8 2240.1q-6.7 11.6 -10.3 24.6M1443 2263.3q7.9 10.5 19.9 15.8M1592.6 2252.3q-10.8 -3 -21.4 0.8M1572.8 2263.3q-13.3 -10.9 -30 -14.7M1333.9 2327.6q18.6 -3.6 34.7 6.4M1290.9 2304.8q-9.9 17.8 -19.5 35.7M1401 2391.1q22.4 -2.6 33.9 -22M1386.1 2273.2q22.2 6.3 43.3 -2.9M1424.8 2250.2q2.9 4.4 2 9.6M1354 2262.1q-3.9 7.9 -1 16.1M1307.1 2281.6q-8.5 6.8 -16.7 13.9M1292.9 2203.3q-5 -3.3 -11 -2.7M1547.3 2282.5q-19.8 14.2 -26.8 37.5M1535.9 2295.6q-16.1 7.5 -25.3 22.8M1331 2253.4q-21.4 9 -29.2 30.8M1351.7 2315.7q20.6 1.3 38 -9.9M1480.5 2386.6q14.2 10.5 20.6 27M1396 2358.8q10.4 -11.3 25.7 -13.3M1592 2237.4q-11.5 4.4 -22.3 -1.6M1540.2 2239.3q-23.6 11.5 -34.1 35.7M1352.8 2193.5q-9.3 6.6 -15.5 16.1M1423.8 2266.3q11.3 -0.9 20.6 5.5M1450 2303.2q15.9 16.7 38.9 18.9M1430.7 2361.4q11.5 -5.2 23.6 -1.8M1505.5 2362.4q6.3 24.4 20.2 45.4M1348.3 2326.3q13.6 11.9 31.4 8.2M1339.3 2241.1q14.9 18.9 16 43M1455.7 2388.4q13.6 3.5 26.7 8.6M1312.7 2326q-0.6 18.3 -4.1 36.3M1471.2 2236.9q9.8 23.4 2 47.5M1597.6 2279.1q-12.7 3.8 -25.9 3.1M1441 2191.8q0.5 21.2 -0.4 42.4M1344.9 2370.4q18.3 3 31.6 15.9M1435 2359.5q13.9 -10.6 31.4 -10.5M1366.1 2280q12.9 6.6 25 14.3M1550 2263.7q-6.2 0.1 -12.3 0.6M1287.1 2341.9q5.1 16.3 1.6 32.9M1367.1 2258.6q6.8 2.2 11.9 7.2M1363.2 2179q-7.5 10.8 -4.8 23.6M1456 2232q4.2 12.4 -0.5 24.5M1285.1 2324.1q-2.3 8 1.9 15.2M1414.8 2291.6q8.6 1.3 15.5 6.7M1309.9 2284.6q-3.8 21.6 7.6 40.3M1335.7 2301.5q1.1 12 5.8 23M1421.2 2286.2q6.6 2.3 12.6 6M1483.7 2221.5q-5.1 18.8 -7.6 38.2M1523.1 2314.7q-3.5 18.3 -15.1 32.9M1448.4 2273.2q12.3 6.1 23.2 14.4M1335.5 2220.2q-22.1 1.6 -43.3 -4.5M1391.9 2374q2.5 -12.9 14.3 -18.8M1460.3 2256q4.6 21.6 15.2 40.9M1408.2 2245.3q6.6 5.3 14.3 8.7M1570 2331.9q-1 13 -5.1 25.4M1373.8 2218q11.5 13.8 14 31.5M1400 2336.4q14 0.2 27.9 -1.7M1313.4 2240.8q-19.9 9.8 -31.5 28.8M1401.5 2294.8q15.4 -3.8 29.6 3.1M1311.6 2379.4q1.8 20.6 17.7 33.8M1562 2246.1q-22.5 9.8 -46.9 12.4M1323.7 2281.7q4.9 16.2 -0.7 32.1M1496.9 2245.8q-9.3 11.7 -15 25.5M1378 2372.8q14.7 -5.7 27.7 -14.7M1388.1 2368.1q11.8 -13.7 29.9 -15.2M1445.4 2257.3q3.9 5.8 2.6 12.6M1309.5 2347.9q11.2 11.2 10.7 27M1568.2 2327.7q-17.3 11.1 -22 31M1595.7 2390.3q-6.5 17.2 -23 25.2M1301.3 2201.7q-17.2 -6.4 -29.9 -19.6M1346.7 2236.1q-0.7 26.1 18.3 44.2M1579.8 2265q-17.7 -3.5 -34.5 3.1M1540.2 2248.7q-16 3.3 -26.1 16.1M1484.5 2272.9q5.9 17.2 -0.2 34.3M1555.5 2302.1q-4.7 0.6 -8.3 3.7M1413.6 2326.5q4.8 -4.2 11.1 -4.8M1499.7 2227.9q-13.2 4.3 -24.5 12.5M1383.1 2245.4q7.1 2 13.7 5.3M1322.2 2278.7q-5.2 10.7 -13.1 19.6M1391.3 2295q11.8 -1.6 22.8 -6.2M1582.2 2382.2q-4 5.1 -3.6 11.6M1549.2 2331q-1.4 5.1 -2 10.4M1294.2 2391.7q-16.4 4.3 -26.1 18.3M1304.4 2271.1q-2.8 22.5 13.2 38.5M1293.9 2313q-14.7 19.4 -19.3 43.4M1500 2289.4q4 11 0.4 22.1M1503.9 2233.6q-8.3 1.4 -14.3 7.3M1394.7 2400.2q11.2 -16 29 -23.7M1388.5 2360.5q14.1 -4.6 26 -13.6M1513.1 2359.9q-0.7 23.7 2.5 47.1M1350.3 2261.8q2.9 18.9 2.7 38.1M1513.9 2255.1q-3.5 4.2 -9 4.4M1559 2288q-16.7 8.8 -31.1 21M1343.8 2361q14.6 15.6 35.2 21.2M1310.7 2378.3q4 10.8 5 22.2M1379.3 2191.8q2.6 7.7 -0 15.3M1517.5 2251q-5.4 4 -7.8 10.3M1461.8 2197.5q-5.8 13.4 -13.7 25.7M1430.3 2210.5q-5 25.4 5.5 49.1M1328.3 2386.7q15.2 11.6 27.4 26.3M1360.4 2208.8q-0.3 13.9 -10.1 23.8M1341.3 2390q10.1 10.4 24.5 12M1325.6 2231.1q-15.7 -8.3 -31.9 -15.4M1297.9 2322.2q-13.6 19.8 -8.6 43.3M1333.8 2215.9q-4.8 2.9 -5.7 8.4M1411.5 2192.7q5.3 8 3 17.4M1356 2200.5q-1.5 18.5 -17.1 28.4M1407.5 2281.6q7.6 17.8 26 23.6M1450 2401.8q6.5 0.4 11 5.2M1547.9 2261.3q-21.9 1.3 -43.4 5.8M1342 2327.1q13.8 2.9 24.5 12M1369.8 2234.6q9.1 19.5 2 39.8M1325.9 2281.6q10.7 11.4 10.8 27.1M1467 2186.2q-13.2 7.1 -18.4 21.1M1373.6 2392.7q17.4 -4.4 30.7 -16.5M1292.6 2307.5q-1.4 23.5 3.2 46.6M1324.9 2330.4q5.3 3.3 6.5 9.4M1319.6 2389.8q-10.1 23.5 -30.9 38.4M1343.4 2292.2q18.7 9.4 38.9 14.4M1591.6 2296q-6.6 0.1 -12 3.8M1552.5 2329.2q0.7 13.4 -7.7 23.9M1330.8 2322.6q23.4 5.6 46.3 13M1450.4 2330.5q13.1 -0.1 22.9 8.6M1438.8 2349.4q25.5 -3 46.6 11.9M1349.3 2221.3q-12.9 17.2 -34 20.9M1327.3 2379.1q15.6 6 24.1 20.5M1505.7 2352.3q2.6 16.1 -4.3 31M1469.4 2349.2q6 4.4 13.4 5.7M1502.5 2405.7q-0.7 6.4 1.6 12.5M1585 2280.5q-14.6 4.6 -29.6 7M1426.9 2262q3.7 4.3 5.8 9.6M1310.5 2355.9q3.8 5.1 7.9 9.8M1571.6 2277.7q-13.4 -0.5 -24.8 6.4M1417.8 2303.1q11.8 7.4 25.3 10.5" stroke="#e81424" stroke-width="1.2" opacity="0.9"/><path d="M1595.7 2329.4q-18.1 17.1 -40.3 28.1M1360.7 2398.4q8.5 7.8 20 9.6M1586 2386.7q2.6 23.9 -11.2 43.6M1315.2 2299q-11.2 12.2 -9.4 28.7M1371.3 2404.7q16.5 -8.7 34.3 -3.3M1316.5 2224.5q-7 -25.5 -30.6 -37.3M1353.9 2344.4q7.8 1.9 15.6 0.2M1338.3 2295.6q6.5 10.5 9.1 22.6M1318.3 2215.8q-23.4 -1.8 -46.7 1M1522.9 2259.9q-4.2 3.4 -6.6 8.2M1352.8 2247.3q-4.1 9.7 -11.5 17.2M1326.3 2338.9q8.9 3.3 12.1 12.2M1366.5 2337.5q12 6.1 24.7 1.9M1537.3 2331.1q-5.2 16.3 -7.3 33.2M1326.4 2277.7q0.1 8.1 0.2 16.3M1580.5 2333.1q-8.5 16.1 -10.5 34.1M1321.3 2323.2q5.6 9.4 9 19.8M1473.2 2314.2q2.9 17.6 16.2 29.3M1558.1 2308.5q-2.3 10.1 -1.9 20.4M1513.7 2363.8q-5.3 19.2 -0.7 38.7M1499 2218.8q-20.3 7.1 -41.9 5.7M1330.7 2410q3.7 4.2 3.8 9.8M1306.5 2374.8q8.6 10.6 6.6 24.1M1579.9 2268.2q-21.4 9.8 -44.5 14.8M1425.8 2203.1q-3.3 5.2 -4.4 11.3M1537.8 2395q-9.8 7.5 -11.8 19.7M1391 2384.8q15.6 -19.4 37.5 -31.4M1290.1 2334.4q-0.8 12.8 3.5 24.9M1469 2202.6q-6.1 1.6 -12.1 3.3M1323.6 2255q1.3 13 -6.2 23.6M1411.9 2360.2q16.1 2.2 28.5 -8.3M1362.1 2377.6q22.8 2.9 43.1 -7.8M1380.7 2260.2q2.6 6.7 7.2 12.3M1328.1 2222.6q-21.3 -0.6 -41.6 5.8M1414.1 2334.8q17.8 -0.3 34.3 -6.9M1367.2 2348.3q14.4 -16.1 34.6 -23.7M1452.4 2297.5q9.9 14.2 17.1 29.9M1441 2323.2q7.7 -4.4 16.3 -2M1351.6 2239.5q-8.3 23.2 -29 36.6M1317.8 2333.8q2.5 6.8 5.5 13.3M1524.6 2233.5q-6.6 0.6 -13.2 1.6M1325.7 2383.6q3.8 3.3 8.2 5.7M1298 2186.1q-12 -7.1 -25.3 -3M1398.4 2196.1q-0.1 8.8 2.3 17.2M1437.8 2197.3q1.9 16.1 7.4 31.4M1524 2247.3q-6.2 -4.7 -13.9 -5.8M1288.8 2251.5q-8.5 3.2 -17.3 5M1329.4 2305.9q17.4 11.6 37.5 5.8M1530.8 2369.7q2.4 22.4 -13.1 38.7M1364.4 2322.3q9.4 -2.9 18.2 1.2M1334.7 2364.5q20.3 9.3 34.9 26.1M1315.5 2357.9q6.1 5.4 6.8 13.6M1356.7 2230.7q-10.3 10.8 -13.9 25.2M1334.2 2280.6q0.4 11.1 -6.6 19.7M1471.9 2243q-0.3 6.9 -3.8 12.8M1352.1 2255.5q-0.4 9.1 2.1 17.8M1563.2 2280.4q-12.1 9.6 -25.2 17.9M1533.3 2307.2q-7.5 13.6 -12.5 28.3M1484.3 2287.4q4.4 12.2 13.8 21.3M1441 2269.6q12.1 10.5 21.8 23.3M1408.7 2280.5q14.8 2.3 28.8 7.5M1449.9 2353.5q18.4 3.5 33.5 -7.5M1532.3 2310.9q-7.6 22.9 -1.5 46.2M1441.3 2223.4q-3.2 14.4 1.9 28.3M1506.9 2250.2q-9 19 -29.5 23.8M1301.4 2306.6q5.5 7.6 4.6 16.9M1526.9 2345.6q-1.6 13.8 -0.5 27.7M1534.8 2308.5q-8.4 19.9 -15.4 40.3M1549.3 2406.6q-3.3 3.1 -5.3 7.1M1548 2255.2q-18.2 -18.5 -44 -18.2M1382.9 2268.1q17.8 13.1 35 26.9M1432.5 2320q15.7 -4.9 31.6 -0.8M1310.6 2325.7q14.4 6.1 18.5 21.2M1440.4 2290.8q5.3 7.5 14.1 10.4M1343.7 2177.9q-7.6 9.1 -18.5 13.8M1552.7 2330.9q-7.2 7.7 -6.7 18.3M1349.5 2315.9q9 4.6 18.7 7.2M1437.4 2253.9q11.4 8.8 19.3 20.8M1402.9 2206.7q14.2 23.3 4.3 48.7M1316.3 2223.6q-14.2 3.4 -23.3 14.9M1323 2250.3q-3.6 8.4 -9.5 15.3M1420.7 2172.6q2.1 12.5 -0.5 24.8M1576.1 2334.3q-2 20.2 -10.3 38.6M1442.8 2367.6q24 -0.4 47.2 -6.6M1490.8 2373.4q7 14.2 15.7 27.4M1472.9 2345q11.6 4.8 19.6 14.6M1465.9 2222.2q-6 21.5 -26.4 30.5M1447.8 2199q-1.3 9.8 -1.2 19.7" stroke="#ff2838" stroke-width="1.7" opacity="0.9"/></g>
<path d="M1308.7 2324.8a6.5 6.5 0 1 0 0.1 0zM1323.4 2353.4a6.5 6.5 0 1 0 0.1 0zM1316.4 2326.7a3.6 3.6 0 1 0 0.1 0zM1361.4 2271.8a5.7 5.7 0 1 0 0.1 0zM1418.1 2366.4a4.6 4.6 0 1 0 0.1 0zM1493.5 2282.4a3 3 0 1 0 0.1 0z" fill="#ff3070" opacity="0.7" filter="url(#nblur)" style="mix-blend-mode:screen"/>
</g>
<g clip-path="url(#c12)">
<rect x="1586" y="2192.5" width="288.7" height="214.3" fill="#050002"/>
<g filter="url(#hblur)"><rect x="1537.4" y="2138.4" width="49.1" height="54.6" fill="#49020b"/><rect x="1585.5" y="2138.4" width="49.1" height="54.6" fill="#49020b"/><rect x="1633.6" y="2138.4" width="49.1" height="54.6" fill="#49020b"/><rect x="1681.7" y="2138.4" width="49.1" height="54.6" fill="#49020b"/><rect x="1729.8" y="2138.4" width="49.1" height="54.6" fill="#49020b"/><rect x="1778" y="2138.4" width="49.1" height="54.6" fill="#49020b"/><rect x="1826.1" y="2138.4" width="49.1" height="54.6" fill="#49020b"/><rect x="1874.2" y="2138.4" width="49.1" height="54.6" fill="#49020b"/><rect x="1537.4" y="2192" width="49.1" height="54.6" fill="#49020b"/><rect x="1585.5" y="2192" width="49.1" height="54.6" fill="#49020b"/><rect x="1633.6" y="2192" width="49.1" height="54.6" fill="#49020b"/><rect x="1681.7" y="2192" width="49.1" height="54.6" fill="#49020b"/><rect x="1729.8" y="2192" width="49.1" height="54.6" fill="#49020b"/><rect x="1778" y="2192" width="49.1" height="54.6" fill="#49020b"/><rect x="1826.1" y="2192" width="49.1" height="54.6" fill="#49020b"/><rect x="1874.2" y="2192" width="49.1" height="54.6" fill="#49020b"/><rect x="1537.4" y="2245.6" width="49.1" height="54.6" fill="#49020b"/><rect x="1585.5" y="2245.6" width="49.1" height="54.6" fill="#49020b"/><rect x="1633.6" y="2245.6" width="49.1" height="54.6" fill="#49020b"/><rect x="1681.7" y="2245.6" width="49.1" height="54.6" fill="#55020d"/><rect x="1729.8" y="2245.6" width="49.1" height="54.6" fill="#49020b"/><rect x="1778" y="2245.6" width="49.1" height="54.6" fill="#49020b"/><rect x="1826.1" y="2245.6" width="49.1" height="54.6" fill="#49020b"/><rect x="1874.2" y="2245.6" width="49.1" height="54.6" fill="#49020b"/><rect x="1537.4" y="2299.2" width="49.1" height="54.6" fill="#49020b"/><rect x="1585.5" y="2299.2" width="49.1" height="54.6" fill="#49020b"/><rect x="1633.6" y="2299.2" width="49.1" height="54.6" fill="#49020b"/><rect x="1681.7" y="2299.2" width="49.1" height="54.6" fill="#49020b"/><rect x="1729.8" y="2299.2" width="49.1" height="54.6" fill="#55020d"/><rect x="1778" y="2299.2" width="49.1" height="54.6" fill="#49020b"/><rect x="1826.1" y="2299.2" width="49.1" height="54.6" fill="#49020b"/><rect x="1874.2" y="2299.2" width="49.1" height="54.6" fill="#49020b"/><rect x="1537.4" y="2352.7" width="49.1" height="54.6" fill="#49020b"/><rect x="1585.5" y="2352.7" width="49.1" height="54.6" fill="#49020b"/><rect x="1633.6" y="2352.7" width="49.1" height="54.6" fill="#49020b"/><rect x="1681.7" y="2352.7" width="49.1" height="54.6" fill="#49020b"/><rect x="1729.8" y="2352.7" width="49.1" height="54.6" fill="#49020b"/><rect x="1778" y="2352.7" width="49.1" height="54.6" fill="#55020d"/><rect x="1826.1" y="2352.7" width="49.1" height="54.6" fill="#49020b"/><rect x="1874.2" y="2352.7" width="49.1" height="54.6" fill="#49020b"/><rect x="1537.4" y="2406.3" width="49.1" height="54.6" fill="#49020b"/><rect x="1585.5" y="2406.3" width="49.1" height="54.6" fill="#49020b"/><rect x="1633.6" y="2406.3" width="49.1" height="54.6" fill="#49020b"/><rect x="1681.7" y="2406.3" width="49.1" height="54.6" fill="#49020b"/><rect x="1729.8" y="2406.3" width="49.1" height="54.6" fill="#49020b"/><rect x="1778" y="2406.3" width="49.1" height="54.6" fill="#55020d"/><rect x="1826.1" y="2406.3" width="49.1" height="54.6" fill="#49020b"/><rect x="1874.2" y="2406.3" width="49.1" height="54.6" fill="#49020b"/></g>
<path d="M1683.7 2223.5a10.5 6.2 0 1 0 0.1 0zM1660 2374.8a14.4 7.6 0 1 0 0.1 0zM1630.1 2281.5a12.8 13.4 0 1 0 0.1 0zM1723.7 2383.5a19.5 9.9 0 1 0 0.1 0zM1690.1 2228.1a15.4 13.1 0 1 0 0.1 0zM1747.7 2219.5a15.7 10.3 0 1 0 0.1 0zM1651.1 2348.6a20 12.8 0 1 0 0.1 0zM1861.2 2385.6a18.9 10.1 0 1 0 0.1 0zM1651.1 2300.4a12.4 7.6 0 1 0 0.1 0zM1854.8 2385.4a17.2 12.3 0 1 0 0.1 0zM1731.3 2378.8a15.3 10.2 0 1 0 0.1 0zM1839.7 2309.4a16.1 8.7 0 1 0 0.1 0zM1734.7 2279.3a9.1 12.3 0 1 0 0.1 0zM1765.7 2225.2a17.5 11.6 0 1 0 0.1 0zM1594.1 2345.4a18.9 7.8 0 1 0 0.1 0zM1787.8 2373.1a8.4 13.2 0 1 0 0.1 0zM1742.9 2356.4a15.4 11.8 0 1 0 0.1 0zM1790.5 2398.7a14.1 6.6 0 1 0 0.1 0zM1753 2330a15.9 9.1 0 1 0 0.1 0zM1622.3 2253.1a9.9 8.4 0 1 0 0.1 0zM1757.3 2351.2a19.7 11.6 0 1 0 0.1 0zM1867.9 2240.3a18.9 9.2 0 1 0 0.1 0zM1715.9 2228.8a12.3 13.9 0 1 0 0.1 0zM1840.6 2225a13.7 14 0 1 0 0.1 0zM1789.5 2316.4a13.2 9.8 0 1 0 0.1 0zM1714.9 2262.7a12.3 11.4 0 1 0 0.1 0zM1706.4 2369.3a15.9 6.1 0 1 0 0.1 0zM1797.9 2214.1a18.2 12.8 0 1 0 0.1 0zM1747.3 2257.7a12 11.4 0 1 0 0.1 0zM1815.9 2381a16.3 13.5 0 1 0 0.1 0zM1801.5 2317.3a19.7 9.4 0 1 0 0.1 0zM1800.5 2305.6a11.7 13.7 0 1 0 0.1 0zM1661.3 2231.4a8.6 8.1 0 1 0 0.1 0zM1841.1 2246.8a19 10 0 1 0 0.1 0zM1814 2399.2a9.9 6.3 0 1 0 0.1 0zM1713.3 2212.6a14.7 11 0 1 0 0.1 0zM1659.5 2197.7a17.1 10 0 1 0 0.1 0zM1707.6 2334.9a10 6.2 0 1 0 0.1 0zM1617.5 2231.8a14.7 9 0 1 0 0.1 0zM1756.3 2300.1a19.3 6.4 0 1 0 0.1 0z" fill="#000" opacity="0.8" filter="url(#dblur)"/>
<path d="M1650.3 2307.2a17.7 15.1 0 1 0 0.1 0zM1771.6 2240.1a25.5 8.2 0 1 0 0.1 0zM1789.4 2345.8a24.5 17.3 0 1 0 0.1 0zM1764.3 2301.6a22.8 14.1 0 1 0 0.1 0zM1678.4 2243.4a11 11.6 0 1 0 0.1 0zM1824.7 2362.4a12.6 13.5 0 1 0 0.1 0zM1648.3 2389.5a16.7 8.3 0 1 0 0.1 0zM1697.9 2257.1a18.8 17.9 0 1 0 0.1 0zM1788.4 2351.9a11.5 9.6 0 1 0 0.1 0z" fill="#d01020" opacity="0.55" filter="url(#dblur)" style="mix-blend-mode:screen"/>
<g filter="url(#nblur)" opacity="0.85"><path d="M1589 2235a10 7 51 1 0 12.3 15.7a10 7 51 1 0 -12.3 -15.7zM1604.9 2267.1a10.3 6.5 168 1 0 -20.1 4.3a10.3 6.5 168 1 0 20.1 -4.3zM1592.8 2312.6a9.7 6.6 107 1 0 -5.8 18.6a9.7 6.6 107 1 0 5.8 -18.6zM1597.6 2360.9a9.8 6.9 98 1 0 -2.7 19.5a9.8 6.9 98 1 0 2.7 -19.5zM1633.6 2286.1a9.5 6.8 94 1 0 -1.4 18.9a9.5 6.8 94 1 0 1.4 -18.9zM1667.7 2330.4a9 7.6 166 1 0 -17.6 4.2a9 7.6 166 1 0 17.6 -4.2zM1689.7 2189.4a8.3 6.2 111 1 0 -6.1 15.4a8.3 6.2 111 1 0 6.1 -15.4zM1666.8 2253.7a8.4 7.7 26 1 0 15.1 7.5a8.4 7.7 26 1 0 -15.1 -7.5zM1670.5 2362.7a10.4 6 49 1 0 13.6 15.8a10.4 6 49 1 0 -13.6 -15.8zM1743.4 2295.3a8.2 7 95 1 0 -1.5 16.4a8.2 7 95 1 0 1.5 -16.4zM1751.4 2384.6a9.7 6.9 170 1 0 -19.2 3.2a9.7 6.9 170 1 0 19.2 -3.2zM1778.9 2198.4a8.8 6.1 155 1 0 -16 7.3a8.8 6.1 155 1 0 16 -7.3zM1756.2 2330.7a8.5 6.7 32 1 0 14.4 9a8.5 6.7 32 1 0 -14.4 -9zM1783.6 2361.6a9.7 6.6 85 1 0 1.6 19.4a9.7 6.6 85 1 0 -1.6 -19.4zM1793.8 2186.9a9.9 7.4 114 1 0 -8.2 17.9a9.9 7.4 114 1 0 8.2 -17.9zM1802.7 2231.8a9.2 6.4 160 1 0 -17.4 6.1a9.2 6.4 160 1 0 17.4 -6.1zM1807.4 2360.5a8.5 6.2 146 1 0 -14.2 9.5a8.5 6.2 146 1 0 14.2 -9.5zM1803.1 2400.9a8.4 6.8 163 1 0 -16 4.7a8.4 6.8 163 1 0 16 -4.7zM1842.3 2232.9a9.1 7.1 122 1 0 -9.9 15.3a9.1 7.1 122 1 0 9.9 -15.3zM1834.9 2300.1a8 6.4 93 1 0 -0.9 16a8 6.4 93 1 0 0.9 -16zM1835.2 2370a9.4 7.2 126 1 0 -11.1 15.1a9.4 7.2 126 1 0 11.1 -15.1zM1854.8 2192.4a8.7 6.4 39 1 0 13.3 11.1a8.7 6.4 39 1 0 -13.3 -11.1zM1856.6 2236.2a9.8 7.9 151 1 0 -17.1 9.3a9.8 7.9 151 1 0 17.1 -9.3zM1877.8 2288a8 7.7 159 1 0 -15.1 5.5a8 7.7 159 1 0 15.1 -5.5zM1844.7 2332.9a10.4 7.1 55 1 0 12 17.1a10.4 7.1 55 1 0 -12 -17.1z" fill="#3a26d8"/><path d="M1608.3 2202.6a8.4 6 71 1 0 5.2 16a8.4 6 71 1 0 -5.2 -16zM1581.8 2327.1a8.9 6.5 34 1 0 14.7 10a8.9 6.5 34 1 0 -14.7 -10zM1600.1 2403.2a8.4 7.2 14 1 0 16.2 4.3a8.4 7.2 14 1 0 -16.2 -4.3zM1636.7 2222.2a9.9 6.2 62 1 0 9 17.6a9.9 6.2 62 1 0 -9 -17.6zM1620.6 2341.4a9.4 8 74 1 0 4.9 18.2a9.4 8 74 1 0 -4.9 -18.2zM1637.2 2346.5a8.7 6.4 80 1 0 3 17.2a8.7 6.4 80 1 0 -3 -17.2zM1645.7 2224a8.7 7.2 26 1 0 15.6 7.8a8.7 7.2 26 1 0 -15.6 -7.8zM1666.2 2241.6a9.7 7.4 104 1 0 -4.8 18.8a9.7 7.4 104 1 0 4.8 -18.8zM1674.6 2280.7a10.4 6.5 141 1 0 -16.3 12.9a10.4 6.5 141 1 0 16.3 -12.9zM1675.2 2312.9a10 6.9 138 1 0 -14.8 13.4a10 6.9 138 1 0 14.8 -13.4zM1665.2 2368.9a9.6 7.1 100 1 0 -3.5 18.9a9.6 7.1 100 1 0 3.5 -18.9zM1658.6 2390.7a9.6 6.4 126 1 0 -11.4 15.5a9.6 6.4 126 1 0 11.4 -15.5zM1678.4 2218a8.8 6.9 53 1 0 10.5 14.1a8.8 6.9 53 1 0 -10.5 -14.1zM1679.5 2270.8a8.3 6.9 108 1 0 -5.2 15.8a8.3 6.9 108 1 0 5.2 -15.8zM1695.1 2318.5a10.2 7.6 172 1 0 -20.2 2.8a10.2 7.6 172 1 0 20.2 -2.8zM1690 2340.5a8.2 7.8 159 1 0 -15.4 5.8a8.2 7.8 159 1 0 15.4 -5.8zM1727.4 2223.3a9.8 6.8 128 1 0 -12.3 15.2a9.8 6.8 128 1 0 12.3 -15.2zM1724.4 2259.8a8.8 6.6 101 1 0 -3.4 17.2a8.8 6.6 101 1 0 3.4 -17.2zM1720.8 2278.3a10.3 7.3 79 1 0 3.9 20.3a10.3 7.3 79 1 0 -3.9 -20.3zM1734.2 2308.3a9.3 7.5 147 1 0 -15.8 10a9.3 7.5 147 1 0 15.8 -10zM1719.4 2397a8.8 6.9 155 1 0 -16 7.2a8.8 6.9 155 1 0 16 -7.2zM1752.3 2229a9.5 7.6 107 1 0 -5.6 18.1a9.5 7.6 107 1 0 5.6 -18.1zM1752.1 2243.8a8.1 7 145 1 0 -13.4 9.1a8.1 7 145 1 0 13.4 -9.1zM1741.2 2274a8.8 7.5 83 1 0 2.1 17.5a8.8 7.5 83 1 0 -2.1 -17.5zM1775.2 2268.3a8.6 7.5 179 1 0 -17.2 0.1a8.6 7.5 179 1 0 17.2 -0.1zM1774.4 2283.1a9.9 6.9 163 1 0 -18.9 5.5a9.9 6.9 163 1 0 18.9 -5.5zM1766.6 2296.5a10.2 6.3 47 1 0 13.8 14.9a10.2 6.3 47 1 0 -13.8 -14.9zM1799.3 2246.7a8.1 6.2 73 1 0 4.5 15.5a8.1 6.2 73 1 0 -4.5 -15.5zM1804.9 2335.2a9.4 6.6 77 1 0 4.1 18.4a9.4 6.6 77 1 0 -4.1 -18.4zM1839 2204.7a9.8 6.2 81 1 0 2.9 19.4a9.8 6.2 81 1 0 -2.9 -19.4zM1826.8 2239.2a9.3 7 84 1 0 1.9 18.5a9.3 7 84 1 0 -1.9 -18.5zM1830.6 2285a9.6 7 73 1 0 5.6 18.5a9.6 7 73 1 0 -5.6 -18.5zM1831.8 2398.3a8.4 6.5 152 1 0 -15 7.6a8.4 6.5 152 1 0 15 -7.6zM1852.5 2254.7a9.6 7.4 34 1 0 15.9 10.8a9.6 7.4 34 1 0 -15.9 -10.8zM1868.2 2294.9a8.9 7.5 117 1 0 -8.3 15.9a8.9 7.5 117 1 0 8.3 -15.9z" fill="#4a30e8"/><path d="M1647.4 2193.4a10.3 6.5 140 1 0 -15.8 13.1a10.3 6.5 140 1 0 15.8 -13.1zM1622.2 2248.4a9.6 6.2 72 1 0 5.6 18.3a9.6 6.2 72 1 0 -5.6 -18.3zM1613.4 2313.5a9 6.6 24 1 0 16.3 7.4a9 6.6 24 1 0 -16.3 -7.4zM1630.1 2388.9a9.6 6.2 172 1 0 -19.1 2.6a9.6 6.2 172 1 0 19.1 -2.6zM1667.4 2203.3a8.2 7.6 124 1 0 -9.3 13.6a8.2 7.6 124 1 0 9.3 -13.6zM1687.9 2382.1a10.5 6.2 29 1 0 18.3 10.2a10.5 6.2 29 1 0 -18.3 -10.2zM1707.2 2199.2a10.4 7.5 8 1 0 20.6 3.1a10.4 7.5 8 1 0 -20.6 -3.1zM1718.4 2335.4a10.3 7.3 131 1 0 -13.6 15.4a10.3 7.3 131 1 0 13.6 -15.4zM1715.7 2350.9a9.5 7.5 26 1 0 17.1 8.4a9.5 7.5 26 1 0 -17.1 -8.4zM1741.8 2200.4a9.8 6.5 92 1 0 -0.9 19.7a9.8 6.5 92 1 0 0.9 -19.7zM1753.1 2364.4a8.2 7.2 69 1 0 5.7 15.5a8.2 7.2 69 1 0 -5.7 -15.5zM1759.7 2217.7a10.2 7.4 81 1 0 3.1 20.1a10.2 7.4 81 1 0 -3.1 -20.1zM1783.6 2385.3a10.3 7.3 121 1 0 -10.7 17.5a10.3 7.3 121 1 0 10.7 -17.5zM1794.3 2300a9 6.9 100 1 0 -3.2 17.7a9 6.9 100 1 0 3.2 -17.7zM1862.4 2353.8a9.9 7 17 1 0 18.9 5.9a9.9 7 17 1 0 -18.9 -5.9z" fill="#3020b8"/></g>
<g fill="none" stroke-linecap="round" style="mix-blend-mode:screen" filter="url(#fblur)"><path d="M1600 2293.3q7 -4.3 13.9 -8.8M1640.2 2361.9q4.1 -10.9 13 -18.4M1712 2195.6q9.1 4.7 18.8 7.9M1779.7 2232.7q0.5 13.1 9.2 22.9M1603.1 2201.8q8 3.5 14.4 9.5M1756.4 2261.2q11 5.2 22.9 7.2M1820 2290.6q7.3 10.3 10.9 22.5M1708.3 2184.9q12.1 3.1 23.6 8.2M1846.1 2370.6q-0.5 10.3 -3.2 20.3M1650.6 2335q6.2 -11 14.7 -20.5M1672.2 2314q4.4 -12.2 4.4 -25.2M1748 2257.7q8.7 3.8 18.2 4.1M1630.9 2415.1q6 1.4 12.2 1.8M1645.5 2357.7q6.4 -1.2 12.8 -1.9M1695.7 2391.3q13.5 -4.7 25.1 -13M1660.4 2383q8.5 -12.4 19.6 -22.5M1817.8 2373.3q-2.5 11.3 -9.5 20.5M1753.4 2404.3q7.3 5.3 16.2 6.5M1837.7 2333.4q5.4 14 15.8 25M1862 2330.1q-0.5 9.2 3.8 17.3M1870.8 2356q7.1 6 9.8 14.9M1692.6 2404.5q12.6 2.7 22.7 -5.4M1777.8 2303q6.9 12.5 20.5 17M1581.6 2387.2q12.4 1.4 24.9 2.4M1751.2 2181.5q10 7.9 17.1 18.5M1754.4 2275.2q11.4 6.3 23.8 10.4M1815.5 2208.9q-2.5 8.1 -8.8 13.8M1680.1 2353.6q3.7 -2.7 4.8 -7.2M1808.5 2208.2q1.1 7.1 -1.1 14M1686.9 2221.8q9.2 -1.8 16.3 4.3M1565.3 2251.8q11.5 7.1 21.6 16M1865.4 2264.3q-1.6 6.1 2 11.4M1584.5 2234.8q7.6 -3.4 15.8 -3.2M1743.9 2381.5q6.2 -5.9 14.7 -7M1834.5 2296.6q-7.6 11.9 -11.5 25.6M1575.6 2240.6q5.3 4.6 8.7 10.7M1830.5 2323q6 8.4 4.7 18.7M1613.3 2323.6q9.7 -2.5 18.9 -6.7M1751 2273.8q14.5 6 22.1 19.6M1686.9 2316.7q11.1 -7.6 16.8 -19.9M1656.4 2259.8q2.9 -4.7 6.2 -9.2M1825 2190q-6.7 5.8 -14.8 9.4M1604.1 2235.7q10.1 3.7 20.8 5.4M1690.6 2220.1q10 -3.8 20.6 -3M1580.9 2276.6q13 4.8 26.1 9.5M1804.3 2282.1q5.5 13 9.2 26.6M1611.6 2270.9q11.7 -0.5 22.5 -4.9M1832.3 2399.7q0 8.2 -5.6 14.2M1815.6 2338.6q-2.2 5.4 -5.1 10.5M1581.5 2375.4q8.1 12 19 21.7M1716.6 2408.2q4.4 -2.9 8.1 -6.5M1876.8 2218.3q2.4 13 5.6 25.8M1606.6 2213.5q10 2.9 19.1 8.1M1842.4 2231.2q1.1 5.5 1.9 11.1M1753.7 2203.2q4.4 5.7 8.5 11.7M1587.9 2171.9q5.4 12.8 4.3 26.6M1643.7 2379.9q2.5 -14.6 10.9 -26.8M1580.1 2345q7.2 7.6 14 15.5M1646.9 2178.6q15.3 2.1 23.4 15.3M1653 2286.4q7.2 -2.6 12.5 -8.3M1772.1 2209.8q-0.3 6.1 -0.4 12.3M1794.9 2343.2q5.2 14.2 18.8 20.8M1844.6 2189.1q-5.1 3.1 -9 7.7M1797.8 2271.2q2.4 12.3 13.1 18.7M1868.7 2276.6q3.9 6.4 7.9 12.8M1592.8 2338.4q4.1 2.2 8.8 3.1M1745.3 2323.6q6.5 -5.4 14.9 -4.8M1763.2 2357.3q3.1 10.6 10.7 18.6M1680 2218.8q2.9 -5.6 7.9 -9.5M1619.1 2364.4q5.3 -9.7 14.4 -15.8M1783.8 2216.2q3.7 5.2 9.2 8.5M1574.3 2303.1q4.9 2.9 10.5 2.5M1799.1 2288.7q6.5 4.7 12.1 10.4M1631 2366.6q4 -9.7 13.8 -13.7M1587.5 2277q7.5 -3.5 14.8 0.4M1784.4 2234.3q2.4 4.8 2 10.2M1843.9 2387.6q5.2 11 2.5 22.8M1685.9 2199.7q10.3 -0.3 20.2 -3.2M1823.9 2345.7q0 12.9 10 21M1802.9 2275.4q0.7 7.5 5.9 13M1826.3 2306.5q9.8 6.9 10.5 18.9M1738.6 2386.2q5.1 4.5 11.8 5M1808.8 2187.3q6.4 13.7 -0.4 27.1M1722.1 2273.6q6.8 1.4 12 -3.1M1593.5 2349.8q8.1 -8.5 19.8 -8.8M1677.6 2366q3.8 -7.3 6.4 -15.1M1707.4 2403.5q5.9 -6.1 14.3 -7.4M1859.5 2373.7q-10.9 10.8 -13.5 25.8M1661.5 2235.9q3.8 -10.6 14.5 -14.2M1768.4 2398q2.1 5.4 7 8.5M1708.1 2206.5q4.1 0.8 8.4 1M1786.4 2325.8q6.1 3.5 12.3 6.8M1720.3 2344.7q8.7 6.1 18.5 10.2M1797.6 2321q4.6 8.5 11.3 15.4M1852.5 2209.2q2.9 11.3 -0.7 22.4M1873.5 2228.7q-4.1 9.6 -0.1 19.2M1634 2219.7q10.8 -5.8 21.9 -0.7M1673.4 2282.2q2 -11.1 5.2 -21.8M1788.1 2318.5q5.9 6.5 9 14.8M1871.5 2361.1q8.7 6.3 9.1 17M1872.9 2179.8q-1.3 15.2 -9.1 28.4M1807.6 2236.4q2.3 7.4 2.2 15.1M1727.4 2362.3q12.5 2.2 23.1 -4.8M1609.3 2384.6q11.2 -8.6 24.7 -12.8M1753.8 2281.9q12.9 3.2 25 8.5M1851.9 2200.5q0.5 11.9 -4.1 22.9M1637.4 2250.9q3.1 -7.1 10.4 -9.6M1627.7 2393.4q3.7 -9.7 12.7 -14.8M1698.3 2394q5.2 -3.3 11 -5.2M1712.5 2363.8q8.6 -2 15.3 -7.8M1699.9 2183.5q12.6 4.5 21 14.8M1703.4 2367.9q8.3 -11.1 6.1 -24.9M1570.3 2342q4.4 7 12.2 9.7M1808.2 2348.5q4.7 7.5 10.3 14.3M1730 2322.5q4.4 -9.7 12 -17.2M1605.2 2351.1q14.3 -0.4 23.6 -11.3M1753.6 2386.7q6.2 8 13.3 15.2M1674.4 2256.6q13.4 2.7 26.2 -2.1M1815.3 2241.3q0.7 10.6 9.4 16.5M1860 2378.3q0.8 7.5 4 14.3M1607.3 2409.6q9.9 2.4 19.9 4.3M1814.8 2284.3q2.9 3.6 2.7 8.2M1774.3 2329.2q9.7 9.7 23.4 9M1872.8 2246.5q5.3 10.7 3.8 22.6M1869.9 2261.3q-0 10.8 0.1 21.5M1751.3 2194.1q-0.2 12.3 4.4 23.7M1573.1 2400.5q11.8 8.8 12.7 23.5M1718.3 2258.2q12.1 -7.2 25.5 -11.7M1851.8 2250.7q1.6 15.5 -5 29.6M1661.5 2392.8q4 -3.3 7.6 -7.1M1708.8 2295q10.5 -4.4 16.4 -14.1M1619 2317.8q8.5 -0.3 15.3 -5.6M1631.2 2354q5.8 -5.6 13.8 -5.1M1603.8 2317.7q6.3 -13.1 20.2 -17.1M1678.5 2308.8q11.8 -8.5 21 -19.7M1878.8 2341.4q-3 7.9 -0 15.8M1813.1 2306.8q6.2 4.6 12 9.7M1604.1 2408.9q12.4 7.8 25.3 14.9M1623.3 2314.1q4.1 -10.6 5.4 -22M1785.1 2280.9q4.3 14.6 16.5 23.9M1796.8 2333.5q-0.9 13.2 6.9 24M1576.2 2359.3q8.1 0.5 15.9 2.7M1764.3 2309.6q8.6 3 12.8 11M1842.1 2363.1q3.1 3 3.3 7.3M1697.9 2289.9q6.2 -10.5 12.3 -21M1734.6 2339.9q10.4 -9.7 20 -20.2M1616.1 2206.3q8.6 2.7 13.7 10.1M1863.6 2238.2q1.6 11.2 6.2 21.5M1656.1 2320.8q9.1 -8.1 18.6 -15.7M1730.6 2258.1q4.2 -4.4 9.6 -7.2M1805.8 2380.4q0 10 1.5 19.8M1806.7 2216.3q5.4 9.1 3.2 19.4M1646.2 2364.8q3.8 -8.4 11.3 -13.7M1848.1 2357.3q-2.2 7.5 -3.6 15.3M1828.8 2191.2q-4.4 10.2 -11.7 18.5M1669.1 2248.3q3.9 -6.3 11.2 -7.1M1778.7 2210.5q0.4 4.4 1.1 8.8M1625.5 2365.6q6.6 -8.7 6.4 -19.5M1871 2266.3q5.1 14.5 -0.7 28.7M1861.4 2402.2q-12.2 3.2 -18.2 14.3M1807.6 2331.6q6.5 3.1 8.3 10.1M1801.2 2292.5q8.7 10 7.7 23.2M1754.2 2183.2q1.7 4.4 0.6 9M1805.9 2279.1q4.5 12.6 13.5 22.5M1677.5 2417.9q6.2 -4 13.4 -5.5" stroke="#b00818" stroke-width="0.9" opacity="0.85"/><path d="M1884.5 2366.1q0.1 12.2 -0.5 24.3M1668 2197.3q9.4 -10.2 23.3 -10.5M1858.9 2294.6q7.1 9.6 11.2 20.8M1752.8 2381.7q6.4 -1.3 11.5 3M1838 2393q-0.7 9.3 -6.8 16.4M1789.3 2396.2q8.5 9.4 12 21.7M1615.4 2269.5q10.7 -1.8 20.1 -7.2M1631.7 2400.7q5.3 -3.1 11.3 -4.5M1587 2388.4q10.1 7.8 20.1 15.9M1627.9 2337.1q7.1 -2.9 11.3 -9.3M1646.3 2321q2.6 -11 9.9 -19.8M1638.2 2305.4q8.8 -2.2 13.9 -9.7M1598.9 2307q9 -0.7 15.6 -6.7M1849.4 2202.5q-1.8 6.4 -2.8 13M1595.1 2403.6q4.1 2 8.5 2.8M1682.2 2288q14.1 -5.3 29.2 -3.8M1786.4 2321.2q2.1 7.9 7.9 13.6M1722.4 2289.7q5.1 -1.7 9.2 -5.2M1573 2393.7q4.3 10.5 11 19.6M1624.8 2352.3q4.3 -4.1 7.5 -9.2M1672 2415.8q1.8 -8.8 7.9 -15.5M1597.9 2324.4q10.1 -12 25.8 -13M1672.8 2381.8q2.5 -3.3 4.6 -6.9M1762 2296q12.8 7 19.7 19.9M1661.2 2257.5q3.9 -11.4 10.9 -21.2M1861.9 2347.3q1.2 10.3 -0.8 20.6M1646.3 2407.5q3.9 -14.5 17.8 -20.2M1783.3 2390q-0.6 5.1 0.7 10M1769.1 2296.1q5.2 13.9 17.7 22M1744.7 2353q3.4 -2.7 7.6 -2.5M1639.9 2318.4q2.7 -5.7 8.9 -7.1M1767.6 2214.8q13.5 5.1 23.2 15.9M1630.9 2223q3.5 -5.6 9.8 -7.6M1784.6 2238.5q2.9 6.4 9.4 9.2M1613.5 2404.6q11.9 3.6 22.2 -3.2M1572.7 2282q8.2 -0.4 15.5 3.2M1714.6 2380.8q9 -6.1 13.1 -16.2M1715.9 2392.9q4.1 -7.5 12.3 -9.8M1651.4 2344.1q4.5 -9.1 14 -12.9M1624.7 2385.7q9.7 1.6 18.7 -2.2M1739.8 2226.5q10.7 2.8 15.2 13M1802.1 2392.6q6.4 5.1 9 12.9M1600.1 2404.5q12.1 4.3 23.2 -2.1M1704.3 2404q4.9 -1.5 9.6 -3.4M1734 2184.5q6.3 0.4 10.3 5.2M1696.4 2385.9q-0 -10.9 8.1 -18.1M1609.4 2379.3q7.5 -1.8 15.1 -2.8M1778.8 2286.2q4.7 -1.1 8.4 1.9M1754 2341.3q13.9 2.5 24.3 11.9M1600.5 2373.5q13.8 -0.2 27.5 -2.3M1824.3 2193.9q-4.3 1.6 -8.9 2M1667.6 2230.4q0.4 -7.8 5.1 -14.1M1717.3 2237.7q6.5 -1.7 10.1 -7.4M1874.8 2274.2q-0.8 11.2 1.8 22.1M1668.6 2324.5q-0.4 -8.5 -1.5 -17M1644 2411.1q6.7 -7.2 16.5 -7.9M1703.7 2356.2q7.5 -0.8 12.2 -6.8M1600.1 2403.4q5.9 2.6 11.4 6.1M1643.3 2297.9q0.9 -8.3 7.8 -12.9M1823 2180.4q-5.5 13.8 -19.5 18.6M1808.7 2351.2q0.3 5 3.8 8.5M1767.2 2304.8q10.9 7.5 24.2 7.8M1759.6 2189.4q3 6.3 9.5 8.7M1874 2273.2q-5 11.6 -0.1 23.2M1882.7 2250.1q4.6 11.7 2.4 24M1765 2180.2q1.8 11.5 6.8 22.1M1596.5 2218.3q10.7 3.7 18.1 12.2M1602.4 2222.5q9.6 8.3 21.2 13.4M1764.5 2280.7q7.3 0.6 13.5 4.6M1701 2390.9q6.2 -9.6 4.8 -21M1873.3 2189.4q-13.5 7.1 -18.5 21.5M1874.1 2224.9q8.4 11.2 8.9 25.2M1654 2362.9q8.3 -3.1 14.9 -9M1827.4 2374.3q5.8 13.1 1.8 26.9M1763.4 2226.3q7.6 10.8 13.2 22.7M1872 2224.5q-0.6 5.8 0.2 11.6M1676.1 2370q-4.2 -9.4 -5.8 -19.6M1671.8 2196.2q9.5 -7 20.6 -10.9M1672.4 2364.7q8.9 -10.9 20.3 -19M1774.4 2407.1q4.8 1.1 8.3 4.6M1851.1 2299.1q3.6 11.8 9.6 22.7M1712.4 2183.5q9.7 3.4 19.6 5.6M1577.1 2179.8q2.5 14 15 20.8M1616.6 2196.1q12 -0.6 23.2 -5M1647.1 2348.6q2.5 -12.3 11.6 -20.9M1783.4 2200.2q0.2 10.4 6.8 18.5M1662.4 2373.9q2.3 -3.6 1.9 -7.8M1712.7 2291q11.4 -6.6 22.5 -13.8M1643.9 2321.8q8.2 -7.2 9.4 -18M1814.9 2202.7q-3 5.1 -3.1 11M1753.8 2179.2q1.8 10.7 9.7 18.2M1780.4 2180.7q-4.8 8.5 -4.1 18.2M1600.2 2179.7q3.7 2.2 6.1 5.7M1764.7 2236.6q4.6 14.4 17.8 21.6M1740.4 2181.3q5.8 2 8.3 7.6M1667.6 2397.7q7.3 -0.8 12.1 -6.4M1585 2287q10.6 0.1 19.5 5.9M1726.8 2376.1q12.7 -1.2 25.3 -2.9M1669.7 2373.9q6.8 -0.8 11.1 -6.2M1825.7 2182.2q-2.8 3.3 -7.1 4M1587.9 2348q9.3 -5.7 19.6 -1.9M1578 2201.9q-0.2 10.2 -3 20M1686.1 2205.1q9.2 -7.2 20.9 -6.9M1762.3 2231.5q4.5 2.4 9.4 3.7M1680.2 2325.1q1.2 -4.5 5.4 -6.7M1643.1 2206.3q12 -1 21.5 -8.4M1846.4 2298.4q4.3 10.2 9.2 20M1703.6 2231.9q11 -2.3 21.9 -5.4M1649.7 2401.6q2.8 -9.1 10.8 -14.3M1664.7 2373.8q1.9 -3.6 3.3 -7.4M1681.6 2387q10.8 -11.3 9.7 -26.8M1600.7 2307.1q7.3 -1.2 14.5 -2.4M1654.7 2374.7q3.2 -7.3 9.4 -12.3M1628.2 2257.8q6.3 -6.9 15.4 -8.9M1728 2332.7q7.5 -3.6 10.5 -11.3M1618.8 2334.3q8.2 -4.1 17.2 -5.3M1653.3 2361.8q5.7 -4.5 12.8 -6.2M1594.8 2206.6q11.2 -4.2 21.5 1.8M1678.2 2397.5q5.6 -4.8 5.3 -12.1M1606.5 2379.6q15.2 -2.9 25.8 -14.2M1727.1 2335.6q15.4 0.8 29 -6.6M1737.4 2390.6q9.8 9.4 21.7 15.8M1671.7 2324.4q3.3 -11.5 1.5 -23.2M1800.4 2363.9q6.1 11 15.6 19.3M1816.6 2290.7q-2 6.9 -0.3 13.8M1749.5 2332.1q4.1 1.3 8.4 2M1682.5 2410.5q6.9 -2.6 10.8 -8.9M1708.6 2333.7q-6.4 -12.1 -2.6 -25.3M1703.3 2217q9.6 2.2 17.5 8.1M1877.8 2316.5q3.3 2.7 5.2 6.5M1870 2351.5q2.9 12.9 13.9 20.1M1765.6 2219.9q2.7 6.7 8.5 11M1676.2 2377.9q0.6 -4.4 1.1 -8.8M1831.5 2297.5q2.1 4.9 2 10.2M1595.7 2334.2q7.5 1 14.7 3.6M1632.8 2250.8q7.8 -4.1 15.4 -8.4M1764.7 2402.8q9.4 10.9 21 19.5M1668.2 2212.1q6.9 -4.5 11.1 -11.6M1796.1 2200.9q2.7 11.3 10.9 19.4M1738.7 2201.1q5.8 9.4 11 19.3M1868.7 2395.6q8.8 10.3 7.4 23.7M1641.2 2295.3q2.1 -4 5.5 -7M1802.8 2250.3q-2.3 10.1 2 19.6M1886.5 2388.1q-4.2 11.6 -4.1 23.9M1799.1 2399.9q4.2 5.3 2.6 11.9M1815.6 2324.5q-4.5 11.7 -0.9 23.7M1653.2 2301.7q7.9 -10.3 19.6 -15.9M1568.7 2323.3q8.6 4.2 17.1 8.5M1613.4 2380.5q5.7 4.7 13 4.2M1573 2316.2q10.6 8.2 23 13.1M1620.5 2179.5q9.1 3.4 16.8 9.3M1858.2 2347.2q-7 11.6 -3.6 24.7M1580.8 2318.8q7.1 -2.6 13.5 -6.5M1622.7 2425.5q4 -14.7 16.2 -23.9M1861.3 2381.5q0.4 6.8 0.7 13.6M1808.4 2241.2q1.1 4.6 -0.8 8.8M1683.6 2399.1q11.6 -9.5 26.5 -10.6M1801.9 2332.6q1.1 4.8 5 7.8M1866.1 2246q14.4 7.8 17.5 23.9M1689.1 2356q8.7 -4.6 16.8 -10.2M1844.2 2356.3q3.6 5.6 4.5 12.1M1649.1 2248.5q8.8 -6.9 16.3 -15.3M1778.2 2288.7q6.5 4.7 11.7 10.9M1870.1 2299.2q1.5 5.2 1.9 10.7M1699.6 2265.4q5.7 -4.7 9.7 -11M1640.8 2410.9q4.6 -2.4 9.8 -2M1793.7 2395.9q-2.9 12.2 -4.1 24.7M1589.6 2392.5q2.2 4.7 6.8 7.3M1667.5 2258.4q6.7 -3.6 14.2 -3.1M1800.7 2308.6q2.3 4.7 2.7 9.9M1647.5 2225q4.7 -3.2 10.3 -2.9M1679.4 2356.7q4.4 -3 6.4 -7.8M1682.9 2276.7q5.3 -13.6 19.4 -17.6M1701.5 2390.2q7.4 -8.5 7.8 -19.8M1855.1 2244.6q7.5 13.4 3.7 28.3M1647.4 2245.3q4.7 0.3 8.7 -2.1M1608.4 2182.5q7.9 7.8 18.6 10.9M1576.7 2405.7q3.1 10 12.2 15.2M1825.5 2333.6q-0.6 9.1 0.6 18.2M1622.6 2400.6q11.4 -5.6 19.6 -15.2M1669.4 2387q3.7 -10.3 3.5 -21.3M1669.7 2284.9q10.8 -4.6 21.4 -9.8M1623.7 2241.5q4.6 -6.7 12.7 -7.5M1818.7 2318.2q2.4 3.9 1.3 8.3M1774.4 2403.7q1.3 4.5 2.7 8.9M1589.2 2214.5q10.1 2.7 20.6 2.9M1655.8 2186.5q5.6 -3.3 10.1 -7.9M1699.5 2204.6q5.7 -3.8 12.3 -2.2M1718.8 2268.5q6.5 1.3 13 3.1M1718.3 2359.9q8.4 -3 12.9 -10.8M1803 2388q-2.1 15.2 -11.2 27.5M1769 2294.6q6.5 5 14.4 7.3M1743.5 2353.2q10.6 -4.3 17.6 -13.3M1785.1 2224.8q0.3 10.6 8.6 17.1M1628.8 2302.2q8.2 -12.3 15 -25.4M1691.7 2319.1q2 -10.3 -4.6 -18.3M1623.9 2221.1q7.3 -2.2 14.4 -5M1656.9 2297.3q-2.2 -6.8 -3.9 -13.7M1615.9 2264.5q4.2 -3.7 9.7 -4.9M1726.1 2342.1q6 -1.5 12.1 -2.8M1766.1 2246.3q5.7 7.8 13.7 13.3M1842.8 2289.7q2.2 10 10.1 16.5M1875.2 2321.7q1.3 7.1 6.9 11.6M1700.9 2255.3q7.9 -3.5 14.3 -9.1M1704.6 2278.9q5.1 -1.5 10.4 -2.3M1730.2 2325.5q10.6 -1.6 20.5 2.6M1756.8 2401.1q6.9 9.9 18.8 11.4M1689 2183.9q12.6 1.6 25.3 2.9M1838 2221.2q-1.8 5 -3.7 9.9M1712.6 2283q7.9 -9.2 16.4 -18M1628.3 2210.5q5.5 1.8 11.3 1.9M1606.6 2368.2q11.7 -1.5 19.7 -10.2M1839.8 2330.6q2.9 14.1 5.3 28.3M1731.7 2351.5q5.3 -4 10.2 -8.5M1711.5 2248.1q4.1 -2.1 5.6 -6.4M1873.7 2272.4q8.3 7.2 18.5 11.3M1700.1 2303.9q5.5 -8.3 15.3 -9.4M1581.8 2377.4q7.7 4.8 12.1 12.8M1800 2287.1q5.1 12.2 11.5 23.7M1765.7 2295.2q9.4 11.8 22 20.1M1625.3 2330.6q12.2 -5.8 19.3 -17.3M1605.5 2415.9q7.9 0.1 14 -5M1625.9 2329.9q10.6 -7.7 14.9 -19.9M1764 2290.5q8.7 5.2 15 13.2M1601.3 2264.1q6 1.3 11 -2.2M1669.1 2253.7q8.3 -3.4 12.7 -11.3M1720.9 2274.3q12.3 -3.3 24.9 -5.3M1837.8 2348.2q0.3 9.2 4.3 17.5M1755.9 2308.3q3.9 5 10.1 6.4M1814.2 2205.6q-0.7 5.9 0.7 11.8M1724 2257.3q9.7 -2.6 19.1 -5.8M1707.2 2266.4q2.9 -4.2 7.4 -6.5M1673.7 2364.9q4.9 -3.6 6.2 -9.5M1642.8 2209.5q13.7 1.9 27 -1.8M1717.7 2336.8q2.9 -3.4 7 -5.4M1693.2 2331.1q6.5 -8.1 16.4 -11M1794.5 2269.9q4.1 3.8 8.5 7.2M1820.7 2294.9q7 10.4 7.7 22.9M1594.7 2207.1q16.1 -0.5 26.4 11.8M1666.6 2314.5q14.3 -5.8 21.6 -19.4M1738 2411.2q11.8 -3.3 22.7 2.4" stroke="#e81424" stroke-width="1.2" opacity="0.9"/><path d="M1628.8 2196.9q9.2 1.8 17.3 6.4M1867 2356.2q7.4 13.7 4.4 29M1586 2370.8q9.5 6 20.1 9.8M1877.4 2251.5q5 5 5.2 12M1636.5 2280.9q9.8 -0.4 19.1 -3.4M1728.7 2344.7q14.9 0.3 25.6 -10M1589 2206.4q11.3 4.2 15.5 15.5M1766.6 2272.4q4.4 3.6 10.1 4.1M1605.7 2251q10.6 -10.1 23 -17.7M1579.4 2178.2q5.9 9.8 15.1 16.7M1776.1 2346.5q13.3 7.3 21.3 20.1M1690.9 2390.7q4.9 -8.4 11.3 -15.7M1760.8 2275.6q9.7 6.3 16.9 15.4M1810 2284.2q1.4 7.2 3.7 14.1M1822.6 2267.6q1.6 8.3 3.1 16.6M1698.2 2379q0.1 -11.6 6 -21.6M1696.8 2265.1q7.2 -1.5 13 -6M1707.9 2307.3q12.2 0 22.8 -5.9M1575.6 2369.5q10.3 6.5 15.3 17.7M1867.8 2408q-4.1 6.4 -8.7 12.5M1707.9 2281.9q6.8 3.3 14.3 2.1M1759.3 2372q9.7 5.7 20.9 3.7M1861.4 2325.5q-1.9 5.7 -5 10.8M1724.3 2263q6.3 -1.4 12.2 -4M1622.6 2294q5.1 -2.3 10.7 -1.6M1700.7 2304.4q2.9 -11.4 10.8 -20M1610.1 2265.2q11.7 -3.3 20.5 -11.5M1795.8 2384.5q0.8 12.4 7.4 22.8M1672.7 2343.6q6.9 -6.8 6.1 -16.5M1668.3 2417.7q6.7 -9.7 14.1 -18.8M1880.7 2298.7q1.2 6.5 6.6 10.2M1570.1 2267.7q6.9 12.4 20 17.8M1657.8 2417.6q5.6 -2.1 10.1 -5.9M1694 2337.7q6.7 -3.1 11.1 -9M1666.3 2259.7q1.3 -5 4 -9.3M1612.9 2354.7q7 -14.2 22.3 -18.2M1857.7 2320.8q4.9 3.9 10.8 6.2M1594.6 2401.1q6.3 5.3 8.5 13.2M1660.3 2335.7q8.6 -10.3 10.6 -23.7M1777.9 2233.1q-0.2 15.3 8.8 27.6M1580.2 2394.6q10.3 3.1 18.7 10M1698 2231.2q11.4 -6.9 18.6 -18.1M1825.2 2357.6q-1.2 6.8 0.7 13.4M1671.1 2359.2q8.3 -8.1 8.6 -19.7M1748 2272.5q12.8 9.1 28.5 9.3M1698.6 2416.8q13.2 -1.3 26.5 -0.5M1740.8 2278.4q12.4 0.6 24.6 2.6M1574.1 2319.5q2.4 7.2 8.9 11.1M1655.7 2290.6q4.2 -5 9 -9.4M1592.4 2342.6q14.2 2.5 28.1 -1.3M1873.2 2391.2q-2 11.5 -6.6 22.1M1745.6 2284.6q8.2 -3.4 16.8 -1M1717.7 2334.3q10.4 -4.3 21.5 -6M1865.6 2175q-6.9 12.7 -8.4 27M1845.5 2223.8q1.9 11.6 5.4 22.7M1637.2 2300.5q4.4 -10.3 14.5 -15.2M1865.4 2378.9q-0.4 10.4 1.2 20.6M1834.9 2211.6q-5.2 5.2 -6.7 12.4M1787.8 2381.2q1.6 4.8 6.4 6.6M1657.7 2341.4q1.5 -14.1 2.9 -28.2M1700 2383.5q7.7 -3.1 14.2 -8.1M1629.9 2394.3q14 -8.4 29.3 -2.7M1797.4 2225.3q-1.5 16.5 10.4 28M1720.4 2276.1q6.4 -8.5 16.5 -12M1801.6 2328.6q2.8 9.3 10.2 15.6M1772.7 2330.6q4.3 2.7 7.8 6.4M1731 2380.2q10.5 -4.2 20.4 -9.7M1635 2355.1q7.1 -11.3 20.2 -13.9M1610 2266.5q6.4 -5.1 11.8 -11.2M1756.8 2199.9q4.1 11.6 14.5 18.2M1641.2 2325.7q8.1 -7.5 16.6 -14.7M1812.5 2310.6q2.3 7 6.2 13.3M1680.3 2278.5q4.6 -2.3 8.6 -5.7M1863.8 2396q-0.7 5.5 -4.3 9.7" stroke="#ff2838" stroke-width="1.7" opacity="0.9"/></g>
<path d="M1776.8 2316.9a5.8 5.8 0 1 0 0.1 0zM1776.6 2237.9a4.8 4.8 0 1 0 0.1 0zM1859.2 2234.7a4.1 4.1 0 1 0 0.1 0zM1664.7 2392.9a3.8 3.8 0 1 0 0.1 0zM1683.9 2303a6.2 6.2 0 1 0 0.1 0zM1705.9 2229a5.8 5.8 0 1 0 0.1 0z" fill="#ff3070" opacity="0.7" filter="url(#nblur)" style="mix-blend-mode:screen"/>
</g>
<g clip-path="url(#c13)"><g filter="url(#gblur)"><rect x="33.1" y="2372.9" width="48.8" height="54.6" fill="#a5a5a5"/><rect x="80.9" y="2372.9" width="48.8" height="54.6" fill="#a5a5a5"/><rect x="128.7" y="2372.9" width="48.8" height="54.6" fill="#a2a2a2"/><rect x="176.6" y="2372.9" width="48.8" height="54.6" fill="#a0a0a0"/><rect x="224.4" y="2372.9" width="48.8" height="54.6" fill="#a0a0a0"/><rect x="272.2" y="2372.9" width="48.8" height="54.6" fill="#9e9e9e"/><rect x="320.1" y="2372.9" width="48.8" height="54.6" fill="#a0a0a0"/><rect x="367.9" y="2372.9" width="48.8" height="54.6" fill="#a0a0a0"/><rect x="33.1" y="2426.5" width="48.8" height="54.6" fill="#a5a5a5"/><rect x="80.9" y="2426.5" width="48.8" height="54.6" fill="#a5a5a5"/><rect x="128.7" y="2426.5" width="48.8" height="54.6" fill="#a2a2a2"/><rect x="176.6" y="2426.5" width="48.8" height="54.6" fill="#a0a0a0"/><rect x="224.4" y="2426.5" width="48.8" height="54.6" fill="#a0a0a0"/><rect x="272.2" y="2426.5" width="48.8" height="54.6" fill="#9e9e9e"/><rect x="320.1" y="2426.5" width="48.8" height="54.6" fill="#a0a0a0"/><rect x="367.9" y="2426.5" width="48.8" height="54.6" fill="#a0a0a0"/><rect x="33.1" y="2480.1" width="48.8" height="54.6" fill="#969696"/><rect x="80.9" y="2480.1" width="48.8" height="54.6" fill="#969696"/><rect x="128.7" y="2480.1" width="48.8" height="54.6" fill="#9e9e9e"/><rect x="176.6" y="2480.1" width="48.8" height="54.6" fill="#9e9e9e"/><rect x="224.4" y="2480.1" width="48.8" height="54.6" fill="#9b9b9b"/><rect x="272.2" y="2480.1" width="48.8" height="54.6" fill="#8e8e8e"/><rect x="320.1" y="2480.1" width="48.8" height="54.6" fill="#8f8f8f"/><rect x="367.9" y="2480.1" width="48.8" height="54.6" fill="#8f8f8f"/><rect x="33.1" y="2533.8" width="48.8" height="54.6" fill="#a0a0a0"/><rect x="80.9" y="2533.8" width="48.8" height="54.6" fill="#a0a0a0"/><rect x="128.7" y="2533.8" width="48.8" height="54.6" fill="#9b9b9b"/><rect x="176.6" y="2533.8" width="48.8" height="54.6" fill="#969696"/><rect x="224.4" y="2533.8" width="48.8" height="54.6" fill="#878787"/><rect x="272.2" y="2533.8" width="48.8" height="54.6" fill="#868686"/><rect x="320.1" y="2533.8" width="48.8" height="54.6" fill="#999999"/><rect x="367.9" y="2533.8" width="48.8" height="54.6" fill="#999999"/><rect x="33.1" y="2587.4" width="48.8" height="54.6" fill="#a0a0a0"/><rect x="80.9" y="2587.4" width="48.8" height="54.6" fill="#a0a0a0"/><rect x="128.7" y="2587.4" width="48.8" height="54.6" fill="#949494"/><rect x="176.6" y="2587.4" width="48.8" height="54.6" fill="#878787"/><rect x="224.4" y="2587.4" width="48.8" height="54.6" fill="#8c8c8c"/><rect x="272.2" y="2587.4" width="48.8" height="54.6" fill="#8c8c8c"/><rect x="320.1" y="2587.4" width="48.8" height="54.6" fill="#8a8a8a"/><rect x="367.9" y="2587.4" width="48.8" height="54.6" fill="#8a8a8a"/><rect x="33.1" y="2641" width="48.8" height="54.6" fill="#a0a0a0"/><rect x="80.9" y="2641" width="48.8" height="54.6" fill="#a0a0a0"/><rect x="128.7" y="2641" width="48.8" height="54.6" fill="#949494"/><rect x="176.6" y="2641" width="48.8" height="54.6" fill="#878787"/><rect x="224.4" y="2641" width="48.8" height="54.6" fill="#8c8c8c"/><rect x="272.2" y="2641" width="48.8" height="54.6" fill="#8c8c8c"/><rect x="320.1" y="2641" width="48.8" height="54.6" fill="#8a8a8a"/><rect x="367.9" y="2641" width="48.8" height="54.6" fill="#8a8a8a"/></g>
<g mask="url(#m13)" style="mix-blend-mode:overlay"><rect x="81.4" y="2427" width="287" height="214.5" filter="url(#t13)"/></g>
</g>
<g clip-path="url(#c14)"><g filter="url(#gblur)"><rect x="331.2" y="2371.1" width="48.8" height="54.7" fill="#5e5e5e"/><rect x="379" y="2371.1" width="48.8" height="54.7" fill="#5e5e5e"/><rect x="426.8" y="2371.1" width="48.8" height="54.7" fill="#626262"/><rect x="474.6" y="2371.1" width="48.8" height="54.7" fill="#6c6c6c"/><rect x="522.5" y="2371.1" width="48.8" height="54.7" fill="#707070"/><rect x="570.3" y="2371.1" width="48.8" height="54.7" fill="#676767"/><rect x="618.1" y="2371.1" width="48.8" height="54.7" fill="#5e5e5e"/><rect x="665.9" y="2371.1" width="48.8" height="54.7" fill="#5e5e5e"/><rect x="331.2" y="2424.8" width="48.8" height="54.7" fill="#5e5e5e"/><rect x="379" y="2424.8" width="48.8" height="54.7" fill="#5e5e5e"/><rect x="426.8" y="2424.8" width="48.8" height="54.7" fill="#626262"/><rect x="474.6" y="2424.8" width="48.8" height="54.7" fill="#6c6c6c"/><rect x="522.5" y="2424.8" width="48.8" height="54.7" fill="#707070"/><rect x="570.3" y="2424.8" width="48.8" height="54.7" fill="#676767"/><rect x="618.1" y="2424.8" width="48.8" height="54.7" fill="#5e5e5e"/><rect x="665.9" y="2424.8" width="48.8" height="54.7" fill="#5e5e5e"/><rect x="331.2" y="2478.5" width="48.8" height="54.7" fill="#707070"/><rect x="379" y="2478.5" width="48.8" height="54.7" fill="#707070"/><rect x="426.8" y="2478.5" width="48.8" height="54.7" fill="#737373"/><rect x="474.6" y="2478.5" width="48.8" height="54.7" fill="#707070"/><rect x="522.5" y="2478.5" width="48.8" height="54.7" fill="#737373"/><rect x="570.3" y="2478.5" width="48.8" height="54.7" fill="#767676"/><rect x="618.1" y="2478.5" width="48.8" height="54.7" fill="#959595"/><rect x="665.9" y="2478.5" width="48.8" height="54.7" fill="#959595"/><rect x="331.2" y="2532.2" width="48.8" height="54.7" fill="#777777"/><rect x="379" y="2532.2" width="48.8" height="54.7" fill="#777777"/><rect x="426.8" y="2532.2" width="48.8" height="54.7" fill="#767676"/><rect x="474.6" y="2532.2" width="48.8" height="54.7" fill="#737373"/><rect x="522.5" y="2532.2" width="48.8" height="54.7" fill="#707070"/><rect x="570.3" y="2532.2" width="48.8" height="54.7" fill="#878787"/><rect x="618.1" y="2532.2" width="48.8" height="54.7" fill="#757575"/><rect x="665.9" y="2532.2" width="48.8" height="54.7" fill="#757575"/><rect x="331.2" y="2585.8" width="48.8" height="54.7" fill="#9d9d9d"/><rect x="379" y="2585.8" width="48.8" height="54.7" fill="#9d9d9d"/><rect x="426.8" y="2585.8" width="48.8" height="54.7" fill="#737373"/><rect x="474.6" y="2585.8" width="48.8" height="54.7" fill="#666666"/><rect x="522.5" y="2585.8" width="48.8" height="54.7" fill="#9b9b9b"/><rect x="570.3" y="2585.8" width="48.8" height="54.7" fill="#afafaf"/><rect x="618.1" y="2585.8" width="48.8" height="54.7" fill="#a0a0a0"/><rect x="665.9" y="2585.8" width="48.8" height="54.7" fill="#a0a0a0"/><rect x="331.2" y="2639.5" width="48.8" height="54.7" fill="#9d9d9d"/><rect x="379" y="2639.5" width="48.8" height="54.7" fill="#9d9d9d"/><rect x="426.8" y="2639.5" width="48.8" height="54.7" fill="#737373"/><rect x="474.6" y="2639.5" width="48.8" height="54.7" fill="#666666"/><rect x="522.5" y="2639.5" width="48.8" height="54.7" fill="#9b9b9b"/><rect x="570.3" y="2639.5" width="48.8" height="54.7" fill="#afafaf"/><rect x="618.1" y="2639.5" width="48.8" height="54.7" fill="#a0a0a0"/><rect x="665.9" y="2639.5" width="48.8" height="54.7" fill="#a0a0a0"/></g>
<g mask="url(#m14)" style="mix-blend-mode:overlay"><rect x="379.5" y="2425.3" width="286.9" height="214.7" filter="url(#t14)"/></g>
</g>
<g clip-path="url(#c15)"><g filter="url(#gblur)"><rect x="629" y="2371.1" width="48.9" height="54.7" fill="#969696"/><rect x="676.9" y="2371.1" width="48.9" height="54.7" fill="#969696"/><rect x="724.8" y="2371.1" width="48.9" height="54.7" fill="#969696"/><rect x="772.6" y="2371.1" width="48.9" height="54.7" fill="#909090"/><rect x="820.5" y="2371.1" width="48.9" height="54.7" fill="#9f9f9f"/><rect x="868.4" y="2371.1" width="48.9" height="54.7" fill="#a5a5a5"/><rect x="916.2" y="2371.1" width="48.9" height="54.7" fill="#9d9d9d"/><rect x="964.1" y="2371.1" width="48.9" height="54.7" fill="#9d9d9d"/><rect x="629" y="2424.8" width="48.9" height="54.7" fill="#969696"/><rect x="676.9" y="2424.8" width="48.9" height="54.7" fill="#969696"/><rect x="724.8" y="2424.8" width="48.9" height="54.7" fill="#969696"/><rect x="772.6" y="2424.8" width="48.9" height="54.7" fill="#909090"/><rect x="820.5" y="2424.8" width="48.9" height="54.7" fill="#9f9f9f"/><rect x="868.4" y="2424.8" width="48.9" height="54.7" fill="#a5a5a5"/><rect x="916.2" y="2424.8" width="48.9" height="54.7" fill="#9d9d9d"/><rect x="964.1" y="2424.8" width="48.9" height="54.7" fill="#9d9d9d"/><rect x="629" y="2478.5" width="48.9" height="54.7" fill="#a6a6a6"/><rect x="676.9" y="2478.5" width="48.9" height="54.7" fill="#a6a6a6"/><rect x="724.8" y="2478.5" width="48.9" height="54.7" fill="#969696"/><rect x="772.6" y="2478.5" width="48.9" height="54.7" fill="#919191"/><rect x="820.5" y="2478.5" width="48.9" height="54.7" fill="#949494"/><rect x="868.4" y="2478.5" width="48.9" height="54.7" fill="#a2a2a2"/><rect x="916.2" y="2478.5" width="48.9" height="54.7" fill="#a0a0a0"/><rect x="964.1" y="2478.5" width="48.9" height="54.7" fill="#a0a0a0"/><rect x="629" y="2532.2" width="48.9" height="54.7" fill="#a5a5a5"/><rect x="676.9" y="2532.2" width="48.9" height="54.7" fill="#a5a5a5"/><rect x="724.8" y="2532.2" width="48.9" height="54.7" fill="#9e9e9e"/><rect x="772.6" y="2532.2" width="48.9" height="54.7" fill="#919191"/><rect x="820.5" y="2532.2" width="48.9" height="54.7" fill="#969696"/><rect x="868.4" y="2532.2" width="48.9" height="54.7" fill="#969696"/><rect x="916.2" y="2532.2" width="48.9" height="54.7" fill="#949494"/><rect x="964.1" y="2532.2" width="48.9" height="54.7" fill="#949494"/><rect x="629" y="2585.8" width="48.9" height="54.7" fill="#a5a5a5"/><rect x="676.9" y="2585.8" width="48.9" height="54.7" fill="#a5a5a5"/><rect x="724.8" y="2585.8" width="48.9" height="54.7" fill="#a2a2a2"/><rect x="772.6" y="2585.8" width="48.9" height="54.7" fill="#969696"/><rect x="820.5" y="2585.8" width="48.9" height="54.7" fill="#9e9e9e"/><rect x="868.4" y="2585.8" width="48.9" height="54.7" fill="#a2a2a2"/><rect x="916.2" y="2585.8" width="48.9" height="54.7" fill="#969696"/><rect x="964.1" y="2585.8" width="48.9" height="54.7" fill="#969696"/><rect x="629" y="2639.5" width="48.9" height="54.7" fill="#a5a5a5"/><rect x="676.9" y="2639.5" width="48.9" height="54.7" fill="#a5a5a5"/><rect x="724.8" y="2639.5" width="48.9" height="54.7" fill="#a2a2a2"/><rect x="772.6" y="2639.5" width="48.9" height="54.7" fill="#969696"/><rect x="820.5" y="2639.5" width="48.9" height="54.7" fill="#9e9e9e"/><rect x="868.4" y="2639.5" width="48.9" height="54.7" fill="#a2a2a2"/><rect x="916.2" y="2639.5" width="48.9" height="54.7" fill="#969696"/><rect x="964.1" y="2639.5" width="48.9" height="54.7" fill="#969696"/></g>
<g mask="url(#m15)" style="mix-blend-mode:overlay"><rect x="677.4" y="2425.3" width="287.2" height="214.7" filter="url(#t15)"/></g>
</g>
<g clip-path="url(#c16)">
<rect x="991" y="2422.8" width="287.7" height="214.2" fill="#050002"/>
<g filter="url(#hblur)"><rect x="942.5" y="2368.8" width="48.9" height="54.5" fill="#49020b"/><rect x="990.5" y="2368.8" width="48.9" height="54.5" fill="#49020b"/><rect x="1038.5" y="2368.8" width="48.9" height="54.5" fill="#49020b"/><rect x="1086.4" y="2368.8" width="48.9" height="54.5" fill="#55020d"/><rect x="1134.3" y="2368.8" width="48.9" height="54.5" fill="#49020b"/><rect x="1182.3" y="2368.8" width="48.9" height="54.5" fill="#55020d"/><rect x="1230.2" y="2368.8" width="48.9" height="54.5" fill="#55020d"/><rect x="1278.2" y="2368.8" width="48.9" height="54.5" fill="#55020d"/><rect x="942.5" y="2422.3" width="48.9" height="54.5" fill="#49020b"/><rect x="990.5" y="2422.3" width="48.9" height="54.5" fill="#49020b"/><rect x="1038.5" y="2422.3" width="48.9" height="54.5" fill="#49020b"/><rect x="1086.4" y="2422.3" width="48.9" height="54.5" fill="#55020d"/><rect x="1134.3" y="2422.3" width="48.9" height="54.5" fill="#49020b"/><rect x="1182.3" y="2422.3" width="48.9" height="54.5" fill="#55020d"/><rect x="1230.2" y="2422.3" width="48.9" height="54.5" fill="#55020d"/><rect x="1278.2" y="2422.3" width="48.9" height="54.5" fill="#55020d"/><rect x="942.5" y="2475.9" width="48.9" height="54.5" fill="#55020d"/><rect x="990.5" y="2475.9" width="48.9" height="54.5" fill="#55020d"/><rect x="1038.5" y="2475.9" width="48.9" height="54.5" fill="#55020d"/><rect x="1086.4" y="2475.9" width="48.9" height="54.5" fill="#49020b"/><rect x="1134.3" y="2475.9" width="48.9" height="54.5" fill="#55020d"/><rect x="1182.3" y="2475.9" width="48.9" height="54.5" fill="#49020b"/><rect x="1230.2" y="2475.9" width="48.9" height="54.5" fill="#49020b"/><rect x="1278.2" y="2475.9" width="48.9" height="54.5" fill="#49020b"/><rect x="942.5" y="2529.4" width="48.9" height="54.5" fill="#55020d"/><rect x="990.5" y="2529.4" width="48.9" height="54.5" fill="#55020d"/><rect x="1038.5" y="2529.4" width="48.9" height="54.5" fill="#61030f"/><rect x="1086.4" y="2529.4" width="48.9" height="54.5" fill="#55020d"/><rect x="1134.3" y="2529.4" width="48.9" height="54.5" fill="#49020b"/><rect x="1182.3" y="2529.4" width="48.9" height="54.5" fill="#55020d"/><rect x="1230.2" y="2529.4" width="48.9" height="54.5" fill="#49020b"/><rect x="1278.2" y="2529.4" width="48.9" height="54.5" fill="#49020b"/><rect x="942.5" y="2583" width="48.9" height="54.5" fill="#55020d"/><rect x="990.5" y="2583" width="48.9" height="54.5" fill="#55020d"/><rect x="1038.5" y="2583" width="48.9" height="54.5" fill="#61030f"/><rect x="1086.4" y="2583" width="48.9" height="54.5" fill="#55020d"/><rect x="1134.3" y="2583" width="48.9" height="54.5" fill="#49020b"/><rect x="1182.3" y="2583" width="48.9" height="54.5" fill="#49020b"/><rect x="1230.2" y="2583" width="48.9" height="54.5" fill="#49020b"/><rect x="1278.2" y="2583" width="48.9" height="54.5" fill="#49020b"/><rect x="942.5" y="2636.5" width="48.9" height="54.5" fill="#55020d"/><rect x="990.5" y="2636.5" width="48.9" height="54.5" fill="#55020d"/><rect x="1038.5" y="2636.5" width="48.9" height="54.5" fill="#61030f"/><rect x="1086.4" y="2636.5" width="48.9" height="54.5" fill="#55020d"/><rect x="1134.3" y="2636.5" width="48.9" height="54.5" fill="#49020b"/><rect x="1182.3" y="2636.5" width="48.9" height="54.5" fill="#49020b"/><rect x="1230.2" y="2636.5" width="48.9" height="54.5" fill="#49020b"/><rect x="1278.2" y="2636.5" width="48.9" height="54.5" fill="#49020b"/></g>
<path d="M1096 2506.4a12.2 10.5 0 1 0 0.1 0zM1176.1 2562.8a12.2 9.9 0 1 0 0.1 0zM1125.8 2617.3a13.7 10.1 0 1 0 0.1 0zM1166.5 2546.2a10.2 10.7 0 1 0 0.1 0zM1084.5 2500.2a18.6 8.7 0 1 0 0.1 0zM1075.1 2554.5a16.9 11.2 0 1 0 0.1 0zM1043.8 2473a15 8.8 0 1 0 0.1 0zM1211 2452.2a12 12.5 0 1 0 0.1 0zM1099.3 2607.8a14.5 12.8 0 1 0 0.1 0zM1159 2585.9a10.4 10.6 0 1 0 0.1 0zM1017.4 2438.6a19.4 9.1 0 1 0 0.1 0zM1139.9 2516.2a10 7.4 0 1 0 0.1 0zM1250.3 2507.8a19.8 9.8 0 1 0 0.1 0zM1223.2 2441.1a13.6 12.4 0 1 0 0.1 0zM1257.7 2524.4a19.3 6.4 0 1 0 0.1 0zM1111.2 2487.7a13.2 11.7 0 1 0 0.1 0zM1042 2431.2a18.1 9.8 0 1 0 0.1 0zM1136.5 2468.3a11.8 8.2 0 1 0 0.1 0zM1274.1 2527.8a17 9.7 0 1 0 0.1 0zM1029.6 2532.5a15.2 11.2 0 1 0 0.1 0zM1225.4 2560.5a8.7 6.8 0 1 0 0.1 0zM1184.8 2516.2a16.2 11.2 0 1 0 0.1 0zM1176 2465.5a17.4 11.1 0 1 0 0.1 0zM1243.7 2450.3a17.7 11.2 0 1 0 0.1 0zM1146.7 2621.1a12.2 7.6 0 1 0 0.1 0zM1036.4 2556.4a9.1 6.4 0 1 0 0.1 0zM1107.2 2504.7a17.5 11.1 0 1 0 0.1 0zM1140.3 2536.6a12.1 10.8 0 1 0 0.1 0zM1010.7 2613.1a13.7 12.6 0 1 0 0.1 0zM991.5 2581.7a8.9 12.3 0 1 0 0.1 0zM1003.9 2528.1a13.3 11.6 0 1 0 0.1 0zM1090.2 2425.6a8 13.6 0 1 0 0.1 0zM1069.3 2456a14.6 9.1 0 1 0 0.1 0zM1227.2 2553.3a8.6 7.8 0 1 0 0.1 0zM1213.3 2519.5a11.4 12.3 0 1 0 0.1 0zM1172.3 2429.5a11.5 9.8 0 1 0 0.1 0zM1103.1 2532.4a14.6 12.1 0 1 0 0.1 0zM1128.9 2430.3a17.2 10.6 0 1 0 0.1 0z" fill="#000" opacity="0.8" filter="url(#dblur)"/>
<path d="M1229.1 2501.4a19.2 8.7 0 1 0 0.1 0zM997.5 2545.1a18.4 14.7 0 1 0 0.1 0zM1048.2 2485.6a13 8.9 0 1 0 0.1 0zM1264 2554.5a11.2 9.2 0 1 0 0.1 0zM1208.3 2518.6a11.2 9.5 0 1 0 0.1 0zM998.1 2446.1a22.7 14.6 0 1 0 0.1 0zM1150.6 2594.3a20.2 9.1 0 1 0 0.1 0zM1050 2574.4a20.6 16.5 0 1 0 0.1 0zM1060.9 2579.9a11 12.5 0 1 0 0.1 0zM1236.7 2433.1a19.4 15.1 0 1 0 0.1 0zM1211.8 2581.4a15 13.7 0 1 0 0.1 0zM1229.7 2627.7a24.2 14.4 0 1 0 0.1 0z" fill="#d01020" opacity="0.55" filter="url(#dblur)" style="mix-blend-mode:screen"/>
<g filter="url(#nblur)" opacity="0.85"><path d="M1005.1 2433.4a11.6 8.6 159 1 0 -21.7 8.1a11.6 8.6 159 1 0 21.7 -8.1zM1012.6 2574.4a10.7 8.3 125 1 0 -12.3 17.4a10.7 8.3 125 1 0 12.3 -17.4zM1022.6 2605.5a9.4 7.9 113 1 0 -7.4 17.3a9.4 7.9 113 1 0 7.4 -17.3zM1037.2 2537.7a9.3 7.8 34 1 0 15.4 10.5a9.3 7.8 34 1 0 -15.4 -10.5zM1032.1 2577.6a10.9 8.7 40 1 0 16.7 14.1a10.9 8.7 40 1 0 -16.7 -14.1zM1090.7 2487.3a11.5 8.2 159 1 0 -21.6 8a11.5 8.2 159 1 0 21.6 -8zM1087.9 2525.2a12 8.9 165 1 0 -23.2 6.1a12 8.9 165 1 0 23.2 -6.1zM1057 2542.5a9.6 9.1 38 1 0 15 12a9.6 9.1 38 1 0 -15 -12zM1114.6 2493.8a10.5 8 88 1 0 0.6 20.9a10.5 8 88 1 0 -0.6 -20.9zM1095.3 2564.3a9.5 8.4 103 1 0 -4.6 18.5a9.5 8.4 103 1 0 4.6 -18.5zM1135.9 2421a11.3 8.4 68 1 0 8.3 20.9a11.3 8.4 68 1 0 -8.3 -20.9zM1126.2 2517.2a10 8.6 63 1 0 8.9 18a10 8.6 63 1 0 -8.9 -18zM1115.8 2541.7a10.1 8.3 57 1 0 11 17a10.1 8.3 57 1 0 -11 -17zM1172.5 2482.5a10.1 7.1 127 1 0 -12.4 15.9a10.1 7.1 127 1 0 12.4 -15.9zM1193.2 2447.6a11.7 8.8 99 1 0 -4 23a11.7 8.8 99 1 0 4 -23zM1211.1 2555.8a9.3 8.5 138 1 0 -14 12.4a9.3 8.5 138 1 0 14 -12.4zM1180.5 2624.6a10.5 9.1 27 1 0 18.6 9.8a10.5 9.1 27 1 0 -18.6 -9.8zM1233 2459a11.4 8.9 77 1 0 4.8 22.2a11.4 8.9 77 1 0 -4.8 -22.2zM1242.8 2486.2a10.8 7.3 171 1 0 -21.4 3.3a10.8 7.3 171 1 0 21.4 -3.3zM1216.3 2530.9a9.3 7.3 20 1 0 17.3 6.6a9.3 7.3 20 1 0 -17.3 -6.6zM1277.7 2429.5a9.3 7.8 131 1 0 -12.3 14.1a9.3 7.8 131 1 0 12.3 -14.1zM1245.6 2544.4a10.1 8.4 36 1 0 16.4 12a10.1 8.4 36 1 0 -16.4 -12z" fill="#3a26d8"/><path d="M987.2 2532.6a11.2 8.4 53 1 0 13.5 17.9a11.2 8.4 53 1 0 -13.5 -17.9zM1002.2 2566.4a10.2 8.3 156 1 0 -18.7 8.3a10.2 8.3 156 1 0 18.7 -8.3zM1046.1 2469a11 9.1 83 1 0 2.6 21.9a11 9.1 83 1 0 -2.6 -21.9zM1028.9 2558.4a10.3 7.8 47 1 0 14 15a10.3 7.8 47 1 0 -14 -15zM1029.9 2611.9a11.5 7.1 8 1 0 22.7 3.3a11.5 7.1 8 1 0 -22.7 -3.3zM1070.6 2431.9a11.4 8.2 144 1 0 -18.7 13.1a11.4 8.2 144 1 0 18.7 -13.1zM1053.4 2469.5a9.5 7.2 11 1 0 18.6 3.7a9.5 7.2 11 1 0 -18.6 -3.7zM1069.4 2574.7a11.2 8.4 139 1 0 -16.9 14.6a11.2 8.4 139 1 0 16.9 -14.6zM1056.3 2609.5a10.9 9.1 69 1 0 7.8 20.3a10.9 9.1 69 1 0 -7.8 -20.3zM1108.9 2422.4a9.8 8.6 99 1 0 -3.3 19.4a9.8 8.6 99 1 0 3.3 -19.4zM1107.4 2576.4a11.9 8.9 43 1 0 17.3 16.2a11.9 8.9 43 1 0 -17.3 -16.2zM1103.1 2606.4a10.9 7.5 73 1 0 6.1 20.9a10.9 7.5 73 1 0 -6.1 -20.9zM1135.5 2575.3a11.5 7 157 1 0 -21.3 8.7a11.5 7 157 1 0 21.3 -8.7zM1136 2612.1a12 7.5 2 1 0 24 1.1a12 7.5 2 1 0 -24 -1.1zM1179 2432.4a9.4 9 87 1 0 0.9 18.7a9.4 9 87 1 0 -0.9 -18.7zM1160.9 2453.8a10.4 8.6 32 1 0 17.6 11.2a10.4 8.6 32 1 0 -17.6 -11.2zM1153.7 2515.5a9.5 7.9 10 1 0 18.7 3.5a9.5 7.9 10 1 0 -18.7 -3.5zM1173 2553.1a10 7 77 1 0 4.3 19.6a10 7 77 1 0 -4.3 -19.6zM1180.6 2433.4a9.2 8.8 23 1 0 16.9 7.4a9.2 8.8 23 1 0 -16.9 -7.4zM1208.6 2496.3a11.5 7.8 74 1 0 6 22.2a11.5 7.8 74 1 0 -6 -22.2zM1223.7 2430.4a10.2 7.1 3 1 0 20.4 1.3a10.2 7.1 3 1 0 -20.4 -1.3zM1212.2 2544.8a11.2 7.8 57 1 0 11.9 18.9a11.2 7.8 57 1 0 -11.9 -18.9zM1258.7 2491a9.4 8.2 135 1 0 -13.4 13.1a9.4 8.2 135 1 0 13.4 -13.1z" fill="#4a30e8"/><path d="M1013.9 2468a9.6 7.4 64 1 0 8.2 17.3a9.6 7.4 64 1 0 -8.2 -17.3zM1001.6 2484a9.9 8.3 115 1 0 -8.6 17.8a9.9 8.3 115 1 0 8.6 -17.8zM1050.6 2419.9a10.7 7.1 101 1 0 -4.4 20.9a10.7 7.1 101 1 0 4.4 -20.9zM1054.9 2502.4a11.1 8.1 155 1 0 -20.3 9.1a11.1 8.1 155 1 0 20.3 -9.1zM1115.2 2459a11.1 8 130 1 0 -14.4 16.8a11.1 8 130 1 0 14.4 -16.8zM1124.8 2535.4a10 7.1 144 1 0 -16.4 11.6a10 7.1 144 1 0 16.4 -11.6zM1151.7 2453.3a11.9 8.2 160 1 0 -22.5 7.9a11.9 8.2 160 1 0 22.5 -7.9zM1166.6 2593.5a11.7 7.4 124 1 0 -13.3 19.2a11.7 7.4 124 1 0 13.3 -19.2zM1219.1 2519.3a11.4 6.9 141 1 0 -17.8 14.1a11.4 6.9 141 1 0 17.8 -14.1zM1194.1 2575.3a10.8 7.6 58 1 0 11.2 18.5a10.8 7.6 58 1 0 -11.2 -18.5zM1211.7 2578a10.6 8.8 60 1 0 10.4 18.4a10.6 8.8 60 1 0 -10.4 -18.4zM1262.5 2476a9.6 8.2 33 1 0 16.1 10.5a9.6 8.2 33 1 0 -16.1 -10.5zM1264 2596.3a9.5 9.1 52 1 0 11.6 15.2a9.5 9.1 52 1 0 -11.6 -15.2z" fill="#3020b8"/></g>
<g fill="none" stroke-linecap="round" style="mix-blend-mode:screen" filter="url(#fblur)"><path d="M1190 2555.1q-14.2 4.6 -20.2 18.2M1030.6 2548.8q0.5 9.6 6.8 17M1120.4 2589.2q7.9 10.8 16.9 20.7M1179.2 2595.3q-5.7 9.1 -13.1 16.8M1185.5 2448.9q-12.4 -3.6 -25.1 -6.3M1176 2511.3q-2.8 -3 -5.1 -6.3M1117.5 2447.7q-10.7 1.2 -20.9 4.4M1127.4 2482.9q-6.3 1.8 -12.6 3.5M1211.8 2437q-1.8 -7.1 -2.9 -14.4M1272.4 2573q4.3 15 -2.5 29.1M1238.2 2524.9q-7.4 9.2 -16.8 16.4M1129.4 2621.4q-4 7.3 -4.6 15.6M987.7 2533.8q14.5 0 23.9 11.1M1078.3 2613.2q3 5.7 9 8.1M1032.2 2510.3q10.9 2.2 20.2 8.2M1181 2485q-4.1 1.6 -8.4 0.7M1111.9 2414.8q-10.3 2.7 -20.5 -0.6M1268.9 2502.3q-6.5 0.2 -12.3 -2.7M1058.3 2583.8q11.2 5.6 21.1 13.2M1050.9 2598.6q14 1.9 22.2 13.4M1225.9 2505.9q-8.2 -3.7 -12.8 -11.4M1246.1 2613q0 4.9 -3.6 8.2M1291 2474.2q-9.1 1.3 -18.3 1M1102.8 2634.9q-2.9 4.1 -2.6 9.2M1200.8 2503q-7.9 -0 -15.9 0.3M1115.6 2568.8q-1.3 4.3 0.3 8.5M1018 2428.6q0.5 9.8 -0.4 19.6M988.1 2453.2q-0.6 4.2 1.4 7.9M1104.8 2620.1q0.9 6.1 4.4 11.3M1175 2516.8q-6.4 2.5 -11.9 6.6M1080.5 2427.8q-9.8 5.7 -20.9 8.1M1257.5 2437.4q-7.9 1.1 -15.2 -1.9M1176.2 2449.4q-7.8 -1.4 -12 -8.1M1169.1 2460.2q-5.3 -2.9 -6.5 -8.9M1201.4 2552.9q-12.5 2.5 -22.3 10.7M1045.5 2633.2q5.8 -0.8 11.7 -0.2M1160.8 2452.9q-3.6 -6.6 -2.7 -14M1037.2 2612.7q14.2 -5.2 27 2.7M1239.8 2569.2q-6.3 1.4 -11.1 5.6M1200.1 2596.3q-3.7 6.5 -7.9 12.8M1104.8 2417.1q-12.9 6.9 -24 16.4M1267.7 2572.1q-1.6 7 -1.2 14.1M1000.6 2474.2q3.6 3.4 5.6 7.8M1044.3 2628.7q12.2 1.5 23.2 -3.9M1038.5 2485.9q10.8 10 18.3 22.7M1121 2468.6q-13.3 -4.8 -26.8 -0.6M998.4 2640.2q14 -1 23.7 9.1M1104.4 2455.5q-8.8 3.3 -13.8 11.2M1209 2495.2q-7.2 -3.5 -11.3 -10.4M1131 2516.2q-2 14.3 -9.8 26.4M1074.9 2506.9q-7 13.6 -3.1 28.3M1079 2489.5q-3 4.7 -4.7 10.1M1022.1 2408.7q-9.7 10.2 -23.1 14.6M1011.6 2603.4q9.4 1.3 18.3 4.8M1098.8 2446.8q-10.7 9.1 -18.9 20.4M1289.3 2533.3q-7.6 9.6 -11 21.4M1201 2566.3q-3.3 13 -13.8 21.2M1040.4 2462q3.1 11 -2.1 21.2M1281.1 2538.7q-12.3 1.6 -21 10.6M1240.2 2597.1q4.6 12.3 -2.2 23.6M1208.9 2503.5q-5.6 -8 -14 -13M1160.5 2444q-10.6 -1.6 -18 -9.4M1222.3 2636.1q-13.2 3.6 -18.6 16.3M1132.2 2533.9q-6.7 9.3 -5.6 20.8M1052.6 2527.8q6.8 8.5 8.4 19.3M1235.2 2424.4q-6 -2.8 -12.5 -4.1M1084.8 2580.8q8.8 6.3 11.4 16.9M1187.5 2479.1q-3.7 1.8 -7.7 2.9M1158.1 2532.3q-8.8 11.3 -7.8 25.6M1215.8 2467.7q-10.6 1.1 -20.4 -3.2M1002.7 2596.1q7.1 1.2 14.2 0.3M1038.8 2572.1q13.4 2.3 26.8 0.6M1116.1 2637.3q-0.4 8.9 -1.9 17.6M1024.7 2515.9q12.2 4.4 23.9 10M1089.1 2431.5q-13.8 5 -24.4 15.2M1073.4 2422.7q-5.2 7.9 -13.6 12.2M1143.4 2556.6q-9.5 7.1 -20 12.6M1036.8 2610.3q10.2 4.1 19.6 9.6M1207 2566.9q-10.1 9.3 -15.4 22M1184.9 2479.9q-10.5 -7.6 -22.7 -12.1M1228.5 2510.5q-7.1 -0.3 -13.3 -3.8M1233 2476.2q-5.5 0.2 -9.4 -3.6M1112.2 2475.6q-3.9 8.5 -9.4 16M1176.2 2523.8q-5.5 15 -20.1 21.7M1290.1 2536.5q0.2 9.6 -3.5 18.4M1132.8 2470.5q-5 0.4 -9.5 2.4M1041.8 2577.2q8.4 9.2 20.7 11M1144.5 2515.6q-7.4 10.9 -7.7 24.1M1223.9 2532q-6.2 1.6 -12.7 1.7M1041.2 2416.3q-6.7 12.7 -3.3 26.6M1120.5 2613.1q-4 9.1 -3.4 19M1119.7 2422.5q-8.8 -0.1 -16.4 -4.4M983.9 2441.6q-1.7 14.1 -4.1 28.1M1221.6 2506.7q-9.2 4.2 -19.4 4.9M976.9 2587.8q5.8 -2.6 11.8 -0.4M1045.3 2451.3q-2.9 7.2 -4.7 14.7M1054.8 2606.1q9.3 2.2 18.8 3.8M1237.4 2427.2q-3.2 -12.3 -11.6 -22M1171 2449.3q-7 -8.7 -17.9 -11.3M1218.3 2535q-6.3 4.4 -10 11.2M1177.6 2496.3q-8 -0.2 -15.9 -2.1M1124.2 2446.8q-10.5 -7.6 -23.4 -7.7M1240.4 2624.4q-11.1 6.7 -20.8 15.2M1242.1 2524.5q-6.4 8.9 -14.7 16M1008.3 2539q6.4 3.3 11.3 8.5M1006.4 2609.2q10.2 0.9 19.5 -3.5M1247.6 2480.8q-10.4 -10.2 -23.3 -16.8M1172.2 2456.1q-4.9 -2.9 -10.3 -1.2M1052.2 2552.4q3.9 5.4 10.2 7.9M1107.4 2468.2q-4.8 -0.2 -8.9 2.4M1280.1 2452.9q-14.4 -2.6 -21.4 -15.5M1049.6 2479.5q1.5 6.7 -0.6 13.3M1092.6 2606.1q0.8 7 4.8 12.8M1269.2 2619.5q-9.2 11.5 -15.4 24.9M1066.2 2619.1q2.8 6.5 9.1 9.6M1069.7 2581q3.8 3.1 7.9 5.6M1053.5 2622.4q4.7 4.2 10.2 7.3M1222.4 2537.2q-11.3 9.5 -25.9 11.8M1100.2 2446.5q-5.7 1.4 -11.3 3M1138.3 2477.4q-11.4 2.3 -21.4 -3.8M1172 2578.7q-2.7 8.9 -9.9 14.9M1088.5 2616.4q-1.5 6.1 0.9 11.9M1031.1 2561.2q4.5 -1.2 9.1 -2.2M1081.2 2620.8q8.2 6.5 14.5 14.9M1181.4 2428.7q-9.5 -0.6 -16.9 -6.7M1023.3 2448.7q-1.6 7.9 -6.8 14.1M1227.1 2522.6q-10.6 3.6 -21.3 7.1M1117.5 2510q-1.8 4.1 -3.7 8.1M995.8 2494.8q4.9 10.1 9.6 20.2M1257.3 2598.6q-6.5 10.8 -15.2 20M1223 2564.1q-5.2 0.9 -8.9 4.7M1163.5 2534.3q-2.6 8.8 -10.7 13.3M1210.1 2475q-7 -8.4 -6.2 -19.2M1198.3 2514.6q-5.9 11.1 -16.9 16.9M1195.4 2514.9q-6.5 0.4 -11.3 -4.1M1147 2462.4q-6.4 -1.9 -11.9 1.8M1208.6 2456.9q-2.8 -8.1 -10.4 -12.1M1208.2 2579.3q-2.7 10.3 -11.6 16.2M1210.7 2476.4q-9 -6.6 -18.3 -12.6M1013 2626.5q4.2 -0 8.3 0.4M1275.1 2485.6q-13.1 6.9 -27.3 3.2M1049.8 2479q-1.3 5.1 -0.9 10.3M1062 2611.3q2.2 5.2 6.7 8.5M1154.1 2630.2q-1.3 8 -7.2 13.4M987 2507.2q6.7 6 9.9 14.5M1157.5 2510.2q-4.2 0.7 -7.7 3.2M1285.1 2512q-3.8 9.8 -9.6 18.6M1186.5 2636.7q-2.9 10.9 -11.9 17.8M1203.6 2472.5q0.6 -11.4 -7.2 -19.7M1107.6 2420.5q-4.7 2.1 -9.3 -0.3M1136.7 2421q-6.5 -7.4 -16.3 -8.6M1261.7 2529q-1.1 10.2 2.1 19.9M1086.8 2627.9q-6.6 13.1 -3.9 27.4M1277.7 2606.4q7.1 8.8 7.6 20M1231.4 2461.9q-10.8 -2.4 -18.5 -10.3M1209.1 2467.9q-6.3 -7.6 -13.6 -14.2M1178.1 2577q-9.5 10.1 -12.4 23.6M984.5 2505.4q5.3 6.4 7.9 14.3M1236.8 2596.1q-4.6 5.9 -11.9 7.2M1177.1 2511.3q-12.2 -4.1 -24.4 -8.4M1173.8 2527.1q-12.6 -8.1 -27.2 -10.9M1244.8 2436.6q-8 -12.5 -2.9 -26.5M1037.6 2413.9q-6.9 7.1 -12.5 15.3M1053.3 2433.3q-9.4 6.3 -20.3 3.8M1015.1 2526.5q4 8.4 8.3 16.7M991.6 2590q6.6 -6.1 8.5 -14.8M1171.4 2542.3q-14.7 5 -24.6 16.9M1114.4 2463.6q-9.9 -2.2 -19.9 -1.3M1296.8 2426.3q-9.4 -1.8 -18.7 -4.2M1130.6 2432.6q-9.5 -4 -12.8 -13.8M1060.5 2408.7q-7.9 6.4 -16.7 11.6M1085.7 2413.3q-7.3 4.8 -13 11.5M1259.4 2477.3q-15.1 5.8 -28.9 -2.6M1078.2 2412.9q-6.7 8 -11.8 17.2M1274.7 2496.2q-9.7 -0.1 -16.3 -7.2M1070.1 2569.8q8.9 6.3 14.3 15.8M1238 2489.8q-7.9 -2.2 -14 -7.8M1234.4 2548.2q-7.7 12.7 -10.2 27.4M1089.8 2554.4q0.3 6.9 -0.3 13.8M1159.5 2542.1q-6.6 9.6 -13.8 18.8M1057.9 2454.5q-8.1 5.3 -12.7 13.9M1169.5 2505.8q-7.2 0.7 -14.2 -0.9" stroke="#b00818" stroke-width="0.9" opacity="0.85"/><path d="M996.4 2627.3q6.1 -5.6 14.2 -7.8M1070.6 2639q10.3 2.6 15.2 12.1M1284 2475.5q-8.4 3.5 -17 0.5M1051.1 2501.9q-1.7 10.7 5.4 18.9M1049.3 2636.9q6 1.4 10.6 5.3M1205.2 2550.7q-11 -6.1 -23.1 -2.4M1103.9 2437q-11.6 -1.7 -20.5 5.9M1222.3 2549.4q-6 2.1 -11.9 4.5M1269.5 2496.5q-12.6 -0.1 -22.1 -8.4M1023.5 2441.2q-2.1 5.3 0.8 10.1M993.4 2632.8q5.6 4.5 12.7 4.2M1089.1 2595.3q3.7 12.7 14.3 20.8M1291.1 2601.3q-8.8 6.7 -10.2 17.6M1184.7 2541.3q-7.2 5.1 -15.9 6.4M1140.1 2587.3q1.1 12.4 3.4 24.6M1203.7 2499.2q-5.6 -3.8 -12.3 -2.3M1290 2472.8q-9.6 -3.3 -16.2 -11M1235 2558.7q-2.2 13.6 -11.1 24M1280.5 2484.9q-13.2 -1.5 -26.4 -1.6M979.6 2556.4q11.9 2.2 24 3.4M1141.6 2419.5q-12.4 -5.9 -25.7 -2.6M1037 2429.1q-4.6 3 -7.2 7.8M1271.2 2636.4q2.4 6.5 0.2 13.1M1017.9 2621q15.6 -3.7 29.4 4.6M1081 2555.5q6.9 5.6 15.5 8.2M1147.4 2590.6q-2 13.6 -9.9 25M1133.1 2567.6q5.2 8.7 9.1 18.1M1022.5 2634.8q6.2 0.2 12.3 1.1M983.8 2612.2q5.9 -4.7 13.4 -4.2M994.6 2590.5q12.9 3.3 24.4 -3.3M1041.9 2461q-8.7 7.3 -9 18.5M1073.1 2577q4.7 2.6 5.7 7.8M1193.1 2473.8q-9.3 -7.6 -8.9 -19.5M1267.1 2636.5q-11.1 0.2 -18.1 8.9M1258 2520.4q-2 3.8 -5.5 6.2M1259 2622.2q-9.1 6.8 -20.1 9.5M1252.1 2487.9q-8.7 0.6 -15.4 6.2M1201.3 2611.3q-5.2 5.3 -10.6 10.5M1273.3 2609.2q-3.2 9.4 -12 14M1214.3 2539.1q-14.8 2 -29.7 3.1M1172.7 2485.2q-4.5 -2.7 -9.7 -2.1M1217 2480.2q-9.6 -4.6 -18.9 -9.7M1055.9 2573.2q3.3 8.4 10.1 14.1M1181.7 2451.2q-12.1 -2.1 -18.6 -12.4M1064.2 2515.3q10 10.2 19.6 20.8M1163.4 2448.8q-2.5 -4.8 -7.6 -6.7M1079.3 2500.5q1.5 9.2 -4.2 16.7M1117.2 2446.5q-9.1 -5.6 -19.7 -6.6M1063.7 2599.4q11.5 6.4 16 18.8M989.1 2498.7q8.9 9.1 10.6 21.8M1033.2 2527.3q5.4 10.7 15.4 17.3M1140.5 2617q-2.6 5.7 -3.3 12M1164.1 2555.4q-4.6 11.1 -13.6 19M1106.1 2547.3q2 11.2 10.2 18.9M1282.4 2559.4q-4.1 13.2 -1.5 26.8M1182.6 2623.1q-5.9 3.5 -7.4 10.2M1151.4 2488.3q-8.1 -0.8 -16.1 -2.4M1101 2503.7q-5.3 1.3 -8.4 5.7M1181 2488.6q-6.5 -1 -11.8 2.9M1008.6 2569.5q5.3 2.6 11.1 3.2M1111.7 2525.1q-0.9 14.5 4 28.1M1277.3 2501.9q-6.7 1.4 -13.4 -0.3M982.9 2585.7q9.5 -1.9 17.9 -6.7M1154.9 2556.2q-5.7 10.5 -16.1 16.2M1005.5 2518q4.4 3.4 6.4 8.6M1273.4 2507.7q-7 1.4 -13.2 4.9M1121.3 2423.8q0.3 -6.4 -4.5 -10.6M1218.8 2463.1q-4.5 -2.4 -8.4 -5.7M1013.6 2492.2q3.5 13.4 15.7 20.1M1136.6 2437.5q-6 -4.6 -13.4 -3.6M1072.2 2415.3q-12.6 7.5 -19.9 20.2M1081.2 2469.7q-2 12.6 -6.5 24.5M1060.2 2566q8 10.7 16.6 21M991.4 2584.3q5.3 -6.4 9.6 -13.5M1076.6 2536.5q-0.2 4.1 1.3 8M1070.4 2449.6q-6.3 7.8 -6.2 17.9M1141.2 2489.3q-9.6 -3.9 -19.6 -6.7M994.9 2426.8q2.9 12.3 2.4 24.9M987.7 2426.7q-0.1 7.1 5.3 11.7M1241.2 2514.9q-6.4 6.4 -11.5 14M1083.6 2477q4 16.2 -6.5 29.2M1002.5 2411.9q-8.7 1.8 -16.2 6.4M1202.9 2521.5q-6 -1.3 -11.8 -2.9M1103.8 2586.1q3.1 8.2 10.7 12.7M1136.5 2574.5q9.8 6.9 13.8 18.1M1134.2 2622.5q-3.7 9.8 -13.1 14.4M1047.2 2562.9q9.3 -2 16.6 4.2M1288.2 2633.3q-5.8 12.9 -11.1 26M1151.7 2603.3q-8.3 13.2 -6.6 28.8M1062.5 2564.5q7.7 6.9 10.7 16.8M1224.6 2443.4q-1.7 -7.9 -5.3 -15.1M1001 2555.8q9.7 3.2 19.7 6M1016.3 2409.7q-2.8 7.9 -1.8 16.2M1039.6 2451.7q7.6 12.5 8 27.2M1282.6 2612.3q-5.9 4.4 -6.2 11.8M1095.6 2431.9q-5.6 -2 -11.3 -3.7M1023.9 2615.2q7 -3.5 14.6 -5.1M1143.5 2502.6q-5.1 2.5 -10.4 4.4M1291.7 2445.5q-6.4 -3.4 -9.4 -9.9M1258.6 2546.7q-7.5 9.5 -15.8 18.4M1003.8 2440.8q4.8 10.7 9.4 21.5M1185.9 2553.1q-1.2 7 -6.8 11.5M1221 2456.4q-10.9 -6.1 -19.4 -15.1M1182 2562.3q0.9 15.1 -9.8 25.7M1132.9 2571.8q1.7 9.7 -1.6 19M1151.8 2470q-6.2 -1.2 -12 1M1191.3 2465q-2.2 -10.7 -12 -15.4M1053.7 2566.5q9.2 7.9 12.9 19.5M1116.4 2432.8q-10.2 2.3 -19.6 -2.4M1190.4 2467.4q-9.7 -4.1 -19.8 -7.3M1141 2635q2.3 10.7 3.7 21.5M1283.3 2612.1q-8.1 11 -5.3 24.4M1170.5 2496.8q-8.4 -0.4 -15 -5.6M1171.4 2448.4q-2.4 -6.4 -8.9 -8.6M1041 2628.9q5 3.5 10.9 1.8M1091.1 2508.3q-0.8 4.6 2 8.4M1028 2434.6q-1.3 5 -3 9.8M1159.3 2553.5q-6.5 8.3 -9.2 18.5M1146.8 2447q-4.3 -0.2 -8.1 -2.2M1022.5 2539.5q6.7 3.3 11.7 8.9M1014.4 2479.7q0.7 11.2 5.1 21.4M1012.7 2639.4q5.1 4.7 11.8 6.7M1081.4 2464.6q-2.9 11.4 -3.9 23.1M1003.3 2544.9q11.8 -1.6 22.4 3.9M981.9 2623.2q14.3 -4.3 26.9 3.7M1234.8 2606.4q-6.5 -4.6 -14.5 -4.3M1089.9 2594q12.8 0.7 23.2 8.3M1255.3 2585q-1.8 5.5 -5.8 9.7M993.6 2533.7q5.4 0.1 8.9 4.2M1268 2514.8q-8.4 -5.9 -18.7 -5.4M1184.8 2629.3q-1.6 13 -11.8 21.1M1031.8 2575.7q4.4 -4.9 10.9 -5.9M1202.6 2604.7q-9 8.8 -21.6 8.5M1119.9 2474.8q-6.7 -0.2 -13.2 1.2M1110.5 2493.8q-6.8 5.8 -13 12.1M1216.5 2522.3q-15.6 -1.3 -28.6 7.3M1081.5 2440.9q-10.9 7 -18.3 17.8M1025.6 2585.7q9.4 1.6 17.3 7M1246.4 2458.2q-5.8 -11.7 -18 -16.1M1107.9 2553.9q-0.7 7.4 3.2 13.7M1239.3 2526.8q-7.3 1.8 -14.8 0.7M1050 2492.5q3 12.6 9 24.1M1145.1 2582.1q4.4 14.5 -0.7 28.7M1078.9 2458.2q-8.1 10.9 -16.8 21.5M985.4 2510.1q5 5.9 10.8 11M1080.2 2493.1q-2.1 10.6 -3.7 21.2M1266.4 2454q-13.4 -1.8 -25.9 -6.9M1087.7 2571q4.2 3.1 7.3 7.2M1084.3 2426q-5.4 0.4 -10.9 -0M1208.4 2480.8q-2.8 -13.9 -15.4 -20.2M1190 2494.4q-13.3 7.4 -28.3 9.1M1034.6 2488.9q-6.1 12.3 -7.4 26M988.8 2494.7q14 6.1 24.8 16.9M1224.5 2538.2q-8 2.5 -13 9.1M1080.2 2507.6q2.9 12.9 11.8 22.7M1203.8 2427.7q-9.2 -6.1 -11.7 -16.9M1099.4 2625.6q-1.2 7.3 0.1 14.6M1010.7 2475.5q4.7 7.7 4.1 16.7M1140 2464.5q-6.6 -3.3 -13.9 -4.2M1245.9 2588.5q-0.1 7 -4.5 12.4M987.4 2618.3q7.4 2.5 13.8 -1.8M1172.6 2583.7q-5.9 8.7 -15.5 13M1247.5 2429.1q-5.8 -4.6 -13 -6.4M1200.6 2522.6q-10.9 -7.1 -23.4 -3.3M1187.8 2567.8q-8.5 10.5 -16.2 21.6M1293.4 2632.1q-4.8 10.3 -12.5 18.7M1105.3 2598.5q4 8.9 6.4 18.3M1112.5 2491.2q-12.3 6.4 -25.7 2.5M973.9 2611.2q8.2 2.3 16.2 5.1M1084 2430.3q-6.3 4.8 -14.2 5.5M1108.5 2562.4q2.5 5.7 4 11.7M1229.1 2508.9q-10.1 -1.8 -19.9 -4.9M1173.7 2591.5q-2.3 4.4 -6.2 7.6M1256.1 2538.6q-7.2 3.8 -14.8 6.9M1081.3 2427.6q-12.1 5.4 -23.1 12.8M1194.3 2575.5q-4.5 10.1 -7.8 20.6M1269.6 2457.9q-14.2 -2.8 -26.9 4M1144.3 2616.1q8.1 11.8 6.5 26M1103.7 2422.2q-6.3 3.5 -13.4 4.4M1116.3 2467.5q-7.6 1.3 -15.2 -0.2M1171.1 2554.4q-11 6.8 -16.6 18.4M1040.5 2509.7q13.4 7.2 17.2 21.9M1216.5 2480.1q-4.1 0.1 -8.3 0.4M1151.2 2589.5q-4 5.5 -6 12M1073.5 2411.8q-5.8 8.2 -10.6 17M1105.1 2451.9q-6.3 -4.9 -14.3 -4.3M1143.9 2454.9q-3.4 -3.8 -7.2 -7.2M1170.8 2426.8q-6.7 -6.9 -7.8 -16.5M1139.1 2422.7q-10.3 -0.3 -18.4 -6.6M1007.3 2513.4q4.1 2.2 7.1 5.8M1115.8 2520.6q-1.9 6 -3.6 12M990.2 2579.8q11 -9 24.1 -14.4M1003.5 2560.7q9.8 -1 18.8 3.3M1122 2556.1q2.8 14.3 1.1 28.8M1265.6 2484.6q-9.3 -5.4 -19.9 -3.3M1167.8 2499.1q-13.4 -1.5 -23.9 7.1M1001.8 2596.4q9.9 0.9 18.6 -4M1083.9 2525.2q-3.7 7.9 -1.5 16.3M1263.3 2509.7q-8.9 -4.2 -18.7 -6.2M1065.8 2474.8q-5.9 5.8 -8 13.7M1098.3 2419.5q-5 0.8 -9.9 1.6M1291 2417.9q-6.4 2.3 -13.2 2M1077 2526.1q0.8 9.2 4.3 17.8M1216.1 2448.7q-4.3 -4.9 -3.3 -11.4M1263 2422.6q-10.1 -11.8 -25.4 -14.7M1246.9 2619.4q-10.3 8.2 -11 21.3M977.2 2508.1q9 5.3 19.4 5.3M1034 2457.6q-11.2 5.3 -14.7 17.2M1066.1 2430.3q-4.4 4.3 -7.7 9.4M1128.2 2457.2q-10.9 -7.8 -24.1 -10.6M1012.1 2548.1q3.1 -3.2 7.5 -3.4M1095.2 2553.5q5.1 4.2 7.1 10.4M1159.5 2449.1q-8.4 -10.9 -8.9 -24.6M1269.9 2592.3q-1.1 7.4 -7.3 11.6M994.2 2493.4q2.7 5 7.9 7.3M1068.8 2462q-5.6 4.3 -8.2 10.8M1251.2 2464.1q-7.1 -4.4 -14.7 -7.9M1102.2 2576.3q-4.9 10.2 -6.5 21.5M1232.9 2613q-3 14.6 -1.1 29.5M1222.9 2466.3q-6.8 -3 -14 -5.2M1258.4 2588.9q-5.6 7.9 -3.1 17.2M1169.3 2441.9q-6.6 -8.5 -17.3 -10.3M974.2 2590q10.9 2.6 22 2M1067.6 2589.7q2.6 3.9 7.2 4.6M1064.8 2623.5q5.4 3.4 8.4 9.1M1039.6 2437.6q-3.7 4 -3.3 9.4M988.4 2441.3q3.2 12.3 5.2 24.8M1204.4 2603.9q-0.2 5.7 -1.5 11.2M1065.2 2607.2q0 5.6 4.6 9M1119.8 2518.1q-5.4 7.1 -13.6 10.5M1187.6 2487.2q-1.4 -6.5 -5.9 -11.4M997.3 2612.3q8.9 -3.1 17.9 -5.9M1238.3 2559.7q-4.3 2.3 -7 6.4M1000.4 2637.2q11.6 -0.5 20.9 6.6M1137.9 2600.2q5 9.9 5.2 21.1M1288.1 2580.5q-2.3 14.7 -11.6 26.3M992.2 2516.6q8.4 3.3 12.7 11.1M1222 2471.6q-1.7 -4.6 -3.6 -9.1M1273.4 2501.2q-10.3 5.4 -21.9 6M1211.2 2454.6q-10.2 -6.1 -21.4 -9.7M1062.6 2547.4q12 10 14.7 25.4M1128.5 2523q-5 0.5 -7.8 4.7M1183.7 2547.4q-2.4 7.1 -9.4 9.8M1049.5 2435.4q-2.4 4.3 -4.6 8.6M1210.7 2629.2q-0.7 11.8 -7.8 21.2M1004.7 2429.1q-5.5 9.7 -12.8 18M1040.6 2600.8q14.4 4.7 24.6 15.9M1004.1 2543.9q10.6 1.1 19.9 6.4M1097.1 2416.6q-16 -2.8 -28.4 7.7M1034.4 2423.2q-4.1 8.9 -2.9 18.7M1251.8 2608.5q-3.3 7.6 -1.1 15.7M1187.9 2510.7q-7.2 4.1 -14.5 8.1M1126.2 2443.9q-6.3 -4.6 -11.9 -10M1205.3 2465.1q-1.8 -11.7 -10.6 -19.5M1013.2 2463.3q10.3 9.7 9.3 23.8M1166.3 2582.3q-7.5 9.8 -17.6 16.8M1042.5 2506.1q-4.9 10.7 -5.7 22.5M996.5 2603.4q5.3 -1.1 9.9 1.7M1256.6 2582q0.6 6 3.1 11.4M990.6 2435.3q-5.4 13.4 -6.8 27.8M1206.3 2438.8q-2.3 -10.5 -4.4 -21.1M1217.4 2539.3q-4.5 -1.1 -8.4 1.4M1006.4 2640.7q14.7 1.8 25.5 -8.4" stroke="#e81424" stroke-width="1.2" opacity="0.9"/><path d="M1148.5 2520.7q-8.1 0.5 -13.3 6.7M1225.3 2598.6q-4.8 14.8 -19.1 21M1056.2 2581.7q9.6 10.2 22.2 16.3M1075.9 2507.3q3.9 11 -1.8 21.1M1256.3 2523.6q-12.8 -4.8 -25.9 -0.9M1047.9 2538.7q9.1 7.7 20.5 11.4M1011.2 2439.6q4.6 11.7 -1.7 22.5M980.3 2576.4q7.6 -1.2 15.2 0.1M1160.5 2522.4q-7.7 6.5 -15.9 12.2M1010.9 2545.4q9.6 11.9 13.5 26.7M1001.2 2407.8q-10.1 6.8 -19.3 14.9M1041.8 2558.7q3.2 3.3 7.8 3M1157.3 2483.4q-10.1 -0.1 -18.5 5.5M1117.3 2611.2q2.5 11.6 8.2 22M1290.6 2579.6q-9.4 5.8 -11.4 16.7M1170.2 2492.1q-3.4 9.8 -12.3 15M1105.7 2616.7q6.3 11.5 10.8 23.8M1190.7 2461.3q-7.7 -11.3 -12.9 -23.9M1126.1 2429.2q-6.6 -4.1 -13.7 -7.1M1104.7 2580.2q1.5 5.2 6.5 7.4M1014.5 2597.8q13 -3.4 21.8 -13.5M1251.2 2549.3q-7.9 3.1 -10.2 11.3M1238.1 2610.7q-6.5 6 -12.6 12.3M1029.5 2625.2q11.2 -5.4 23.6 -4.5M974.7 2556.3q9.5 4.6 19.4 8.2M1009.4 2598.4q6.2 0.9 12.3 1.8M1224.4 2430.2q-10 -9.9 -24 -10.8M1210.5 2469.4q-14.3 -1.4 -27.2 -7.7M1098 2424.7q-4.5 1.8 -9.3 1.9M1042.7 2458.8q0.1 7.6 -4.5 13.6M1000.3 2489.5q10.3 8.3 15.3 20.6M1183.7 2614.5q-6.4 8.5 -14.9 14.7M1051.7 2421.7q-14.5 4 -21.8 17.1M1283.9 2540.9q1.1 12 3.9 23.7M1078.2 2586.8q4.7 4.6 5.8 11M1081.1 2444q-4 4.9 -10.2 5.6M1146 2494.5q-7.7 0.6 -13.2 -4.9M991.8 2446.8q3.3 6.9 8.4 12.6M1250.1 2554.5q-3.2 8.9 -11.3 13.8M1177.1 2451.9q-9.5 5.1 -19.5 0.9M974.7 2521.2q8.5 -0.2 16.1 3.3M1190.8 2428.2q2.1 -13.1 5.2 -25.9M1167.5 2615.5q-4.7 4.4 -10.8 6.1M1097 2483.7q-3.5 11.2 -10.9 20.4M1062.2 2640.1q4.2 5.2 7.1 11.3M1228.5 2624.9q-10.2 5.6 -11.9 17M1034 2596.7q11.3 4.7 23.6 4.3M983 2464.9q-0.2 12.3 8.9 20.7M1160 2564.6q-1.9 11.1 1.8 21.8M1109.4 2474.9q-10.3 -6.5 -21.9 -10.2M1264.6 2598.8q-8.7 11.4 -22.1 16.3M1038.7 2579.5q4.3 2.4 9.2 2M1283.7 2503.9q-7.4 13.2 -21.4 19M1007.7 2409.5q-8.5 4.7 -10 14.3M1032.6 2513.7q15.6 4.8 22.4 19.6M1159.3 2433.5q6 -14.1 -1.3 -27.7M1259.9 2507.5q-12.6 9 -27.9 6.3M1101.7 2564.5q4.7 10.2 7.3 21.2M1145.7 2585.5q-4.9 6.2 -5.6 14.1M1066.2 2502.1q-0.2 7.1 5.3 11.7M1217.3 2532.6q-9.5 -2.1 -18.5 1.5M1051.6 2487.4q8.1 10.6 4.5 23.5M1073 2573.6q10.3 7 22.3 10.6M1151.9 2632.4q1 10.8 -3.3 20.8M1036.1 2414.9q-1.5 7.4 -7.5 11.9" stroke="#ff2838" stroke-width="1.7" opacity="0.9"/></g>
<path d="M1043.5 2542.9a6 6 0 1 0 0.1 0zM1050.8 2525.7a5.1 5.1 0 1 0 0.1 0zM1123.3 2495.5a3.7 3.7 0 1 0 0.1 0zM1057.7 2487.2a4.7 4.7 0 1 0 0.1 0zM1122.1 2515.2a7 7 0 1 0 0.1 0zM1167.1 2591.3a3.9 3.9 0 1 0 0.1 0z" fill="#ff3070" opacity="0.7" filter="url(#nblur)" style="mix-blend-mode:screen"/>
</g>
<g clip-path="url(#c17)">
<rect x="1288.8" y="2422.8" width="287.9" height="214.2" fill="#050002"/>
<g filter="url(#hblur)"><rect x="1240.3" y="2368.8" width="49" height="54.5" fill="#3d0209"/><rect x="1288.3" y="2368.8" width="49" height="54.5" fill="#3d0209"/><rect x="1336.3" y="2368.8" width="49" height="54.5" fill="#43020a"/><rect x="1384.3" y="2368.8" width="49" height="54.5" fill="#3d0209"/><rect x="1432.2" y="2368.8" width="49" height="54.5" fill="#43020a"/><rect x="1480.2" y="2368.8" width="49" height="54.5" fill="#49020b"/><rect x="1528.2" y="2368.8" width="49" height="54.5" fill="#43020a"/><rect x="1576.2" y="2368.8" width="49" height="54.5" fill="#43020a"/><rect x="1240.3" y="2422.3" width="49" height="54.5" fill="#3d0209"/><rect x="1288.3" y="2422.3" width="49" height="54.5" fill="#3d0209"/><rect x="1336.3" y="2422.3" width="49" height="54.5" fill="#43020a"/><rect x="1384.3" y="2422.3" width="49" height="54.5" fill="#3d0209"/><rect x="1432.2" y="2422.3" width="49" height="54.5" fill="#43020a"/><rect x="1480.2" y="2422.3" width="49" height="54.5" fill="#49020b"/><rect x="1528.2" y="2422.3" width="49" height="54.5" fill="#43020a"/><rect x="1576.2" y="2422.3" width="49" height="54.5" fill="#43020a"/><rect x="1240.3" y="2475.9" width="49" height="54.5" fill="#3d0209"/><rect x="1288.3" y="2475.9" width="49" height="54.5" fill="#3d0209"/><rect x="1336.3" y="2475.9" width="49" height="54.5" fill="#3d0209"/><rect x="1384.3" y="2475.9" width="49" height="54.5" fill="#3d0209"/><rect x="1432.2" y="2475.9" width="49" height="54.5" fill="#43020a"/><rect x="1480.2" y="2475.9" width="49" height="54.5" fill="#3d0209"/><rect x="1528.2" y="2475.9" width="49" height="54.5" fill="#43020a"/><rect x="1576.2" y="2475.9" width="49" height="54.5" fill="#43020a"/><rect x="1240.3" y="2529.4" width="49" height="54.5" fill="#43020a"/><rect x="1288.3" y="2529.4" width="49" height="54.5" fill="#43020a"/><rect x="1336.3" y="2529.4" width="49" height="54.5" fill="#3d0209"/><rect x="1384.3" y="2529.4" width="49" height="54.5" fill="#43020a"/><rect x="1432.2" y="2529.4" width="49" height="54.5" fill="#3d0209"/><rect x="1480.2" y="2529.4" width="49" height="54.5" fill="#3d0209"/><rect x="1528.2" y="2529.4" width="49" height="54.5" fill="#43020a"/><rect x="1576.2" y="2529.4" width="49" height="54.5" fill="#43020a"/><rect x="1240.3" y="2583" width="49" height="54.5" fill="#49020b"/><rect x="1288.3" y="2583" width="49" height="54.5" fill="#49020b"/><rect x="1336.3" y="2583" width="49" height="54.5" fill="#43020a"/><rect x="1384.3" y="2583" width="49" height="54.5" fill="#3d0209"/><rect x="1432.2" y="2583" width="49" height="54.5" fill="#49020b"/><rect x="1480.2" y="2583" width="49" height="54.5" fill="#43020a"/><rect x="1528.2" y="2583" width="49" height="54.5" fill="#49020b"/><rect x="1576.2" y="2583" width="49" height="54.5" fill="#49020b"/><rect x="1240.3" y="2636.5" width="49" height="54.5" fill="#49020b"/><rect x="1288.3" y="2636.5" width="49" height="54.5" fill="#49020b"/><rect x="1336.3" y="2636.5" width="49" height="54.5" fill="#43020a"/><rect x="1384.3" y="2636.5" width="49" height="54.5" fill="#3d0209"/><rect x="1432.2" y="2636.5" width="49" height="54.5" fill="#49020b"/><rect x="1480.2" y="2636.5" width="49" height="54.5" fill="#43020a"/><rect x="1528.2" y="2636.5" width="49" height="54.5" fill="#49020b"/><rect x="1576.2" y="2636.5" width="49" height="54.5" fill="#49020b"/></g>
<path d="M1427.4 2558.9a10.3 6.8 0 1 0 0.1 0zM1378.7 2485.4a17.2 13.8 0 1 0 0.1 0zM1291.5 2483.9a13.7 12.9 0 1 0 0.1 0zM1470.1 2556.4a14.9 8.1 0 1 0 0.1 0zM1499.2 2522.4a8.9 13.9 0 1 0 0.1 0zM1472.3 2476.9a9.6 13.3 0 1 0 0.1 0zM1322.6 2517.1a11.4 10.6 0 1 0 0.1 0zM1330.9 2504.8a11.5 6.5 0 1 0 0.1 0zM1513.5 2489.2a8.3 10.5 0 1 0 0.1 0zM1301.2 2465.5a14.5 9.1 0 1 0 0.1 0zM1441.3 2509.6a19.1 6.8 0 1 0 0.1 0zM1324.9 2483.6a16.2 7.3 0 1 0 0.1 0zM1425.5 2544.5a18.7 11.7 0 1 0 0.1 0zM1500.8 2490.9a11.5 11.1 0 1 0 0.1 0zM1352.1 2539.9a8.1 11.1 0 1 0 0.1 0zM1474.4 2497.1a18.4 12.9 0 1 0 0.1 0zM1459.2 2596a9.8 13.1 0 1 0 0.1 0zM1468.8 2601a12.4 10.5 0 1 0 0.1 0zM1550.2 2595.1a14.6 9.7 0 1 0 0.1 0zM1502.5 2524.2a15.5 10.4 0 1 0 0.1 0zM1521.8 2613.8a14 6.4 0 1 0 0.1 0zM1551.4 2564.3a16 8 0 1 0 0.1 0zM1532.1 2608.6a13.5 6.8 0 1 0 0.1 0zM1306.5 2555.3a11.2 7.8 0 1 0 0.1 0zM1490.4 2519.9a10.2 12.4 0 1 0 0.1 0zM1554 2432.3a12.7 11 0 1 0 0.1 0zM1549.9 2505.2a9.4 12 0 1 0 0.1 0zM1454.1 2469.5a16.3 12.6 0 1 0 0.1 0zM1314.2 2556a18.8 13.4 0 1 0 0.1 0zM1454.6 2608.3a15.5 9.5 0 1 0 0.1 0zM1558.3 2603a17.9 6.3 0 1 0 0.1 0zM1419.9 2563.6a16.9 7.7 0 1 0 0.1 0zM1558.2 2507.9a19.8 13.9 0 1 0 0.1 0zM1426.4 2581.2a10.2 13.4 0 1 0 0.1 0zM1311.7 2486.1a19.4 13.7 0 1 0 0.1 0zM1391.3 2570.4a10.4 10.6 0 1 0 0.1 0zM1510.3 2503.3a16.4 13.1 0 1 0 0.1 0zM1462.8 2630.4a10.3 12.4 0 1 0 0.1 0zM1500.2 2495.8a19.1 13.8 0 1 0 0.1 0zM1499.6 2433.6a17.4 12.9 0 1 0 0.1 0z" fill="#000" opacity="0.8" filter="url(#dblur)"/>
<path d="M1533.8 2604.7a25.3 12.4 0 1 0 0.1 0zM1508.6 2530.7a17.8 17.9 0 1 0 0.1 0zM1381.1 2496.3a20 10.2 0 1 0 0.1 0zM1324.1 2587.2a16.4 10.1 0 1 0 0.1 0zM1314.1 2626.4a22.3 10.8 0 1 0 0.1 0zM1342.2 2626.6a10.6 16.4 0 1 0 0.1 0zM1302 2570.4a10.9 8.5 0 1 0 0.1 0zM1528.7 2461a25.7 10.6 0 1 0 0.1 0z" fill="#d01020" opacity="0.55" filter="url(#dblur)" style="mix-blend-mode:screen"/>
<g filter="url(#nblur)" opacity="0.85"><path d="M1314.7 2445.3a8.4 7.4 120 1 0 -8.5 14.6a8.4 7.4 120 1 0 8.5 -14.6zM1310.9 2466.6a10.4 6.5 74 1 0 5.4 20.1a10.4 6.5 74 1 0 -5.4 -20.1zM1308 2555a8.8 7.3 75 1 0 4.4 17.1a8.8 7.3 75 1 0 -4.4 -17.1zM1339.5 2522.5a8.6 7.1 118 1 0 -8.3 15.1a8.6 7.1 118 1 0 8.3 -15.1zM1333 2452.9a10.2 7.9 10 1 0 20 3.7a10.2 7.9 10 1 0 -20 -3.7zM1355.3 2611.1a9.1 6.1 68 1 0 6.7 16.9a9.1 6.1 68 1 0 -6.7 -16.9zM1375 2429.8a8.3 7.5 15 1 0 16 4.6a8.3 7.5 15 1 0 -16 -4.6zM1361.1 2560.9a8.6 7.8 9 1 0 16.9 2.9a8.6 7.8 9 1 0 -16.9 -2.9zM1385.2 2599.1a8.8 7.6 165 1 0 -17.1 4.4a8.8 7.6 165 1 0 17.1 -4.4zM1412.6 2429.6a9.3 7.5 90 1 0 -0.2 18.5a9.3 7.5 90 1 0 0.2 -18.5zM1392.8 2505.8a9.8 6.2 31 1 0 16.8 10.1a9.8 6.2 31 1 0 -16.8 -10.1zM1397.6 2535a9.9 6.5 16 1 0 18.9 5.5a9.9 6.5 16 1 0 -18.9 -5.5zM1414.8 2554.1a10.3 7.7 99 1 0 -3.3 20.4a10.3 7.7 99 1 0 3.3 -20.4zM1426 2576.3a10.2 7.3 161 1 0 -19.4 6.4a10.2 7.3 161 1 0 19.4 -6.4zM1444.1 2430a10.5 7.9 170 1 0 -20.7 3.3a10.5 7.9 170 1 0 20.7 -3.3zM1432 2445.3a10.3 8 157 1 0 -18.9 8a10.3 8 157 1 0 18.9 -8zM1442.9 2469.7a8.3 7.8 99 1 0 -2.9 16.4a8.3 7.8 99 1 0 2.9 -16.4zM1435.5 2502.7a9.3 6.5 54 1 0 10.9 15.2a9.3 6.5 54 1 0 -10.9 -15.2zM1433.6 2629.1a8.2 7 142 1 0 -12.9 10.1a8.2 7 142 1 0 12.9 -10.1zM1451.4 2434.8a8.2 6.8 110 1 0 -5.9 15.4a8.2 6.8 110 1 0 5.9 -15.4zM1478.2 2513.7a10.2 6.9 137 1 0 -15.1 13.8a10.2 6.9 137 1 0 15.1 -13.8zM1450.6 2537.9a10.1 6.3 106 1 0 -5.6 19.4a10.1 6.3 106 1 0 5.6 -19.4zM1472.4 2415.9a8.4 7 78 1 0 3.4 16.5a8.4 7 78 1 0 -3.4 -16.5zM1476.8 2575.6a8.5 6.2 56 1 0 9.3 14.3a8.5 6.2 56 1 0 -9.3 -14.3zM1498 2619a10.1 6.4 160 1 0 -19 6.8a10.1 6.4 160 1 0 19 -6.8zM1512.6 2535.3a9.5 7.5 88 1 0 0.4 19a9.5 7.5 88 1 0 -0.4 -19zM1547.9 2496.2a8.8 7.2 94 1 0 -1.4 17.6a8.8 7.2 94 1 0 1.4 -17.6zM1546.7 2552.6a9.9 6.5 93 1 0 -1.4 19.8a9.9 6.5 93 1 0 1.4 -19.8zM1548.4 2480.7a8.6 6.4 65 1 0 7.1 15.6a8.6 6.4 65 1 0 -7.1 -15.6zM1555.6 2510.3a10.2 6.5 85 1 0 1.4 20.4a10.2 6.5 85 1 0 -1.4 -20.4zM1565.6 2628a10.1 7.4 49 1 0 13.1 15.4a10.1 7.4 49 1 0 -13.1 -15.4z" fill="#3a26d8"/><path d="M1299.9 2426.9a9.2 6.1 123 1 0 -10.3 15.2a9.2 6.1 123 1 0 10.3 -15.2zM1309.1 2507.2a9.4 6.2 144 1 0 -15.3 11a9.4 6.2 144 1 0 15.3 -11zM1302.4 2569.6a10.4 7.7 157 1 0 -19.2 8.1a10.4 7.7 157 1 0 19.2 -8.1zM1288.7 2622.4a9.6 7.5 38 1 0 15.1 11.9a9.6 7.5 38 1 0 -15.1 -11.9zM1333.3 2463.5a9.4 6.9 171 1 0 -18.7 2.8a9.4 6.9 171 1 0 18.7 -2.8zM1329.2 2499.1a9.6 7.9 116 1 0 -8.6 17.2a9.6 7.9 116 1 0 8.6 -17.2zM1329.6 2611.9a8.8 7.4 75 1 0 4.4 17a8.8 7.4 75 1 0 -4.4 -17zM1343.5 2434a8.1 7.5 38 1 0 12.6 10.2a8.1 7.5 38 1 0 -12.6 -10.2zM1344.7 2498.7a8.6 7.3 104 1 0 -4.3 16.6a8.6 7.3 104 1 0 4.3 -16.6zM1354.6 2533.6a10.3 7.6 165 1 0 -19.9 5.3a10.3 7.6 165 1 0 19.9 -5.3zM1361.1 2580.4a9 6 132 1 0 -12.2 13.3a9 6 132 1 0 12.2 -13.3zM1341.9 2606a9.8 6.9 11 1 0 19.1 4a9.8 6.9 11 1 0 -19.1 -4zM1381.4 2487.6a9.2 6.6 155 1 0 -16.7 7.5a9.2 6.6 155 1 0 16.7 -7.5zM1380.5 2522.3a8.8 6.2 82 1 0 2.4 17.4a8.8 6.2 82 1 0 -2.4 -17.4zM1380.2 2577.3a9.9 7.3 111 1 0 -7.4 18.4a9.9 7.3 111 1 0 7.4 -18.4zM1422.1 2462.3a9.4 7.5 150 1 0 -16.4 9.2a9.4 7.5 150 1 0 16.4 -9.2zM1395.8 2480.5a10.1 6.7 30 1 0 17.3 10.2a10.1 6.7 30 1 0 -17.3 -10.2zM1399.6 2599.3a8.1 6.9 100 1 0 -3.1 15.9a8.1 6.9 100 1 0 3.1 -15.9zM1420.7 2523.9a10.3 6.4 47 1 0 13.9 15.3a10.3 6.4 47 1 0 -13.9 -15.3zM1450.7 2582.8a8.3 7.9 175 1 0 -16.5 1.3a8.3 7.9 175 1 0 16.5 -1.3zM1426.7 2586.8a10.3 6.1 51 1 0 12.9 16a10.3 6.1 51 1 0 -12.9 -16zM1449.8 2458.7a9.7 6.6 100 1 0 -3.6 19a9.7 6.6 100 1 0 3.6 -19zM1470.5 2480.3a9.1 7.5 103 1 0 -4.1 17.6a9.1 7.5 103 1 0 4.1 -17.6zM1469.5 2493.4a9.9 6.7 167 1 0 -19.2 4.4a9.9 6.7 167 1 0 19.2 -4.4zM1463.1 2613.5a8 6.9 155 1 0 -14.7 6.6a8 6.9 155 1 0 14.7 -6.6zM1469 2484.8a8.6 6.8 9 1 0 17 2.9a8.6 6.8 9 1 0 -17 -2.9zM1483.1 2504.5a10.2 7.9 159 1 0 -19.2 7a10.2 7.9 159 1 0 19.2 -7zM1480.3 2546.4a8.1 7 4 1 0 16.1 1.3a8.1 7 4 1 0 -16.1 -1.3zM1478.3 2599.3a10.2 7.2 28 1 0 18 9.7a10.2 7.2 28 1 0 -18 -9.7zM1512.2 2428.4a8.5 7 6 1 0 16.8 1.9a8.5 7 6 1 0 -16.8 -1.9zM1510.5 2439.2a10 6.3 63 1 0 9.1 17.9a10 6.3 63 1 0 -9.1 -17.9zM1518 2488.2a9.6 7.7 91 1 0 -0.4 19.2a9.6 7.7 91 1 0 0.4 -19.2zM1512.3 2530.4a8 7.3 151 1 0 -14 7.7a8 7.3 151 1 0 14 -7.7zM1518.8 2570.7a10.4 6.4 171 1 0 -20.6 3a10.4 6.4 171 1 0 20.6 -3zM1498.2 2609.4a8 7.1 12 1 0 15.7 3.5a8 7.1 12 1 0 -15.7 -3.5zM1516.3 2621.6a9 6.6 59 1 0 9 15.6a9 6.6 59 1 0 -9 -15.6zM1527 2419.4a8.6 7.6 45 1 0 12.1 12.1a8.6 7.6 45 1 0 -12.1 -12.1zM1539.2 2461.6a8.8 7.5 23 1 0 16.1 7.1a8.8 7.5 23 1 0 -16.1 -7.1zM1547 2563.8a10 7.8 121 1 0 -10.5 16.9a10 7.8 121 1 0 10.5 -16.9zM1550.5 2614.1a10.4 6.1 121 1 0 -11 17.7a10.4 6.1 121 1 0 11 -17.7zM1556.6 2421.4a8.4 6.8 26 1 0 15 7.6a8.4 6.8 26 1 0 -15 -7.6zM1582.4 2552.8a10.4 7.9 172 1 0 -20.6 2.6a10.4 7.9 172 1 0 20.6 -2.6zM1574.1 2599.6a9.5 6.6 103 1 0 -4.5 18.5a9.5 6.6 103 1 0 4.5 -18.5z" fill="#4a30e8"/><path d="M1288.3 2526.1a8.5 8 61 1 0 8.1 15a8.5 8 61 1 0 -8.1 -15zM1300.3 2586.1a10.1 6.9 131 1 0 -13.5 15.1a10.1 6.9 131 1 0 13.5 -15.1zM1336.1 2418.1a9.3 6.6 95 1 0 -1.7 18.5a9.3 6.6 95 1 0 1.7 -18.5zM1326.2 2550.3a8.4 7.7 117 1 0 -7.7 14.9a8.4 7.7 117 1 0 7.7 -14.9zM1336.6 2585.7a8.4 6.8 142 1 0 -13.3 10.3a8.4 6.8 142 1 0 13.3 -10.3zM1342.3 2478.3a9.5 7.7 30 1 0 16.4 9.6a9.5 7.7 30 1 0 -16.4 -9.6zM1356 2545.9a9 7.7 143 1 0 -14.4 10.8a9 7.7 143 1 0 14.4 -10.8zM1384.6 2456.9a10.2 6.9 102 1 0 -4.3 19.9a10.2 6.9 102 1 0 4.3 -19.9zM1389 2494.2a8 7.8 126 1 0 -9.6 12.9a8 7.8 126 1 0 9.6 -12.9zM1370.8 2613.3a10 7.1 61 1 0 9.5 17.7a10 7.1 61 1 0 -9.5 -17.7zM1410.7 2617.3a9.7 8 112 1 0 -7.3 17.9a9.7 8 112 1 0 7.3 -17.9zM1446.9 2561.8a8.7 7 179 1 0 -17.4 0.1a8.7 7 179 1 0 17.4 -0.1zM1467.6 2570.6a9.8 6.1 136 1 0 -14.3 13.4a9.8 6.1 136 1 0 14.3 -13.4zM1452.1 2594a9.7 6.6 32 1 0 16.3 10.4a9.7 6.6 32 1 0 -16.3 -10.4zM1482.6 2528.5a8.8 7.3 98 1 0 -2.6 17.3a8.8 7.3 98 1 0 2.6 -17.3zM1513 2485.9a8 7.6 21 1 0 14.9 5.9a8 7.6 21 1 0 -14.9 -5.9zM1539.2 2487.4a10.1 7.3 13 1 0 19.6 4.7a10.1 7.3 13 1 0 -19.6 -4.7zM1523.7 2528a10.2 7.7 54 1 0 11.9 16.6a10.2 7.7 54 1 0 -11.9 -16.6zM1544.1 2590.8a10.2 6.1 88 1 0 0.6 20.5a10.2 6.1 88 1 0 -0.6 -20.5zM1550.8 2498.4a8.2 6.2 24 1 0 14.9 6.9a8.2 6.2 24 1 0 -14.9 -6.9zM1555.7 2581.5a8.1 7.6 21 1 0 15 5.9a8.1 7.6 21 1 0 -15 -5.9z" fill="#3020b8"/></g>
<g fill="none" stroke-linecap="round" style="mix-blend-mode:screen" filter="url(#fblur)"><path d="M1353.9 2410.8q2.9 6.1 0.8 12.6M1465.1 2499.9q-4.4 3.4 -9 6.5M1345.9 2470.1q5.2 10.6 8.7 21.8M1470.9 2536.6q-5.5 11.9 -5.1 25M1585.6 2531.8q-13.8 -4.5 -28.2 -6.4M1411.1 2581q1.8 5 6.6 7.1M1469.1 2639.7q-7.1 6.9 -16.4 10.4M1420.9 2537.5q0.1 5.3 1.5 10.5M1562.6 2507.8q-5.9 -1.8 -9.8 -6.7M1529.7 2523.9q-9.5 2.7 -19.4 2.9M1513.3 2629.5q-8.7 2.1 -17.5 0.7M1292.6 2452q-12.8 0.9 -21.1 10.7M1555.6 2515.6q-13.8 5.8 -25.9 14.5M1401.9 2413.8q2.9 14.6 9.2 28.1M1532.8 2593.4q-12.5 6 -26.3 6.9M1317 2504.4q-0.5 16.4 12 27M1528.7 2623.2q-9 1.7 -17.8 4.3M1583.6 2428.5q-6.9 -4.3 -14.9 -5.8M1299.7 2515.3q2.3 15.2 13.3 26M1593.9 2606.4q-7.6 -2.8 -15.3 -0.2M1481.5 2565.6q-3 3.2 -4.1 7.5M1425.7 2554.8q-4.4 13 3 24.6M1530.7 2548.4q-10.3 0.3 -19.7 4.3M1345.7 2630.2q1.1 6.3 6.3 10M1356.3 2434.8q-4.8 11.9 -16.3 17.4M1330.1 2465.9q-0.9 4.7 -3.5 8.7M1582.8 2504q-2.7 -7.4 -6.8 -14.2M1393.1 2467.8q-8.6 3.6 -15.2 10.1M1521.3 2538q-16.2 -3.5 -23.3 -18.4M1462.5 2423.2q-7.4 1.5 -14.5 4.3M1392.9 2607q13.5 0.9 23.9 9.6M1311.2 2471.3q-0.1 5.1 -3.2 9.1M1540.2 2571q-9.3 4.6 -11.7 14.7M1484 2626.3q-6.1 2.6 -12 5.8M1587.6 2550.6q-13.1 -0.2 -25.9 -2.9M1590.7 2447.6q-7.8 -2.3 -12.7 -8.8M1304.2 2542.5q4.7 1.5 7.1 5.7M1321.9 2635.8q1.5 4.2 0.5 8.6M1459.4 2608.6q3.9 12.2 -3.3 22.9M1426.9 2583.6q-3.3 3.6 -2.5 8.4M1298.6 2563.2q3.9 1.3 7.5 3.4M1453.2 2573.2q1 8.7 0.8 17.4M1386.4 2448.8q-1.2 15.6 -10.9 27.9M1361.5 2499.2q-3.3 11.6 -9.3 22.1M1464.7 2570.8q-3.1 8.3 -5.2 16.9M1403.5 2630.4q-12 -0.5 -20.9 7.5M1573.4 2579.1q-7.4 3.1 -12.2 9.5M1427.7 2514.4q-3.7 5.5 -7.8 10.8M1336.3 2595.3q5.2 -0.5 9.9 1.7M1541.2 2568.7q-10.6 5.7 -22.2 2.1M1475.1 2648.6q-11.6 0.6 -22.1 -4.1M1465.2 2440.6q-14.9 -1.1 -29.7 1.1M1505.9 2574.9q-3.8 8.9 -5.4 18.5M1529.7 2464q2.6 -9.4 5.8 -18.5M1420.6 2423.2q-2.1 6 -1.4 12.3M1307.5 2560.2q5 3.5 11.2 3.8M1344.2 2513.4q-5.8 12 -1.2 24.5M1368.7 2582.6q3.8 7.1 11.1 10.7M1376.3 2407.5q7 11.4 7.6 24.7M1412.1 2432q-11.2 9.1 -14.7 23M1352.8 2603.7q0.1 15.2 7.6 28.4M1453.9 2570.5q-0.8 7.6 2 14.7M1502.2 2511q-4.4 -1.2 -9 -1.8M1489.8 2586.6q-3.2 13.5 -3.1 27.3M1446.9 2567.2q3.7 7.4 1.7 15.5M1311.7 2415.1q0.9 6.1 0.5 12.3M1288.1 2550.3q3.8 3.4 7.3 7.1M1504.5 2418.7q-7.1 -0.7 -12.2 4.3M1493.2 2584.3q-4.5 9.5 -12.6 16.3M1276.6 2552.9q13.7 5.4 28.1 8.6M1546.9 2501.7q-1.2 -5.1 -5.8 -7.4M1592.4 2605.1q-9 1 -14.5 8.3M1309.3 2504.7q-1 12.1 2.7 23.6M1457.2 2490.7q-11.1 -9.6 -25.5 -12.4M1465.5 2604.2q-5.7 5.3 -7.9 12.8M1288.8 2530.2q7.3 9.7 11.3 21.2M1290 2601.4q6.6 -1.3 13.3 -1.9M1307.8 2588.9q1.8 15.8 13 27M1345.8 2482.5q-6.5 4.9 -7.7 13M1403.3 2491.6q-2.7 6.9 -3.4 14.3M1291.4 2576q8.2 11.5 21.6 15.9M1327.1 2480.3q-0.2 13.8 -8.8 24.6M1553.6 2594.9q-9.4 5.5 -19.8 9.1M1505.9 2436.4q-8.1 -2.6 -12 -10.2M1555.3 2478.8q4.7 -13.8 -0.7 -27.3M1469.2 2504.4q-13.7 5.9 -27.9 1.3M1387 2433.1q-0 6.2 -3 11.6M1459.7 2529.4q1 4.9 0.7 9.9M1331.8 2527.7q8.7 10.4 11.2 23.7M1295.9 2523.2q2.2 3.4 5.1 6.2M1588.4 2578.5q-6.1 9.2 -3.6 19.9M1521.2 2495.1q-3.6 -5.5 -3 -12M1545.6 2528.5q-6.7 0.7 -11.7 5.4M1468.4 2488q-4.7 -11.1 -15.9 -15.7M1441.4 2470.1q-8.8 -8.7 -20.7 -11.8M1496.1 2538.1q-12.1 5.3 -16.9 17.5M1542.3 2564.4q-6.6 0.6 -13.1 0.6M1518.1 2479.9q4.4 -13.3 -2.5 -25.4M1344.3 2440.1q-3.2 9.3 -4.4 19M1476.5 2579.1q-2.8 6 -4.3 12.3M1431.1 2522.1q0.5 13.9 -2.8 27.4M1470.6 2467.1q-7.4 -11 -20.6 -12M1537.4 2557.4q-9.7 2.9 -13.3 12.3M1279.4 2527.5q4.9 8.4 5 18.2M1338.1 2434.9q-9.1 13.7 -25.4 15.5M1459.8 2511.7q-13.7 -2.9 -27.1 1.4M1316.5 2608.8q7.6 7.2 13.3 16M1589.1 2574.6q-9.2 8.1 -16.3 18.1M1320.1 2457.7q-3.6 4.8 -7.8 9.1M1426.8 2419.4q-9.6 11.9 -23.1 18.9M1488.6 2582.6q-2.3 12.8 -7.5 24.8M1348.6 2587.9q3.2 10.8 12.7 16.8M1537.6 2551.9q-6.1 5.2 -13.1 9.1M1532.7 2638.3q-10.3 -7.4 -19.1 -16.5M1565.7 2646.8q-2.6 -3.9 -7.3 -4.2M1480.7 2587.1q-2.5 9.3 -8.9 16.6M1388.2 2582.1q3 7.4 10 11.1M1560.7 2640.6q-1.9 -4.5 -6 -7.2M1504.4 2465q0.4 -14.8 -5.9 -28.2M1303 2471.2q-4.7 9.2 -13.3 14.9M1342.4 2457q-3.9 6.6 -1.9 14M1298.7 2628.8q5.9 11.5 11.3 23.2M1550.8 2577.1q-4.5 -0.6 -8.2 2M1364.4 2580.4q5.7 6.5 12.3 12M1305.1 2575.9q10.9 1.5 21.8 0.1M1554.6 2417.1q-13 4.5 -26.5 1.8M1449.7 2572.7q10.1 12.2 7.7 27.9M1594.9 2617.8q-12.1 -0.6 -22.3 -7.1M1583.8 2627.2q-10.7 -0.3 -20.3 -5.1M1285.4 2609.9q2.8 4.9 1.2 10.3M1367.3 2632.4q-1.8 10.6 -9.3 18.3M1393.8 2475.6q-6.3 1.6 -10 7M1349.9 2522.7q8.6 7.1 18 13.2M1510.9 2448.5q-2.2 -10.9 -3 -22" stroke="#b00818" stroke-width="0.9" opacity="0.85"/><path d="M1588.5 2569.6q-8 -0.2 -14 5.2M1432.8 2497.1q-8.3 7.3 -18.1 12.6M1512 2460.7q-5.7 -13.6 -5.9 -28.4M1494.1 2555.3q-3 6.4 -2.2 13.4M1421 2525.6q-1.2 10.8 2.2 21.1M1435 2550.3q-1 9.3 -2.7 18.5M1433.3 2470.2q-9.9 1.2 -17 8.2M1549.2 2564.5q-4.9 4.2 -11.1 5.7M1521.1 2428.9q-8.2 -4.1 -17.2 -6.2M1495.9 2549.1q-7.8 11.5 -9.2 25.3M1576.6 2433.2q-7.4 -12.1 -21.4 -14.3M1520 2515.3q-15.3 -1.5 -24.2 -14M1347.5 2592.5q10.9 9.2 20.1 20.3M1290 2411.7q5.8 13.9 4.3 28.9M1477.4 2624.6q-9.2 5 -16.7 12.4M1340.7 2637.6q-0.2 4.3 -2.6 8M1369 2627.6q-0.6 8 5.2 13.6M1480 2466.1q-11.9 -5.1 -16.2 -17.2M1560.9 2575.3q-10.1 0.4 -19.3 4.4M1371.6 2498.4q-2.4 13.3 -7.7 25.7M1399.7 2621.8q-4.1 13.8 -1.1 28M1498 2435.3q-12 2 -23.3 -2.4M1372.1 2455.7q0.1 7 -2.1 13.6M1422.8 2528.4q3.2 14.6 2.5 29.6M1485.9 2572.1q-5.1 9.6 -12.7 17.4M1437.4 2580.5q-0.5 4.9 -1.4 9.7M1484.1 2646.4q-7.3 -2.2 -13.8 -6.3M1494.4 2539q-5.3 5.1 -5.6 12.4M1343.3 2444.2q-7.3 10.3 -4.7 22.7M1442.9 2478.2q-2.4 -3.7 -6.6 -5.2M1291.4 2468.8q0.4 4.2 -1.9 7.8M1387.2 2451.1q-5.7 2 -9.4 6.6M1447.3 2628.1q-5.5 7.6 -13.4 12.8M1372.1 2562.6q6.9 3.2 14.3 5.2M1504.4 2468.1q-2.5 -6.9 -5.9 -13.4M1304.2 2591.2q5.9 5.1 13.3 7.9M1527.1 2590.8q-3.7 6.4 -10.1 10M1534.3 2504.8q-5.1 -4.9 -5.1 -12.1M1339.1 2413.9q-1.8 13 -1.2 26.1M1417.1 2428.5q-4.7 3.5 -9.5 6.6M1377.4 2621.5q-5.6 10.5 -8.8 22.1M1564.9 2524.6q-7.2 -9 -16.9 -15.3M1561.1 2441.1q0.1 -9.5 -6.3 -16.5M1543.1 2490.5q5 -15.4 -2.3 -29.8M1370.7 2488.2q-4.6 5.1 -4.5 12M1366.5 2491.3q6.3 13.7 2.1 28.2M1527.7 2553.6q-6.9 13.8 -7 29.2M1329.9 2610.7q7.8 13 22.4 17.3M1405.1 2553.3q12.1 5.3 17.9 17.2M1540.8 2486.3q-3.4 -6.2 -5.1 -13.1M1554.2 2558.4q-3.6 2.7 -8.1 2.9M1584 2461.3q-1.8 -10.3 -2 -20.8M1395.2 2526.1q2.2 11.8 4.9 23.5M1556.1 2514.3q-7.1 -2.1 -12.5 -7.1M1351 2519.2q0.3 11 5.9 20.4M1504.8 2471.3q-1.8 -5.5 -4.3 -10.8M1464.9 2479.1q-13.4 -3.7 -26.8 -7.3M1347.6 2522.9q2.9 6.6 8.8 10.8M1453.1 2591.3q3.2 5.4 4.1 11.6M1316.9 2554.9q5.6 11.4 17.3 16.2M1398 2421.4q-2.6 14.9 -14.3 24.4M1543 2527.3q-9.9 -8.3 -22.8 -9.2M1322.9 2497.3q-3.8 6 -8.3 11.4M1483.6 2598.2q-2.8 6.1 -9.4 7.5M1418.2 2513.7q-2.2 8.6 -3.5 17.5M1362.8 2428.9q2.3 6 3.6 12.3M1590.3 2529q-15.8 -4 -22.6 -18.8M1365.1 2512.7q1.9 3.8 1.6 8M1576.9 2619.5q-3.8 -2.1 -8 -2.9M1570.9 2454.8q1.2 -10.1 1.4 -20.2M1318.3 2477.4q1.9 11.6 -6.1 20.2M1561.1 2449.6q-5.5 -7.1 -11.5 -13.8M1363.1 2608.9q3.6 10.1 11.5 17.2M1378.2 2619.8q0.9 7 -3.6 12.3M1384.2 2614.1q1.6 7.6 7.9 12.2M1384.2 2506.4q-3.6 14.5 3.2 27.7M1572.3 2451q-1.7 -11 -10.4 -18M1336.1 2543.7q7 7 5.9 16.8M1369.7 2468q-5.6 5.5 -10.6 11.6M1492.1 2467q-1.1 -11.2 -8.2 -20.1M1493 2491.2q-12.9 -5.9 -18.1 -19.1M1426.9 2473.3q-7.3 -2.7 -15.2 -2.4M1412.9 2496.1q-3.4 5.6 -9.1 8.8M1510.7 2459.2q-0.9 -5.6 -5.1 -9.4M1395.6 2552.3q4.7 6.3 6.9 13.8M1558.5 2586.1q-8.9 0.8 -17.5 3.4M1455.2 2493.1q-4.2 -2.8 -8.9 -4.4M1385 2488.8q-4.9 7.5 -12.2 12.5M1561.8 2576.6q-2.8 11.6 -2.6 23.5M1440.4 2599.2q-7.2 9 -11.2 19.8M1510.8 2589.9q-7.5 8.3 -9.5 19.3M1341.5 2460.5q-3.7 5.8 -5.5 12.3M1306.4 2620.8q6.7 12.9 19.3 20.2M1369.6 2571.6q3 5.1 7.6 8.7M1445.8 2548.2q-0.9 8.3 2.1 16.2M1446.4 2601q-2.8 13.2 -11.3 23.7M1326.9 2592.4q6.7 -0.9 12.5 -4.2M1497.6 2620.8q-13 -6.1 -26.7 -10.6M1586.4 2413.5q-10.8 -0.9 -21.4 1.5M1413.7 2562.8q2.8 8.5 9.8 14M1330.4 2604.1q8.3 8.2 19.9 9.6M1557.6 2494.5q0.8 -4.8 0.6 -9.6M1381.7 2497.6q-1.7 8 -2.7 16.1M1593.9 2597.5q-11.1 5.8 -21.3 13.1M1547.5 2559.1q-8.2 2.5 -11.7 10.3M1304.2 2635.8q1.9 4.2 1.1 8.7M1306.1 2528.4q7.4 5.1 15.3 9.6M1465.7 2608.1q-2 6.8 -7.3 11.6M1502.5 2456.8q-8.2 -5.4 -12.8 -14.1M1412.4 2585.2q4.6 3.5 4.8 9.2M1573.6 2642.1q-7.6 -4 -14.5 -9.1M1350.7 2551.2q5 5 9.9 10.2M1432.5 2574.4q-3.8 14.1 1.8 27.6M1452.3 2625.5q-6.9 1.3 -11.8 6.4M1340.2 2497.7q-1.5 4 -4 7.4M1376.6 2595q3.3 4.2 8.3 6.2M1556 2603.1q-3.4 3.9 -8.7 3.8M1459.6 2519.4q-2.7 13.5 -10.8 24.6M1514.8 2519.6q-4.4 -0.9 -8.8 -1.3M1426.1 2524.4q-1.7 10.6 1.5 20.7M1456.3 2493.5q-7.6 -0.2 -14.2 -3.8M1500 2564.4q1.7 8.4 -3.6 15.2M1524.9 2565.1q-7.9 7.6 -18.2 11.2M1291.1 2471.5q-3.9 7.6 -3 16M1362.6 2475.6q-4.1 7.9 -8.4 15.7M1305.3 2520.1q0.5 11.3 8.5 19.4M1467.6 2511.6q-6.9 11.4 -17.8 19.1M1367.5 2606.1q11.9 6.5 25.5 5.5M1483 2469.9q-4.6 -8.1 -13.3 -11.5M1338 2473q-1.2 7.4 -3.7 14.4M1465.7 2575.2q2.8 5.9 3 12.5M1369.9 2449q-12.5 6.8 -15.1 20.9M1367.9 2534.8q6.6 6.5 10.5 14.9M1519.5 2442.3q-10.2 -7.1 -22.3 -9.4M1341.2 2454.7q-4.4 3.7 -4.1 9.4M1520.9 2487.6q-3.1 -14.2 -12.7 -25.2M1355.8 2494q-3.6 2.3 -4.8 6.5M1353.2 2607.2q12.6 5.4 24.5 12.4M1463.2 2570.3q-2.9 6.7 -4.2 13.9M1466.6 2467.9q-6.2 -1.6 -9.8 -6.8M1586.8 2506.1q-11.3 -5.2 -18.6 -15.2M1580 2518.9q-3.4 -13.9 -8.2 -27.5M1598.8 2543.7q-14.2 -3.3 -26 5.3M1499.1 2547.7q-8.3 2 -16 5.7M1431.6 2619.2q-3.2 4.1 -4.4 9.1M1557.5 2468.1q1.3 -8.1 0.2 -16.2M1281.6 2573.4q2.4 3.6 6 6M1588.5 2527.8q-10.5 4.1 -18.5 12M1552.9 2621.9q-12.7 -1.4 -23.2 -8.6M1431.1 2585.5q-0.7 10.2 5.5 18.4M1295.9 2433.1q-3.8 8.1 -0.7 16.6M1316.3 2560.2q6.3 10 18.1 11.7M1362.9 2440.4q-3.4 3.7 -7 7.3M1324.9 2463.8q-1 5.3 -4.4 9.6M1318.7 2607.6q8.7 5.9 16.3 13.1M1449.5 2595q1 5.1 4.2 9.2M1332.8 2488.1q-6.2 10.5 -2.1 22M1430.2 2549.1q-0.4 12.6 3.3 24.6M1498.6 2443.5q-6.7 -0.2 -11.8 -4.5M1448.1 2582.8q-0.2 5.4 0 10.8M1353.9 2612.6q4.9 1.2 7.7 5.4M1366.1 2475.5q-0.9 4.7 -3.5 8.7M1513.6 2565.4q-13.1 7.8 -21.4 20.6M1513.9 2634.3q-7.6 -3.1 -14.8 1M1406.3 2552.3q7.2 4.1 12.1 10.7M1412.6 2500.9q-3.6 5 -3.9 11.1M1431.6 2501.9q-6.7 0.2 -12.1 4M1391 2562.4q0.4 6.5 4.5 11.4M1414.7 2612.9q-1.2 6.6 -4.6 12.5M1438.5 2610.4q-3.2 6.8 -6.5 13.6M1285.7 2513.5q7.4 7.2 8.1 17.4M1365.5 2449q-2.3 7.4 -7.2 13.5M1391.4 2411.3q1.2 5 2.3 10.1M1345.3 2426.2q-1.8 7.8 -9.2 11.1M1354.5 2476.1q-7 4.1 -14.9 2.7M1430 2644q-12.2 -4.2 -24.1 0.8M1543.8 2562q-5.3 3.6 -9.7 8.3M1349.6 2499.3q-0.2 13.1 -0.9 26.2M1511 2473.4q-2.9 -8.2 0.4 -16.3M1320 2419.8q4.9 6.5 6.4 14.6M1309.3 2621.3q-1.9 10.2 -0.8 20.5M1299.1 2421.5q-2.7 13.3 -9.4 25M1442.3 2592.5q-1.4 15 0.3 30M1499 2459.9q-7.1 -3.8 -8.3 -11.8M1594.4 2633.9q-14.8 -4 -25.4 -15.1M1323.4 2426.8q2.9 7.8 0.8 15.8M1297.6 2593.5q11.7 7.1 25.2 5.4M1360.3 2590.5q7 10 7.3 22.1M1479.9 2459.1q-2.5 -11.2 -9.3 -20.4M1416.5 2473.4q-10.8 -0.4 -21 -3.8M1357.9 2593.6q8.4 12.5 19.7 22.4M1558.5 2521.9q-5 -9.6 -7.9 -20.1M1531.2 2581.3q-12.7 2.7 -24.1 8.9M1458.2 2481.5q-9.4 5 -19.2 0.9M1521.2 2465.6q-2.3 -7.1 0.8 -13.9M1461.7 2513.9q-7.5 8.4 -15.7 16.1M1595.8 2568.8q-7.6 11 -20.1 15.7M1344.9 2573.5q8.6 12.1 23.2 14.2M1433.6 2542.4q-1.7 4.4 -2.3 9M1350 2579q11.7 0.6 22.4 5.4M1480.3 2625.3q-8.8 3.9 -17.9 7M1459.8 2531.3q-1.1 11.7 -1.4 23.5M1555.6 2561.8q-4.7 -0.7 -8.5 2.1M1399.3 2421.3q-4.4 9.5 -10.3 18.2M1286.7 2465.7q-5.1 2.9 -9.4 6.9M1304 2497.9q4.3 10.7 -0.9 20.9M1549 2609q-3.5 13.9 -15.8 21.4M1320.8 2569.1q11 3.5 22.4 1.3M1299.9 2519.1q3.7 11.3 4.9 23.2M1519.3 2648.5q-4.8 -2.2 -10 -3.2M1567.9 2455.5q-4.7 -10.4 -10.1 -20.4M1510.3 2630.8q-8.1 -3.2 -16.8 -4M1498 2533.6q-12 1.6 -23.5 -2.4M1405.1 2639.4q-6.8 7.6 -13.9 14.8M1465.8 2418.2q-6.7 1 -10.3 6.8M1450.7 2430.6q-13.3 2.6 -26.6 5.1M1386.3 2494q-10.2 3.8 -16.6 12.6M1539.9 2620.3q-4.9 2.4 -9.9 0.1M1280.2 2559.9q7 3.5 13.3 8.2M1282.6 2547.1q8.8 3.6 15.3 10.6M1345.7 2574.3q12.6 -1.4 23 5.8M1289.6 2600.8q13.8 6 24.4 16.7M1544.3 2654.4q-2 -12 -12.3 -18.5M1569.9 2430.9q-7.6 -10 -19.8 -12.7M1398.3 2486.4q-4.4 12.3 -13.3 21.9M1442.3 2428q-7.2 8.4 -17.7 11.8M1532.7 2627.6q-11.3 0.6 -20.5 -5.9M1353.1 2564.7q10.4 0.2 20.2 -3.3M1420.3 2534.7q3 7.8 6.5 15.4M1446.2 2420.7q-10.9 3.6 -22.4 4.5M1553.7 2527.9q-13.4 -7.6 -27.6 -1.7" stroke="#e81424" stroke-width="1.2" opacity="0.9"/><path d="M1319 2535.3q6.2 0.4 10.1 5.3M1483.3 2587.8q-1.6 10 -9.7 16.3M1287.7 2411.5q0.3 6.1 -0.4 12.2M1570.7 2502.4q2.6 -10.6 -0.9 -21M1321.6 2550.8q7.6 6 14.2 13.1M1323.7 2619.3q7.7 3.4 10.2 11.4M1417.8 2577.3q7.5 9.3 13.4 19.7M1342.4 2517.6q1.6 6.9 0.3 13.8M1562.2 2532.5q-13.8 -2.4 -27.9 -1.5M1535.4 2524.9q-5 -0.9 -9.9 -2M1509.5 2632.3q-7.7 1.4 -15.3 -0.8M1404 2588.1q6.9 5.7 6.7 14.6M1328.1 2562.7q11.7 -0.1 22.8 3.8M1454 2523.7q-6.5 7.7 -14.1 14.4M1463 2447.2q-8.6 -4.5 -17.1 -9.1M1550.5 2482q3.5 -12.7 -2.6 -24.4M1299.3 2470.3q-8.8 11.6 -15 24.7M1371 2548.5q13.1 5.1 26.1 10.3M1288.3 2540.5q5.8 2.8 11 6.7M1427.6 2449.5q-11 3.8 -22.6 4.8M1440.8 2540.7q1 9.4 0.6 18.8M1585.5 2474.4q-10.5 -9.4 -9.8 -23.4M1475.6 2538.5q-3.7 9.7 -12.8 14.5M1411.8 2475q-4.2 0.7 -8.1 2.5M1522.7 2528.4q-3.3 -4.5 -7.5 -8.2M1397.6 2539.8q5.7 4.2 10.4 9.5M1489.6 2502.5q-6.7 -4.5 -14.7 -4.6M1300.4 2625.6q-0.6 4.2 0.5 8.3M1470 2507.5q-11.6 -5.4 -24.4 -4.5M1598.8 2415.3q-16.2 -2.9 -28.9 7.5M1474 2611.7q-3.4 4.6 -8.3 7.5M1314.7 2545.5q11.2 4.7 23.3 6.2M1345.6 2588.2q8.6 -0.7 17 1.4M1413.4 2609.9q1.2 9 0.8 18.1M1363.2 2513q0.8 4.8 2.8 9.2M1375.9 2462.4q-8.8 7.9 -20.7 7.6M1354.9 2567.8q10.2 9.2 22.6 15.1M1440.1 2573.4q1.5 14 8.7 25.9M1502.3 2442.4q-9.8 -2.5 -14.3 -11.5M1337.9 2462.9q-3.2 2.7 -7 4.4M1580.9 2566q-10.8 3.7 -19.4 11.3M1293.1 2561.4q6.3 4.7 12.1 10.1M1506.3 2445q-8.9 -10.5 -22 -14.5M1307.2 2436.5q-9.9 10.5 -19 21.5M1475.6 2539.4q1.5 12.8 -2.1 25.2M1582.2 2445.8q-1.7 -8.7 -0.7 -17.4M1569.4 2423.3q-4.4 -1.1 -8.5 -3M1421.6 2524.5q0.7 15.1 6.6 29M1428.1 2442.5q-8.9 5.8 -18.3 10.7M1530.9 2528.6q-6.4 -3.8 -13.4 -6.3M1595.6 2539.9q-11.1 -0.8 -18.7 7.3M1316.1 2612.8q9.7 8.9 17.4 19.6M1514.3 2533.2q-12.6 0.3 -25 -1.7M1308.1 2456.9q-4.2 2.2 -5.1 6.8M1413 2561.1q7.3 10.9 16.1 20.7M1381.6 2517.6q-0.6 13.1 4 25.4M1507.4 2466.8q-2.6 -4.9 -3.2 -10.4M1473.1 2428.1q-11.9 -0.2 -23.3 3.2M1465 2579.1q-6.8 5.1 -7.6 13.6M1276.7 2557.7q10.3 -0.8 20.3 1.4M1546.9 2556.1q-5.8 6.3 -14.3 7.9M1548.8 2544q-5 8.9 -12 16.3M1378.4 2555.7q1.8 4.5 4.6 8.5M1391.4 2450.6q-1.9 9.7 -10.3 15M1325.3 2482.6q-4.1 10.4 -8.5 20.7M1561.9 2526q-6.4 -5.4 -8.7 -13.5M1532.8 2485.1q-6.1 -11.1 -18.5 -14.1M1492.4 2533.9q-7 3.4 -14.1 0.5M1310.9 2468.7q-12.9 2.5 -21.1 12.6M1425.5 2438.8q-6.2 -2.3 -12.3 0.4M1457.1 2486.7q-7.6 -1.8 -15.4 -0.8M1410.2 2611.1q-4.1 10.7 -0.5 21.5M1462.9 2497.9q-11.8 1.4 -21.2 -5.9M1542.7 2640.6q-8.3 -2.6 -12.6 -10.2M1517.3 2468.3q3.4 -12.7 -4.1 -23.4M1391.8 2586.9q6.7 3 13.8 4.9M1330 2590.9q9.5 9.9 20.1 18.6M1559.7 2649.6q-3.3 -7.5 -3.3 -15.7M1554.9 2542.6q-6.3 8.2 -16.7 8.3M1572.1 2510.8q-0.6 -11.3 -2.9 -22.4M1462 2410.7q-4.4 6.3 -11.8 8.4M1469.8 2410.5q-10.1 10.7 -24.8 12.2M1491 2436.8q-12.6 -2.3 -21.4 -11.5M1515.7 2545.7q-10.9 7.2 -13.3 19.9M1397.1 2573.6q7 6.6 13.1 14" stroke="#ff2838" stroke-width="1.7" opacity="0.9"/></g>
<path d="M1347.1 2492.3a4.7 4.7 0 1 0 0.1 0zM1469.6 2534.8a4.7 4.7 0 1 0 0.1 0zM1449.5 2549.4a4.3 4.3 0 1 0 0.1 0zM1519.6 2502.1a5.9 5.9 0 1 0 0.1 0zM1521.5 2502.6a3.9 3.9 0 1 0 0.1 0zM1344.1 2426.6a4.6 4.6 0 1 0 0.1 0z" fill="#ff3070" opacity="0.7" filter="url(#nblur)" style="mix-blend-mode:screen"/>
</g>
<g clip-path="url(#c18)">
<rect x="1588.5" y="2422.8" width="286.9" height="214.2" fill="#050002"/>
<g filter="url(#hblur)"><rect x="1540.2" y="2368.8" width="48.8" height="54.5" fill="#1e0104"/><rect x="1588" y="2368.8" width="48.8" height="54.5" fill="#1e0104"/><rect x="1635.8" y="2368.8" width="48.8" height="54.5" fill="#180003"/><rect x="1683.6" y="2368.8" width="48.8" height="54.5" fill="#180003"/><rect x="1731.5" y="2368.8" width="48.8" height="54.5" fill="#1e0104"/><rect x="1779.3" y="2368.8" width="48.8" height="54.5" fill="#180003"/><rect x="1827.1" y="2368.8" width="48.8" height="54.5" fill="#180003"/><rect x="1874.9" y="2368.8" width="48.8" height="54.5" fill="#180003"/><rect x="1540.2" y="2422.3" width="48.8" height="54.5" fill="#1e0104"/><rect x="1588" y="2422.3" width="48.8" height="54.5" fill="#1e0104"/><rect x="1635.8" y="2422.3" width="48.8" height="54.5" fill="#180003"/><rect x="1683.6" y="2422.3" width="48.8" height="54.5" fill="#180003"/><rect x="1731.5" y="2422.3" width="48.8" height="54.5" fill="#1e0104"/><rect x="1779.3" y="2422.3" width="48.8" height="54.5" fill="#180003"/><rect x="1827.1" y="2422.3" width="48.8" height="54.5" fill="#180003"/><rect x="1874.9" y="2422.3" width="48.8" height="54.5" fill="#180003"/><rect x="1540.2" y="2475.9" width="48.8" height="54.5" fill="#180003"/><rect x="1588" y="2475.9" width="48.8" height="54.5" fill="#180003"/><rect x="1635.8" y="2475.9" width="48.8" height="54.5" fill="#240105"/><rect x="1683.6" y="2475.9" width="48.8" height="54.5" fill="#180003"/><rect x="1731.5" y="2475.9" width="48.8" height="54.5" fill="#180003"/><rect x="1779.3" y="2475.9" width="48.8" height="54.5" fill="#240105"/><rect x="1827.1" y="2475.9" width="48.8" height="54.5" fill="#180003"/><rect x="1874.9" y="2475.9" width="48.8" height="54.5" fill="#180003"/><rect x="1540.2" y="2529.4" width="48.8" height="54.5" fill="#180003"/><rect x="1588" y="2529.4" width="48.8" height="54.5" fill="#180003"/><rect x="1635.8" y="2529.4" width="48.8" height="54.5" fill="#1e0104"/><rect x="1683.6" y="2529.4" width="48.8" height="54.5" fill="#240105"/><rect x="1731.5" y="2529.4" width="48.8" height="54.5" fill="#180003"/><rect x="1779.3" y="2529.4" width="48.8" height="54.5" fill="#180003"/><rect x="1827.1" y="2529.4" width="48.8" height="54.5" fill="#1e0104"/><rect x="1874.9" y="2529.4" width="48.8" height="54.5" fill="#1e0104"/><rect x="1540.2" y="2583" width="48.8" height="54.5" fill="#240105"/><rect x="1588" y="2583" width="48.8" height="54.5" fill="#240105"/><rect x="1635.8" y="2583" width="48.8" height="54.5" fill="#1e0104"/><rect x="1683.6" y="2583" width="48.8" height="54.5" fill="#180003"/><rect x="1731.5" y="2583" width="48.8" height="54.5" fill="#1e0104"/><rect x="1779.3" y="2583" width="48.8" height="54.5" fill="#180003"/><rect x="1827.1" y="2583" width="48.8" height="54.5" fill="#180003"/><rect x="1874.9" y="2583" width="48.8" height="54.5" fill="#180003"/><rect x="1540.2" y="2636.5" width="48.8" height="54.5" fill="#240105"/><rect x="1588" y="2636.5" width="48.8" height="54.5" fill="#240105"/><rect x="1635.8" y="2636.5" width="48.8" height="54.5" fill="#1e0104"/><rect x="1683.6" y="2636.5" width="48.8" height="54.5" fill="#180003"/><rect x="1731.5" y="2636.5" width="48.8" height="54.5" fill="#1e0104"/><rect x="1779.3" y="2636.5" width="48.8" height="54.5" fill="#180003"/><rect x="1827.1" y="2636.5" width="48.8" height="54.5" fill="#180003"/><rect x="1874.9" y="2636.5" width="48.8" height="54.5" fill="#180003"/></g>
<path d="M1701.5 2588a16.5 11.4 0 1 0 0.1 0zM1814.1 2490.7a16.8 7.5 0 1 0 0.1 0zM1739.6 2582.3a10.6 12 0 1 0 0.1 0zM1621 2575.2a17.5 12.2 0 1 0 0.1 0zM1781.3 2453.8a12.6 10.7 0 1 0 0.1 0zM1846.4 2629.1a15.1 9.1 0 1 0 0.1 0zM1870.3 2445.8a8.6 11 0 1 0 0.1 0zM1682.1 2527.3a8.2 8.9 0 1 0 0.1 0zM1851.4 2614.9a18.9 7 0 1 0 0.1 0zM1809.9 2547.9a16.1 6 0 1 0 0.1 0zM1843.4 2467.1a12.8 6.2 0 1 0 0.1 0zM1674.5 2474.5a13.8 6.3 0 1 0 0.1 0zM1649 2557.2a11.5 13.2 0 1 0 0.1 0zM1593.7 2622.5a16.9 9.6 0 1 0 0.1 0zM1785.2 2627.9a17.7 10.7 0 1 0 0.1 0zM1728 2438.8a16.8 10.4 0 1 0 0.1 0zM1669.1 2500.6a19.6 10.1 0 1 0 0.1 0zM1687.9 2450.1a17 7.9 0 1 0 0.1 0zM1778.3 2623.6a13.9 11.7 0 1 0 0.1 0zM1776.5 2443.4a11.5 12.3 0 1 0 0.1 0zM1697.2 2530.5a8.4 10.8 0 1 0 0.1 0zM1667.4 2605.9a10.9 13.7 0 1 0 0.1 0zM1712.2 2554.2a18.4 12 0 1 0 0.1 0zM1622.4 2467.6a13.7 11.8 0 1 0 0.1 0zM1790.2 2584.6a9 10.4 0 1 0 0.1 0zM1596.4 2563.4a8.3 10.3 0 1 0 0.1 0zM1718.1 2442.3a16.1 12 0 1 0 0.1 0zM1823.6 2626.2a18.3 12.7 0 1 0 0.1 0zM1588.7 2449.7a11.4 11.3 0 1 0 0.1 0zM1640.2 2556.1a10 12.2 0 1 0 0.1 0zM1664 2589.9a16.2 13 0 1 0 0.1 0zM1663.1 2553.9a19.6 10.3 0 1 0 0.1 0zM1689.4 2441.6a9.5 11.2 0 1 0 0.1 0zM1753.1 2436.6a14.1 9 0 1 0 0.1 0zM1723.7 2517.6a19.8 12.1 0 1 0 0.1 0zM1703.2 2432.9a19.6 7.2 0 1 0 0.1 0zM1837.8 2529a8.7 10.4 0 1 0 0.1 0zM1828.9 2433.4a13.8 9.5 0 1 0 0.1 0zM1664.8 2479.2a18.6 7 0 1 0 0.1 0zM1817 2587.7a16.6 10.5 0 1 0 0.1 0z" fill="#000" opacity="0.8" filter="url(#dblur)"/>
<path d="" fill="#d01020" opacity="0.55" filter="url(#dblur)" style="mix-blend-mode:screen"/>
<g filter="url(#nblur)" opacity="0.85"><path d="M1596.7 2561.3a9.6 6.6 38 1 0 15 12a9.6 6.6 38 1 0 -15 -12zM1595 2621.7a9.7 6.8 69 1 0 6.9 18.2a9.7 6.8 69 1 0 -6.9 -18.2zM1632.7 2546.8a8.4 6.5 6 1 0 16.7 1.9a8.4 6.5 6 1 0 -16.7 -1.9zM1658.8 2436.8a9.6 6.7 115 1 0 -8.3 17.3a9.6 6.7 115 1 0 8.3 -17.3zM1660.9 2477.6a8.5 7.9 179 1 0 -17 0.3a8.5 7.9 179 1 0 17 -0.3zM1639 2564.1a8.5 6.1 2 1 0 17 0.9a8.5 6.1 2 1 0 -17 -0.9zM1663.6 2599.6a10.4 6.2 31 1 0 17.6 11a10.4 6.2 31 1 0 -17.6 -11zM1685.9 2425.3a8.3 7.9 26 1 0 14.8 7.4a8.3 7.9 26 1 0 -14.8 -7.4zM1704.7 2571.7a9.1 7.8 138 1 0 -13.5 12.2a9.1 7.8 138 1 0 13.5 -12.2zM1721.8 2442.8a9 6.3 15 1 0 17.3 4.7a9 6.3 15 1 0 -17.3 -4.7zM1733 2456a8.2 7.4 115 1 0 -7.1 14.9a8.2 7.4 115 1 0 7.1 -14.9zM1712.3 2508a8.5 7.3 45 1 0 11.9 12.1a8.5 7.3 45 1 0 -11.9 -12.1zM1752.3 2505.2a10.2 6 51 1 0 12.7 16a10.2 6 51 1 0 -12.7 -16zM1739.6 2568.8a8.9 6.1 34 1 0 14.6 10a8.9 6.1 34 1 0 -14.6 -10zM1744.4 2617.7a9.5 8 87 1 0 0.8 19a9.5 8 87 1 0 -0.8 -19zM1789.1 2554.2a9.2 7.8 133 1 0 -12.6 13.3a9.2 7.8 133 1 0 12.6 -13.3zM1775 2629.5a8.7 6.5 173 1 0 -17.3 2a8.7 6.5 173 1 0 17.3 -2zM1794.8 2466.7a9.6 7.9 14 1 0 18.6 4.6a9.6 7.9 14 1 0 -18.6 -4.6zM1817.4 2523.3a8.5 8 154 1 0 -15.4 7.5a8.5 8 154 1 0 15.4 -7.5zM1837 2531.7a9.1 6.8 103 1 0 -4.4 17.7a9.1 6.8 103 1 0 4.4 -17.7zM1859 2554.2a9.4 7 125 1 0 -10.9 15.3a9.4 7 125 1 0 10.9 -15.3zM1870.1 2621.5a9.7 7.2 91 1 0 -0.6 19.4a9.7 7.2 91 1 0 0.6 -19.4z" fill="#3a26d8"/><path d="M1619.1 2442.7a9.1 6.4 168 1 0 -17.8 3.5a9.1 6.4 168 1 0 17.8 -3.5zM1599.8 2489.9a10.1 6.2 41 1 0 15.1 13.5a10.1 6.2 41 1 0 -15.1 -13.5zM1615.4 2544.1a8 7.4 112 1 0 -6.3 14.8a8 7.4 112 1 0 6.3 -14.8zM1593.5 2595.5a8.5 6.1 49 1 0 11 12.9a8.5 6.1 49 1 0 -11 -12.9zM1620.7 2463.7a8.2 6.5 79 1 0 3 16.1a8.2 6.5 79 1 0 -3 -16.1zM1626.4 2559.3a9.2 7.7 97 1 0 -2.3 18.2a9.2 7.7 97 1 0 2.3 -18.2zM1621.9 2623.5a10.4 7.5 21 1 0 19.3 7.6a10.4 7.5 21 1 0 -19.3 -7.6zM1653.3 2448a9.7 6.7 74 1 0 5.2 18.8a9.7 6.7 74 1 0 -5.2 -18.8zM1641.5 2516.8a10.3 7.6 45 1 0 14.5 14.5a10.3 7.6 45 1 0 -14.5 -14.5zM1669.3 2541.6a9.9 6.4 173 1 0 -19.7 2.1a9.9 6.4 173 1 0 19.7 -2.1zM1661.9 2616.3a10 7.8 151 1 0 -17.6 9.6a10 7.8 151 1 0 17.6 -9.6zM1696.2 2481.6a8.3 7.8 105 1 0 -4.5 16.1a8.3 7.8 105 1 0 4.5 -16.1zM1684.2 2538.3a9.4 6 86 1 0 1.1 18.9a9.4 6 86 1 0 -1.1 -18.9zM1692.9 2598.8a9.8 6 159 1 0 -18.4 6.8a9.8 6 159 1 0 18.4 -6.8zM1712.1 2533.3a8.9 8 47 1 0 12.1 13a8.9 8 47 1 0 -12.1 -13zM1703.5 2590.1a9 7.7 73 1 0 5.1 17.2a9 7.7 73 1 0 -5.1 -17.2zM1727.5 2618.3a9 6.1 167 1 0 -17.5 3.8a9 6.1 167 1 0 17.5 -3.8zM1731.7 2458.3a8.5 6.1 25 1 0 15.3 7.2a8.5 6.1 25 1 0 -15.3 -7.2zM1768.9 2479a10.3 7.6 173 1 0 -20.5 2.3a10.3 7.6 173 1 0 20.5 -2.3zM1737.1 2584.3a8.5 6.1 11 1 0 16.5 3.5a8.5 6.1 11 1 0 -16.5 -3.5zM1774.4 2426.6a8.8 7.4 112 1 0 -6.6 16.3a8.8 7.4 112 1 0 6.6 -16.3zM1776.6 2504.7a10.2 7.1 124 1 0 -11.4 16.8a10.2 7.1 124 1 0 11.4 -16.8zM1792.2 2541.7a10.1 6.7 174 1 0 -20 1.8a10.1 6.7 174 1 0 20 -1.8zM1790.4 2562.5a10.3 7.2 64 1 0 9 18.5a10.3 7.2 64 1 0 -9 -18.5zM1803.3 2579.9a10.4 6.6 111 1 0 -7.5 19.5a10.4 6.6 111 1 0 7.5 -19.5zM1803.8 2604.7a9 7.8 64 1 0 7.7 16.2a9 7.8 64 1 0 -7.7 -16.2zM1837.1 2430.7a10.4 6.1 99 1 0 -3.3 20.5a10.4 6.1 99 1 0 3.3 -20.5zM1840.7 2457.2a10.4 7 133 1 0 -14.3 15.1a10.4 7 133 1 0 14.3 -15.1zM1829 2471.3a10 6.5 134 1 0 -14.1 14.2a10 6.5 134 1 0 14.1 -14.2zM1824.2 2591.8a9.1 6.4 24 1 0 16.4 7.6a9.1 6.4 24 1 0 -16.4 -7.6zM1823.9 2607a10.3 6.5 83 1 0 2.2 20.5a10.3 6.5 83 1 0 -2.2 -20.5zM1871.4 2599.6a8.3 6.5 150 1 0 -14.4 8.1a8.3 6.5 150 1 0 14.4 -8.1z" fill="#4a30e8"/><path d="M1595.3 2453.4a10.1 7.1 49 1 0 13.1 15.5a10.1 7.1 49 1 0 -13.1 -15.5zM1632.4 2435.2a10.2 7.3 24 1 0 18.6 8.5a10.2 7.3 24 1 0 -18.6 -8.5zM1639.2 2487a9.5 6.8 79 1 0 3.6 18.7a9.5 6.8 79 1 0 -3.6 -18.7zM1634 2506.4a8.3 7 23 1 0 15.2 6.6a8.3 7 23 1 0 -15.2 -6.6zM1638 2584.9a8.6 7.6 134 1 0 -12 12.4a8.6 7.6 134 1 0 12 -12.4zM1693 2514.8a8.9 7.7 56 1 0 10 14.9a8.9 7.7 56 1 0 -10 -14.9zM1685.9 2630.2a9.6 7.6 33 1 0 16 10.6a9.6 7.6 33 1 0 -16 -10.6zM1709.5 2494.1a9 6.2 6 1 0 17.9 2a9 6.2 6 1 0 -17.9 -2zM1771.5 2464a8.5 6.8 65 1 0 7.1 15.5a8.5 6.8 65 1 0 -7.1 -15.5zM1780.3 2474.3a8.8 7.7 122 1 0 -9.5 14.8a8.8 7.7 122 1 0 9.5 -14.8zM1769.5 2581.6a8.7 7.5 62 1 0 8.2 15.4a8.7 7.5 62 1 0 -8.2 -15.4zM1792 2421.1a8.6 7.2 89 1 0 0.2 17.2a8.6 7.2 89 1 0 -0.2 -17.2zM1792.6 2497.7a8.1 6.9 17 1 0 15.4 4.9a8.1 6.9 17 1 0 -15.4 -4.9zM1813.7 2544.8a8 8 177 1 0 -16.1 0.6a8 8 177 1 0 16.1 -0.6zM1845.8 2513.9a8.8 6.3 170 1 0 -17.4 2.9a8.8 6.3 170 1 0 17.4 -2.9zM1827.7 2554.3a9 7.3 89 1 0 0.2 18.1a9 7.3 89 1 0 -0.2 -18.1zM1851.8 2436a8.7 6.3 112 1 0 -6.8 16a8.7 6.3 112 1 0 6.8 -16zM1854.7 2497.7a8.3 6.9 11 1 0 16.2 3.3a8.3 6.9 11 1 0 -16.2 -3.3z" fill="#3020b8"/></g>
<g fill="none" stroke-linecap="round" style="mix-blend-mode:screen" filter="url(#fblur)"><path d="M1816.6 2508.5q-4.7 8.9 -8 18.4M1724.2 2516.7q8 7.8 19 7M1731.3 2460.8q6.3 3.4 13.4 4.8M1616.3 2416.2q-0.7 7.1 -2.2 14.1M1630.2 2628.1q3.7 4.7 9.6 6M1739.1 2617.2q6.1 -8.1 13.4 -15M1689.4 2513.3q6.6 -2.1 13.5 -0.8M1614.9 2495q-5 5.9 -11.7 9.9M1791.6 2486.7q3.7 9.9 7 19.9M1699.1 2482.7q4.5 5 7.8 10.9M1837.7 2520q-1.9 8.4 -9.5 12.5M1781.7 2595.5q4.8 -2.2 9.7 -0.1M1657.1 2435.6q5.3 4.1 7.3 10.5M1843.2 2608.4q2.6 5 6.3 9.3M1815.3 2413.4q4.5 1.4 6.5 5.6M1602.4 2408.3q-2 9.5 1.1 18.7M1695.6 2600.5q11.6 -1.9 19 -10.9M1625.3 2431.9q-3.1 7.3 -6.4 14.5M1831.2 2509.3q-2.2 6.4 -6.9 11.2M1668.2 2504.5q0.6 4.4 -1.1 8.4M1848.5 2545.8q1 8 -3.1 14.8M1585.2 2482.6q-1.7 6.8 -5.9 12.4M1709.7 2551.1q5.9 -6.1 14.2 -7.8M1623.3 2507.5q-3 8.7 -5.8 17.5M1788.8 2515.1q3.8 3.7 7 7.9M1693.8 2562.1q8.3 -2.8 16.3 0.9M1840 2427.4q-1.6 10.6 -3.2 21.2M1878.2 2501.4q-6.5 1.3 -9.5 7.3M1842.7 2529.8q-5 7.9 -6.6 17.1M1750.4 2648.4q-0.6 -4.4 -0.5 -8.9M1885.3 2544.6q-5.9 10.4 -1.5 21.6M1751.4 2599.1q-0.2 -8.3 4.9 -14.7M1602 2540.9q-3 4.4 -4.9 9.4M1588.5 2561.3q-3.4 3.6 -2.8 8.5M1756.2 2630.6q5.3 -9.4 5.5 -20.2M1880.3 2517.4q-1.5 5.7 -3.8 11.2M1883.7 2420.2q-1.2 4.7 -0.7 9.5M1730.7 2435.9q7.6 -2.8 10.7 -10.2M1799.5 2635.7q7 -2.6 14 -5.1M1870.2 2512.1q1.4 4.6 -0.6 8.9M1790.3 2525.8q4.5 0.5 7.5 3.9M1778.4 2534.7q5.7 1.8 8.1 7.3M1609.5 2627.8q6.8 3.6 9.5 10.8M1685.2 2649.9q2.6 -6.2 8.9 -8.3M1712 2473.6q5.9 3.1 12.3 4.7M1744.6 2610.4q6.4 -2.7 10.7 -8.2M1853.1 2500.6q-3.6 6.7 -10.9 9M1875.6 2636.4q1.2 5.8 4.6 10.7M1816.2 2631.4q8.6 2.8 17.2 5.6M1829.5 2559.6q-1 5.7 1.5 10.8M1864.9 2596.1q0.8 5.8 2.9 11.3M1576.7 2552.6q5.7 3.7 8.5 10M1798.9 2438.1q-0.5 4.4 2.6 7.6M1828 2636.6q6.5 -1.3 13.1 -2.6M1836.3 2425.7q-4.3 9.6 -7.4 19.7M1586.8 2478.9q-6.2 5.8 -10.4 13.3M1771.7 2431.1q4.4 -3.5 10.1 -3M1673.4 2581.4q4.7 3.5 10.4 2.7M1762.2 2497.6q6.1 -1 10.8 3.1M1621.1 2461.1q-4.6 6.7 -5.8 14.7M1814 2550.8q2.8 5.7 0.6 11.6M1818.8 2614.6q7.9 8.9 19.7 8.8M1623.2 2618.8q9.6 3.8 17.8 9.9M1826.3 2574.7q2.6 5.6 7.4 9.5M1597.7 2617.8q5.9 3.4 7.5 10.1M1868.4 2546.7q1.6 5.7 -0.4 11.3M1812.5 2523.6q-1 6.9 -1.2 13.8M1851.7 2511.8q-3 5.9 -9.2 8M1844.3 2593.4q1.8 6.1 7.4 9.2M1619.5 2417q-0.1 4.5 2.5 8.3M1588.2 2620.3q2.7 5.1 6.1 9.8M1676.6 2541.1q5.4 3.4 9.3 8.4M1681.4 2450.5q5.1 5.6 8.1 12.6M1719.3 2475.9q11.7 -0.4 19.6 8.2M1754.1 2636.8q3 -4.7 2 -10.2M1609.7 2467.7q0.4 5.8 -3.5 10.2M1769.1 2604.4q3 -3.1 6.3 -5.9M1769.2 2520.4q3.2 2.7 6.8 4.8M1690.8 2498.7q5 1.8 10 0.4M1826.1 2626.1q3.7 2.9 5.6 7.1M1840.7 2534.1q-11.6 -0.5 -20 7.6M1658.4 2532q6.5 6.7 7.8 16M1631.8 2471.5q-1.2 9 1.5 17.6M1867.1 2447.1q-2.7 10.3 -8.6 19.1M1741.8 2634q4.7 -6.9 10.3 -13.2M1733.2 2484.7q10.6 1.9 20.5 6.3M1774.2 2633.1q3.7 -9.7 8 -19.2M1679.9 2624q4.9 -8.3 14.3 -10.3M1858.3 2452.5q-2.5 3.2 -4.2 6.9M1872.8 2462.2q-3.5 9.5 -9.3 17.9M1622.5 2592.1q6.7 5.7 9.6 14.1M1672.6 2520.7q7.3 8.2 17.4 12.4M1715.1 2459.4q9.1 4.1 18.4 0.3M1705 2454.8q7.1 -8.4 18 -7.9M1688.7 2651q7.1 -5.5 13.6 -11.7M1703.4 2429.5q4 -2.2 7.6 -4.8M1692.5 2638.4q0.9 -10.1 8.2 -17.2M1647.1 2469.6q-4.8 3.4 -5.6 9.3M1703.7 2574q7.4 -1.9 14.9 -3.3M1685.9 2649.3q5.2 -3.3 9.5 -7.5M1881.8 2563.6q2.8 8.9 6.5 17.6M1834.7 2580.5q2.5 5.6 7.8 8.6" stroke="#b00818" stroke-width="0.9" opacity="0.85"/><path d="M1775 2525.9q6.5 6.2 15.4 6.9M1748 2468.7q4.9 -0.1 9.2 -2.6M1654.8 2431q-0.6 7.9 4.1 14.2M1859.9 2612q8.6 5.3 13.8 13.9M1652.2 2487.3q1 8.4 6 15.2M1633 2619.9q1.3 9.1 0.6 18.2M1713 2538.6q5.7 -1.2 10.6 1.9M1778 2503.9q3.6 2 6.5 5M1870.4 2530q-3.1 8.3 -7.3 16.2M1632.9 2554.8q2.2 4.5 0.9 9.3M1733.4 2457q6.6 -4.1 12.4 -9.3M1781.6 2626.1q4.8 -3.6 10.7 -4M1866.9 2430.3q-0.6 5.7 -5.2 9.1M1760 2424.3q10.9 -1.7 21.4 -4.9M1771.9 2552.2q5.9 -1.8 12 -0.3M1651.7 2446.2q1.7 8 8 13.3M1867.9 2459.3q0.4 6.5 -4.1 11.3M1781.3 2474.3q2.6 6.9 8.6 11.3M1606.9 2579.9q-1 4.2 -3.7 7.6M1620.8 2475.4q-4.6 7.9 -7.9 16.4M1586.5 2592.1q5.1 3.4 9.1 8.2M1815.9 2619.7q8.9 3.8 15.4 10.8M1809.1 2609.5q7.1 3.4 13 8.5M1703 2520.9q5.7 -1.4 10.8 1.5M1806.1 2547.5q1.9 9 9.3 14.7M1694 2508.6q7.5 -0.3 12.7 5.2M1819.1 2449.8q2.4 7.3 6.7 13.7M1612 2465q-1.6 4.2 -5.5 6.4M1599.8 2541.4q-8 4.7 -17.3 5.4M1768.9 2598.7q5.8 -1.3 10.5 -4.7M1871.1 2501.6q-4.9 6.1 -10.6 11.3M1603.5 2627.6q7.9 6.2 17.7 8.1M1634.9 2466q-5 4 -9.6 8.5M1708.7 2423.2q4.5 -2 8.7 -4.5M1658.2 2537q1.6 9.5 4.7 18.7M1715.7 2649.1q6.8 -5.6 9.3 -14M1871.6 2409.9q6.5 6.7 11.1 14.9M1655.6 2506.1q0 10 -3.7 19.3M1669.2 2440.9q4.2 6.1 8 12.6M1718.6 2465.2q6.5 -8.7 16.9 -11.7M1760.9 2524.9q10.8 1.7 17.3 10.4M1640.7 2610.6q10 4.8 17.2 13.2M1669.8 2596.3q5.2 -3.1 11 -1.4M1642.7 2559.9q4.1 8.7 6.3 18.1M1734.8 2623.1q-1.6 -7.6 -5.6 -14.2M1673.6 2574.6q9.1 -6.9 20.2 -3.9M1694.2 2432.4q4 1.1 7.8 2.5M1668.7 2496q8.2 5.4 11.6 14.6M1875.1 2447.3q-3.9 8.6 -13 11.1M1741.6 2605.2q-1.3 -4.3 1.1 -8.2M1787.6 2577.8q6 0.5 11.2 -2.4M1810.5 2502q-6.8 7.1 -9.6 16.6M1634.7 2578.8q2.8 5 6.1 9.6M1826.6 2459.6q-2.2 8.1 -2.3 16.4M1876.8 2615.4q-0.4 7.2 3.5 13.2M1658 2461.9q-10.3 1.3 -15.7 10.2M1628.1 2580.8q7.3 7.4 6.4 17.8M1846.4 2498q-5.6 1.3 -10.9 -0.8M1654.8 2454.7q1.1 5.8 -0.3 11.4M1868.5 2545.1q-0.9 9.4 -8.2 15.4M1606.1 2595.3q3.6 7.9 1.9 16.5M1700.5 2545.1q8 -2.3 16.3 -2.2M1782.1 2466.5q5 2.5 10 4.9M1687.2 2605.8q1.1 -8.7 8.3 -13.8M1706.1 2426.8q5.9 -10.4 17.6 -12.7M1855.2 2529.6q1.7 6 0.1 12M1604.3 2467q-6.7 7.4 -13.2 15M1660.7 2550.5q9.4 5.8 13.3 16.1M1807.9 2430.8q-0.2 7.1 3.1 13.4M1702.2 2614.4q3.4 -5.4 1.2 -11.4M1783.3 2630.4q4.6 -4.2 5.7 -10.3M1769.9 2579.5q1.8 -5.2 4.3 -10.1M1724.2 2563.6q4.7 -1 8.8 -3.7M1841.5 2623q3.6 9.8 13 14.3M1815.5 2512.7q-1.1 6.2 -1.5 12.4M1749.1 2610.7q2.3 -5.4 6.4 -9.7M1609.6 2538.6q-2.9 7.2 -7 13.8M1793.5 2613.4q4.9 1.8 10.1 0.9M1701 2445q7.5 6.8 17 9.9M1751.1 2436.6q4.3 -7.5 12.3 -10.9M1675.1 2524.9q10.3 1.6 19 7.5M1691.8 2454.9q8 4 16.6 1.5M1798.7 2412.1q7.6 -0.4 13.2 4.8M1782.3 2483.7q0.4 5.5 0.3 11M1598.9 2466.7q-2.6 7.5 -9.3 11.7M1638.4 2501.4q-5.4 4.5 -12.4 5.3M1705.2 2459.9q4.4 0.1 8.2 2.4M1832.9 2528q-6 3.4 -12.5 5.6M1853 2542.3q-2.3 5.3 -1.5 11M1580.2 2522.6q3 8.5 4.3 17.4M1658.5 2606.4q7.4 -1.3 12.8 -6.5M1671.3 2494.2q-3.9 10.3 -1.6 21M1680.3 2478.5q3.9 2.9 8.6 2.2M1672.7 2421.1q9.1 -0.7 17.9 1.8M1768.1 2462.2q6.3 5.3 13.4 9.4M1665.2 2536.4q4.8 6.6 9.9 12.9M1767.6 2651.9q5.9 -8.9 15.5 -13.6M1640.3 2502.5q-6.2 9.6 -5 20.9M1656.1 2506.4q-3 6.8 -3.5 14.2M1759.4 2608.6q6.9 -8.2 12.9 -17M1597.7 2617.6q4.9 8.9 14.9 10.9M1666.8 2476.6q1.2 7.7 1.8 15.5M1809 2460.7q4 8.5 1 17.3M1596.6 2407.2q-8.3 7.5 -8.8 18.7M1872.5 2499.4q-8.6 -1.6 -15.6 3.7M1780.6 2498.4q0.5 5.2 4.3 8.9M1641.4 2424.1q1.3 6.5 4.7 12.2M1624.8 2475.7q-3.1 3.7 -5.8 7.8M1641.9 2537.9q3.3 7.7 4.5 15.9M1720.9 2461.7q7.1 -4.2 10.3 -11.9M1735.4 2597.6q2.4 -7.3 5.6 -14.3M1609.5 2593.1q4.7 5.6 8.5 11.9M1860.8 2520.8q-0.8 6.5 -5.2 11.3M1613.8 2597.5q7.8 7.9 7 19M1699.9 2547.1q7.2 3.2 14.7 0.6M1841.8 2628.2q6.8 4.1 14.8 4.8M1623.3 2629.6q5.7 4.3 12.7 5.9M1615.3 2572q2 6.2 5.4 11.7M1825.6 2542.7q-5.7 5.1 -6.8 12.8M1821.7 2485.6q-2.8 7.9 -10.3 11.7M1771.1 2551.3q7 -4 15.1 -3.3M1643.7 2567.2q-3.8 8 -5.1 16.8M1754.9 2447.3q10.3 0.7 20.7 1.5M1733.1 2604.2q2.3 -9.6 5.6 -19M1752.8 2444.5q5.4 1.3 10.5 -1M1819.3 2510.6q-3.7 10.3 -9.9 19.3M1591.6 2414.6q4.3 8.8 1.9 18.3M1870.9 2561.2q3.9 9 1.5 18.5M1772.6 2421.2q9.7 1.4 17 -5M1884.1 2578.5q4.2 10.2 -1.1 20M1814.8 2451.2q-1.6 5.1 -4.1 9.9M1598.2 2614.6q5.7 4 8.6 10.3M1705.4 2468.9q7.4 3.3 15.2 5.4M1709.6 2428.2q3.6 -3.4 7.8 -6M1855 2543.8q-2.7 4.1 -2.2 9.1M1602.8 2637.2q7.5 8 17.6 12.4M1854 2503q-6.5 2.3 -13 -0.1M1615.6 2415.8q4.4 7.4 2.1 15.7M1639.8 2602q10.3 0.9 16.3 9.3M1864.8 2470.6q-0.9 4.6 -4.9 7.1M1588.9 2451.3q-8.4 3.6 -12.7 11.6M1610.7 2603.1q2.9 5.7 7.7 10M1586.5 2421.9q-0.6 5.7 -1.4 11.3M1742.7 2499.8q2.8 3.3 7.1 3.8" stroke="#e81424" stroke-width="1.2" opacity="0.9"/><path d="M1732.9 2483.5q9.6 1.2 19.2 1.9M1610.4 2467.6q-8.2 5.7 -18 7.1M1601.2 2408.9q-1.7 8.2 3.6 14.7M1613.3 2447.6q3 10.8 0.7 21.8M1681.4 2451.1q10.5 2.1 17.8 10M1814.1 2494q1.2 7.3 -0.9 14.3M1727.8 2449.5q5.6 -3.6 11.7 -6.2M1736.1 2471.7q8.2 8.4 19.8 6.9M1761.2 2592.8q-3.3 -9.8 -1.8 -20M1874.5 2599.4q6.4 8.5 16.6 11.7M1825.5 2421.9q6.5 5.9 6.2 14.6M1726.7 2428.9q4.7 -2 8.8 -4.9M1613.5 2549.2q-5 8.5 -10.1 17M1622.1 2519.5q-6.2 0.1 -11.5 3.2M1798.2 2462q-0.3 6.1 3.5 10.9M1776.9 2626.7q6.1 -3.2 12 -6.7M1835.6 2635.7q5.1 5.7 12.5 7.8M1685 2545.7q9.2 0.4 14.9 7.7M1637.2 2524.3q-6.2 3.3 -9 9.9M1774.8 2424.7q8.1 0.4 15.7 -2.3M1835.1 2450.7q-4.1 8.8 -13 12.6M1738.8 2536.2q7.8 -8.4 18.9 -11.1M1703.9 2500.4q4.2 2 7.1 5.6M1769.2 2617.9q5.4 1.3 10 -1.7M1753.6 2448.1q4.5 -1.5 8.9 -3M1746.4 2528.1q4.2 -1.7 8.8 -1.4M1847.5 2487.3q-9.1 0 -17.6 3.5M1809.9 2516.3q3 6 5.8 12.2M1748.5 2499.9q7.4 0.2 14.7 1M1802.1 2574q4.3 2.3 8.4 5M1880.5 2443.1q-5.8 8.2 -15.6 10.2M1589.6 2533.7q-5.7 4.5 -6.1 11.7M1608.1 2452.4q-7.3 6 -14 12.7M1796.6 2507.1q5 5.8 6 13.4M1628.4 2457.2q-2.5 5.2 -2.3 11M1726.2 2580.8q10 -5.5 12.1 -16.8M1741.8 2492.5q8.9 -1.7 17.5 1.2M1670 2583.9q5.2 0.3 8.1 4.5M1637.5 2422q-2.1 5.6 -0.3 11.4M1632.5 2492.9q-3.8 9 -7.7 17.9M1697.2 2526.2q10.8 0 18.8 7.4M1785.5 2622.9q10.5 -3.5 15.5 -13.4M1784.2 2418.3q6.4 6 15 7.6M1820.9 2442.7q-0.6 11 -7.9 19.3M1797.9 2592.6q6.2 1.3 9.2 7M1818.7 2549.9q1.7 5.3 4.9 9.9M1703.1 2441.6q9.9 -4 20.6 -4.3M1800.9 2572.8q5.5 4.7 8.8 11.2M1590.9 2621.7q0.4 7.1 3.6 13.4M1806 2539.2q2.5 3.7 2.2 8.2M1783.7 2559.7q6.2 5.6 11.5 11.9M1759 2625.6q8.2 -7.3 11.6 -17.7M1760.1 2522.5q6.4 1.7 12.7 -0.4M1609.3 2503.1q-6.1 6.7 -9.8 15" stroke="#ff2838" stroke-width="1.7" opacity="0.9"/></g>
<path d="M1636.5 2553.9a6.3 6.3 0 1 0 0.1 0zM1799 2508.3a4.7 4.7 0 1 0 0.1 0zM1836.8 2623.1a5 5 0 1 0 0.1 0zM1773.1 2446.1a5 5 0 1 0 0.1 0zM1640.5 2451.1a4.5 4.5 0 1 0 0.1 0zM1870.4 2531a6.7 6.7 0 1 0 0.1 0z" fill="#ff3070" opacity="0.7" filter="url(#nblur)" style="mix-blend-mode:screen"/>
</g>
<g font-family="'Liberation Sans', Arial, sans-serif" font-size="42" fill="#000" text-anchor="middle">
<text x="521" y="1852.1">hiPSCs</text>
<text x="1431.9" y="1852.5">hiPSC-CMs</text>
<text x="224.6" y="1937">Control</text>
<text x="523.2" y="1937">3 µM</text>
<text x="819.6" y="1937">10 µM</text>
<text x="1130.6" y="1937">Controls</text>
<text x="1431.2" y="1937">1 µM</text>
<text x="1731.3" y="1937">10 µM</text>
<text transform="translate(47.7 2065) rotate(-90)">SM2</text>
<text transform="translate(48 2299.5) rotate(-90)">SM6</text>
<text transform="translate(51.4 2533.3) rotate(-90)">SM8</text>
</g>
<path d="M96.4 1889.3H947.6M1007 1889.2H1859.5" stroke="#555" stroke-width="1.7"/>
<g font-family="'Liberation Sans', Arial, sans-serif" fill="#fff" font-size="33.5">
<text x="1002" y="2149.9" textLength="128" lengthAdjust="spacingAndGlyphs">Medium</text>
<text x="1002" y="2384.3" textLength="239.5" lengthAdjust="spacingAndGlyphs">0.0125% DMSO</text>
<text x="1002" y="2610.6" textLength="200.5" lengthAdjust="spacingAndGlyphs">0.25% DMSO</text>
</g>
<path d="M849.9 2616.2H934.6" stroke="#fff" stroke-width="3.2"/>
<path d="M1768.8 2615.4H1844.4" stroke="#fff" stroke-width="2.6"/>
</svg>
</body></html>
